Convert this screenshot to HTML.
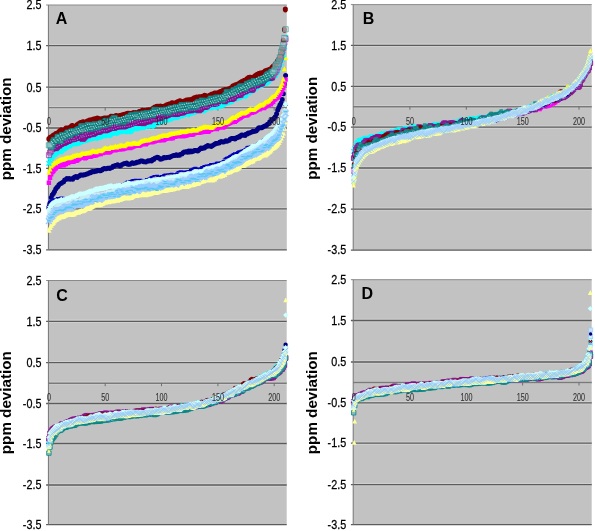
<!DOCTYPE html>
<html><head><meta charset="utf-8"><title>ppm deviation</title>
<style>
html,body{margin:0;padding:0;background:#fff}
body{width:595px;height:531px;overflow:hidden}
svg{display:block}
text{font-family:"Liberation Sans",sans-serif;fill:#000}
.yl{font-size:11.6px;stroke:#000;stroke-width:.25px}
.xl{font-size:10px;fill:#262626;stroke:#262626;stroke-width:.1px}
.pl{font-size:16px;font-weight:bold}
.yt{font-size:15.2px;font-weight:bold}
</style></head><body>
<svg width="595" height="531" viewBox="0 0 595 531">
<defs><filter id="gs" x="0" y="0" width="100%" height="100%" filterUnits="userSpaceOnUse" color-interpolation-filters="sRGB"><feColorMatrix type="saturate" values="0"/></filter><filter id="sb" x="0" y="0" width="100%" height="100%" filterUnits="userSpaceOnUse" color-interpolation-filters="sRGB"><feGaussianBlur stdDeviation="0.32"/></filter></defs>
<rect width="595" height="531" fill="#fff"/>
<g id="pA">
<rect x="48.4" y="5" width="238.4" height="244.8" fill="#c2c2c2"/>
<path d="M46.1 5H286.8" stroke="#8a8a8a" stroke-width="1"/>
<path d="M49.4 45.6H286.8M49.4 87.2H286.8M49.4 128H286.8M49.4 168.3H286.8M49.4 208.9H286.8" stroke="#cfcfcf" stroke-width="3.4"/>
<path d="M46.1 45.6H286.8M46.1 87.2H286.8M46.1 128H286.8M46.1 168.3H286.8M46.1 208.9H286.8M46.1 249.8H286.8" stroke="#5c5c5c" stroke-width="1.3"/>
<path d="M49.4 107.6H286.8" stroke="#cdcdcd" stroke-width="3.2"/>
<path d="M48.4 107.6H286.8" stroke="#7a7a7a" stroke-width="1.4"/>
<path d="M105.2 107.6v3M161.5 107.6v3M217.9 107.6v3M274.2 107.6v3" stroke="#666" stroke-width="0.9"/>
<path d="M48.4 5V249.8" stroke="#747474" stroke-width="1"/>
<g filter="url(#gs)"><text transform="translate(41.4 9.2) scale(.93 1.03)" text-anchor="end" class="yl">2.5</text>
<text transform="translate(41.4 49.9) scale(.93 1.03)" text-anchor="end" class="yl">1.5</text>
<text transform="translate(41.4 91.5) scale(.93 1.03)" text-anchor="end" class="yl">0.5</text>
<text transform="translate(41.4 132.2) scale(.93 1.03)" text-anchor="end" class="yl">-0.5</text>
<text transform="translate(41.4 172.6) scale(.93 1.03)" text-anchor="end" class="yl">-1.5</text>
<text transform="translate(41.4 213.2) scale(.93 1.03)" text-anchor="end" class="yl">-2.5</text>
<text transform="translate(41.4 254.1) scale(.93 1.03)" text-anchor="end" class="yl">-3.5</text>
<text x="55.7" y="23.9" class="pl">A</text>
<text transform="translate(11 128.9) rotate(-90)" text-anchor="middle" class="yt">ppm deviation</text></g>
<g filter="url(#sb)"><path fill="#000080" d="M46.4 207.1a2.5 2.5 0 1 0 5 0a2.5 2.5 0 1 0 -5 0zM47.5 203a2.5 2.5 0 1 0 5 0a2.5 2.5 0 1 0 -5 0zM48.7 197.6a2.5 2.5 0 1 0 5 0a2.5 2.5 0 1 0 -5 0zM49.8 194.7a2.5 2.5 0 1 0 5 0a2.5 2.5 0 1 0 -5 0zM50.9 193.6a2.5 2.5 0 1 0 5 0a2.5 2.5 0 1 0 -5 0zM52 191.6a2.5 2.5 0 1 0 5 0a2.5 2.5 0 1 0 -5 0zM53.2 188.9a2.5 2.5 0 1 0 5 0a2.5 2.5 0 1 0 -5 0zM54.3 187.4a2.5 2.5 0 1 0 5 0a2.5 2.5 0 1 0 -5 0zM55.4 186.5a2.5 2.5 0 1 0 5 0a2.5 2.5 0 1 0 -5 0zM56.5 184.8a2.5 2.5 0 1 0 5 0a2.5 2.5 0 1 0 -5 0zM57.7 183.8a2.5 2.5 0 1 0 5 0a2.5 2.5 0 1 0 -5 0zM58.8 183.3a2.5 2.5 0 1 0 5 0a2.5 2.5 0 1 0 -5 0zM59.9 182.5a2.5 2.5 0 1 0 5 0a2.5 2.5 0 1 0 -5 0zM61.1 181.7a2.5 2.5 0 1 0 5 0a2.5 2.5 0 1 0 -5 0zM62.2 180a2.5 2.5 0 1 0 5 0a2.5 2.5 0 1 0 -5 0zM63.3 179.6a2.5 2.5 0 1 0 5 0a2.5 2.5 0 1 0 -5 0zM64.4 178.6a2.5 2.5 0 1 0 5 0a2.5 2.5 0 1 0 -5 0zM65.6 179a2.5 2.5 0 1 0 5 0a2.5 2.5 0 1 0 -5 0zM66.7 178.6a2.5 2.5 0 1 0 5 0a2.5 2.5 0 1 0 -5 0zM67.8 179.3a2.5 2.5 0 1 0 5 0a2.5 2.5 0 1 0 -5 0zM68.9 179.1a2.5 2.5 0 1 0 5 0a2.5 2.5 0 1 0 -5 0zM70.1 179.3a2.5 2.5 0 1 0 5 0a2.5 2.5 0 1 0 -5 0zM71.2 177.7a2.5 2.5 0 1 0 5 0a2.5 2.5 0 1 0 -5 0zM72.3 177a2.5 2.5 0 1 0 5 0a2.5 2.5 0 1 0 -5 0zM73.4 176.6a2.5 2.5 0 1 0 5 0a2.5 2.5 0 1 0 -5 0zM74.6 177.4a2.5 2.5 0 1 0 5 0a2.5 2.5 0 1 0 -5 0zM75.7 176.6a2.5 2.5 0 1 0 5 0a2.5 2.5 0 1 0 -5 0zM76.8 175.9a2.5 2.5 0 1 0 5 0a2.5 2.5 0 1 0 -5 0zM78 175a2.5 2.5 0 1 0 5 0a2.5 2.5 0 1 0 -5 0zM79.1 174.9a2.5 2.5 0 1 0 5 0a2.5 2.5 0 1 0 -5 0zM80.2 175.2a2.5 2.5 0 1 0 5 0a2.5 2.5 0 1 0 -5 0zM81.3 174.8a2.5 2.5 0 1 0 5 0a2.5 2.5 0 1 0 -5 0zM82.5 174.7a2.5 2.5 0 1 0 5 0a2.5 2.5 0 1 0 -5 0zM83.6 174.2a2.5 2.5 0 1 0 5 0a2.5 2.5 0 1 0 -5 0zM84.7 173.9a2.5 2.5 0 1 0 5 0a2.5 2.5 0 1 0 -5 0zM85.8 173.5a2.5 2.5 0 1 0 5 0a2.5 2.5 0 1 0 -5 0zM87 172.7a2.5 2.5 0 1 0 5 0a2.5 2.5 0 1 0 -5 0zM88.1 172.7a2.5 2.5 0 1 0 5 0a2.5 2.5 0 1 0 -5 0zM89.2 171.8a2.5 2.5 0 1 0 5 0a2.5 2.5 0 1 0 -5 0zM90.4 171.4a2.5 2.5 0 1 0 5 0a2.5 2.5 0 1 0 -5 0zM91.5 171.7a2.5 2.5 0 1 0 5 0a2.5 2.5 0 1 0 -5 0zM92.6 171.2a2.5 2.5 0 1 0 5 0a2.5 2.5 0 1 0 -5 0zM93.7 171.3a2.5 2.5 0 1 0 5 0a2.5 2.5 0 1 0 -5 0zM94.9 170.4a2.5 2.5 0 1 0 5 0a2.5 2.5 0 1 0 -5 0zM96 170.5a2.5 2.5 0 1 0 5 0a2.5 2.5 0 1 0 -5 0zM97.1 170.7a2.5 2.5 0 1 0 5 0a2.5 2.5 0 1 0 -5 0zM98.2 170.7a2.5 2.5 0 1 0 5 0a2.5 2.5 0 1 0 -5 0zM99.4 170.1a2.5 2.5 0 1 0 5 0a2.5 2.5 0 1 0 -5 0zM100.5 169a2.5 2.5 0 1 0 5 0a2.5 2.5 0 1 0 -5 0zM101.6 168.6a2.5 2.5 0 1 0 5 0a2.5 2.5 0 1 0 -5 0zM102.8 168.8a2.5 2.5 0 1 0 5 0a2.5 2.5 0 1 0 -5 0zM103.9 168.8a2.5 2.5 0 1 0 5 0a2.5 2.5 0 1 0 -5 0zM105 168.2a2.5 2.5 0 1 0 5 0a2.5 2.5 0 1 0 -5 0zM106.1 168.3a2.5 2.5 0 1 0 5 0a2.5 2.5 0 1 0 -5 0zM107.3 168.4a2.5 2.5 0 1 0 5 0a2.5 2.5 0 1 0 -5 0zM108.4 167.8a2.5 2.5 0 1 0 5 0a2.5 2.5 0 1 0 -5 0zM109.5 167.4a2.5 2.5 0 1 0 5 0a2.5 2.5 0 1 0 -5 0zM110.6 166.2a2.5 2.5 0 1 0 5 0a2.5 2.5 0 1 0 -5 0zM111.8 166.3a2.5 2.5 0 1 0 5 0a2.5 2.5 0 1 0 -5 0zM112.9 165.5a2.5 2.5 0 1 0 5 0a2.5 2.5 0 1 0 -5 0zM114 165.2a2.5 2.5 0 1 0 5 0a2.5 2.5 0 1 0 -5 0zM115.1 164.8a2.5 2.5 0 1 0 5 0a2.5 2.5 0 1 0 -5 0zM116.3 165.5a2.5 2.5 0 1 0 5 0a2.5 2.5 0 1 0 -5 0zM117.4 166.1a2.5 2.5 0 1 0 5 0a2.5 2.5 0 1 0 -5 0zM118.5 165.4a2.5 2.5 0 1 0 5 0a2.5 2.5 0 1 0 -5 0zM119.7 164.4a2.5 2.5 0 1 0 5 0a2.5 2.5 0 1 0 -5 0zM120.8 163.9a2.5 2.5 0 1 0 5 0a2.5 2.5 0 1 0 -5 0zM121.9 163.5a2.5 2.5 0 1 0 5 0a2.5 2.5 0 1 0 -5 0zM123 163.4a2.5 2.5 0 1 0 5 0a2.5 2.5 0 1 0 -5 0zM124.2 162.9a2.5 2.5 0 1 0 5 0a2.5 2.5 0 1 0 -5 0zM125.3 164.2a2.5 2.5 0 1 0 5 0a2.5 2.5 0 1 0 -5 0zM126.4 164.6a2.5 2.5 0 1 0 5 0a2.5 2.5 0 1 0 -5 0zM127.5 164.3a2.5 2.5 0 1 0 5 0a2.5 2.5 0 1 0 -5 0zM128.7 163.4a2.5 2.5 0 1 0 5 0a2.5 2.5 0 1 0 -5 0zM129.8 162.8a2.5 2.5 0 1 0 5 0a2.5 2.5 0 1 0 -5 0zM130.9 163.5a2.5 2.5 0 1 0 5 0a2.5 2.5 0 1 0 -5 0zM132.1 163.2a2.5 2.5 0 1 0 5 0a2.5 2.5 0 1 0 -5 0zM133.2 163a2.5 2.5 0 1 0 5 0a2.5 2.5 0 1 0 -5 0zM134.3 162.3a2.5 2.5 0 1 0 5 0a2.5 2.5 0 1 0 -5 0zM135.4 162.3a2.5 2.5 0 1 0 5 0a2.5 2.5 0 1 0 -5 0zM136.6 162.1a2.5 2.5 0 1 0 5 0a2.5 2.5 0 1 0 -5 0zM137.7 161.3a2.5 2.5 0 1 0 5 0a2.5 2.5 0 1 0 -5 0zM138.8 161.1a2.5 2.5 0 1 0 5 0a2.5 2.5 0 1 0 -5 0zM139.9 160.9a2.5 2.5 0 1 0 5 0a2.5 2.5 0 1 0 -5 0zM141.1 161.7a2.5 2.5 0 1 0 5 0a2.5 2.5 0 1 0 -5 0zM142.2 161.8a2.5 2.5 0 1 0 5 0a2.5 2.5 0 1 0 -5 0zM143.3 161.9a2.5 2.5 0 1 0 5 0a2.5 2.5 0 1 0 -5 0zM144.4 161.4a2.5 2.5 0 1 0 5 0a2.5 2.5 0 1 0 -5 0zM145.6 160.8a2.5 2.5 0 1 0 5 0a2.5 2.5 0 1 0 -5 0zM146.7 161.1a2.5 2.5 0 1 0 5 0a2.5 2.5 0 1 0 -5 0zM147.8 160.6a2.5 2.5 0 1 0 5 0a2.5 2.5 0 1 0 -5 0zM149 160.9a2.5 2.5 0 1 0 5 0a2.5 2.5 0 1 0 -5 0zM150.1 159.6a2.5 2.5 0 1 0 5 0a2.5 2.5 0 1 0 -5 0zM151.2 159.6a2.5 2.5 0 1 0 5 0a2.5 2.5 0 1 0 -5 0zM152.3 158.3a2.5 2.5 0 1 0 5 0a2.5 2.5 0 1 0 -5 0zM153.5 157.8a2.5 2.5 0 1 0 5 0a2.5 2.5 0 1 0 -5 0zM154.6 157.3a2.5 2.5 0 1 0 5 0a2.5 2.5 0 1 0 -5 0zM155.7 157.5a2.5 2.5 0 1 0 5 0a2.5 2.5 0 1 0 -5 0zM156.8 158.3a2.5 2.5 0 1 0 5 0a2.5 2.5 0 1 0 -5 0zM158 159.3a2.5 2.5 0 1 0 5 0a2.5 2.5 0 1 0 -5 0zM159.1 159.1a2.5 2.5 0 1 0 5 0a2.5 2.5 0 1 0 -5 0zM160.2 158.6a2.5 2.5 0 1 0 5 0a2.5 2.5 0 1 0 -5 0zM161.4 157.4a2.5 2.5 0 1 0 5 0a2.5 2.5 0 1 0 -5 0zM162.5 157.8a2.5 2.5 0 1 0 5 0a2.5 2.5 0 1 0 -5 0zM163.6 157.8a2.5 2.5 0 1 0 5 0a2.5 2.5 0 1 0 -5 0zM164.7 157.4a2.5 2.5 0 1 0 5 0a2.5 2.5 0 1 0 -5 0zM165.9 157.3a2.5 2.5 0 1 0 5 0a2.5 2.5 0 1 0 -5 0zM167 157.4a2.5 2.5 0 1 0 5 0a2.5 2.5 0 1 0 -5 0zM168.1 156.8a2.5 2.5 0 1 0 5 0a2.5 2.5 0 1 0 -5 0zM169.2 156.2a2.5 2.5 0 1 0 5 0a2.5 2.5 0 1 0 -5 0zM170.4 155.7a2.5 2.5 0 1 0 5 0a2.5 2.5 0 1 0 -5 0zM171.5 155.5a2.5 2.5 0 1 0 5 0a2.5 2.5 0 1 0 -5 0zM172.6 155.4a2.5 2.5 0 1 0 5 0a2.5 2.5 0 1 0 -5 0zM173.8 154.8a2.5 2.5 0 1 0 5 0a2.5 2.5 0 1 0 -5 0zM174.9 155.4a2.5 2.5 0 1 0 5 0a2.5 2.5 0 1 0 -5 0zM176 155.1a2.5 2.5 0 1 0 5 0a2.5 2.5 0 1 0 -5 0zM177.1 155.3a2.5 2.5 0 1 0 5 0a2.5 2.5 0 1 0 -5 0zM178.3 154.3a2.5 2.5 0 1 0 5 0a2.5 2.5 0 1 0 -5 0zM179.4 153.9a2.5 2.5 0 1 0 5 0a2.5 2.5 0 1 0 -5 0zM180.5 152.7a2.5 2.5 0 1 0 5 0a2.5 2.5 0 1 0 -5 0zM181.6 152.1a2.5 2.5 0 1 0 5 0a2.5 2.5 0 1 0 -5 0zM182.8 152a2.5 2.5 0 1 0 5 0a2.5 2.5 0 1 0 -5 0zM183.9 151.7a2.5 2.5 0 1 0 5 0a2.5 2.5 0 1 0 -5 0zM185 152.3a2.5 2.5 0 1 0 5 0a2.5 2.5 0 1 0 -5 0zM186.1 151a2.5 2.5 0 1 0 5 0a2.5 2.5 0 1 0 -5 0zM187.3 152a2.5 2.5 0 1 0 5 0a2.5 2.5 0 1 0 -5 0zM188.4 150.9a2.5 2.5 0 1 0 5 0a2.5 2.5 0 1 0 -5 0zM189.5 151.8a2.5 2.5 0 1 0 5 0a2.5 2.5 0 1 0 -5 0zM190.7 151.2a2.5 2.5 0 1 0 5 0a2.5 2.5 0 1 0 -5 0zM191.8 150.5a2.5 2.5 0 1 0 5 0a2.5 2.5 0 1 0 -5 0zM192.9 150.4a2.5 2.5 0 1 0 5 0a2.5 2.5 0 1 0 -5 0zM194 150.7a2.5 2.5 0 1 0 5 0a2.5 2.5 0 1 0 -5 0zM195.2 151a2.5 2.5 0 1 0 5 0a2.5 2.5 0 1 0 -5 0zM196.3 150a2.5 2.5 0 1 0 5 0a2.5 2.5 0 1 0 -5 0zM197.4 148.9a2.5 2.5 0 1 0 5 0a2.5 2.5 0 1 0 -5 0zM198.5 148.1a2.5 2.5 0 1 0 5 0a2.5 2.5 0 1 0 -5 0zM199.7 148.4a2.5 2.5 0 1 0 5 0a2.5 2.5 0 1 0 -5 0zM200.8 147.9a2.5 2.5 0 1 0 5 0a2.5 2.5 0 1 0 -5 0zM201.9 148a2.5 2.5 0 1 0 5 0a2.5 2.5 0 1 0 -5 0zM203.1 146.8a2.5 2.5 0 1 0 5 0a2.5 2.5 0 1 0 -5 0zM204.2 146.4a2.5 2.5 0 1 0 5 0a2.5 2.5 0 1 0 -5 0zM205.3 145.5a2.5 2.5 0 1 0 5 0a2.5 2.5 0 1 0 -5 0zM206.4 146.1a2.5 2.5 0 1 0 5 0a2.5 2.5 0 1 0 -5 0zM207.6 145.9a2.5 2.5 0 1 0 5 0a2.5 2.5 0 1 0 -5 0zM208.7 146.6a2.5 2.5 0 1 0 5 0a2.5 2.5 0 1 0 -5 0zM209.8 145.7a2.5 2.5 0 1 0 5 0a2.5 2.5 0 1 0 -5 0zM210.9 145.1a2.5 2.5 0 1 0 5 0a2.5 2.5 0 1 0 -5 0zM212.1 144.2a2.5 2.5 0 1 0 5 0a2.5 2.5 0 1 0 -5 0zM213.2 143.6a2.5 2.5 0 1 0 5 0a2.5 2.5 0 1 0 -5 0zM214.3 143.5a2.5 2.5 0 1 0 5 0a2.5 2.5 0 1 0 -5 0zM215.5 143.2a2.5 2.5 0 1 0 5 0a2.5 2.5 0 1 0 -5 0zM216.6 143a2.5 2.5 0 1 0 5 0a2.5 2.5 0 1 0 -5 0zM217.7 142a2.5 2.5 0 1 0 5 0a2.5 2.5 0 1 0 -5 0zM218.8 141.5a2.5 2.5 0 1 0 5 0a2.5 2.5 0 1 0 -5 0zM220 142a2.5 2.5 0 1 0 5 0a2.5 2.5 0 1 0 -5 0zM221.1 142a2.5 2.5 0 1 0 5 0a2.5 2.5 0 1 0 -5 0zM222.2 141.6a2.5 2.5 0 1 0 5 0a2.5 2.5 0 1 0 -5 0zM223.3 140.7a2.5 2.5 0 1 0 5 0a2.5 2.5 0 1 0 -5 0zM224.5 141.3a2.5 2.5 0 1 0 5 0a2.5 2.5 0 1 0 -5 0zM225.6 140.8a2.5 2.5 0 1 0 5 0a2.5 2.5 0 1 0 -5 0zM226.7 140.2a2.5 2.5 0 1 0 5 0a2.5 2.5 0 1 0 -5 0zM227.8 138.9a2.5 2.5 0 1 0 5 0a2.5 2.5 0 1 0 -5 0zM229 138.4a2.5 2.5 0 1 0 5 0a2.5 2.5 0 1 0 -5 0zM230.1 138.5a2.5 2.5 0 1 0 5 0a2.5 2.5 0 1 0 -5 0zM231.2 138.4a2.5 2.5 0 1 0 5 0a2.5 2.5 0 1 0 -5 0zM232.4 138.9a2.5 2.5 0 1 0 5 0a2.5 2.5 0 1 0 -5 0zM233.5 137.9a2.5 2.5 0 1 0 5 0a2.5 2.5 0 1 0 -5 0zM234.6 137.7a2.5 2.5 0 1 0 5 0a2.5 2.5 0 1 0 -5 0zM235.7 137a2.5 2.5 0 1 0 5 0a2.5 2.5 0 1 0 -5 0zM236.9 136.9a2.5 2.5 0 1 0 5 0a2.5 2.5 0 1 0 -5 0zM238 135.8a2.5 2.5 0 1 0 5 0a2.5 2.5 0 1 0 -5 0zM239.1 135.1a2.5 2.5 0 1 0 5 0a2.5 2.5 0 1 0 -5 0zM240.2 135.3a2.5 2.5 0 1 0 5 0a2.5 2.5 0 1 0 -5 0zM241.4 135.2a2.5 2.5 0 1 0 5 0a2.5 2.5 0 1 0 -5 0zM242.5 135.4a2.5 2.5 0 1 0 5 0a2.5 2.5 0 1 0 -5 0zM243.6 134.3a2.5 2.5 0 1 0 5 0a2.5 2.5 0 1 0 -5 0zM244.8 133.9a2.5 2.5 0 1 0 5 0a2.5 2.5 0 1 0 -5 0zM245.9 133.1a2.5 2.5 0 1 0 5 0a2.5 2.5 0 1 0 -5 0zM247 132.9a2.5 2.5 0 1 0 5 0a2.5 2.5 0 1 0 -5 0zM248.1 132.5a2.5 2.5 0 1 0 5 0a2.5 2.5 0 1 0 -5 0zM249.3 132.1a2.5 2.5 0 1 0 5 0a2.5 2.5 0 1 0 -5 0zM250.4 131.3a2.5 2.5 0 1 0 5 0a2.5 2.5 0 1 0 -5 0zM251.5 131.5a2.5 2.5 0 1 0 5 0a2.5 2.5 0 1 0 -5 0zM252.6 131.3a2.5 2.5 0 1 0 5 0a2.5 2.5 0 1 0 -5 0zM253.8 131a2.5 2.5 0 1 0 5 0a2.5 2.5 0 1 0 -5 0zM254.9 129.6a2.5 2.5 0 1 0 5 0a2.5 2.5 0 1 0 -5 0zM256 128.1a2.5 2.5 0 1 0 5 0a2.5 2.5 0 1 0 -5 0zM257.1 127.7a2.5 2.5 0 1 0 5 0a2.5 2.5 0 1 0 -5 0zM258.3 127.8a2.5 2.5 0 1 0 5 0a2.5 2.5 0 1 0 -5 0zM259.4 127.8a2.5 2.5 0 1 0 5 0a2.5 2.5 0 1 0 -5 0zM260.5 127a2.5 2.5 0 1 0 5 0a2.5 2.5 0 1 0 -5 0zM261.7 126.3a2.5 2.5 0 1 0 5 0a2.5 2.5 0 1 0 -5 0zM262.8 126.1a2.5 2.5 0 1 0 5 0a2.5 2.5 0 1 0 -5 0zM263.9 125.6a2.5 2.5 0 1 0 5 0a2.5 2.5 0 1 0 -5 0zM265 124.2a2.5 2.5 0 1 0 5 0a2.5 2.5 0 1 0 -5 0zM266.2 123.7a2.5 2.5 0 1 0 5 0a2.5 2.5 0 1 0 -5 0zM267.3 121.8a2.5 2.5 0 1 0 5 0a2.5 2.5 0 1 0 -5 0zM268.4 121.3a2.5 2.5 0 1 0 5 0a2.5 2.5 0 1 0 -5 0zM269.5 119.6a2.5 2.5 0 1 0 5 0a2.5 2.5 0 1 0 -5 0zM270.7 119.1a2.5 2.5 0 1 0 5 0a2.5 2.5 0 1 0 -5 0zM271.8 117.9a2.5 2.5 0 1 0 5 0a2.5 2.5 0 1 0 -5 0zM272.9 116.6a2.5 2.5 0 1 0 5 0a2.5 2.5 0 1 0 -5 0zM274.1 113.7a2.5 2.5 0 1 0 5 0a2.5 2.5 0 1 0 -5 0zM275.2 109.9a2.5 2.5 0 1 0 5 0a2.5 2.5 0 1 0 -5 0zM276.3 107.4a2.5 2.5 0 1 0 5 0a2.5 2.5 0 1 0 -5 0zM277.4 105a2.5 2.5 0 1 0 5 0a2.5 2.5 0 1 0 -5 0zM278.6 103a2.5 2.5 0 1 0 5 0a2.5 2.5 0 1 0 -5 0zM279.7 99.5a2.5 2.5 0 1 0 5 0a2.5 2.5 0 1 0 -5 0zM280.8 93.7a2.5 2.5 0 1 0 5 0a2.5 2.5 0 1 0 -5 0zM281.9 84.1a2.5 2.5 0 1 0 5 0a2.5 2.5 0 1 0 -5 0zM283.1 75.5a2.5 2.5 0 1 0 5 0a2.5 2.5 0 1 0 -5 0z"/>
<path fill="#ff00ff" d="M46.7 180.5h4.4v4.4h-4.4zM47.8 175.6h4.4v4.4h-4.4zM49 172h4.4v4.4h-4.4zM50.1 169.8h4.4v4.4h-4.4zM51.2 168.9h4.4v4.4h-4.4zM52.3 167.2h4.4v4.4h-4.4zM53.5 166.1h4.4v4.4h-4.4zM54.6 164.8h4.4v4.4h-4.4zM55.7 164.1h4.4v4.4h-4.4zM56.8 163.8h4.4v4.4h-4.4zM58 163.3h4.4v4.4h-4.4zM59.1 163.1h4.4v4.4h-4.4zM60.2 162.7h4.4v4.4h-4.4zM61.4 163.1h4.4v4.4h-4.4zM62.5 162.1h4.4v4.4h-4.4zM63.6 161.9h4.4v4.4h-4.4zM64.7 160.9h4.4v4.4h-4.4zM65.9 160.9h4.4v4.4h-4.4zM67 159.9h4.4v4.4h-4.4zM68.1 159.5h4.4v4.4h-4.4zM69.2 159.4h4.4v4.4h-4.4zM70.4 159.5h4.4v4.4h-4.4zM71.5 159.3h4.4v4.4h-4.4zM72.6 158.7h4.4v4.4h-4.4zM73.7 158.7h4.4v4.4h-4.4zM74.9 158.3h4.4v4.4h-4.4zM76 157.4h4.4v4.4h-4.4zM77.1 156.5h4.4v4.4h-4.4zM78.3 155.6h4.4v4.4h-4.4zM79.4 154.9h4.4v4.4h-4.4zM80.5 154.7h4.4v4.4h-4.4zM81.6 155.3h4.4v4.4h-4.4zM82.8 156h4.4v4.4h-4.4zM83.9 155.5h4.4v4.4h-4.4zM85 154.5h4.4v4.4h-4.4zM86.1 154.5h4.4v4.4h-4.4zM87.3 154.6h4.4v4.4h-4.4zM88.4 154.6h4.4v4.4h-4.4zM89.5 153.9h4.4v4.4h-4.4zM90.7 153.6h4.4v4.4h-4.4zM91.8 153.5h4.4v4.4h-4.4zM92.9 153.4h4.4v4.4h-4.4zM94 153.1h4.4v4.4h-4.4zM95.2 152.3h4.4v4.4h-4.4zM96.3 152h4.4v4.4h-4.4zM97.4 151.4h4.4v4.4h-4.4zM98.5 151.8h4.4v4.4h-4.4zM99.7 150.9h4.4v4.4h-4.4zM100.8 150.8h4.4v4.4h-4.4zM101.9 150.2h4.4v4.4h-4.4zM103 149.9h4.4v4.4h-4.4zM104.2 150.2h4.4v4.4h-4.4zM105.3 150.4h4.4v4.4h-4.4zM106.4 150.4h4.4v4.4h-4.4zM107.6 149.8h4.4v4.4h-4.4zM108.7 149.2h4.4v4.4h-4.4zM109.8 148.3h4.4v4.4h-4.4zM110.9 147.9h4.4v4.4h-4.4zM112.1 147.5h4.4v4.4h-4.4zM113.2 148.1h4.4v4.4h-4.4zM114.3 147.5h4.4v4.4h-4.4zM115.4 147.1h4.4v4.4h-4.4zM116.6 146.8h4.4v4.4h-4.4zM117.7 147.3h4.4v4.4h-4.4zM118.8 147.2h4.4v4.4h-4.4zM120 147h4.4v4.4h-4.4zM121.1 146.9h4.4v4.4h-4.4zM122.2 146.4h4.4v4.4h-4.4zM123.3 146h4.4v4.4h-4.4zM124.5 144.8h4.4v4.4h-4.4zM125.6 145.2h4.4v4.4h-4.4zM126.7 145.3h4.4v4.4h-4.4zM127.8 145.9h4.4v4.4h-4.4zM129 145.4h4.4v4.4h-4.4zM130.1 144.9h4.4v4.4h-4.4zM131.2 144.4h4.4v4.4h-4.4zM132.4 143.9h4.4v4.4h-4.4zM133.5 143.6h4.4v4.4h-4.4zM134.6 143.3h4.4v4.4h-4.4zM135.7 143.5h4.4v4.4h-4.4zM136.9 143.5h4.4v4.4h-4.4zM138 143.2h4.4v4.4h-4.4zM139.1 142.3h4.4v4.4h-4.4zM140.2 141.7h4.4v4.4h-4.4zM141.4 142h4.4v4.4h-4.4zM142.5 142h4.4v4.4h-4.4zM143.6 142h4.4v4.4h-4.4zM144.7 141.2h4.4v4.4h-4.4zM145.9 140.4h4.4v4.4h-4.4zM147 140.1h4.4v4.4h-4.4zM148.1 140.2h4.4v4.4h-4.4zM149.3 140.2h4.4v4.4h-4.4zM150.4 139.9h4.4v4.4h-4.4zM151.5 139.3h4.4v4.4h-4.4zM152.6 139.2h4.4v4.4h-4.4zM153.8 138.6h4.4v4.4h-4.4zM154.9 138.3h4.4v4.4h-4.4zM156 137.8h4.4v4.4h-4.4zM157.1 138.3h4.4v4.4h-4.4zM158.3 137.8h4.4v4.4h-4.4zM159.4 138h4.4v4.4h-4.4zM160.5 138h4.4v4.4h-4.4zM161.7 137.8h4.4v4.4h-4.4zM162.8 137.2h4.4v4.4h-4.4zM163.9 136.6h4.4v4.4h-4.4zM165 136.4h4.4v4.4h-4.4zM166.2 136.1h4.4v4.4h-4.4zM167.3 135.9h4.4v4.4h-4.4zM168.4 136.3h4.4v4.4h-4.4zM169.5 136.2h4.4v4.4h-4.4zM170.7 135.8h4.4v4.4h-4.4zM171.8 134.6h4.4v4.4h-4.4zM172.9 134.6h4.4v4.4h-4.4zM174.1 134h4.4v4.4h-4.4zM175.2 133.8h4.4v4.4h-4.4zM176.3 133.8h4.4v4.4h-4.4zM177.4 133.7h4.4v4.4h-4.4zM178.6 134.2h4.4v4.4h-4.4zM179.7 134h4.4v4.4h-4.4zM180.8 134.2h4.4v4.4h-4.4zM181.9 133.8h4.4v4.4h-4.4zM183.1 133.7h4.4v4.4h-4.4zM184.2 133.4h4.4v4.4h-4.4zM185.3 132.8h4.4v4.4h-4.4zM186.4 131.7h4.4v4.4h-4.4zM187.6 131.5h4.4v4.4h-4.4zM188.7 132h4.4v4.4h-4.4zM189.8 132.5h4.4v4.4h-4.4zM191 132h4.4v4.4h-4.4zM192.1 131.1h4.4v4.4h-4.4zM193.2 130.4h4.4v4.4h-4.4zM194.3 130.6h4.4v4.4h-4.4zM195.5 130.6h4.4v4.4h-4.4zM196.6 130.6h4.4v4.4h-4.4zM197.7 130.4h4.4v4.4h-4.4zM198.8 130.2h4.4v4.4h-4.4zM200 129.9h4.4v4.4h-4.4zM201.1 129.6h4.4v4.4h-4.4zM202.2 129.5h4.4v4.4h-4.4zM203.4 129.4h4.4v4.4h-4.4zM204.5 129.7h4.4v4.4h-4.4zM205.6 129.6h4.4v4.4h-4.4zM206.7 129.2h4.4v4.4h-4.4zM207.9 127.9h4.4v4.4h-4.4zM209 127.6h4.4v4.4h-4.4zM210.1 126.7h4.4v4.4h-4.4zM211.2 126.5h4.4v4.4h-4.4zM212.4 126.4h4.4v4.4h-4.4zM213.5 126.9h4.4v4.4h-4.4zM214.6 126.9h4.4v4.4h-4.4zM215.8 125.9h4.4v4.4h-4.4zM216.9 125.2h4.4v4.4h-4.4zM218 124.7h4.4v4.4h-4.4zM219.1 125h4.4v4.4h-4.4zM220.3 125.4h4.4v4.4h-4.4zM221.4 125.2h4.4v4.4h-4.4zM222.5 124.2h4.4v4.4h-4.4zM223.6 122.7h4.4v4.4h-4.4zM224.8 122.1h4.4v4.4h-4.4zM225.9 121.7h4.4v4.4h-4.4zM227 121.1h4.4v4.4h-4.4zM228.1 120.6h4.4v4.4h-4.4zM229.3 119.7h4.4v4.4h-4.4zM230.4 119.8h4.4v4.4h-4.4zM231.5 119.5h4.4v4.4h-4.4zM232.7 119.5h4.4v4.4h-4.4zM233.8 118.5h4.4v4.4h-4.4zM234.9 117.7h4.4v4.4h-4.4zM236 116.8h4.4v4.4h-4.4zM237.2 116.2h4.4v4.4h-4.4zM238.3 115.5h4.4v4.4h-4.4zM239.4 114.6h4.4v4.4h-4.4zM240.5 113.8h4.4v4.4h-4.4zM241.7 113.6h4.4v4.4h-4.4zM242.8 113.4h4.4v4.4h-4.4zM243.9 113.4h4.4v4.4h-4.4zM245.1 113h4.4v4.4h-4.4zM246.2 112h4.4v4.4h-4.4zM247.3 111.2h4.4v4.4h-4.4zM248.4 110.5h4.4v4.4h-4.4zM249.6 110.6h4.4v4.4h-4.4zM250.7 110.2h4.4v4.4h-4.4zM251.8 109.9h4.4v4.4h-4.4zM252.9 109.4h4.4v4.4h-4.4zM254.1 108.6h4.4v4.4h-4.4zM255.2 107.5h4.4v4.4h-4.4zM256.3 107.1h4.4v4.4h-4.4zM257.4 107.1h4.4v4.4h-4.4zM258.6 106.2h4.4v4.4h-4.4zM259.7 105.9h4.4v4.4h-4.4zM260.8 105.4h4.4v4.4h-4.4zM262 105.8h4.4v4.4h-4.4zM263.1 104.7h4.4v4.4h-4.4zM264.2 103.9h4.4v4.4h-4.4zM265.3 102.5h4.4v4.4h-4.4zM266.5 102.7h4.4v4.4h-4.4zM267.6 102.1h4.4v4.4h-4.4zM268.7 102.1h4.4v4.4h-4.4zM269.8 100.3h4.4v4.4h-4.4zM271 99.6h4.4v4.4h-4.4zM272.1 97.7h4.4v4.4h-4.4zM273.2 96.8h4.4v4.4h-4.4zM274.4 95.9h4.4v4.4h-4.4zM275.5 94.8h4.4v4.4h-4.4zM276.6 93.9h4.4v4.4h-4.4zM277.7 92.2h4.4v4.4h-4.4zM278.9 90.6h4.4v4.4h-4.4zM280 88.2h4.4v4.4h-4.4zM281.1 85.5h4.4v4.4h-4.4zM282.2 82h4.4v4.4h-4.4zM283.4 77.4h4.4v4.4h-4.4z"/>
<path fill="#ffff00" d="M48.9 169.7l2.5 5h-5zM50 166.4l2.5 5h-5zM51.2 163.6l2.5 5h-5zM52.3 162.2l2.5 5h-5zM53.4 161.3l2.5 5h-5zM54.5 160.3l2.5 5h-5zM55.7 160.2l2.5 5h-5zM56.8 158.9l2.5 5h-5zM57.9 158.6l2.5 5h-5zM59 157.5l2.5 5h-5zM60.2 157.1l2.5 5h-5zM61.3 156.7l2.5 5h-5zM62.4 156.4l2.5 5h-5zM63.6 156.5l2.5 5h-5zM64.7 156l2.5 5h-5zM65.8 155.4l2.5 5h-5zM66.9 154.9l2.5 5h-5zM68.1 154.7l2.5 5h-5zM69.2 155.2l2.5 5h-5zM70.3 154.7l2.5 5h-5zM71.4 154.4l2.5 5h-5zM72.6 153.4l2.5 5h-5zM73.7 153.6l2.5 5h-5zM74.8 153l2.5 5h-5zM75.9 152.7l2.5 5h-5zM77.1 152.3l2.5 5h-5zM78.2 152.7l2.5 5h-5zM79.3 152.5l2.5 5h-5zM80.5 151.9l2.5 5h-5zM81.6 151l2.5 5h-5zM82.7 150.9l2.5 5h-5zM83.8 151.1l2.5 5h-5zM85 150.8l2.5 5h-5zM86.1 150.6l2.5 5h-5zM87.2 150.4l2.5 5h-5zM88.3 150.2l2.5 5h-5zM89.5 150.3l2.5 5h-5zM90.6 149.5l2.5 5h-5zM91.7 149.1l2.5 5h-5zM92.9 148.1l2.5 5h-5zM94 148.8l2.5 5h-5zM95.1 148.8l2.5 5h-5zM96.2 149.2l2.5 5h-5zM97.4 148.3l2.5 5h-5zM98.5 148.2l2.5 5h-5zM99.6 147.9l2.5 5h-5zM100.7 148.2l2.5 5h-5zM101.9 147.6l2.5 5h-5zM103 146.8l2.5 5h-5zM104.1 145.7l2.5 5h-5zM105.2 145.3l2.5 5h-5zM106.4 145.8l2.5 5h-5zM107.5 146.1l2.5 5h-5zM108.6 146l2.5 5h-5zM109.8 145.1l2.5 5h-5zM110.9 144.5l2.5 5h-5zM112 145l2.5 5h-5zM113.1 144.4l2.5 5h-5zM114.3 144.4l2.5 5h-5zM115.4 143.4l2.5 5h-5zM116.5 144.4l2.5 5h-5zM117.6 143.7l2.5 5h-5zM118.8 143.7l2.5 5h-5zM119.9 142.7l2.5 5h-5zM121 142.5l2.5 5h-5zM122.2 142.8l2.5 5h-5zM123.3 143.3l2.5 5h-5zM124.4 143.3l2.5 5h-5zM125.5 142.3l2.5 5h-5zM126.7 141.3l2.5 5h-5zM127.8 141l2.5 5h-5zM128.9 141.1l2.5 5h-5zM130 141.4l2.5 5h-5zM131.2 141.2l2.5 5h-5zM132.3 140.7l2.5 5h-5zM133.4 140.4l2.5 5h-5zM134.6 140.2l2.5 5h-5zM135.7 140.7l2.5 5h-5zM136.8 141l2.5 5h-5zM137.9 140.8l2.5 5h-5zM139.1 139.9l2.5 5h-5zM140.2 139l2.5 5h-5zM141.3 138.6l2.5 5h-5zM142.4 138.3l2.5 5h-5zM143.6 138l2.5 5h-5zM144.7 137.6l2.5 5h-5zM145.8 137.8l2.5 5h-5zM146.9 137.5l2.5 5h-5zM148.1 137.6l2.5 5h-5zM149.2 137.1l2.5 5h-5zM150.3 136.6l2.5 5h-5zM151.5 136l2.5 5h-5zM152.6 135.7l2.5 5h-5zM153.7 135.4l2.5 5h-5zM154.8 135.5l2.5 5h-5zM156 135.3l2.5 5h-5zM157.1 134.8l2.5 5h-5zM158.2 134.4l2.5 5h-5zM159.3 133.7l2.5 5h-5zM160.5 133.7l2.5 5h-5zM161.6 133.3l2.5 5h-5zM162.7 132.8l2.5 5h-5zM163.9 132.7l2.5 5h-5zM165 132.6l2.5 5h-5zM166.1 132.9l2.5 5h-5zM167.2 132.5l2.5 5h-5zM168.4 132l2.5 5h-5zM169.5 131.5l2.5 5h-5zM170.6 131.3l2.5 5h-5zM171.7 131l2.5 5h-5zM172.9 131l2.5 5h-5zM174 130.5l2.5 5h-5zM175.1 130.5l2.5 5h-5zM176.3 130.3l2.5 5h-5zM177.4 130.3l2.5 5h-5zM178.5 129.9l2.5 5h-5zM179.6 129.8l2.5 5h-5zM180.8 129.1l2.5 5h-5zM181.9 129.2l2.5 5h-5zM183 128.8l2.5 5h-5zM184.1 129.2l2.5 5h-5zM185.3 129l2.5 5h-5zM186.4 128.5l2.5 5h-5zM187.5 128.1l2.5 5h-5zM188.6 128l2.5 5h-5zM189.8 128.2l2.5 5h-5zM190.9 128.1l2.5 5h-5zM192 127.2l2.5 5h-5zM193.2 127.1l2.5 5h-5zM194.3 127.2l2.5 5h-5zM195.4 127.8l2.5 5h-5zM196.5 127.5l2.5 5h-5zM197.7 126.4l2.5 5h-5zM198.8 126.2l2.5 5h-5zM199.9 125.9l2.5 5h-5zM201 125.3l2.5 5h-5zM202.2 125l2.5 5h-5zM203.3 124.3l2.5 5h-5zM204.4 124.5l2.5 5h-5zM205.6 123.9l2.5 5h-5zM206.7 124.6l2.5 5h-5zM207.8 124.6l2.5 5h-5zM208.9 124.6l2.5 5h-5zM210.1 124.5l2.5 5h-5zM211.2 124.9l2.5 5h-5zM212.3 124.5l2.5 5h-5zM213.4 123.6l2.5 5h-5zM214.6 122.4l2.5 5h-5zM215.7 121.9l2.5 5h-5zM216.8 121.8l2.5 5h-5zM218 122l2.5 5h-5zM219.1 122l2.5 5h-5zM220.2 121.8l2.5 5h-5zM221.3 121l2.5 5h-5zM222.5 120.6l2.5 5h-5zM223.6 120l2.5 5h-5zM224.7 120l2.5 5h-5zM225.8 119.8l2.5 5h-5zM227 119.2l2.5 5h-5zM228.1 118.4l2.5 5h-5zM229.2 117.6l2.5 5h-5zM230.3 116.6l2.5 5h-5zM231.5 115.6l2.5 5h-5zM232.6 115.1l2.5 5h-5zM233.7 114.8l2.5 5h-5zM234.9 114.9l2.5 5h-5zM236 113.6l2.5 5h-5zM237.1 112.9l2.5 5h-5zM238.2 112.1l2.5 5h-5zM239.4 111.8l2.5 5h-5zM240.5 110.7l2.5 5h-5zM241.6 110.2l2.5 5h-5zM242.7 110.2l2.5 5h-5zM243.9 110.5l2.5 5h-5zM245 109.9l2.5 5h-5zM246.1 109.2l2.5 5h-5zM247.3 108.8l2.5 5h-5zM248.4 107.6l2.5 5h-5zM249.5 107l2.5 5h-5zM250.6 106.4l2.5 5h-5zM251.8 107l2.5 5h-5zM252.9 107l2.5 5h-5zM254 106.7l2.5 5h-5zM255.1 106l2.5 5h-5zM256.3 105l2.5 5h-5zM257.4 104.3l2.5 5h-5zM258.5 103.5l2.5 5h-5zM259.6 102.8l2.5 5h-5zM260.8 102.2l2.5 5h-5zM261.9 102.4l2.5 5h-5zM263 101.7l2.5 5h-5zM264.2 100.8l2.5 5h-5zM265.3 99.6l2.5 5h-5zM266.4 99.4l2.5 5h-5zM267.5 98.7l2.5 5h-5zM268.7 98.3l2.5 5h-5zM269.8 96.7l2.5 5h-5zM270.9 95.7l2.5 5h-5zM272 94.3l2.5 5h-5zM273.2 94l2.5 5h-5zM274.3 93.4l2.5 5h-5zM275.4 91.9l2.5 5h-5zM276.6 90.2l2.5 5h-5zM277.7 88.6l2.5 5h-5zM278.8 87.2l2.5 5h-5zM279.9 85l2.5 5h-5zM281.1 82.9l2.5 5h-5zM282.2 80.6l2.5 5h-5zM283.3 76.6l2.5 5h-5zM284.4 66.2l2.5 5h-5zM285.6 55.2l2.5 5h-5z"/>
<path fill="none" stroke="#00ffff" stroke-width="1.6" d="M46.5 161l4.8 4.8m0 -4.8l-4.8 4.8M47.6 158l4.8 4.8m0 -4.8l-4.8 4.8M48.8 155.8l4.8 4.8m0 -4.8l-4.8 4.8M49.9 154.1l4.8 4.8m0 -4.8l-4.8 4.8M51 152.5l4.8 4.8m0 -4.8l-4.8 4.8M52.1 151.9l4.8 4.8m0 -4.8l-4.8 4.8M53.3 150.7l4.8 4.8m0 -4.8l-4.8 4.8M54.4 149.7l4.8 4.8m0 -4.8l-4.8 4.8M55.5 149l4.8 4.8m0 -4.8l-4.8 4.8M56.6 149.1l4.8 4.8m0 -4.8l-4.8 4.8M57.8 149.3l4.8 4.8m0 -4.8l-4.8 4.8M58.9 148.2l4.8 4.8m0 -4.8l-4.8 4.8M60 147l4.8 4.8m0 -4.8l-4.8 4.8M61.2 146.3l4.8 4.8m0 -4.8l-4.8 4.8M62.3 145.7l4.8 4.8m0 -4.8l-4.8 4.8M63.4 144.8l4.8 4.8m0 -4.8l-4.8 4.8M64.5 143.9l4.8 4.8m0 -4.8l-4.8 4.8M65.7 143.7l4.8 4.8m0 -4.8l-4.8 4.8M66.8 143.3l4.8 4.8m0 -4.8l-4.8 4.8M67.9 142.3l4.8 4.8m0 -4.8l-4.8 4.8M69 141.3l4.8 4.8m0 -4.8l-4.8 4.8M70.2 141.4l4.8 4.8m0 -4.8l-4.8 4.8M71.3 141.3l4.8 4.8m0 -4.8l-4.8 4.8M72.4 141.3l4.8 4.8m0 -4.8l-4.8 4.8M73.5 140.8l4.8 4.8m0 -4.8l-4.8 4.8M74.7 140.8l4.8 4.8m0 -4.8l-4.8 4.8M75.8 140.3l4.8 4.8m0 -4.8l-4.8 4.8M76.9 140l4.8 4.8m0 -4.8l-4.8 4.8M78.1 139.2l4.8 4.8m0 -4.8l-4.8 4.8M79.2 138.8l4.8 4.8m0 -4.8l-4.8 4.8M80.3 137.9l4.8 4.8m0 -4.8l-4.8 4.8M81.4 138.2l4.8 4.8m0 -4.8l-4.8 4.8M82.6 137.9l4.8 4.8m0 -4.8l-4.8 4.8M83.7 137.7l4.8 4.8m0 -4.8l-4.8 4.8M84.8 136.8l4.8 4.8m0 -4.8l-4.8 4.8M85.9 136.4l4.8 4.8m0 -4.8l-4.8 4.8M87.1 136.5l4.8 4.8m0 -4.8l-4.8 4.8M88.2 135.8l4.8 4.8m0 -4.8l-4.8 4.8M89.3 135.2l4.8 4.8m0 -4.8l-4.8 4.8M90.5 134.5l4.8 4.8m0 -4.8l-4.8 4.8M91.6 135.5l4.8 4.8m0 -4.8l-4.8 4.8M92.7 135.8l4.8 4.8m0 -4.8l-4.8 4.8M93.8 135.6l4.8 4.8m0 -4.8l-4.8 4.8M95 134.7l4.8 4.8m0 -4.8l-4.8 4.8M96.1 134.8l4.8 4.8m0 -4.8l-4.8 4.8M97.2 134.4l4.8 4.8m0 -4.8l-4.8 4.8M98.3 133.8l4.8 4.8m0 -4.8l-4.8 4.8M99.5 133.2l4.8 4.8m0 -4.8l-4.8 4.8M100.6 133.2l4.8 4.8m0 -4.8l-4.8 4.8M101.7 133.3l4.8 4.8m0 -4.8l-4.8 4.8M102.8 132.5l4.8 4.8m0 -4.8l-4.8 4.8M104 132.7l4.8 4.8m0 -4.8l-4.8 4.8M105.1 132.8l4.8 4.8m0 -4.8l-4.8 4.8M106.2 132.9l4.8 4.8m0 -4.8l-4.8 4.8M107.4 132.3l4.8 4.8m0 -4.8l-4.8 4.8M108.5 130.9l4.8 4.8m0 -4.8l-4.8 4.8M109.6 130.7l4.8 4.8m0 -4.8l-4.8 4.8M110.7 130.2l4.8 4.8m0 -4.8l-4.8 4.8M111.9 130.8l4.8 4.8m0 -4.8l-4.8 4.8M113 130.6l4.8 4.8m0 -4.8l-4.8 4.8M114.1 130.4l4.8 4.8m0 -4.8l-4.8 4.8M115.2 129.5l4.8 4.8m0 -4.8l-4.8 4.8M116.4 129.3l4.8 4.8m0 -4.8l-4.8 4.8M117.5 129l4.8 4.8m0 -4.8l-4.8 4.8M118.6 129.2l4.8 4.8m0 -4.8l-4.8 4.8M119.8 128.7l4.8 4.8m0 -4.8l-4.8 4.8M120.9 128.7l4.8 4.8m0 -4.8l-4.8 4.8M122 127.9l4.8 4.8m0 -4.8l-4.8 4.8M123.1 128.3l4.8 4.8m0 -4.8l-4.8 4.8M124.3 128.3l4.8 4.8m0 -4.8l-4.8 4.8M125.4 129.2l4.8 4.8m0 -4.8l-4.8 4.8M126.5 129.2l4.8 4.8m0 -4.8l-4.8 4.8M127.6 128.9l4.8 4.8m0 -4.8l-4.8 4.8M128.8 127.8l4.8 4.8m0 -4.8l-4.8 4.8M129.9 126.6l4.8 4.8m0 -4.8l-4.8 4.8M131 126l4.8 4.8m0 -4.8l-4.8 4.8M132.2 126.1l4.8 4.8m0 -4.8l-4.8 4.8M133.3 126.2l4.8 4.8m0 -4.8l-4.8 4.8M134.4 125.7l4.8 4.8m0 -4.8l-4.8 4.8M135.5 125.6l4.8 4.8m0 -4.8l-4.8 4.8M136.7 124.8l4.8 4.8m0 -4.8l-4.8 4.8M137.8 125.3l4.8 4.8m0 -4.8l-4.8 4.8M138.9 124.8l4.8 4.8m0 -4.8l-4.8 4.8M140 124.9l4.8 4.8m0 -4.8l-4.8 4.8M141.2 124.4l4.8 4.8m0 -4.8l-4.8 4.8M142.3 124l4.8 4.8m0 -4.8l-4.8 4.8M143.4 123.5l4.8 4.8m0 -4.8l-4.8 4.8M144.5 122.7l4.8 4.8m0 -4.8l-4.8 4.8M145.7 122.5l4.8 4.8m0 -4.8l-4.8 4.8M146.8 122.9l4.8 4.8m0 -4.8l-4.8 4.8M147.9 123.7l4.8 4.8m0 -4.8l-4.8 4.8M149.1 123.8l4.8 4.8m0 -4.8l-4.8 4.8M150.2 123l4.8 4.8m0 -4.8l-4.8 4.8M151.3 121.8l4.8 4.8m0 -4.8l-4.8 4.8M152.4 121.5l4.8 4.8m0 -4.8l-4.8 4.8M153.6 120.9l4.8 4.8m0 -4.8l-4.8 4.8M154.7 120.7l4.8 4.8m0 -4.8l-4.8 4.8M155.8 119.7l4.8 4.8m0 -4.8l-4.8 4.8M156.9 119.4l4.8 4.8m0 -4.8l-4.8 4.8M158.1 118.9l4.8 4.8m0 -4.8l-4.8 4.8M159.2 118.6l4.8 4.8m0 -4.8l-4.8 4.8M160.3 117.8l4.8 4.8m0 -4.8l-4.8 4.8M161.5 117.5l4.8 4.8m0 -4.8l-4.8 4.8M162.6 117.9l4.8 4.8m0 -4.8l-4.8 4.8M163.7 117.8l4.8 4.8m0 -4.8l-4.8 4.8M164.8 117.5l4.8 4.8m0 -4.8l-4.8 4.8M166 116.6l4.8 4.8m0 -4.8l-4.8 4.8M167.1 116.5l4.8 4.8m0 -4.8l-4.8 4.8M168.2 115.9l4.8 4.8m0 -4.8l-4.8 4.8M169.3 115.3l4.8 4.8m0 -4.8l-4.8 4.8M170.5 115l4.8 4.8m0 -4.8l-4.8 4.8M171.6 115.1l4.8 4.8m0 -4.8l-4.8 4.8M172.7 114.9l4.8 4.8m0 -4.8l-4.8 4.8M173.9 114.8l4.8 4.8m0 -4.8l-4.8 4.8M175 114.2l4.8 4.8m0 -4.8l-4.8 4.8M176.1 113.9l4.8 4.8m0 -4.8l-4.8 4.8M177.2 112.9l4.8 4.8m0 -4.8l-4.8 4.8M178.4 113.3l4.8 4.8m0 -4.8l-4.8 4.8M179.5 112.4l4.8 4.8m0 -4.8l-4.8 4.8M180.6 112l4.8 4.8m0 -4.8l-4.8 4.8M181.7 111.1l4.8 4.8m0 -4.8l-4.8 4.8M182.9 111.7l4.8 4.8m0 -4.8l-4.8 4.8M184 111.8l4.8 4.8m0 -4.8l-4.8 4.8M185.1 112.1l4.8 4.8m0 -4.8l-4.8 4.8M186.2 111.1l4.8 4.8m0 -4.8l-4.8 4.8M187.4 110.9l4.8 4.8m0 -4.8l-4.8 4.8M188.5 110.1l4.8 4.8m0 -4.8l-4.8 4.8M189.6 110.1l4.8 4.8m0 -4.8l-4.8 4.8M190.8 109.8l4.8 4.8m0 -4.8l-4.8 4.8M191.9 109.3l4.8 4.8m0 -4.8l-4.8 4.8M193 108.6l4.8 4.8m0 -4.8l-4.8 4.8M194.1 108.1l4.8 4.8m0 -4.8l-4.8 4.8M195.3 107.6l4.8 4.8m0 -4.8l-4.8 4.8M196.4 107.8l4.8 4.8m0 -4.8l-4.8 4.8M197.5 107.8l4.8 4.8m0 -4.8l-4.8 4.8M198.6 108.1l4.8 4.8m0 -4.8l-4.8 4.8M199.8 108.5l4.8 4.8m0 -4.8l-4.8 4.8M200.9 108.1l4.8 4.8m0 -4.8l-4.8 4.8M202 107.2l4.8 4.8m0 -4.8l-4.8 4.8M203.2 106.1l4.8 4.8m0 -4.8l-4.8 4.8M204.3 105.6l4.8 4.8m0 -4.8l-4.8 4.8M205.4 105.4l4.8 4.8m0 -4.8l-4.8 4.8M206.5 105.5l4.8 4.8m0 -4.8l-4.8 4.8M207.7 105.3l4.8 4.8m0 -4.8l-4.8 4.8M208.8 104.7l4.8 4.8m0 -4.8l-4.8 4.8M209.9 104.5l4.8 4.8m0 -4.8l-4.8 4.8M211 104.4l4.8 4.8m0 -4.8l-4.8 4.8M212.2 104.8l4.8 4.8m0 -4.8l-4.8 4.8M213.3 104.2l4.8 4.8m0 -4.8l-4.8 4.8M214.4 104.1l4.8 4.8m0 -4.8l-4.8 4.8M215.6 103.7l4.8 4.8m0 -4.8l-4.8 4.8M216.7 103.7l4.8 4.8m0 -4.8l-4.8 4.8M217.8 103.2l4.8 4.8m0 -4.8l-4.8 4.8M218.9 103l4.8 4.8m0 -4.8l-4.8 4.8M220.1 102.3l4.8 4.8m0 -4.8l-4.8 4.8M221.2 101.3l4.8 4.8m0 -4.8l-4.8 4.8M222.3 100.7l4.8 4.8m0 -4.8l-4.8 4.8M223.4 100.1l4.8 4.8m0 -4.8l-4.8 4.8M224.6 100.2l4.8 4.8m0 -4.8l-4.8 4.8M225.7 99.3l4.8 4.8m0 -4.8l-4.8 4.8M226.8 99.5l4.8 4.8m0 -4.8l-4.8 4.8M227.9 99l4.8 4.8m0 -4.8l-4.8 4.8M229.1 98.5l4.8 4.8m0 -4.8l-4.8 4.8M230.2 97l4.8 4.8m0 -4.8l-4.8 4.8M231.3 96.4l4.8 4.8m0 -4.8l-4.8 4.8M232.5 96.2l4.8 4.8m0 -4.8l-4.8 4.8M233.6 96l4.8 4.8m0 -4.8l-4.8 4.8M234.7 95.6l4.8 4.8m0 -4.8l-4.8 4.8M235.8 95l4.8 4.8m0 -4.8l-4.8 4.8M237 94.8l4.8 4.8m0 -4.8l-4.8 4.8M238.1 94l4.8 4.8m0 -4.8l-4.8 4.8M239.2 93.7l4.8 4.8m0 -4.8l-4.8 4.8M240.3 93.3l4.8 4.8m0 -4.8l-4.8 4.8M241.5 93.8l4.8 4.8m0 -4.8l-4.8 4.8M242.6 92.9l4.8 4.8m0 -4.8l-4.8 4.8M243.7 91.9l4.8 4.8m0 -4.8l-4.8 4.8M244.9 90.2l4.8 4.8m0 -4.8l-4.8 4.8M246 90.1l4.8 4.8m0 -4.8l-4.8 4.8M247.1 89.3l4.8 4.8m0 -4.8l-4.8 4.8M248.2 88.8l4.8 4.8m0 -4.8l-4.8 4.8M249.4 87.9l4.8 4.8m0 -4.8l-4.8 4.8M250.5 87.3l4.8 4.8m0 -4.8l-4.8 4.8M251.6 86.5l4.8 4.8m0 -4.8l-4.8 4.8M252.7 85.7l4.8 4.8m0 -4.8l-4.8 4.8M253.9 84.7l4.8 4.8m0 -4.8l-4.8 4.8M255 83.9l4.8 4.8m0 -4.8l-4.8 4.8M256.1 83.2l4.8 4.8m0 -4.8l-4.8 4.8M257.2 83.3l4.8 4.8m0 -4.8l-4.8 4.8M258.4 83l4.8 4.8m0 -4.8l-4.8 4.8M259.5 81.9l4.8 4.8m0 -4.8l-4.8 4.8M260.6 81l4.8 4.8m0 -4.8l-4.8 4.8M261.8 80.7l4.8 4.8m0 -4.8l-4.8 4.8M262.9 80.7l4.8 4.8m0 -4.8l-4.8 4.8M264 80.1l4.8 4.8m0 -4.8l-4.8 4.8M265.1 78.8l4.8 4.8m0 -4.8l-4.8 4.8M266.3 78l4.8 4.8m0 -4.8l-4.8 4.8M267.4 76.9l4.8 4.8m0 -4.8l-4.8 4.8M268.5 75.9l4.8 4.8m0 -4.8l-4.8 4.8M269.6 74.4l4.8 4.8m0 -4.8l-4.8 4.8M270.8 73.9l4.8 4.8m0 -4.8l-4.8 4.8M271.9 73.2l4.8 4.8m0 -4.8l-4.8 4.8M273 72.4l4.8 4.8m0 -4.8l-4.8 4.8M274.2 70.2l4.8 4.8m0 -4.8l-4.8 4.8M275.3 68.7l4.8 4.8m0 -4.8l-4.8 4.8M276.4 66l4.8 4.8m0 -4.8l-4.8 4.8M277.5 63.4l4.8 4.8m0 -4.8l-4.8 4.8M278.7 60.5l4.8 4.8m0 -4.8l-4.8 4.8M279.8 56.9l4.8 4.8m0 -4.8l-4.8 4.8M280.9 52l4.8 4.8m0 -4.8l-4.8 4.8M282 44.1l4.8 4.8m0 -4.8l-4.8 4.8M283.2 35.1l4.8 4.8m0 -4.8l-4.8 4.8"/>
<path fill="#9a3aa6" stroke="#8a0a8a" stroke-width="0.8" d="M49.7 146.1h5.2v5.2h-5.2zM50.8 145.5h5.2v5.2h-5.2zM51.9 145.3h5.2v5.2h-5.2zM53.1 145.5h5.2v5.2h-5.2zM54.2 144.6h5.2v5.2h-5.2zM55.3 143h5.2v5.2h-5.2zM56.4 143h5.2v5.2h-5.2zM57.6 141.8h5.2v5.2h-5.2zM58.7 141.2h5.2v5.2h-5.2zM59.8 140h5.2v5.2h-5.2zM61 140.4h5.2v5.2h-5.2zM62.1 139.8h5.2v5.2h-5.2zM63.2 139.3h5.2v5.2h-5.2zM64.3 138.4h5.2v5.2h-5.2zM65.5 138.3h5.2v5.2h-5.2zM66.6 137.7h5.2v5.2h-5.2zM67.7 136.8h5.2v5.2h-5.2zM68.8 136.4h5.2v5.2h-5.2zM70 136.6h5.2v5.2h-5.2zM71.1 136.3h5.2v5.2h-5.2zM72.2 135.8h5.2v5.2h-5.2zM73.3 135.3h5.2v5.2h-5.2zM74.5 134.9h5.2v5.2h-5.2zM75.6 134.7h5.2v5.2h-5.2zM76.7 133.5h5.2v5.2h-5.2zM77.9 134.2h5.2v5.2h-5.2zM79 135h5.2v5.2h-5.2zM80.1 136.2h5.2v5.2h-5.2zM81.2 135.1h5.2v5.2h-5.2zM82.4 133.9h5.2v5.2h-5.2zM83.5 132.6h5.2v5.2h-5.2zM84.6 132.4h5.2v5.2h-5.2zM85.7 132.5h5.2v5.2h-5.2zM86.9 131.4h5.2v5.2h-5.2zM88 131.5h5.2v5.2h-5.2zM89.1 130.4h5.2v5.2h-5.2zM90.3 131.4h5.2v5.2h-5.2zM91.4 130.7h5.2v5.2h-5.2zM92.5 130h5.2v5.2h-5.2zM93.6 129.1h5.2v5.2h-5.2zM94.8 129.1h5.2v5.2h-5.2zM95.9 129.1h5.2v5.2h-5.2zM97 128.9h5.2v5.2h-5.2zM98.1 127.9h5.2v5.2h-5.2zM99.3 126.5h5.2v5.2h-5.2zM100.4 126.4h5.2v5.2h-5.2zM101.5 126.8h5.2v5.2h-5.2zM102.7 127.7h5.2v5.2h-5.2zM103.8 127h5.2v5.2h-5.2zM104.9 126.9h5.2v5.2h-5.2zM106 126.3h5.2v5.2h-5.2zM107.2 125.6h5.2v5.2h-5.2zM108.3 124.7h5.2v5.2h-5.2zM109.4 125.3h5.2v5.2h-5.2zM110.5 124.7h5.2v5.2h-5.2zM111.7 125.2h5.2v5.2h-5.2zM112.8 124h5.2v5.2h-5.2zM113.9 123.9h5.2v5.2h-5.2zM115 123.7h5.2v5.2h-5.2zM116.2 123.8h5.2v5.2h-5.2zM117.3 123.5h5.2v5.2h-5.2zM118.4 122.4h5.2v5.2h-5.2zM119.6 122.7h5.2v5.2h-5.2zM120.7 123.8h5.2v5.2h-5.2zM121.8 123.5h5.2v5.2h-5.2zM122.9 123h5.2v5.2h-5.2zM124.1 122.5h5.2v5.2h-5.2zM125.2 122.2h5.2v5.2h-5.2zM126.3 121.9h5.2v5.2h-5.2zM127.4 121.3h5.2v5.2h-5.2zM128.6 121.1h5.2v5.2h-5.2zM129.7 120.4h5.2v5.2h-5.2zM130.8 120.2h5.2v5.2h-5.2zM132 120.3h5.2v5.2h-5.2zM133.1 120h5.2v5.2h-5.2zM134.2 119.5h5.2v5.2h-5.2zM135.3 119.8h5.2v5.2h-5.2zM136.5 119.9h5.2v5.2h-5.2zM137.6 120.3h5.2v5.2h-5.2zM138.7 120.1h5.2v5.2h-5.2zM139.8 120h5.2v5.2h-5.2zM141 120.5h5.2v5.2h-5.2zM142.1 119.2h5.2v5.2h-5.2zM143.2 119h5.2v5.2h-5.2zM144.3 117.4h5.2v5.2h-5.2zM145.5 118.5h5.2v5.2h-5.2zM146.6 118.7h5.2v5.2h-5.2zM147.7 117.6h5.2v5.2h-5.2zM148.9 115.8h5.2v5.2h-5.2zM150 115h5.2v5.2h-5.2zM151.1 116.2h5.2v5.2h-5.2zM152.2 116.8h5.2v5.2h-5.2zM153.4 116.1h5.2v5.2h-5.2zM154.5 115.7h5.2v5.2h-5.2zM155.6 115.4h5.2v5.2h-5.2zM156.7 115.1h5.2v5.2h-5.2zM157.9 115.1h5.2v5.2h-5.2zM159 113.3h5.2v5.2h-5.2zM160.1 113.4h5.2v5.2h-5.2zM161.3 112h5.2v5.2h-5.2zM162.4 113.4h5.2v5.2h-5.2zM163.5 112.7h5.2v5.2h-5.2zM164.6 112.5h5.2v5.2h-5.2zM165.8 111.9h5.2v5.2h-5.2zM166.9 111.3h5.2v5.2h-5.2zM168 111h5.2v5.2h-5.2zM169.1 109.7h5.2v5.2h-5.2zM170.3 109.9h5.2v5.2h-5.2zM171.4 110.4h5.2v5.2h-5.2zM172.5 111.4h5.2v5.2h-5.2zM173.7 111.1h5.2v5.2h-5.2zM174.8 111.1h5.2v5.2h-5.2zM175.9 110.3h5.2v5.2h-5.2zM177 110.1h5.2v5.2h-5.2zM178.2 109.6h5.2v5.2h-5.2zM179.3 109.9h5.2v5.2h-5.2zM180.4 109.5h5.2v5.2h-5.2zM181.5 108.8h5.2v5.2h-5.2zM182.7 108h5.2v5.2h-5.2zM183.8 107.9h5.2v5.2h-5.2zM184.9 107.4h5.2v5.2h-5.2zM186 107.7h5.2v5.2h-5.2zM187.2 107.2h5.2v5.2h-5.2zM188.3 107.7h5.2v5.2h-5.2zM189.4 106.5h5.2v5.2h-5.2zM190.6 106.6h5.2v5.2h-5.2zM191.7 106.4h5.2v5.2h-5.2zM192.8 106.3h5.2v5.2h-5.2zM193.9 106.9h5.2v5.2h-5.2zM195.1 106.7h5.2v5.2h-5.2zM196.2 107.6h5.2v5.2h-5.2zM197.3 106.8h5.2v5.2h-5.2zM198.4 106h5.2v5.2h-5.2zM199.6 104.6h5.2v5.2h-5.2zM200.7 104.1h5.2v5.2h-5.2zM201.8 104.2h5.2v5.2h-5.2zM203 104.1h5.2v5.2h-5.2zM204.1 103.5h5.2v5.2h-5.2zM205.2 102.2h5.2v5.2h-5.2zM206.3 101.8h5.2v5.2h-5.2zM207.5 100.5h5.2v5.2h-5.2zM208.6 101.3h5.2v5.2h-5.2zM209.7 100.7h5.2v5.2h-5.2zM210.8 101.2h5.2v5.2h-5.2zM212 100.6h5.2v5.2h-5.2zM213.1 100.8h5.2v5.2h-5.2zM214.2 100.1h5.2v5.2h-5.2zM215.4 98.9h5.2v5.2h-5.2zM216.5 97.9h5.2v5.2h-5.2zM217.6 97.2h5.2v5.2h-5.2zM218.7 97.2h5.2v5.2h-5.2zM219.9 98.2h5.2v5.2h-5.2zM221 98.2h5.2v5.2h-5.2zM222.1 98.6h5.2v5.2h-5.2zM223.2 96.6h5.2v5.2h-5.2zM224.4 96.9h5.2v5.2h-5.2zM225.5 95.9h5.2v5.2h-5.2zM226.6 96.1h5.2v5.2h-5.2zM227.7 95.7h5.2v5.2h-5.2zM228.9 96.2h5.2v5.2h-5.2zM230 95.8h5.2v5.2h-5.2zM231.1 95.1h5.2v5.2h-5.2zM232.3 93.1h5.2v5.2h-5.2zM233.4 92.8h5.2v5.2h-5.2zM234.5 92.1h5.2v5.2h-5.2zM235.6 92.5h5.2v5.2h-5.2zM236.8 91.6h5.2v5.2h-5.2zM237.9 92.1h5.2v5.2h-5.2zM239 90.1h5.2v5.2h-5.2zM240.1 89.5h5.2v5.2h-5.2zM241.3 88.5h5.2v5.2h-5.2zM242.4 88.8h5.2v5.2h-5.2zM243.5 88h5.2v5.2h-5.2zM244.7 86.8h5.2v5.2h-5.2zM245.8 85.8h5.2v5.2h-5.2zM246.9 85.7h5.2v5.2h-5.2zM248 86.5h5.2v5.2h-5.2zM249.2 87.2h5.2v5.2h-5.2zM250.3 86h5.2v5.2h-5.2zM251.4 83.7h5.2v5.2h-5.2zM252.5 82.3h5.2v5.2h-5.2zM253.7 82.8h5.2v5.2h-5.2zM254.8 82.2h5.2v5.2h-5.2zM255.9 81.5h5.2v5.2h-5.2zM257 80.8h5.2v5.2h-5.2zM258.2 81h5.2v5.2h-5.2zM259.3 80.6h5.2v5.2h-5.2zM260.4 78.9h5.2v5.2h-5.2zM261.6 77.1h5.2v5.2h-5.2zM262.7 76.3h5.2v5.2h-5.2zM263.8 75h5.2v5.2h-5.2zM264.9 75.5h5.2v5.2h-5.2zM266.1 74.8h5.2v5.2h-5.2zM267.2 75.3h5.2v5.2h-5.2zM268.3 74.9h5.2v5.2h-5.2zM269.4 74.8h5.2v5.2h-5.2z"/>
<path fill="rgba(215,180,225,.5)" stroke="#a030a0" stroke-width="0.7" d="M46.4 152.6h5v5h-5zM47.5 150h5v5h-5zM48.7 148.7h5v5h-5zM270.7 72.8h5v5h-5zM271.8 70.9h5v5h-5zM272.9 69.4h5v5h-5zM274.1 67.8h5v5h-5zM275.2 64.8h5v5h-5zM276.3 61.7h5v5h-5zM277.4 57.7h5v5h-5zM278.6 54.8h5v5h-5zM279.7 49.3h5v5h-5zM280.8 45.3h5v5h-5zM281.9 40h5v5h-5zM283.1 36.5h5v5h-5z"/>
<path fill="#7a7ad8" d="M53.1 145.4h1.2v1.2h-1.2zM55.4 143.8h1.2v1.2h-1.2zM57.6 142.9h1.2v1.2h-1.2zM59.9 141.5h1.2v1.2h-1.2zM62.1 140.3h1.2v1.2h-1.2zM64.4 139.9h1.2v1.2h-1.2zM66.6 139.3h1.2v1.2h-1.2zM68.9 138.1h1.2v1.2h-1.2zM71.1 137.8h1.2v1.2h-1.2zM73.4 137.9h1.2v1.2h-1.2zM75.6 136.2h1.2v1.2h-1.2zM77.9 134.9h1.2v1.2h-1.2zM80.2 135.3h1.2v1.2h-1.2zM82.4 134.7h1.2v1.2h-1.2zM84.7 133.3h1.2v1.2h-1.2zM86.9 132.3h1.2v1.2h-1.2zM89.2 131.4h1.2v1.2h-1.2zM91.4 130.7h1.2v1.2h-1.2zM93.7 130h1.2v1.2h-1.2zM95.9 129.7h1.2v1.2h-1.2zM98.2 129.1h1.2v1.2h-1.2zM100.4 128.1h1.2v1.2h-1.2zM102.7 127.3h1.2v1.2h-1.2zM105 126.8h1.2v1.2h-1.2zM107.2 126.3h1.2v1.2h-1.2zM109.5 125.8h1.2v1.2h-1.2zM111.7 125.8h1.2v1.2h-1.2zM114 125.5h1.2v1.2h-1.2zM116.2 124.9h1.2v1.2h-1.2zM118.5 124.4h1.2v1.2h-1.2zM120.7 123.8h1.2v1.2h-1.2zM123 123.2h1.2v1.2h-1.2zM125.2 122.7h1.2v1.2h-1.2zM127.5 122.5h1.2v1.2h-1.2zM129.7 121.8h1.2v1.2h-1.2zM132 121.5h1.2v1.2h-1.2zM134.3 121.3h1.2v1.2h-1.2zM136.5 120.2h1.2v1.2h-1.2zM138.8 119.5h1.2v1.2h-1.2zM141 119h1.2v1.2h-1.2zM143.3 118.6h1.2v1.2h-1.2zM145.5 118.1h1.2v1.2h-1.2zM147.8 117.8h1.2v1.2h-1.2zM150 117.2h1.2v1.2h-1.2zM152.3 115.7h1.2v1.2h-1.2zM154.5 115.2h1.2v1.2h-1.2zM156.8 114.7h1.2v1.2h-1.2zM159 114.4h1.2v1.2h-1.2zM161.3 114.7h1.2v1.2h-1.2zM163.6 114.3h1.2v1.2h-1.2zM165.8 113.1h1.2v1.2h-1.2zM168.1 112.1h1.2v1.2h-1.2zM170.3 112.4h1.2v1.2h-1.2zM172.6 112.2h1.2v1.2h-1.2zM174.8 111.2h1.2v1.2h-1.2zM177.1 110.8h1.2v1.2h-1.2zM179.3 111h1.2v1.2h-1.2zM181.6 110.5h1.2v1.2h-1.2zM183.8 109.4h1.2v1.2h-1.2zM186.1 108.6h1.2v1.2h-1.2zM188.3 108.3h1.2v1.2h-1.2zM190.6 107.5h1.2v1.2h-1.2zM192.9 106.6h1.2v1.2h-1.2zM195.1 106.3h1.2v1.2h-1.2zM197.4 105.8h1.2v1.2h-1.2zM199.6 105.3h1.2v1.2h-1.2zM201.9 105.1h1.2v1.2h-1.2zM204.1 105.2h1.2v1.2h-1.2zM206.4 104.4h1.2v1.2h-1.2zM208.6 103.1h1.2v1.2h-1.2zM210.9 102.7h1.2v1.2h-1.2zM213.1 102.2h1.2v1.2h-1.2zM215.4 101.9h1.2v1.2h-1.2zM217.7 101h1.2v1.2h-1.2zM219.9 99.7h1.2v1.2h-1.2zM222.2 98.6h1.2v1.2h-1.2zM224.4 97.7h1.2v1.2h-1.2zM226.7 97.4h1.2v1.2h-1.2zM228.9 96.7h1.2v1.2h-1.2zM231.2 95.2h1.2v1.2h-1.2zM233.4 94h1.2v1.2h-1.2zM235.7 93.2h1.2v1.2h-1.2zM237.9 92.4h1.2v1.2h-1.2zM240.2 91.2h1.2v1.2h-1.2zM242.4 89.9h1.2v1.2h-1.2zM244.7 88.5h1.2v1.2h-1.2zM247 87.1h1.2v1.2h-1.2zM249.2 87h1.2v1.2h-1.2zM251.5 85.6h1.2v1.2h-1.2zM253.7 83.8h1.2v1.2h-1.2zM256 83.3h1.2v1.2h-1.2zM258.2 82.1h1.2v1.2h-1.2zM260.5 80.5h1.2v1.2h-1.2zM262.7 79.4h1.2v1.2h-1.2zM265 78.4h1.2v1.2h-1.2zM267.2 77h1.2v1.2h-1.2zM269.5 74.8h1.2v1.2h-1.2zM271.7 72.8h1.2v1.2h-1.2zM52 149.2h1.2v1.2h-1.2zM54.2 147.7h1.2v1.2h-1.2zM56.5 146h1.2v1.2h-1.2zM58.7 144.7h1.2v1.2h-1.2zM61 143.9h1.2v1.2h-1.2zM63.3 142.8h1.2v1.2h-1.2zM65.5 141.6h1.2v1.2h-1.2zM67.8 140.7h1.2v1.2h-1.2zM70 140.4h1.2v1.2h-1.2zM72.3 140.1h1.2v1.2h-1.2zM74.5 139.7h1.2v1.2h-1.2zM76.8 138.7h1.2v1.2h-1.2zM79 137.6h1.2v1.2h-1.2zM81.3 136.6h1.2v1.2h-1.2zM83.5 136.1h1.2v1.2h-1.2zM85.8 135.5h1.2v1.2h-1.2zM88 134.9h1.2v1.2h-1.2zM90.3 134.7h1.2v1.2h-1.2zM92.6 133.9h1.2v1.2h-1.2zM94.8 132.3h1.2v1.2h-1.2zM97.1 131.4h1.2v1.2h-1.2zM99.3 130.8h1.2v1.2h-1.2zM101.6 130.1h1.2v1.2h-1.2zM103.8 130.3h1.2v1.2h-1.2zM106.1 130.1h1.2v1.2h-1.2zM108.3 128.8h1.2v1.2h-1.2zM110.6 128.4h1.2v1.2h-1.2zM112.8 128.7h1.2v1.2h-1.2zM115.1 127.9h1.2v1.2h-1.2zM117.3 126.9h1.2v1.2h-1.2zM119.6 126.5h1.2v1.2h-1.2zM121.9 126.3h1.2v1.2h-1.2zM124.1 126.1h1.2v1.2h-1.2zM126.4 125.9h1.2v1.2h-1.2zM128.6 125.6h1.2v1.2h-1.2zM130.9 125.1h1.2v1.2h-1.2zM133.1 124.6h1.2v1.2h-1.2zM135.4 124h1.2v1.2h-1.2zM137.6 122.7h1.2v1.2h-1.2zM139.9 121.9h1.2v1.2h-1.2zM142.1 121.9h1.2v1.2h-1.2zM144.4 121.3h1.2v1.2h-1.2zM146.6 120.9h1.2v1.2h-1.2zM148.9 120.4h1.2v1.2h-1.2zM151.2 119.3h1.2v1.2h-1.2zM153.4 119.3h1.2v1.2h-1.2zM155.7 119.2h1.2v1.2h-1.2zM157.9 118.3h1.2v1.2h-1.2zM160.2 117.8h1.2v1.2h-1.2zM162.4 117.5h1.2v1.2h-1.2zM164.7 116.7h1.2v1.2h-1.2zM166.9 115.2h1.2v1.2h-1.2zM169.2 114.4h1.2v1.2h-1.2zM171.4 114.4h1.2v1.2h-1.2zM173.7 113.7h1.2v1.2h-1.2zM176 113.4h1.2v1.2h-1.2zM178.2 113.5h1.2v1.2h-1.2zM180.5 112.7h1.2v1.2h-1.2zM182.7 111.6h1.2v1.2h-1.2zM185 111.8h1.2v1.2h-1.2zM187.2 111.5h1.2v1.2h-1.2zM189.5 110.1h1.2v1.2h-1.2zM191.7 109.8h1.2v1.2h-1.2zM194 109.8h1.2v1.2h-1.2zM196.2 109h1.2v1.2h-1.2zM198.5 108.6h1.2v1.2h-1.2zM200.7 108.2h1.2v1.2h-1.2zM203 107.2h1.2v1.2h-1.2zM205.3 106.8h1.2v1.2h-1.2zM207.5 106.7h1.2v1.2h-1.2zM209.8 105.9h1.2v1.2h-1.2zM212 105.2h1.2v1.2h-1.2zM214.3 104.7h1.2v1.2h-1.2zM216.5 104.7h1.2v1.2h-1.2zM218.8 103.9h1.2v1.2h-1.2zM221 102.7h1.2v1.2h-1.2zM223.3 102h1.2v1.2h-1.2zM225.5 100.7h1.2v1.2h-1.2zM227.8 100h1.2v1.2h-1.2zM230 99.2h1.2v1.2h-1.2zM232.3 98.3h1.2v1.2h-1.2zM234.6 97.1h1.2v1.2h-1.2zM236.8 95.5h1.2v1.2h-1.2zM239.1 94.2h1.2v1.2h-1.2zM241.3 93.5h1.2v1.2h-1.2zM243.6 92.7h1.2v1.2h-1.2zM245.8 91.9h1.2v1.2h-1.2zM248.1 90.7h1.2v1.2h-1.2zM250.3 89.5h1.2v1.2h-1.2zM252.6 88.7h1.2v1.2h-1.2zM254.8 87.2h1.2v1.2h-1.2zM257.1 85.2h1.2v1.2h-1.2zM259.3 83.6h1.2v1.2h-1.2zM261.6 82.3h1.2v1.2h-1.2zM263.9 81.9h1.2v1.2h-1.2zM266.1 80.8h1.2v1.2h-1.2zM268.4 79.2h1.2v1.2h-1.2zM270.6 77.7h1.2v1.2h-1.2z"/>
<path fill="#800000" d="M46.4 139a2.5 2.5 0 1 0 4.9 0a2.5 2.5 0 1 0 -4.9 0zM47.6 137.8a2.5 2.5 0 1 0 4.9 0a2.5 2.5 0 1 0 -4.9 0zM48.7 137.2a2.5 2.5 0 1 0 4.9 0a2.5 2.5 0 1 0 -4.9 0zM49.8 136.6a2.5 2.5 0 1 0 4.9 0a2.5 2.5 0 1 0 -4.9 0zM51 135.4a2.5 2.5 0 1 0 4.9 0a2.5 2.5 0 1 0 -4.9 0zM52.1 135.1a2.5 2.5 0 1 0 4.9 0a2.5 2.5 0 1 0 -4.9 0zM53.2 134.1a2.5 2.5 0 1 0 4.9 0a2.5 2.5 0 1 0 -4.9 0zM54.3 134a2.5 2.5 0 1 0 4.9 0a2.5 2.5 0 1 0 -4.9 0zM55.5 133.1a2.5 2.5 0 1 0 4.9 0a2.5 2.5 0 1 0 -4.9 0zM56.6 131.9a2.5 2.5 0 1 0 4.9 0a2.5 2.5 0 1 0 -4.9 0zM57.7 130.9a2.5 2.5 0 1 0 4.9 0a2.5 2.5 0 1 0 -4.9 0zM58.8 130.3a2.5 2.5 0 1 0 4.9 0a2.5 2.5 0 1 0 -4.9 0zM60 130.7a2.5 2.5 0 1 0 4.9 0a2.5 2.5 0 1 0 -4.9 0zM61.1 130.4a2.5 2.5 0 1 0 4.9 0a2.5 2.5 0 1 0 -4.9 0zM62.2 129.9a2.5 2.5 0 1 0 4.9 0a2.5 2.5 0 1 0 -4.9 0zM63.4 128.6a2.5 2.5 0 1 0 4.9 0a2.5 2.5 0 1 0 -4.9 0zM64.5 128.4a2.5 2.5 0 1 0 4.9 0a2.5 2.5 0 1 0 -4.9 0zM65.6 128.4a2.5 2.5 0 1 0 4.9 0a2.5 2.5 0 1 0 -4.9 0zM66.7 128.3a2.5 2.5 0 1 0 4.9 0a2.5 2.5 0 1 0 -4.9 0zM67.9 127.5a2.5 2.5 0 1 0 4.9 0a2.5 2.5 0 1 0 -4.9 0zM69 126.3a2.5 2.5 0 1 0 4.9 0a2.5 2.5 0 1 0 -4.9 0zM70.1 126.1a2.5 2.5 0 1 0 4.9 0a2.5 2.5 0 1 0 -4.9 0zM71.2 126.4a2.5 2.5 0 1 0 4.9 0a2.5 2.5 0 1 0 -4.9 0zM72.4 126.5a2.5 2.5 0 1 0 4.9 0a2.5 2.5 0 1 0 -4.9 0zM73.5 126.2a2.5 2.5 0 1 0 4.9 0a2.5 2.5 0 1 0 -4.9 0zM74.6 125.2a2.5 2.5 0 1 0 4.9 0a2.5 2.5 0 1 0 -4.9 0zM75.8 124.3a2.5 2.5 0 1 0 4.9 0a2.5 2.5 0 1 0 -4.9 0zM76.9 123.8a2.5 2.5 0 1 0 4.9 0a2.5 2.5 0 1 0 -4.9 0zM78 122.9a2.5 2.5 0 1 0 4.9 0a2.5 2.5 0 1 0 -4.9 0zM79.1 122.8a2.5 2.5 0 1 0 4.9 0a2.5 2.5 0 1 0 -4.9 0zM80.3 122.2a2.5 2.5 0 1 0 4.9 0a2.5 2.5 0 1 0 -4.9 0zM81.4 122.5a2.5 2.5 0 1 0 4.9 0a2.5 2.5 0 1 0 -4.9 0zM82.5 122.4a2.5 2.5 0 1 0 4.9 0a2.5 2.5 0 1 0 -4.9 0zM83.6 122.1a2.5 2.5 0 1 0 4.9 0a2.5 2.5 0 1 0 -4.9 0zM84.8 121.5a2.5 2.5 0 1 0 4.9 0a2.5 2.5 0 1 0 -4.9 0zM85.9 120.9a2.5 2.5 0 1 0 4.9 0a2.5 2.5 0 1 0 -4.9 0zM87 120.6a2.5 2.5 0 1 0 4.9 0a2.5 2.5 0 1 0 -4.9 0zM88.1 120.4a2.5 2.5 0 1 0 4.9 0a2.5 2.5 0 1 0 -4.9 0zM89.3 120.2a2.5 2.5 0 1 0 4.9 0a2.5 2.5 0 1 0 -4.9 0zM90.4 119.7a2.5 2.5 0 1 0 4.9 0a2.5 2.5 0 1 0 -4.9 0zM91.5 119.6a2.5 2.5 0 1 0 4.9 0a2.5 2.5 0 1 0 -4.9 0zM92.7 119.3a2.5 2.5 0 1 0 4.9 0a2.5 2.5 0 1 0 -4.9 0zM93.8 119.1a2.5 2.5 0 1 0 4.9 0a2.5 2.5 0 1 0 -4.9 0zM94.9 118.6a2.5 2.5 0 1 0 4.9 0a2.5 2.5 0 1 0 -4.9 0zM96 119a2.5 2.5 0 1 0 4.9 0a2.5 2.5 0 1 0 -4.9 0zM97.2 119.2a2.5 2.5 0 1 0 4.9 0a2.5 2.5 0 1 0 -4.9 0zM98.3 119.9a2.5 2.5 0 1 0 4.9 0a2.5 2.5 0 1 0 -4.9 0zM99.4 119.3a2.5 2.5 0 1 0 4.9 0a2.5 2.5 0 1 0 -4.9 0zM100.5 118.9a2.5 2.5 0 1 0 4.9 0a2.5 2.5 0 1 0 -4.9 0zM101.7 118.4a2.5 2.5 0 1 0 4.9 0a2.5 2.5 0 1 0 -4.9 0zM102.8 118.5a2.5 2.5 0 1 0 4.9 0a2.5 2.5 0 1 0 -4.9 0zM103.9 118.4a2.5 2.5 0 1 0 4.9 0a2.5 2.5 0 1 0 -4.9 0zM105.1 118.4a2.5 2.5 0 1 0 4.9 0a2.5 2.5 0 1 0 -4.9 0zM106.2 118.2a2.5 2.5 0 1 0 4.9 0a2.5 2.5 0 1 0 -4.9 0zM107.3 117.8a2.5 2.5 0 1 0 4.9 0a2.5 2.5 0 1 0 -4.9 0zM108.4 116.8a2.5 2.5 0 1 0 4.9 0a2.5 2.5 0 1 0 -4.9 0zM109.6 116.8a2.5 2.5 0 1 0 4.9 0a2.5 2.5 0 1 0 -4.9 0zM110.7 117a2.5 2.5 0 1 0 4.9 0a2.5 2.5 0 1 0 -4.9 0zM111.8 116.7a2.5 2.5 0 1 0 4.9 0a2.5 2.5 0 1 0 -4.9 0zM112.9 116.2a2.5 2.5 0 1 0 4.9 0a2.5 2.5 0 1 0 -4.9 0zM114.1 116.1a2.5 2.5 0 1 0 4.9 0a2.5 2.5 0 1 0 -4.9 0zM115.2 116.4a2.5 2.5 0 1 0 4.9 0a2.5 2.5 0 1 0 -4.9 0zM116.3 116.2a2.5 2.5 0 1 0 4.9 0a2.5 2.5 0 1 0 -4.9 0zM117.5 116.1a2.5 2.5 0 1 0 4.9 0a2.5 2.5 0 1 0 -4.9 0zM118.6 115.8a2.5 2.5 0 1 0 4.9 0a2.5 2.5 0 1 0 -4.9 0zM119.7 115.4a2.5 2.5 0 1 0 4.9 0a2.5 2.5 0 1 0 -4.9 0zM120.8 114.9a2.5 2.5 0 1 0 4.9 0a2.5 2.5 0 1 0 -4.9 0zM122 114.7a2.5 2.5 0 1 0 4.9 0a2.5 2.5 0 1 0 -4.9 0zM123.1 114.8a2.5 2.5 0 1 0 4.9 0a2.5 2.5 0 1 0 -4.9 0zM124.2 114.1a2.5 2.5 0 1 0 4.9 0a2.5 2.5 0 1 0 -4.9 0zM125.3 113.7a2.5 2.5 0 1 0 4.9 0a2.5 2.5 0 1 0 -4.9 0zM126.5 113.8a2.5 2.5 0 1 0 4.9 0a2.5 2.5 0 1 0 -4.9 0zM127.6 114.5a2.5 2.5 0 1 0 4.9 0a2.5 2.5 0 1 0 -4.9 0zM128.7 113.8a2.5 2.5 0 1 0 4.9 0a2.5 2.5 0 1 0 -4.9 0zM129.8 114a2.5 2.5 0 1 0 4.9 0a2.5 2.5 0 1 0 -4.9 0zM131 113.1a2.5 2.5 0 1 0 4.9 0a2.5 2.5 0 1 0 -4.9 0zM132.1 113.7a2.5 2.5 0 1 0 4.9 0a2.5 2.5 0 1 0 -4.9 0zM133.2 113.1a2.5 2.5 0 1 0 4.9 0a2.5 2.5 0 1 0 -4.9 0zM134.4 113.4a2.5 2.5 0 1 0 4.9 0a2.5 2.5 0 1 0 -4.9 0zM135.5 112.9a2.5 2.5 0 1 0 4.9 0a2.5 2.5 0 1 0 -4.9 0zM136.6 112.1a2.5 2.5 0 1 0 4.9 0a2.5 2.5 0 1 0 -4.9 0zM137.7 111.8a2.5 2.5 0 1 0 4.9 0a2.5 2.5 0 1 0 -4.9 0zM138.9 111.3a2.5 2.5 0 1 0 4.9 0a2.5 2.5 0 1 0 -4.9 0zM140 110.7a2.5 2.5 0 1 0 4.9 0a2.5 2.5 0 1 0 -4.9 0zM141.1 111a2.5 2.5 0 1 0 4.9 0a2.5 2.5 0 1 0 -4.9 0zM142.2 111a2.5 2.5 0 1 0 4.9 0a2.5 2.5 0 1 0 -4.9 0zM143.4 111.8a2.5 2.5 0 1 0 4.9 0a2.5 2.5 0 1 0 -4.9 0zM144.5 110.6a2.5 2.5 0 1 0 4.9 0a2.5 2.5 0 1 0 -4.9 0zM145.6 110.6a2.5 2.5 0 1 0 4.9 0a2.5 2.5 0 1 0 -4.9 0zM146.8 110.2a2.5 2.5 0 1 0 4.9 0a2.5 2.5 0 1 0 -4.9 0zM147.9 110.6a2.5 2.5 0 1 0 4.9 0a2.5 2.5 0 1 0 -4.9 0zM149 109.9a2.5 2.5 0 1 0 4.9 0a2.5 2.5 0 1 0 -4.9 0zM150.1 108.9a2.5 2.5 0 1 0 4.9 0a2.5 2.5 0 1 0 -4.9 0zM151.3 108.2a2.5 2.5 0 1 0 4.9 0a2.5 2.5 0 1 0 -4.9 0zM152.4 107.4a2.5 2.5 0 1 0 4.9 0a2.5 2.5 0 1 0 -4.9 0zM153.5 107a2.5 2.5 0 1 0 4.9 0a2.5 2.5 0 1 0 -4.9 0zM154.6 106.8a2.5 2.5 0 1 0 4.9 0a2.5 2.5 0 1 0 -4.9 0zM155.8 106.8a2.5 2.5 0 1 0 4.9 0a2.5 2.5 0 1 0 -4.9 0zM156.9 106.9a2.5 2.5 0 1 0 4.9 0a2.5 2.5 0 1 0 -4.9 0zM158 106.5a2.5 2.5 0 1 0 4.9 0a2.5 2.5 0 1 0 -4.9 0zM159.2 107a2.5 2.5 0 1 0 4.9 0a2.5 2.5 0 1 0 -4.9 0zM160.3 107a2.5 2.5 0 1 0 4.9 0a2.5 2.5 0 1 0 -4.9 0zM161.4 106.8a2.5 2.5 0 1 0 4.9 0a2.5 2.5 0 1 0 -4.9 0zM162.5 106.3a2.5 2.5 0 1 0 4.9 0a2.5 2.5 0 1 0 -4.9 0zM163.7 105.5a2.5 2.5 0 1 0 4.9 0a2.5 2.5 0 1 0 -4.9 0zM164.8 105.2a2.5 2.5 0 1 0 4.9 0a2.5 2.5 0 1 0 -4.9 0zM165.9 104.8a2.5 2.5 0 1 0 4.9 0a2.5 2.5 0 1 0 -4.9 0zM167 104.4a2.5 2.5 0 1 0 4.9 0a2.5 2.5 0 1 0 -4.9 0zM168.2 104.1a2.5 2.5 0 1 0 4.9 0a2.5 2.5 0 1 0 -4.9 0zM169.3 103.3a2.5 2.5 0 1 0 4.9 0a2.5 2.5 0 1 0 -4.9 0zM170.4 103.4a2.5 2.5 0 1 0 4.9 0a2.5 2.5 0 1 0 -4.9 0zM171.5 103.5a2.5 2.5 0 1 0 4.9 0a2.5 2.5 0 1 0 -4.9 0zM172.7 103.4a2.5 2.5 0 1 0 4.9 0a2.5 2.5 0 1 0 -4.9 0zM173.8 103.2a2.5 2.5 0 1 0 4.9 0a2.5 2.5 0 1 0 -4.9 0zM174.9 102.3a2.5 2.5 0 1 0 4.9 0a2.5 2.5 0 1 0 -4.9 0zM176.1 101.9a2.5 2.5 0 1 0 4.9 0a2.5 2.5 0 1 0 -4.9 0zM177.2 101.3a2.5 2.5 0 1 0 4.9 0a2.5 2.5 0 1 0 -4.9 0zM178.3 101.6a2.5 2.5 0 1 0 4.9 0a2.5 2.5 0 1 0 -4.9 0zM179.4 102.2a2.5 2.5 0 1 0 4.9 0a2.5 2.5 0 1 0 -4.9 0zM180.6 102.4a2.5 2.5 0 1 0 4.9 0a2.5 2.5 0 1 0 -4.9 0zM181.7 101.6a2.5 2.5 0 1 0 4.9 0a2.5 2.5 0 1 0 -4.9 0zM182.8 101a2.5 2.5 0 1 0 4.9 0a2.5 2.5 0 1 0 -4.9 0zM183.9 100.5a2.5 2.5 0 1 0 4.9 0a2.5 2.5 0 1 0 -4.9 0zM185.1 100.6a2.5 2.5 0 1 0 4.9 0a2.5 2.5 0 1 0 -4.9 0zM186.2 100.3a2.5 2.5 0 1 0 4.9 0a2.5 2.5 0 1 0 -4.9 0zM187.3 100.2a2.5 2.5 0 1 0 4.9 0a2.5 2.5 0 1 0 -4.9 0zM188.5 99.9a2.5 2.5 0 1 0 4.9 0a2.5 2.5 0 1 0 -4.9 0zM189.6 99.5a2.5 2.5 0 1 0 4.9 0a2.5 2.5 0 1 0 -4.9 0zM190.7 99.1a2.5 2.5 0 1 0 4.9 0a2.5 2.5 0 1 0 -4.9 0zM191.8 98.2a2.5 2.5 0 1 0 4.9 0a2.5 2.5 0 1 0 -4.9 0zM193 98a2.5 2.5 0 1 0 4.9 0a2.5 2.5 0 1 0 -4.9 0zM194.1 97.5a2.5 2.5 0 1 0 4.9 0a2.5 2.5 0 1 0 -4.9 0zM195.2 97.7a2.5 2.5 0 1 0 4.9 0a2.5 2.5 0 1 0 -4.9 0zM196.3 97.3a2.5 2.5 0 1 0 4.9 0a2.5 2.5 0 1 0 -4.9 0zM197.5 97.4a2.5 2.5 0 1 0 4.9 0a2.5 2.5 0 1 0 -4.9 0zM198.6 97.3a2.5 2.5 0 1 0 4.9 0a2.5 2.5 0 1 0 -4.9 0zM199.7 96.9a2.5 2.5 0 1 0 4.9 0a2.5 2.5 0 1 0 -4.9 0zM200.8 96.4a2.5 2.5 0 1 0 4.9 0a2.5 2.5 0 1 0 -4.9 0zM202 95.8a2.5 2.5 0 1 0 4.9 0a2.5 2.5 0 1 0 -4.9 0zM203.1 96.1a2.5 2.5 0 1 0 4.9 0a2.5 2.5 0 1 0 -4.9 0zM204.2 96.4a2.5 2.5 0 1 0 4.9 0a2.5 2.5 0 1 0 -4.9 0zM205.4 96.6a2.5 2.5 0 1 0 4.9 0a2.5 2.5 0 1 0 -4.9 0zM206.5 96a2.5 2.5 0 1 0 4.9 0a2.5 2.5 0 1 0 -4.9 0zM207.6 95.7a2.5 2.5 0 1 0 4.9 0a2.5 2.5 0 1 0 -4.9 0zM208.7 94.8a2.5 2.5 0 1 0 4.9 0a2.5 2.5 0 1 0 -4.9 0zM209.9 94.9a2.5 2.5 0 1 0 4.9 0a2.5 2.5 0 1 0 -4.9 0zM211 94.1a2.5 2.5 0 1 0 4.9 0a2.5 2.5 0 1 0 -4.9 0zM212.1 93.5a2.5 2.5 0 1 0 4.9 0a2.5 2.5 0 1 0 -4.9 0zM213.2 93.4a2.5 2.5 0 1 0 4.9 0a2.5 2.5 0 1 0 -4.9 0zM214.4 93.6a2.5 2.5 0 1 0 4.9 0a2.5 2.5 0 1 0 -4.9 0zM215.5 93.7a2.5 2.5 0 1 0 4.9 0a2.5 2.5 0 1 0 -4.9 0zM216.6 92.7a2.5 2.5 0 1 0 4.9 0a2.5 2.5 0 1 0 -4.9 0zM217.8 91.9a2.5 2.5 0 1 0 4.9 0a2.5 2.5 0 1 0 -4.9 0zM218.9 91.8a2.5 2.5 0 1 0 4.9 0a2.5 2.5 0 1 0 -4.9 0zM220 91a2.5 2.5 0 1 0 4.9 0a2.5 2.5 0 1 0 -4.9 0zM221.1 90.5a2.5 2.5 0 1 0 4.9 0a2.5 2.5 0 1 0 -4.9 0zM222.3 90.1a2.5 2.5 0 1 0 4.9 0a2.5 2.5 0 1 0 -4.9 0zM223.4 90.1a2.5 2.5 0 1 0 4.9 0a2.5 2.5 0 1 0 -4.9 0zM224.5 90.1a2.5 2.5 0 1 0 4.9 0a2.5 2.5 0 1 0 -4.9 0zM225.6 89.5a2.5 2.5 0 1 0 4.9 0a2.5 2.5 0 1 0 -4.9 0zM226.8 89.5a2.5 2.5 0 1 0 4.9 0a2.5 2.5 0 1 0 -4.9 0zM227.9 88.6a2.5 2.5 0 1 0 4.9 0a2.5 2.5 0 1 0 -4.9 0zM229 88.1a2.5 2.5 0 1 0 4.9 0a2.5 2.5 0 1 0 -4.9 0zM230.2 86.5a2.5 2.5 0 1 0 4.9 0a2.5 2.5 0 1 0 -4.9 0zM231.3 85.9a2.5 2.5 0 1 0 4.9 0a2.5 2.5 0 1 0 -4.9 0zM232.4 85.6a2.5 2.5 0 1 0 4.9 0a2.5 2.5 0 1 0 -4.9 0zM233.5 85.3a2.5 2.5 0 1 0 4.9 0a2.5 2.5 0 1 0 -4.9 0zM234.7 85.1a2.5 2.5 0 1 0 4.9 0a2.5 2.5 0 1 0 -4.9 0zM235.8 84.2a2.5 2.5 0 1 0 4.9 0a2.5 2.5 0 1 0 -4.9 0zM236.9 83.6a2.5 2.5 0 1 0 4.9 0a2.5 2.5 0 1 0 -4.9 0zM238 82.8a2.5 2.5 0 1 0 4.9 0a2.5 2.5 0 1 0 -4.9 0zM239.2 82.1a2.5 2.5 0 1 0 4.9 0a2.5 2.5 0 1 0 -4.9 0zM240.3 81.6a2.5 2.5 0 1 0 4.9 0a2.5 2.5 0 1 0 -4.9 0zM241.4 81.1a2.5 2.5 0 1 0 4.9 0a2.5 2.5 0 1 0 -4.9 0zM242.5 80.7a2.5 2.5 0 1 0 4.9 0a2.5 2.5 0 1 0 -4.9 0zM243.7 79.9a2.5 2.5 0 1 0 4.9 0a2.5 2.5 0 1 0 -4.9 0zM244.8 78.9a2.5 2.5 0 1 0 4.9 0a2.5 2.5 0 1 0 -4.9 0zM245.9 78.1a2.5 2.5 0 1 0 4.9 0a2.5 2.5 0 1 0 -4.9 0zM247.1 77.7a2.5 2.5 0 1 0 4.9 0a2.5 2.5 0 1 0 -4.9 0zM248.2 77.7a2.5 2.5 0 1 0 4.9 0a2.5 2.5 0 1 0 -4.9 0zM249.3 77.9a2.5 2.5 0 1 0 4.9 0a2.5 2.5 0 1 0 -4.9 0zM250.4 77.7a2.5 2.5 0 1 0 4.9 0a2.5 2.5 0 1 0 -4.9 0zM251.6 77.1a2.5 2.5 0 1 0 4.9 0a2.5 2.5 0 1 0 -4.9 0zM252.7 76.1a2.5 2.5 0 1 0 4.9 0a2.5 2.5 0 1 0 -4.9 0zM253.8 75.3a2.5 2.5 0 1 0 4.9 0a2.5 2.5 0 1 0 -4.9 0zM254.9 74.7a2.5 2.5 0 1 0 4.9 0a2.5 2.5 0 1 0 -4.9 0zM256.1 74.1a2.5 2.5 0 1 0 4.9 0a2.5 2.5 0 1 0 -4.9 0zM257.2 73.8a2.5 2.5 0 1 0 4.9 0a2.5 2.5 0 1 0 -4.9 0zM258.3 73.4a2.5 2.5 0 1 0 4.9 0a2.5 2.5 0 1 0 -4.9 0zM259.5 73.3a2.5 2.5 0 1 0 4.9 0a2.5 2.5 0 1 0 -4.9 0zM260.6 72.8a2.5 2.5 0 1 0 4.9 0a2.5 2.5 0 1 0 -4.9 0zM261.7 72.3a2.5 2.5 0 1 0 4.9 0a2.5 2.5 0 1 0 -4.9 0zM262.8 71.2a2.5 2.5 0 1 0 4.9 0a2.5 2.5 0 1 0 -4.9 0zM264 71.1a2.5 2.5 0 1 0 4.9 0a2.5 2.5 0 1 0 -4.9 0zM265.1 70.6a2.5 2.5 0 1 0 4.9 0a2.5 2.5 0 1 0 -4.9 0zM266.2 70.6a2.5 2.5 0 1 0 4.9 0a2.5 2.5 0 1 0 -4.9 0zM267.3 69.7a2.5 2.5 0 1 0 4.9 0a2.5 2.5 0 1 0 -4.9 0zM268.5 69.1a2.5 2.5 0 1 0 4.9 0a2.5 2.5 0 1 0 -4.9 0zM269.6 67.7a2.5 2.5 0 1 0 4.9 0a2.5 2.5 0 1 0 -4.9 0zM270.7 66.6a2.5 2.5 0 1 0 4.9 0a2.5 2.5 0 1 0 -4.9 0zM271.9 65.8a2.5 2.5 0 1 0 4.9 0a2.5 2.5 0 1 0 -4.9 0zM273 64.3a2.5 2.5 0 1 0 4.9 0a2.5 2.5 0 1 0 -4.9 0zM274.1 63a2.5 2.5 0 1 0 4.9 0a2.5 2.5 0 1 0 -4.9 0zM275.2 61a2.5 2.5 0 1 0 4.9 0a2.5 2.5 0 1 0 -4.9 0zM276.4 59.3a2.5 2.5 0 1 0 4.9 0a2.5 2.5 0 1 0 -4.9 0zM277.5 56.8a2.5 2.5 0 1 0 4.9 0a2.5 2.5 0 1 0 -4.9 0zM278.6 53.8a2.5 2.5 0 1 0 4.9 0a2.5 2.5 0 1 0 -4.9 0zM279.7 49.3a2.5 2.5 0 1 0 4.9 0a2.5 2.5 0 1 0 -4.9 0zM280.9 40.6a2.5 2.5 0 1 0 4.9 0a2.5 2.5 0 1 0 -4.9 0zM282 29.7a2.5 2.5 0 1 0 4.9 0a2.5 2.5 0 1 0 -4.9 0zM282.9 9.4a2.5 2.5 0 1 0 4.9 0a2.5 2.5 0 1 0 -4.9 0z"/>
<path fill="#469c9c" stroke="#0a8080" stroke-width="0.7" d="M48.3 143.5h5.8v5.8h-5.8zM49.4 141.4h5.8v5.8h-5.8zM50.5 139.1h5.8v5.8h-5.8zM51.6 137.4h5.8v5.8h-5.8zM52.8 137.5h5.8v5.8h-5.8zM53.9 137.2h5.8v5.8h-5.8zM55 134.4h5.8v5.8h-5.8zM56.1 134.1h5.8v5.8h-5.8zM57.3 137.7h5.8v5.8h-5.8zM58.4 134.7h5.8v5.8h-5.8zM59.5 132.4h5.8v5.8h-5.8zM60.7 133.9h5.8v5.8h-5.8zM61.8 132.4h5.8v5.8h-5.8zM62.9 132.9h5.8v5.8h-5.8zM64 131.4h5.8v5.8h-5.8zM65.2 129.9h5.8v5.8h-5.8zM66.3 131.9h5.8v5.8h-5.8zM67.4 131.2h5.8v5.8h-5.8zM68.5 129h5.8v5.8h-5.8zM69.7 128.9h5.8v5.8h-5.8zM70.8 128.5h5.8v5.8h-5.8zM71.9 129.5h5.8v5.8h-5.8zM73 128.7h5.8v5.8h-5.8zM74.2 127.7h5.8v5.8h-5.8zM75.3 127h5.8v5.8h-5.8zM76.4 126.5h5.8v5.8h-5.8zM77.6 127.2h5.8v5.8h-5.8zM78.7 123.8h5.8v5.8h-5.8zM79.8 123.6h5.8v5.8h-5.8zM80.9 124.6h5.8v5.8h-5.8zM82.1 123.9h5.8v5.8h-5.8zM83.2 126h5.8v5.8h-5.8zM84.3 125h5.8v5.8h-5.8zM85.4 122.3h5.8v5.8h-5.8zM86.6 124.4h5.8v5.8h-5.8zM87.7 125.2h5.8v5.8h-5.8zM88.8 124.9h5.8v5.8h-5.8zM90 124.8h5.8v5.8h-5.8zM91.1 122.3h5.8v5.8h-5.8zM92.2 121.7h5.8v5.8h-5.8zM93.3 123.3h5.8v5.8h-5.8zM94.5 124h5.8v5.8h-5.8zM95.6 122.5h5.8v5.8h-5.8zM96.7 121.4h5.8v5.8h-5.8zM97.8 121.1h5.8v5.8h-5.8zM99 120.2h5.8v5.8h-5.8zM100.1 121.8h5.8v5.8h-5.8zM101.2 122.1h5.8v5.8h-5.8zM102.3 119h5.8v5.8h-5.8zM103.5 118.3h5.8v5.8h-5.8zM104.6 119.8h5.8v5.8h-5.8zM105.7 120.6h5.8v5.8h-5.8zM106.9 119.5h5.8v5.8h-5.8zM108 118.1h5.8v5.8h-5.8zM109.1 118h5.8v5.8h-5.8zM110.2 116.8h5.8v5.8h-5.8zM111.4 115.4h5.8v5.8h-5.8zM112.5 117.4h5.8v5.8h-5.8zM113.6 118h5.8v5.8h-5.8zM114.7 117.4h5.8v5.8h-5.8zM115.9 118.7h5.8v5.8h-5.8zM117 118.7h5.8v5.8h-5.8zM118.1 117.4h5.8v5.8h-5.8zM119.3 118.6h5.8v5.8h-5.8zM120.4 119h5.8v5.8h-5.8zM121.5 116.5h5.8v5.8h-5.8zM122.6 116.3h5.8v5.8h-5.8zM123.8 116.8h5.8v5.8h-5.8zM124.9 115.1h5.8v5.8h-5.8zM126 114.6h5.8v5.8h-5.8zM127.1 115h5.8v5.8h-5.8zM128.3 112.9h5.8v5.8h-5.8zM129.4 112.7h5.8v5.8h-5.8zM130.5 114h5.8v5.8h-5.8zM131.7 113.5h5.8v5.8h-5.8zM132.8 112h5.8v5.8h-5.8zM133.9 111.9h5.8v5.8h-5.8zM135 113.1h5.8v5.8h-5.8zM136.2 113.3h5.8v5.8h-5.8zM137.3 112.1h5.8v5.8h-5.8zM138.4 112.3h5.8v5.8h-5.8zM139.5 112h5.8v5.8h-5.8zM140.7 111h5.8v5.8h-5.8zM141.8 113.1h5.8v5.8h-5.8zM142.9 112.5h5.8v5.8h-5.8zM144 110.6h5.8v5.8h-5.8zM145.2 112h5.8v5.8h-5.8zM146.3 111.8h5.8v5.8h-5.8zM147.4 110.3h5.8v5.8h-5.8zM148.6 110.7h5.8v5.8h-5.8zM149.7 111.7h5.8v5.8h-5.8zM150.8 109.2h5.8v5.8h-5.8zM151.9 107.3h5.8v5.8h-5.8zM153.1 108.1h5.8v5.8h-5.8zM154.2 107.7h5.8v5.8h-5.8zM155.3 107.6h5.8v5.8h-5.8zM156.4 107.6h5.8v5.8h-5.8zM157.6 108.4h5.8v5.8h-5.8zM158.7 108.1h5.8v5.8h-5.8zM159.8 107.7h5.8v5.8h-5.8zM161 108.7h5.8v5.8h-5.8zM162.1 107.6h5.8v5.8h-5.8zM163.2 107.1h5.8v5.8h-5.8zM164.3 109.1h5.8v5.8h-5.8zM165.5 109h5.8v5.8h-5.8zM166.6 106.7h5.8v5.8h-5.8zM167.7 106.1h5.8v5.8h-5.8zM168.8 105.6h5.8v5.8h-5.8zM170 105.7h5.8v5.8h-5.8zM171.1 107h5.8v5.8h-5.8zM172.2 105.8h5.8v5.8h-5.8zM173.4 104.6h5.8v5.8h-5.8zM174.5 106.1h5.8v5.8h-5.8zM175.6 105.6h5.8v5.8h-5.8zM176.7 104.5h5.8v5.8h-5.8zM177.9 103.8h5.8v5.8h-5.8zM179 102.6h5.8v5.8h-5.8zM180.1 102.9h5.8v5.8h-5.8zM181.2 105.3h5.8v5.8h-5.8zM182.4 105.2h5.8v5.8h-5.8zM183.5 102.5h5.8v5.8h-5.8zM184.6 102.2h5.8v5.8h-5.8zM185.7 102.3h5.8v5.8h-5.8zM186.9 103.1h5.8v5.8h-5.8zM188 103.2h5.8v5.8h-5.8zM189.1 104.3h5.8v5.8h-5.8zM190.3 104h5.8v5.8h-5.8zM191.4 103.3h5.8v5.8h-5.8zM192.5 103.1h5.8v5.8h-5.8zM193.6 102.1h5.8v5.8h-5.8zM194.8 100.3h5.8v5.8h-5.8zM195.9 99.4h5.8v5.8h-5.8zM197 100.4h5.8v5.8h-5.8zM198.1 100h5.8v5.8h-5.8zM199.3 97.9h5.8v5.8h-5.8zM200.4 98.6h5.8v5.8h-5.8zM201.5 100h5.8v5.8h-5.8zM202.7 98.5h5.8v5.8h-5.8zM203.8 98.4h5.8v5.8h-5.8zM204.9 98.3h5.8v5.8h-5.8zM206 98.6h5.8v5.8h-5.8zM207.2 97.4h5.8v5.8h-5.8zM208.3 95.9h5.8v5.8h-5.8zM209.4 97h5.8v5.8h-5.8zM210.5 97.6h5.8v5.8h-5.8zM211.7 96.7h5.8v5.8h-5.8zM212.8 95.7h5.8v5.8h-5.8zM213.9 95h5.8v5.8h-5.8zM215.1 95.1h5.8v5.8h-5.8zM216.2 96.6h5.8v5.8h-5.8zM217.3 95.3h5.8v5.8h-5.8zM218.4 95.2h5.8v5.8h-5.8zM219.6 96.6h5.8v5.8h-5.8zM220.7 94.4h5.8v5.8h-5.8zM221.8 93.9h5.8v5.8h-5.8zM222.9 92.5h5.8v5.8h-5.8zM224.1 89.8h5.8v5.8h-5.8zM225.2 89.4h5.8v5.8h-5.8zM226.3 90.1h5.8v5.8h-5.8zM227.4 90.5h5.8v5.8h-5.8zM228.6 89.9h5.8v5.8h-5.8zM229.7 89.7h5.8v5.8h-5.8zM230.8 87.8h5.8v5.8h-5.8zM232 87.6h5.8v5.8h-5.8zM233.1 87.7h5.8v5.8h-5.8zM234.2 86.1h5.8v5.8h-5.8zM235.3 86.5h5.8v5.8h-5.8zM236.5 85.5h5.8v5.8h-5.8zM237.6 84.1h5.8v5.8h-5.8zM238.7 83.7h5.8v5.8h-5.8zM239.8 84.4h5.8v5.8h-5.8zM241 85.3h5.8v5.8h-5.8zM242.1 85.3h5.8v5.8h-5.8zM243.2 83.3h5.8v5.8h-5.8zM244.4 81.5h5.8v5.8h-5.8zM245.5 81h5.8v5.8h-5.8zM246.6 81.5h5.8v5.8h-5.8zM247.7 80h5.8v5.8h-5.8zM248.9 80.1h5.8v5.8h-5.8zM250 80.9h5.8v5.8h-5.8zM251.1 78.5h5.8v5.8h-5.8zM252.2 78.6h5.8v5.8h-5.8zM253.4 79.7h5.8v5.8h-5.8zM254.5 79.1h5.8v5.8h-5.8zM255.6 78.5h5.8v5.8h-5.8zM256.7 77.7h5.8v5.8h-5.8zM257.9 77.3h5.8v5.8h-5.8zM259 77.8h5.8v5.8h-5.8zM260.1 76.1h5.8v5.8h-5.8zM261.3 75.8h5.8v5.8h-5.8zM262.4 75.5h5.8v5.8h-5.8zM263.5 73.8h5.8v5.8h-5.8zM264.6 72.2h5.8v5.8h-5.8zM265.8 71.2h5.8v5.8h-5.8zM266.9 72h5.8v5.8h-5.8zM268 70.2h5.8v5.8h-5.8zM269.1 69h5.8v5.8h-5.8z"/>
<path fill="rgba(205,228,228,.6)" stroke="#3c9c9c" stroke-width="0.7" d="M46.3 142.7h5.2v5.2h-5.2zM47.4 142.4h5.2v5.2h-5.2zM270.6 69.4h5.2v5.2h-5.2zM271.7 67.6h5.2v5.2h-5.2zM272.8 63.5h5.2v5.2h-5.2zM274 61.2h5.2v5.2h-5.2zM275.1 61.5h5.2v5.2h-5.2zM276.2 58.4h5.2v5.2h-5.2zM277.3 54.7h5.2v5.2h-5.2zM278.5 49.4h5.2v5.2h-5.2zM279.6 45.4h5.2v5.2h-5.2zM280.7 41.9h5.2v5.2h-5.2zM281.8 35.5h5.2v5.2h-5.2zM283 26.7h5.2v5.2h-5.2z"/>
<path fill="#a6caca" d="M50.9 141h1.2v1.2h-1.2zM53.1 139.1h1.2v1.2h-1.2zM55.4 136.7h1.2v1.2h-1.2zM57.6 135.3h1.2v1.2h-1.2zM59.9 134h1.2v1.2h-1.2zM62.1 133.2h1.2v1.2h-1.2zM64.4 132.9h1.2v1.2h-1.2zM66.6 131.5h1.2v1.2h-1.2zM68.9 129.8h1.2v1.2h-1.2zM71.1 129.5h1.2v1.2h-1.2zM73.4 129.4h1.2v1.2h-1.2zM75.6 128.6h1.2v1.2h-1.2zM77.9 127.9h1.2v1.2h-1.2zM80.2 126.7h1.2v1.2h-1.2zM82.4 125.7h1.2v1.2h-1.2zM84.7 124.9h1.2v1.2h-1.2zM86.9 123.9h1.2v1.2h-1.2zM89.2 123.9h1.2v1.2h-1.2zM91.4 123.5h1.2v1.2h-1.2zM93.7 123.2h1.2v1.2h-1.2zM95.9 122.8h1.2v1.2h-1.2zM98.2 121.5h1.2v1.2h-1.2zM100.4 121.2h1.2v1.2h-1.2zM102.7 121.2h1.2v1.2h-1.2zM105 120.6h1.2v1.2h-1.2zM107.2 119.4h1.2v1.2h-1.2zM109.5 118.8h1.2v1.2h-1.2zM111.7 119h1.2v1.2h-1.2zM114 118.3h1.2v1.2h-1.2zM116.2 117.4h1.2v1.2h-1.2zM118.5 117.3h1.2v1.2h-1.2zM120.7 117.1h1.2v1.2h-1.2zM123 116.1h1.2v1.2h-1.2zM125.2 115.6h1.2v1.2h-1.2zM127.5 115.2h1.2v1.2h-1.2zM129.7 115h1.2v1.2h-1.2zM132 114.7h1.2v1.2h-1.2zM134.3 114.5h1.2v1.2h-1.2zM136.5 114.2h1.2v1.2h-1.2zM138.8 113.1h1.2v1.2h-1.2zM141 112.5h1.2v1.2h-1.2zM143.3 112.7h1.2v1.2h-1.2zM145.5 112.2h1.2v1.2h-1.2zM147.8 111.8h1.2v1.2h-1.2zM150 111.1h1.2v1.2h-1.2zM152.3 110.1h1.2v1.2h-1.2zM154.5 110h1.2v1.2h-1.2zM156.8 109.6h1.2v1.2h-1.2zM159 108.3h1.2v1.2h-1.2zM161.3 108.4h1.2v1.2h-1.2zM163.6 108.3h1.2v1.2h-1.2zM165.8 107.4h1.2v1.2h-1.2zM168.1 106.8h1.2v1.2h-1.2zM170.3 106.1h1.2v1.2h-1.2zM172.6 105.6h1.2v1.2h-1.2zM174.8 105.4h1.2v1.2h-1.2zM177.1 105.3h1.2v1.2h-1.2zM179.3 104.3h1.2v1.2h-1.2zM181.6 103.9h1.2v1.2h-1.2zM183.8 103.7h1.2v1.2h-1.2zM186.1 102.8h1.2v1.2h-1.2zM188.3 102.8h1.2v1.2h-1.2zM190.6 102.6h1.2v1.2h-1.2zM192.9 101.6h1.2v1.2h-1.2zM195.1 101.6h1.2v1.2h-1.2zM197.4 101.3h1.2v1.2h-1.2zM199.6 100.4h1.2v1.2h-1.2zM201.9 100.2h1.2v1.2h-1.2zM204.1 99.9h1.2v1.2h-1.2zM206.4 99.2h1.2v1.2h-1.2zM208.6 98.6h1.2v1.2h-1.2zM210.9 97.9h1.2v1.2h-1.2zM213.1 97.3h1.2v1.2h-1.2zM215.4 96.7h1.2v1.2h-1.2zM217.7 95.6h1.2v1.2h-1.2zM219.9 95.6h1.2v1.2h-1.2zM222.2 95h1.2v1.2h-1.2zM224.4 93.7h1.2v1.2h-1.2zM226.7 93.2h1.2v1.2h-1.2zM228.9 92.3h1.2v1.2h-1.2zM231.2 90.5h1.2v1.2h-1.2zM233.4 89.6h1.2v1.2h-1.2zM235.7 88.4h1.2v1.2h-1.2zM237.9 87.5h1.2v1.2h-1.2zM240.2 87h1.2v1.2h-1.2zM242.4 85.5h1.2v1.2h-1.2zM244.7 83.9h1.2v1.2h-1.2zM247 83h1.2v1.2h-1.2zM249.2 82h1.2v1.2h-1.2zM251.5 80.6h1.2v1.2h-1.2zM253.7 79.5h1.2v1.2h-1.2zM256 78.1h1.2v1.2h-1.2zM258.2 76.6h1.2v1.2h-1.2zM260.5 75.9h1.2v1.2h-1.2zM262.7 74.9h1.2v1.2h-1.2zM265 74.1h1.2v1.2h-1.2zM267.2 72.7h1.2v1.2h-1.2zM269.5 71.4h1.2v1.2h-1.2zM271.7 69.7h1.2v1.2h-1.2zM52 142h1.2v1.2h-1.2zM54.2 140.6h1.2v1.2h-1.2zM56.5 139.1h1.2v1.2h-1.2zM58.7 137.6h1.2v1.2h-1.2zM61 136.5h1.2v1.2h-1.2zM63.3 135.7h1.2v1.2h-1.2zM65.5 134.6h1.2v1.2h-1.2zM67.8 133.6h1.2v1.2h-1.2zM70 132.7h1.2v1.2h-1.2zM72.3 131.8h1.2v1.2h-1.2zM74.5 131h1.2v1.2h-1.2zM76.8 130.5h1.2v1.2h-1.2zM79 129.5h1.2v1.2h-1.2zM81.3 129.1h1.2v1.2h-1.2zM83.5 128.5h1.2v1.2h-1.2zM85.8 127.6h1.2v1.2h-1.2zM88 127h1.2v1.2h-1.2zM90.3 126h1.2v1.2h-1.2zM92.6 126h1.2v1.2h-1.2zM94.8 125.4h1.2v1.2h-1.2zM97.1 123.9h1.2v1.2h-1.2zM99.3 123.2h1.2v1.2h-1.2zM101.6 123h1.2v1.2h-1.2zM103.8 123.3h1.2v1.2h-1.2zM106.1 122.9h1.2v1.2h-1.2zM108.3 122h1.2v1.2h-1.2zM110.6 121.2h1.2v1.2h-1.2zM112.8 120.6h1.2v1.2h-1.2zM115.1 120.6h1.2v1.2h-1.2zM117.3 120.6h1.2v1.2h-1.2zM119.6 119.7h1.2v1.2h-1.2zM121.9 119h1.2v1.2h-1.2zM124.1 118.8h1.2v1.2h-1.2zM126.4 117.9h1.2v1.2h-1.2zM128.6 117.4h1.2v1.2h-1.2zM130.9 117.2h1.2v1.2h-1.2zM133.1 116.1h1.2v1.2h-1.2zM135.4 115.9h1.2v1.2h-1.2zM137.6 116.2h1.2v1.2h-1.2zM139.9 115.5h1.2v1.2h-1.2zM142.1 114.5h1.2v1.2h-1.2zM144.4 114.6h1.2v1.2h-1.2zM146.6 114.6h1.2v1.2h-1.2zM148.9 114h1.2v1.2h-1.2zM151.2 113.9h1.2v1.2h-1.2zM153.4 112.9h1.2v1.2h-1.2zM155.7 112.3h1.2v1.2h-1.2zM157.9 111.9h1.2v1.2h-1.2zM160.2 111.2h1.2v1.2h-1.2zM162.4 110.8h1.2v1.2h-1.2zM164.7 110.3h1.2v1.2h-1.2zM166.9 110.2h1.2v1.2h-1.2zM169.2 109.7h1.2v1.2h-1.2zM171.4 108.9h1.2v1.2h-1.2zM173.7 108.3h1.2v1.2h-1.2zM176 107.9h1.2v1.2h-1.2zM178.2 107.3h1.2v1.2h-1.2zM180.5 106.5h1.2v1.2h-1.2zM182.7 106.3h1.2v1.2h-1.2zM185 105.8h1.2v1.2h-1.2zM187.2 105.4h1.2v1.2h-1.2zM189.5 104.9h1.2v1.2h-1.2zM191.7 105h1.2v1.2h-1.2zM194 105.1h1.2v1.2h-1.2zM196.2 104.2h1.2v1.2h-1.2zM198.5 103.3h1.2v1.2h-1.2zM200.7 103.3h1.2v1.2h-1.2zM203 102.9h1.2v1.2h-1.2zM205.3 101.7h1.2v1.2h-1.2zM207.5 101.2h1.2v1.2h-1.2zM209.8 100.7h1.2v1.2h-1.2zM212 100.4h1.2v1.2h-1.2zM214.3 99.7h1.2v1.2h-1.2zM216.5 99.3h1.2v1.2h-1.2zM218.8 98.3h1.2v1.2h-1.2zM221 97.2h1.2v1.2h-1.2zM223.3 96.3h1.2v1.2h-1.2zM225.5 95.7h1.2v1.2h-1.2zM227.8 95h1.2v1.2h-1.2zM230 93.4h1.2v1.2h-1.2zM232.3 92.8h1.2v1.2h-1.2zM234.6 92.1h1.2v1.2h-1.2zM236.8 90.4h1.2v1.2h-1.2zM239.1 88.9h1.2v1.2h-1.2zM241.3 87.8h1.2v1.2h-1.2zM243.6 86.8h1.2v1.2h-1.2zM245.8 86.1h1.2v1.2h-1.2zM248.1 84.8h1.2v1.2h-1.2zM250.3 83.5h1.2v1.2h-1.2zM252.6 82.3h1.2v1.2h-1.2zM254.8 81.1h1.2v1.2h-1.2zM257.1 80.2h1.2v1.2h-1.2zM259.3 79.7h1.2v1.2h-1.2zM261.6 77.9h1.2v1.2h-1.2zM263.9 76.4h1.2v1.2h-1.2zM266.1 75.8h1.2v1.2h-1.2zM268.4 74.7h1.2v1.2h-1.2zM270.6 72.9h1.2v1.2h-1.2zM50.9 145.5h1.2v1.2h-1.2zM53.1 143.9h1.2v1.2h-1.2zM55.4 141.8h1.2v1.2h-1.2zM57.6 139.8h1.2v1.2h-1.2zM59.9 139.2h1.2v1.2h-1.2zM62.1 138.6h1.2v1.2h-1.2zM64.4 137.1h1.2v1.2h-1.2zM66.6 135.5h1.2v1.2h-1.2zM68.9 134.7h1.2v1.2h-1.2zM71.1 134h1.2v1.2h-1.2zM73.4 133h1.2v1.2h-1.2zM75.6 132.4h1.2v1.2h-1.2zM77.9 131.8h1.2v1.2h-1.2zM80.2 130.8h1.2v1.2h-1.2zM82.4 130.6h1.2v1.2h-1.2zM84.7 130.1h1.2v1.2h-1.2zM86.9 129.2h1.2v1.2h-1.2zM89.2 128.9h1.2v1.2h-1.2zM91.4 128.5h1.2v1.2h-1.2zM93.7 127.6h1.2v1.2h-1.2zM95.9 126.9h1.2v1.2h-1.2zM98.2 126.2h1.2v1.2h-1.2zM100.4 126h1.2v1.2h-1.2zM102.7 125.8h1.2v1.2h-1.2zM105 124.7h1.2v1.2h-1.2zM107.2 124h1.2v1.2h-1.2zM109.5 123.9h1.2v1.2h-1.2zM111.7 123.6h1.2v1.2h-1.2zM114 123.4h1.2v1.2h-1.2zM116.2 123.1h1.2v1.2h-1.2zM118.5 122.1h1.2v1.2h-1.2zM120.7 121.4h1.2v1.2h-1.2zM123 120.8h1.2v1.2h-1.2zM125.2 120.4h1.2v1.2h-1.2zM127.5 120.3h1.2v1.2h-1.2zM129.7 120.5h1.2v1.2h-1.2zM132 120h1.2v1.2h-1.2zM134.3 118.4h1.2v1.2h-1.2zM136.5 117.8h1.2v1.2h-1.2zM138.8 117.8h1.2v1.2h-1.2zM141 117.2h1.2v1.2h-1.2zM143.3 116.6h1.2v1.2h-1.2zM145.5 116.3h1.2v1.2h-1.2zM147.8 116.1h1.2v1.2h-1.2zM150 115.7h1.2v1.2h-1.2zM152.3 115h1.2v1.2h-1.2zM154.5 114.7h1.2v1.2h-1.2zM156.8 114.3h1.2v1.2h-1.2zM159 113.6h1.2v1.2h-1.2zM161.3 112.9h1.2v1.2h-1.2zM163.6 112.4h1.2v1.2h-1.2zM165.8 112.4h1.2v1.2h-1.2zM168.1 111.7h1.2v1.2h-1.2zM170.3 111h1.2v1.2h-1.2zM172.6 111.1h1.2v1.2h-1.2zM174.8 110.5h1.2v1.2h-1.2zM177.1 109.9h1.2v1.2h-1.2zM179.3 109.3h1.2v1.2h-1.2zM181.6 109.1h1.2v1.2h-1.2zM183.8 109.1h1.2v1.2h-1.2zM186.1 108.4h1.2v1.2h-1.2zM188.3 107.3h1.2v1.2h-1.2zM190.6 106.5h1.2v1.2h-1.2zM192.9 106.7h1.2v1.2h-1.2zM195.1 106.9h1.2v1.2h-1.2zM197.4 106.2h1.2v1.2h-1.2zM199.6 105.6h1.2v1.2h-1.2zM201.9 104.9h1.2v1.2h-1.2zM204.1 104h1.2v1.2h-1.2zM206.4 103.6h1.2v1.2h-1.2zM208.6 103.2h1.2v1.2h-1.2zM210.9 102.3h1.2v1.2h-1.2zM213.1 101.8h1.2v1.2h-1.2zM215.4 101.8h1.2v1.2h-1.2zM217.7 100.7h1.2v1.2h-1.2zM219.9 99.3h1.2v1.2h-1.2zM222.2 98.9h1.2v1.2h-1.2zM224.4 98.2h1.2v1.2h-1.2zM226.7 96.6h1.2v1.2h-1.2zM228.9 96h1.2v1.2h-1.2zM231.2 95.6h1.2v1.2h-1.2zM233.4 94.2h1.2v1.2h-1.2zM235.7 93.6h1.2v1.2h-1.2zM237.9 92.7h1.2v1.2h-1.2zM240.2 91h1.2v1.2h-1.2zM242.4 89.9h1.2v1.2h-1.2zM244.7 88.7h1.2v1.2h-1.2zM247 87.4h1.2v1.2h-1.2zM249.2 86.6h1.2v1.2h-1.2zM251.5 85.5h1.2v1.2h-1.2zM253.7 84.1h1.2v1.2h-1.2zM256 83.4h1.2v1.2h-1.2zM258.2 82.6h1.2v1.2h-1.2zM260.5 81.2h1.2v1.2h-1.2zM262.7 80.1h1.2v1.2h-1.2zM265 79h1.2v1.2h-1.2zM267.2 78.1h1.2v1.2h-1.2zM269.5 76.6h1.2v1.2h-1.2zM271.7 74.7h1.2v1.2h-1.2z"/>
<path fill="none" stroke="#0000c0" stroke-width="1.2" d="M46.9 204.2h4M48 201.5h4M49.2 200.4h4M50.3 200.1h4M51.4 198.9h4M52.5 199h4M53.7 199h4M54.8 198.8h4M55.9 197.5h4M57 197.8h4M58.2 197.6h4M59.3 197.2h4M60.4 197.3h4M61.6 198.1h4M62.7 198h4M63.8 198.3h4M64.9 198.6h4M66.1 199h4M67.2 198.4h4M68.3 199.1h4M69.4 197.9h4M70.6 197.1h4M71.7 196.6h4M72.8 196.7h4M73.9 196.3h4M75.1 196.1h4M76.2 196.5h4M77.3 196.3h4M78.5 196.5h4M79.6 195.5h4M80.7 195.6h4M81.8 195.4h4M83 194.7h4M84.1 193.9h4M85.2 193.5h4M86.3 192.5h4M87.5 192.3h4M88.6 191.6h4M89.7 191.6h4M90.9 191.5h4M92 191.4h4M93.1 190.4h4M94.2 190.4h4M95.4 189.9h4M96.5 189.5h4M97.6 189.3h4M98.7 189.6h4M99.9 189.2h4M101 188.9h4M102.1 187.9h4M103.2 187.8h4M104.4 187.3h4M105.5 187.2h4M106.6 187.3h4M107.8 187.8h4M108.9 186.5h4M110 186.3h4M111.1 185.8h4M112.3 185.6h4M113.4 186.1h4M114.5 186.7h4M115.6 186.5h4M116.8 186.5h4M117.9 185.7h4M119 184.5h4M120.2 184.5h4M121.3 183.6h4M122.4 183.6h4M123.5 182.6h4M124.7 181.9h4M125.8 181.2h4M126.9 181.6h4M128 180.6h4M129.2 180.5h4M130.3 180.2h4M131.4 179.6h4M132.6 179.6h4M133.7 179.3h4M134.8 179.5h4M135.9 179.7h4M137.1 179.7h4M138.2 179.4h4M139.3 180.1h4M140.4 180h4M141.6 179.9h4M142.7 179.7h4M143.8 180h4M144.9 178.7h4M146.1 178.8h4M147.2 178.3h4M148.3 177.9h4M149.5 176.8h4M150.6 176.7h4M151.7 176h4M152.8 175.7h4M154 175.8h4M155.1 175.4h4M156.2 176.3h4M157.3 176.3h4M158.5 176.3h4M159.6 175.7h4M160.7 175.8h4M161.9 174.8h4M163 174.3h4M164.1 174.2h4M165.2 174.2h4M166.4 173.8h4M167.5 173.9h4M168.6 173.6h4M169.7 173.4h4M170.9 173.8h4M172 174.3h4M173.1 174h4M174.3 173.6h4M175.4 172.8h4M176.5 171.5h4M177.6 171.3h4M178.8 170.9h4M179.9 171.2h4M181 171.2h4M182.1 171.5h4M183.3 171.5h4M184.4 171.2h4M185.5 170.8h4M186.6 170.5h4M187.8 170.5h4M188.9 169.4h4M190 169h4M191.2 168.4h4M192.3 167.9h4M193.4 167.4h4M194.5 168.3h4M195.7 168h4M196.8 168.5h4M197.9 168.7h4M199 167.9h4M200.2 166.6h4M201.3 166.5h4M202.4 165.7h4M203.6 165.9h4M204.7 165.2h4M205.8 165.1h4M206.9 164.9h4M208.1 164.6h4M209.2 163.7h4M210.3 164.2h4M211.4 163.7h4M212.6 163.4h4M213.7 163.4h4M214.8 162.3h4M216 162.1h4M217.1 162.3h4M218.2 162.1h4M219.3 161.8h4M220.5 161.5h4M221.6 160.5h4M222.7 159h4M223.8 158h4M225 157.4h4M226.1 157.1h4M227.2 156.5h4M228.3 155.6h4M229.5 155.1h4M230.6 154.3h4M231.7 153.7h4M232.9 152.9h4M234 153.5h4M235.1 152.6h4M236.2 151.6h4M237.4 150.9h4M238.5 150.9h4M239.6 150.4h4M240.7 150.2h4M241.9 149.7h4M243 149.1h4M244.1 148.4h4M245.3 146.8h4M246.4 146.4h4M247.5 146.4h4M248.6 146.1h4M249.8 145.7h4M250.9 145.9h4M252 145.6h4M253.1 144.4h4M254.3 144.5h4M255.4 143.8h4M256.5 142.9h4M257.6 142.1h4M258.8 142h4M259.9 141h4M261 139.9h4M262.2 139.2h4M263.3 138.9h4M264.4 138.8h4M265.5 138.5h4M266.7 138.5h4M267.8 137.7h4M268.9 136.1h4M270 134.5h4M271.2 132.8h4M272.3 130.8h4M273.4 129.7h4M274.6 128.1h4M275.7 126.1h4M276.8 124.7h4M277.9 123h4M279.1 121h4M280.2 118.6h4M281.3 116h4M282.4 111.3h4M283.6 105.4h4"/>
<path fill="none" stroke="#33ccff" stroke-width="1.6" d="M46.5 218.2h4.8M47.6 216.4h4.8M48.8 214.6h4.8M49.9 213.4h4.8M51 212.7h4.8M52.1 212.1h4.8M53.3 211.1h4.8M54.4 210.6h4.8M55.5 210.4h4.8M56.6 210.2h4.8M57.8 209.5h4.8M58.9 208.3h4.8M60 208.6h4.8M61.2 207.8h4.8M62.3 207.4h4.8M63.4 206.4h4.8M64.5 205.9h4.8M65.7 206h4.8M66.8 205.9h4.8M67.9 206h4.8M69 205.4h4.8M70.2 203.4h4.8M71.3 203.1h4.8M72.4 202.2h4.8M73.5 203.6h4.8M74.7 203.7h4.8M75.8 204.3h4.8M76.9 203.6h4.8M78.1 202.7h4.8M79.2 202.1h4.8M80.3 201.7h4.8M81.4 201.1h4.8M82.6 200.4h4.8M83.7 200.8h4.8M84.8 200.6h4.8M85.9 201.1h4.8M87.1 200h4.8M88.2 199.7h4.8M89.3 198.8h4.8M90.5 198.8h4.8M91.6 198.7h4.8M92.7 198.6h4.8M93.8 197.7h4.8M95 196.7h4.8M96.1 196.9h4.8M97.2 196.8h4.8M98.3 196.7h4.8M99.5 196.3h4.8M100.6 196.6h4.8M101.7 196.7h4.8M102.8 195.6h4.8M104 195.9h4.8M105.1 195.6h4.8M106.2 195.7h4.8M107.4 194.4h4.8M108.5 193.4h4.8M109.6 192.4h4.8M110.7 192.4h4.8M111.9 193h4.8M113 193.2h4.8M114.1 192.4h4.8M115.2 191.4h4.8M116.4 191.1h4.8M117.5 190.8h4.8M118.6 191.6h4.8M119.8 192.1h4.8M120.9 193.7h4.8M122 193.5h4.8M123.1 192.6h4.8M124.3 190.8h4.8M125.4 188.7h4.8M126.5 188.6h4.8M127.6 188.7h4.8M128.8 190.4h4.8M129.9 190.7h4.8M131 190.8h4.8M132.2 190.3h4.8M133.3 190.1h4.8M134.4 190.3h4.8M135.5 189.6h4.8M136.7 188.9h4.8M137.8 187.5h4.8M138.9 188.4h4.8M140 189h4.8M141.2 189.8h4.8M142.3 188.4h4.8M143.4 187.7h4.8M144.5 187.1h4.8M145.7 187.4h4.8M146.8 187.1h4.8M147.9 187.3h4.8M149.1 186.9h4.8M150.2 187.1h4.8M151.3 186.8h4.8M152.4 186.7h4.8M153.6 186.1h4.8M154.7 185.6h4.8M155.8 185.9h4.8M156.9 185.6h4.8M158.1 185.7h4.8M159.2 185h4.8M160.3 184.3h4.8M161.5 184.4h4.8M162.6 183.9h4.8M163.7 184.6h4.8M164.8 184.2h4.8M166 183.7h4.8M167.1 182.8h4.8M168.2 182.2h4.8M169.3 182.3h4.8M170.5 182h4.8M171.6 182.3h4.8M172.7 182.3h4.8M173.9 182.8h4.8M175 182h4.8M176.1 182h4.8M177.2 181.3h4.8M178.4 181.2h4.8M179.5 181h4.8M180.6 181.1h4.8M181.7 180.7h4.8M182.9 179.7h4.8M184 179.5h4.8M185.1 179.6h4.8M186.2 179.6h4.8M187.4 179h4.8M188.5 178.8h4.8M189.6 179.7h4.8M190.8 179.6h4.8M191.9 179.2h4.8M193 178h4.8M194.1 176.7h4.8M195.3 176.3h4.8M196.4 175.5h4.8M197.5 176.9h4.8M198.6 176.5h4.8M199.8 176.1h4.8M200.9 175.1h4.8M202 174.9h4.8M203.2 174.7h4.8M204.3 174.4h4.8M205.4 173.4h4.8M206.5 173.2h4.8M207.7 173.2h4.8M208.8 174.3h4.8M209.9 174.3h4.8M211 173.8h4.8M212.2 173h4.8M213.3 172.8h4.8M214.4 173h4.8M215.6 172.6h4.8M216.7 171.7h4.8M217.8 170.6h4.8M218.9 169.8h4.8M220.1 169.5h4.8M221.2 169.1h4.8M222.3 168.1h4.8M223.4 166.6h4.8M224.6 165.7h4.8M225.7 164.6h4.8M226.8 165h4.8M227.9 164.8h4.8M229.1 164.3h4.8M230.2 164h4.8M231.3 163.8h4.8M232.5 164h4.8M233.6 163.9h4.8M234.7 163.7h4.8M235.8 162.6h4.8M237 161.7h4.8M238.1 160.5h4.8M239.2 160.6h4.8M240.3 160h4.8M241.5 158.9h4.8M242.6 157.9h4.8M243.7 156.5h4.8M244.9 155.9h4.8M246 155.5h4.8M247.1 154.6h4.8M248.2 153.8h4.8M249.4 153.5h4.8M250.5 153.4h4.8M251.6 153.4h4.8M252.7 151.7h4.8M253.9 150.7h4.8M255 149.7h4.8M256.1 149.8h4.8M257.2 149.2h4.8M258.4 149.2h4.8M259.5 148.5h4.8M260.6 148.1h4.8M261.8 147.1h4.8M262.9 146.8h4.8M264 145.9h4.8M265.1 145.6h4.8M266.3 144.7h4.8M267.4 144.1h4.8M268.5 142.7h4.8M269.6 141.7h4.8M270.8 141h4.8M271.9 140.2h4.8M273 138.9h4.8M274.2 137.5h4.8M275.3 135.6h4.8M276.4 134.2h4.8M277.5 131.9h4.8M278.7 128.8h4.8M279.8 126.4h4.8M280.9 123.6h4.8M282 119.3h4.8M283.2 112.4h4.8"/>
<path fill="#ccffff" d="M48.9 206.5l3 3l-3 3l-3 -3zM50 203.7l3 3l-3 3l-3 -3zM51.2 201.9l3 3l-3 3l-3 -3zM52.3 200.4l3 3l-3 3l-3 -3zM53.4 199.9l3 3l-3 3l-3 -3zM54.5 199.7l3 3l-3 3l-3 -3zM55.7 198.5l3 3l-3 3l-3 -3zM56.8 198.2l3 3l-3 3l-3 -3zM57.9 198.4l3 3l-3 3l-3 -3zM59 198l3 3l-3 3l-3 -3zM60.2 197.8l3 3l-3 3l-3 -3zM61.3 196.8l3 3l-3 3l-3 -3zM62.4 197.7l3 3l-3 3l-3 -3zM63.6 197.1l3 3l-3 3l-3 -3zM64.7 196.9l3 3l-3 3l-3 -3zM65.8 196.3l3 3l-3 3l-3 -3zM66.9 196l3 3l-3 3l-3 -3zM68.1 195.6l3 3l-3 3l-3 -3zM69.2 195.2l3 3l-3 3l-3 -3zM70.3 194.7l3 3l-3 3l-3 -3zM71.4 194l3 3l-3 3l-3 -3zM72.6 194.1l3 3l-3 3l-3 -3zM73.7 193.9l3 3l-3 3l-3 -3zM74.8 193.9l3 3l-3 3l-3 -3zM75.9 193.1l3 3l-3 3l-3 -3zM77.1 192.5l3 3l-3 3l-3 -3zM78.2 191.9l3 3l-3 3l-3 -3zM79.3 191.3l3 3l-3 3l-3 -3zM80.5 191.2l3 3l-3 3l-3 -3zM81.6 191.3l3 3l-3 3l-3 -3zM82.7 191.4l3 3l-3 3l-3 -3zM83.8 191l3 3l-3 3l-3 -3zM85 190.8l3 3l-3 3l-3 -3zM86.1 190.2l3 3l-3 3l-3 -3zM87.2 189.7l3 3l-3 3l-3 -3zM88.3 189.2l3 3l-3 3l-3 -3zM89.5 188.4l3 3l-3 3l-3 -3zM90.6 188.6l3 3l-3 3l-3 -3zM91.7 188.3l3 3l-3 3l-3 -3zM92.9 188.2l3 3l-3 3l-3 -3zM94 187.2l3 3l-3 3l-3 -3zM95.1 186.7l3 3l-3 3l-3 -3zM96.2 186.1l3 3l-3 3l-3 -3zM97.4 186.4l3 3l-3 3l-3 -3zM98.5 186l3 3l-3 3l-3 -3zM99.6 185.7l3 3l-3 3l-3 -3zM100.7 185.4l3 3l-3 3l-3 -3zM101.9 185.4l3 3l-3 3l-3 -3zM103 185.2l3 3l-3 3l-3 -3zM104.1 185l3 3l-3 3l-3 -3zM105.2 184.5l3 3l-3 3l-3 -3zM106.4 184.4l3 3l-3 3l-3 -3zM107.5 183.9l3 3l-3 3l-3 -3zM108.6 183.6l3 3l-3 3l-3 -3zM109.8 183.4l3 3l-3 3l-3 -3zM110.9 183.1l3 3l-3 3l-3 -3zM112 183.6l3 3l-3 3l-3 -3zM113.1 184l3 3l-3 3l-3 -3zM114.3 183.8l3 3l-3 3l-3 -3zM115.4 183.7l3 3l-3 3l-3 -3zM116.5 183.1l3 3l-3 3l-3 -3zM117.6 183.2l3 3l-3 3l-3 -3zM118.8 182.8l3 3l-3 3l-3 -3zM119.9 182.8l3 3l-3 3l-3 -3zM121 183.2l3 3l-3 3l-3 -3zM122.2 182.9l3 3l-3 3l-3 -3zM123.3 182.4l3 3l-3 3l-3 -3zM124.4 181.9l3 3l-3 3l-3 -3zM125.5 181.6l3 3l-3 3l-3 -3zM126.7 181.7l3 3l-3 3l-3 -3zM127.8 180.3l3 3l-3 3l-3 -3zM128.9 180.6l3 3l-3 3l-3 -3zM130 180.8l3 3l-3 3l-3 -3zM131.2 181.7l3 3l-3 3l-3 -3zM132.3 181.6l3 3l-3 3l-3 -3zM133.4 181.7l3 3l-3 3l-3 -3zM134.6 181.3l3 3l-3 3l-3 -3zM135.7 181.1l3 3l-3 3l-3 -3zM136.8 180.2l3 3l-3 3l-3 -3zM137.9 180l3 3l-3 3l-3 -3zM139.1 179.9l3 3l-3 3l-3 -3zM140.2 180l3 3l-3 3l-3 -3zM141.3 179.6l3 3l-3 3l-3 -3zM142.4 179.2l3 3l-3 3l-3 -3zM143.6 178.9l3 3l-3 3l-3 -3zM144.7 178.9l3 3l-3 3l-3 -3zM145.8 178.8l3 3l-3 3l-3 -3zM146.9 178.6l3 3l-3 3l-3 -3zM148.1 178.2l3 3l-3 3l-3 -3zM149.2 177.6l3 3l-3 3l-3 -3zM150.3 178.1l3 3l-3 3l-3 -3zM151.5 177.9l3 3l-3 3l-3 -3zM152.6 178.1l3 3l-3 3l-3 -3zM153.7 177.6l3 3l-3 3l-3 -3zM154.8 178.1l3 3l-3 3l-3 -3zM156 177.5l3 3l-3 3l-3 -3zM157.1 177.1l3 3l-3 3l-3 -3zM158.2 176.8l3 3l-3 3l-3 -3zM159.3 177.2l3 3l-3 3l-3 -3zM160.5 176.9l3 3l-3 3l-3 -3zM161.6 176.3l3 3l-3 3l-3 -3zM162.7 176.2l3 3l-3 3l-3 -3zM163.9 176.5l3 3l-3 3l-3 -3zM165 176.8l3 3l-3 3l-3 -3zM166.1 176.1l3 3l-3 3l-3 -3zM167.2 175.8l3 3l-3 3l-3 -3zM168.4 175.5l3 3l-3 3l-3 -3zM169.5 175.7l3 3l-3 3l-3 -3zM170.6 175l3 3l-3 3l-3 -3zM171.7 174.8l3 3l-3 3l-3 -3zM172.9 174.3l3 3l-3 3l-3 -3zM174 174.1l3 3l-3 3l-3 -3zM175.1 173.9l3 3l-3 3l-3 -3zM176.3 173.8l3 3l-3 3l-3 -3zM177.4 173.8l3 3l-3 3l-3 -3zM178.5 173.6l3 3l-3 3l-3 -3zM179.6 172.9l3 3l-3 3l-3 -3zM180.8 172.8l3 3l-3 3l-3 -3zM181.9 172.6l3 3l-3 3l-3 -3zM183 172.8l3 3l-3 3l-3 -3zM184.1 172.9l3 3l-3 3l-3 -3zM185.3 172.1l3 3l-3 3l-3 -3zM186.4 171.4l3 3l-3 3l-3 -3zM187.5 170.9l3 3l-3 3l-3 -3zM188.6 171.1l3 3l-3 3l-3 -3zM189.8 171.8l3 3l-3 3l-3 -3zM190.9 171.7l3 3l-3 3l-3 -3zM192 171l3 3l-3 3l-3 -3zM193.2 170.3l3 3l-3 3l-3 -3zM194.3 169.6l3 3l-3 3l-3 -3zM195.4 169.1l3 3l-3 3l-3 -3zM196.5 169.4l3 3l-3 3l-3 -3zM197.7 169.4l3 3l-3 3l-3 -3zM198.8 169.7l3 3l-3 3l-3 -3zM199.9 168.8l3 3l-3 3l-3 -3zM201 168.9l3 3l-3 3l-3 -3zM202.2 168.5l3 3l-3 3l-3 -3zM203.3 168.3l3 3l-3 3l-3 -3zM204.4 167.2l3 3l-3 3l-3 -3zM205.6 166.4l3 3l-3 3l-3 -3zM206.7 166.1l3 3l-3 3l-3 -3zM207.8 166.4l3 3l-3 3l-3 -3zM208.9 166.6l3 3l-3 3l-3 -3zM210.1 165.9l3 3l-3 3l-3 -3zM211.2 165.2l3 3l-3 3l-3 -3zM212.3 164.5l3 3l-3 3l-3 -3zM213.4 164.5l3 3l-3 3l-3 -3zM214.6 164.2l3 3l-3 3l-3 -3zM215.7 164.2l3 3l-3 3l-3 -3zM216.8 163.4l3 3l-3 3l-3 -3zM218 163.1l3 3l-3 3l-3 -3zM219.1 162.7l3 3l-3 3l-3 -3zM220.2 162.4l3 3l-3 3l-3 -3zM221.3 161.3l3 3l-3 3l-3 -3zM222.5 160.9l3 3l-3 3l-3 -3zM223.6 160.8l3 3l-3 3l-3 -3zM224.7 160.5l3 3l-3 3l-3 -3zM225.8 159.8l3 3l-3 3l-3 -3zM227 158.9l3 3l-3 3l-3 -3zM228.1 158.8l3 3l-3 3l-3 -3zM229.2 158.4l3 3l-3 3l-3 -3zM230.3 157.1l3 3l-3 3l-3 -3zM231.5 156.4l3 3l-3 3l-3 -3zM232.6 155.3l3 3l-3 3l-3 -3zM233.7 154.9l3 3l-3 3l-3 -3zM234.9 154.3l3 3l-3 3l-3 -3zM236 154l3 3l-3 3l-3 -3zM237.1 153.9l3 3l-3 3l-3 -3zM238.2 154l3 3l-3 3l-3 -3zM239.4 153.7l3 3l-3 3l-3 -3zM240.5 153l3 3l-3 3l-3 -3zM241.6 151.2l3 3l-3 3l-3 -3zM242.7 150.2l3 3l-3 3l-3 -3zM243.9 149l3 3l-3 3l-3 -3zM245 148.5l3 3l-3 3l-3 -3zM246.1 147.7l3 3l-3 3l-3 -3zM247.3 147.1l3 3l-3 3l-3 -3zM248.4 146.5l3 3l-3 3l-3 -3zM249.5 145.9l3 3l-3 3l-3 -3zM250.6 144.9l3 3l-3 3l-3 -3zM251.8 143.9l3 3l-3 3l-3 -3zM252.9 143.6l3 3l-3 3l-3 -3zM254 143.3l3 3l-3 3l-3 -3zM255.1 143.3l3 3l-3 3l-3 -3zM256.3 142.7l3 3l-3 3l-3 -3zM257.4 141.8l3 3l-3 3l-3 -3zM258.5 141l3 3l-3 3l-3 -3zM259.6 139.5l3 3l-3 3l-3 -3zM260.8 139.5l3 3l-3 3l-3 -3zM261.9 139l3 3l-3 3l-3 -3zM263 138.6l3 3l-3 3l-3 -3zM264.2 136.9l3 3l-3 3l-3 -3zM265.3 135.9l3 3l-3 3l-3 -3zM266.4 134.7l3 3l-3 3l-3 -3zM267.5 134l3 3l-3 3l-3 -3zM268.7 133.2l3 3l-3 3l-3 -3zM269.8 132.8l3 3l-3 3l-3 -3zM270.9 131.8l3 3l-3 3l-3 -3zM272 130.7l3 3l-3 3l-3 -3zM273.2 129.3l3 3l-3 3l-3 -3zM274.3 128.3l3 3l-3 3l-3 -3zM275.4 126.5l3 3l-3 3l-3 -3zM276.6 125.1l3 3l-3 3l-3 -3zM277.7 123.5l3 3l-3 3l-3 -3zM278.8 121.6l3 3l-3 3l-3 -3zM279.9 120.3l3 3l-3 3l-3 -3zM281.1 117.8l3 3l-3 3l-3 -3zM282.2 116.1l3 3l-3 3l-3 -3zM283.3 112.4l3 3l-3 3l-3 -3zM284.4 108.1l3 3l-3 3l-3 -3zM285.6 101.3l3 3l-3 3l-3 -3z"/>
<path fill="#c8ecf4" d="M46.3 214.9h5.2v5.2h-5.2zM47.4 211.9h5.2v5.2h-5.2zM48.6 210.9h5.2v5.2h-5.2zM49.7 208.8h5.2v5.2h-5.2zM50.8 208.5h5.2v5.2h-5.2zM51.9 207.6h5.2v5.2h-5.2zM53.1 207.5h5.2v5.2h-5.2zM54.2 205.7h5.2v5.2h-5.2zM55.3 204.1h5.2v5.2h-5.2zM56.4 203.2h5.2v5.2h-5.2zM57.6 203.4h5.2v5.2h-5.2zM58.7 203.6h5.2v5.2h-5.2zM59.8 203.3h5.2v5.2h-5.2zM61 202.5h5.2v5.2h-5.2zM62.1 203h5.2v5.2h-5.2zM63.2 203h5.2v5.2h-5.2zM64.3 202.7h5.2v5.2h-5.2zM65.5 202.3h5.2v5.2h-5.2zM66.6 202.4h5.2v5.2h-5.2zM67.7 202.4h5.2v5.2h-5.2zM68.8 201.2h5.2v5.2h-5.2zM70 200h5.2v5.2h-5.2zM71.1 199.1h5.2v5.2h-5.2zM72.2 198.8h5.2v5.2h-5.2zM73.3 199.1h5.2v5.2h-5.2zM74.5 199.5h5.2v5.2h-5.2zM75.6 199.6h5.2v5.2h-5.2zM76.7 199.4h5.2v5.2h-5.2zM77.9 199h5.2v5.2h-5.2zM79 197.9h5.2v5.2h-5.2zM80.1 196.4h5.2v5.2h-5.2zM81.2 195.7h5.2v5.2h-5.2zM82.4 195.4h5.2v5.2h-5.2zM83.5 195.7h5.2v5.2h-5.2zM84.6 195.4h5.2v5.2h-5.2zM85.7 194.9h5.2v5.2h-5.2zM86.9 194.3h5.2v5.2h-5.2zM88 194h5.2v5.2h-5.2zM89.1 194.2h5.2v5.2h-5.2zM90.3 194.1h5.2v5.2h-5.2zM91.4 194h5.2v5.2h-5.2zM92.5 193.4h5.2v5.2h-5.2zM93.6 192.9h5.2v5.2h-5.2zM94.8 192.4h5.2v5.2h-5.2zM95.9 193h5.2v5.2h-5.2zM97 192.8h5.2v5.2h-5.2zM98.1 193h5.2v5.2h-5.2zM99.3 192.5h5.2v5.2h-5.2zM100.4 193.2h5.2v5.2h-5.2zM101.5 192h5.2v5.2h-5.2zM102.7 192h5.2v5.2h-5.2zM103.8 191.2h5.2v5.2h-5.2zM104.9 191.2h5.2v5.2h-5.2zM106 189.9h5.2v5.2h-5.2zM107.2 189.9h5.2v5.2h-5.2zM108.3 189.9h5.2v5.2h-5.2zM109.4 189.7h5.2v5.2h-5.2zM110.5 189.8h5.2v5.2h-5.2zM111.7 189.2h5.2v5.2h-5.2zM112.8 188.6h5.2v5.2h-5.2zM113.9 188.2h5.2v5.2h-5.2zM115 188.7h5.2v5.2h-5.2zM116.2 189.4h5.2v5.2h-5.2zM117.3 188.4h5.2v5.2h-5.2zM118.4 188.4h5.2v5.2h-5.2zM119.6 187.9h5.2v5.2h-5.2zM120.7 189.1h5.2v5.2h-5.2zM121.8 187.8h5.2v5.2h-5.2zM122.9 187.5h5.2v5.2h-5.2zM124.1 186.4h5.2v5.2h-5.2zM125.2 186.1h5.2v5.2h-5.2zM126.3 185.5h5.2v5.2h-5.2zM127.4 185.9h5.2v5.2h-5.2zM128.6 186.2h5.2v5.2h-5.2zM129.7 186.1h5.2v5.2h-5.2zM130.8 185.7h5.2v5.2h-5.2zM132 186.2h5.2v5.2h-5.2zM133.1 186.8h5.2v5.2h-5.2zM134.2 185.9h5.2v5.2h-5.2zM135.3 185.2h5.2v5.2h-5.2zM136.5 185h5.2v5.2h-5.2zM137.6 184.9h5.2v5.2h-5.2zM138.7 184.4h5.2v5.2h-5.2zM139.8 184.1h5.2v5.2h-5.2zM141 185h5.2v5.2h-5.2zM142.1 184.6h5.2v5.2h-5.2zM143.2 182.9h5.2v5.2h-5.2zM144.3 181.3h5.2v5.2h-5.2zM145.5 181.2h5.2v5.2h-5.2zM146.6 182.1h5.2v5.2h-5.2zM147.7 182.9h5.2v5.2h-5.2zM148.9 183.1h5.2v5.2h-5.2zM150 182.7h5.2v5.2h-5.2zM151.1 182.3h5.2v5.2h-5.2zM152.2 181.7h5.2v5.2h-5.2zM153.4 181.8h5.2v5.2h-5.2zM154.5 181.3h5.2v5.2h-5.2zM155.6 182.8h5.2v5.2h-5.2zM156.7 183h5.2v5.2h-5.2zM157.9 182.7h5.2v5.2h-5.2zM159 180.8h5.2v5.2h-5.2zM160.1 180.1h5.2v5.2h-5.2zM161.3 179.5h5.2v5.2h-5.2zM162.4 179.4h5.2v5.2h-5.2zM163.5 179.1h5.2v5.2h-5.2zM164.6 180h5.2v5.2h-5.2zM165.8 179.9h5.2v5.2h-5.2zM166.9 179.7h5.2v5.2h-5.2zM168 178.5h5.2v5.2h-5.2zM169.1 177.9h5.2v5.2h-5.2zM170.3 178h5.2v5.2h-5.2zM171.4 178.3h5.2v5.2h-5.2zM172.5 179.1h5.2v5.2h-5.2zM173.7 178.6h5.2v5.2h-5.2zM174.8 179h5.2v5.2h-5.2zM175.9 178.3h5.2v5.2h-5.2zM177 178.4h5.2v5.2h-5.2zM178.2 176.7h5.2v5.2h-5.2zM179.3 175.8h5.2v5.2h-5.2zM180.4 175.8h5.2v5.2h-5.2zM181.5 177.1h5.2v5.2h-5.2zM182.7 177.6h5.2v5.2h-5.2zM183.8 177.3h5.2v5.2h-5.2zM184.9 176.2h5.2v5.2h-5.2zM186 175.7h5.2v5.2h-5.2zM187.2 174.8h5.2v5.2h-5.2zM188.3 175.1h5.2v5.2h-5.2zM189.4 175.1h5.2v5.2h-5.2zM190.6 175h5.2v5.2h-5.2zM191.7 174.2h5.2v5.2h-5.2zM192.8 174h5.2v5.2h-5.2zM193.9 173.9h5.2v5.2h-5.2zM195.1 173.4h5.2v5.2h-5.2zM196.2 173.6h5.2v5.2h-5.2zM197.3 173.3h5.2v5.2h-5.2zM198.4 173.3h5.2v5.2h-5.2zM199.6 172.9h5.2v5.2h-5.2zM200.7 172.9h5.2v5.2h-5.2zM201.8 172.5h5.2v5.2h-5.2zM203 171.8h5.2v5.2h-5.2zM204.1 170.5h5.2v5.2h-5.2zM205.2 169.9h5.2v5.2h-5.2zM206.3 168.3h5.2v5.2h-5.2zM207.5 168.9h5.2v5.2h-5.2zM208.6 168h5.2v5.2h-5.2zM209.7 169h5.2v5.2h-5.2zM210.8 167.7h5.2v5.2h-5.2zM212 167.7h5.2v5.2h-5.2zM213.1 166.9h5.2v5.2h-5.2zM214.2 167h5.2v5.2h-5.2zM215.4 167.4h5.2v5.2h-5.2zM216.5 167.9h5.2v5.2h-5.2zM217.6 167.5h5.2v5.2h-5.2zM218.7 167.2h5.2v5.2h-5.2zM219.9 165.6h5.2v5.2h-5.2zM221 165.3h5.2v5.2h-5.2zM222.1 164.5h5.2v5.2h-5.2zM223.2 164.1h5.2v5.2h-5.2zM224.4 163.2h5.2v5.2h-5.2zM225.5 162.5h5.2v5.2h-5.2zM226.6 162.3h5.2v5.2h-5.2zM227.7 162h5.2v5.2h-5.2zM228.9 161.2h5.2v5.2h-5.2zM230 160.2h5.2v5.2h-5.2zM231.1 159.8h5.2v5.2h-5.2zM232.3 158.6h5.2v5.2h-5.2zM233.4 158.1h5.2v5.2h-5.2zM234.5 157.9h5.2v5.2h-5.2zM235.6 156.8h5.2v5.2h-5.2zM236.8 156.2h5.2v5.2h-5.2zM237.9 155.2h5.2v5.2h-5.2zM239 155.1h5.2v5.2h-5.2zM240.1 156h5.2v5.2h-5.2zM241.3 153.9h5.2v5.2h-5.2zM242.4 154.7h5.2v5.2h-5.2zM243.5 153.6h5.2v5.2h-5.2zM244.7 154.6h5.2v5.2h-5.2zM245.8 153.2h5.2v5.2h-5.2zM246.9 152.1h5.2v5.2h-5.2zM248 150.6h5.2v5.2h-5.2zM249.2 150.4h5.2v5.2h-5.2zM250.3 149.1h5.2v5.2h-5.2zM251.4 148.7h5.2v5.2h-5.2zM252.5 148.1h5.2v5.2h-5.2zM253.7 147.5h5.2v5.2h-5.2zM254.8 146.7h5.2v5.2h-5.2zM255.9 145.7h5.2v5.2h-5.2zM257 144.9h5.2v5.2h-5.2zM258.2 144.9h5.2v5.2h-5.2zM259.3 144.3h5.2v5.2h-5.2zM260.4 143.6h5.2v5.2h-5.2zM261.6 142.4h5.2v5.2h-5.2zM262.7 141.2h5.2v5.2h-5.2zM263.8 140.9h5.2v5.2h-5.2zM264.9 140.2h5.2v5.2h-5.2zM266.1 139.4h5.2v5.2h-5.2zM267.2 139.3h5.2v5.2h-5.2zM268.3 137.9h5.2v5.2h-5.2zM269.4 137.7h5.2v5.2h-5.2zM270.6 136.1h5.2v5.2h-5.2zM271.7 135.7h5.2v5.2h-5.2zM272.8 133.7h5.2v5.2h-5.2zM274 132.1h5.2v5.2h-5.2zM275.1 129.7h5.2v5.2h-5.2zM276.2 128.4h5.2v5.2h-5.2zM277.3 127.1h5.2v5.2h-5.2zM278.5 126.4h5.2v5.2h-5.2zM279.6 124.3h5.2v5.2h-5.2zM280.7 121.2h5.2v5.2h-5.2zM281.8 115.4h5.2v5.2h-5.2zM283 108.8h5.2v5.2h-5.2z"/>
<path fill="#ffff99" d="M48.9 227.3l2.7 5.4h-5.4zM50 224.5l2.7 5.4h-5.4zM51.2 222.3l2.7 5.4h-5.4zM52.3 220.5l2.7 5.4h-5.4zM53.4 219.3l2.7 5.4h-5.4zM54.5 217.8l2.7 5.4h-5.4zM55.7 216.5l2.7 5.4h-5.4zM56.8 216l2.7 5.4h-5.4zM57.9 215.1l2.7 5.4h-5.4zM59 214.9l2.7 5.4h-5.4zM60.2 213.9l2.7 5.4h-5.4zM61.3 213.9l2.7 5.4h-5.4zM62.4 213.6l2.7 5.4h-5.4zM63.6 213.4l2.7 5.4h-5.4zM64.7 212.3l2.7 5.4h-5.4zM65.8 212l2.7 5.4h-5.4zM66.9 211.2l2.7 5.4h-5.4zM68.1 211.4l2.7 5.4h-5.4zM69.2 211.2l2.7 5.4h-5.4zM70.3 211.4l2.7 5.4h-5.4zM71.4 211.5l2.7 5.4h-5.4zM72.6 211.3l2.7 5.4h-5.4zM73.7 211.1l2.7 5.4h-5.4zM74.8 210.2l2.7 5.4h-5.4zM75.9 209.6l2.7 5.4h-5.4zM77.1 209.4l2.7 5.4h-5.4zM78.2 209.3l2.7 5.4h-5.4zM79.3 208.6l2.7 5.4h-5.4zM80.5 208.2l2.7 5.4h-5.4zM81.6 207.7l2.7 5.4h-5.4zM82.7 207.9l2.7 5.4h-5.4zM83.8 207.4l2.7 5.4h-5.4zM85 206.5l2.7 5.4h-5.4zM86.1 205.5l2.7 5.4h-5.4zM87.2 205.5l2.7 5.4h-5.4zM88.3 205.5l2.7 5.4h-5.4zM89.5 205.1l2.7 5.4h-5.4zM90.6 204.3l2.7 5.4h-5.4zM91.7 203.7l2.7 5.4h-5.4zM92.9 203.2l2.7 5.4h-5.4zM94 202.1l2.7 5.4h-5.4zM95.1 201.4l2.7 5.4h-5.4zM96.2 201.6l2.7 5.4h-5.4zM97.4 201.9l2.7 5.4h-5.4zM98.5 201.9l2.7 5.4h-5.4zM99.6 201.6l2.7 5.4h-5.4zM100.7 201.4l2.7 5.4h-5.4zM101.9 200.6l2.7 5.4h-5.4zM103 200.1l2.7 5.4h-5.4zM104.1 199.3l2.7 5.4h-5.4zM105.2 199.3l2.7 5.4h-5.4zM106.4 198.9l2.7 5.4h-5.4zM107.5 198.8l2.7 5.4h-5.4zM108.6 198.8l2.7 5.4h-5.4zM109.8 198.3l2.7 5.4h-5.4zM110.9 197.9l2.7 5.4h-5.4zM112 198.2l2.7 5.4h-5.4zM113.1 198.1l2.7 5.4h-5.4zM114.3 197.5l2.7 5.4h-5.4zM115.4 196.7l2.7 5.4h-5.4zM116.5 196.9l2.7 5.4h-5.4zM117.6 197.3l2.7 5.4h-5.4zM118.8 196.6l2.7 5.4h-5.4zM119.9 196.5l2.7 5.4h-5.4zM121 195.8l2.7 5.4h-5.4zM122.2 195.6l2.7 5.4h-5.4zM123.3 194.9l2.7 5.4h-5.4zM124.4 194.8l2.7 5.4h-5.4zM125.5 195.1l2.7 5.4h-5.4zM126.7 195.2l2.7 5.4h-5.4zM127.8 195l2.7 5.4h-5.4zM128.9 194.8l2.7 5.4h-5.4zM130 194.4l2.7 5.4h-5.4zM131.2 194.5l2.7 5.4h-5.4zM132.3 193.5l2.7 5.4h-5.4zM133.4 192.8l2.7 5.4h-5.4zM134.6 192.5l2.7 5.4h-5.4zM135.7 192.3l2.7 5.4h-5.4zM136.8 192.5l2.7 5.4h-5.4zM137.9 192l2.7 5.4h-5.4zM139.1 192l2.7 5.4h-5.4zM140.2 191.7l2.7 5.4h-5.4zM141.3 191.9l2.7 5.4h-5.4zM142.4 191.1l2.7 5.4h-5.4zM143.6 191.3l2.7 5.4h-5.4zM144.7 191.4l2.7 5.4h-5.4zM145.8 191.9l2.7 5.4h-5.4zM146.9 191.4l2.7 5.4h-5.4zM148.1 190.8l2.7 5.4h-5.4zM149.2 191.1l2.7 5.4h-5.4zM150.3 190.5l2.7 5.4h-5.4zM151.5 190.1l2.7 5.4h-5.4zM152.6 189.3l2.7 5.4h-5.4zM153.7 189.6l2.7 5.4h-5.4zM154.8 189.5l2.7 5.4h-5.4zM156 189.5l2.7 5.4h-5.4zM157.1 189l2.7 5.4h-5.4zM158.2 188.8l2.7 5.4h-5.4zM159.3 188.2l2.7 5.4h-5.4zM160.5 187.9l2.7 5.4h-5.4zM161.6 187.6l2.7 5.4h-5.4zM162.7 187.6l2.7 5.4h-5.4zM163.9 187.2l2.7 5.4h-5.4zM165 187.5l2.7 5.4h-5.4zM166.1 187.2l2.7 5.4h-5.4zM167.2 187l2.7 5.4h-5.4zM168.4 186.6l2.7 5.4h-5.4zM169.5 186.2l2.7 5.4h-5.4zM170.6 186.5l2.7 5.4h-5.4zM171.7 185.9l2.7 5.4h-5.4zM172.9 186l2.7 5.4h-5.4zM174 185.6l2.7 5.4h-5.4zM175.1 185.2l2.7 5.4h-5.4zM176.3 184.9l2.7 5.4h-5.4zM177.4 185.2l2.7 5.4h-5.4zM178.5 184.4l2.7 5.4h-5.4zM179.6 184.2l2.7 5.4h-5.4zM180.8 183.5l2.7 5.4h-5.4zM181.9 183.5l2.7 5.4h-5.4zM183 182.9l2.7 5.4h-5.4zM184.1 183.1l2.7 5.4h-5.4zM185.3 183l2.7 5.4h-5.4zM186.4 183.7l2.7 5.4h-5.4zM187.5 183l2.7 5.4h-5.4zM188.6 182.8l2.7 5.4h-5.4zM189.8 182.1l2.7 5.4h-5.4zM190.9 181.9l2.7 5.4h-5.4zM192 181.9l2.7 5.4h-5.4zM193.2 181.6l2.7 5.4h-5.4zM194.3 181.2l2.7 5.4h-5.4zM195.4 180.6l2.7 5.4h-5.4zM196.5 180.5l2.7 5.4h-5.4zM197.7 180.4l2.7 5.4h-5.4zM198.8 179.8l2.7 5.4h-5.4zM199.9 178.9l2.7 5.4h-5.4zM201 178.5l2.7 5.4h-5.4zM202.2 178.2l2.7 5.4h-5.4zM203.3 178l2.7 5.4h-5.4zM204.4 177.3l2.7 5.4h-5.4zM205.6 177.1l2.7 5.4h-5.4zM206.7 177l2.7 5.4h-5.4zM207.8 177.2l2.7 5.4h-5.4zM208.9 176.9l2.7 5.4h-5.4zM210.1 177.1l2.7 5.4h-5.4zM211.2 176.4l2.7 5.4h-5.4zM212.3 177l2.7 5.4h-5.4zM213.4 176.3l2.7 5.4h-5.4zM214.6 176.1l2.7 5.4h-5.4zM215.7 174.6l2.7 5.4h-5.4zM216.8 173.1l2.7 5.4h-5.4zM218 172.6l2.7 5.4h-5.4zM219.1 172.4l2.7 5.4h-5.4zM220.2 173.3l2.7 5.4h-5.4zM221.3 172.6l2.7 5.4h-5.4zM222.5 172.6l2.7 5.4h-5.4zM223.6 171.5l2.7 5.4h-5.4zM224.7 171.6l2.7 5.4h-5.4zM225.8 169.9l2.7 5.4h-5.4zM227 169.5l2.7 5.4h-5.4zM228.1 168.6l2.7 5.4h-5.4zM229.2 169l2.7 5.4h-5.4zM230.3 168.5l2.7 5.4h-5.4zM231.5 167.7l2.7 5.4h-5.4zM232.6 167.2l2.7 5.4h-5.4zM233.7 166.9l2.7 5.4h-5.4zM234.9 166.8l2.7 5.4h-5.4zM236 166.3l2.7 5.4h-5.4zM237.1 165.8l2.7 5.4h-5.4zM238.2 165.1l2.7 5.4h-5.4zM239.4 163.9l2.7 5.4h-5.4zM240.5 162.6l2.7 5.4h-5.4zM241.6 162.5l2.7 5.4h-5.4zM242.7 162.5l2.7 5.4h-5.4zM243.9 162.4l2.7 5.4h-5.4zM245 161.4l2.7 5.4h-5.4zM246.1 160.6l2.7 5.4h-5.4zM247.3 160.1l2.7 5.4h-5.4zM248.4 159.5l2.7 5.4h-5.4zM249.5 158.8l2.7 5.4h-5.4zM250.6 158.8l2.7 5.4h-5.4zM251.8 158.4l2.7 5.4h-5.4zM252.9 157.9l2.7 5.4h-5.4zM254 156.3l2.7 5.4h-5.4zM255.1 155.5l2.7 5.4h-5.4zM256.3 155.3l2.7 5.4h-5.4zM257.4 155.3l2.7 5.4h-5.4zM258.5 154.8l2.7 5.4h-5.4zM259.6 154.1l2.7 5.4h-5.4zM260.8 153.2l2.7 5.4h-5.4zM261.9 152.3l2.7 5.4h-5.4zM263 152.1l2.7 5.4h-5.4zM264.2 151.8l2.7 5.4h-5.4zM265.3 152.2l2.7 5.4h-5.4zM266.4 151l2.7 5.4h-5.4zM267.5 150.2l2.7 5.4h-5.4zM268.7 149l2.7 5.4h-5.4zM269.8 148.4l2.7 5.4h-5.4zM270.9 147.1l2.7 5.4h-5.4zM272 145.7l2.7 5.4h-5.4zM273.2 144.8l2.7 5.4h-5.4zM274.3 144.3l2.7 5.4h-5.4zM275.4 143.4l2.7 5.4h-5.4zM276.6 142.3l2.7 5.4h-5.4zM277.7 141.1l2.7 5.4h-5.4zM278.8 139.5l2.7 5.4h-5.4zM279.9 137.4l2.7 5.4h-5.4zM281.1 135l2.7 5.4h-5.4zM282.2 132.7l2.7 5.4h-5.4zM283.3 130.2l2.7 5.4h-5.4zM284.4 125.4l2.7 5.4h-5.4zM285.6 118.8l2.7 5.4h-5.4z"/>
<path fill="none" stroke="#99ccff" stroke-width="1.5" d="M46 218.2l5.8 5.8m0 -5.8l-5.8 5.8M47.1 215.8l5.8 5.8m0 -5.8l-5.8 5.8M48.3 213.9l5.8 5.8m0 -5.8l-5.8 5.8M49.4 213.3l5.8 5.8m0 -5.8l-5.8 5.8M50.5 211.4l5.8 5.8m0 -5.8l-5.8 5.8M51.6 209.6l5.8 5.8m0 -5.8l-5.8 5.8M52.8 208.3l5.8 5.8m0 -5.8l-5.8 5.8M53.9 207.4l5.8 5.8m0 -5.8l-5.8 5.8M55 207.2l5.8 5.8m0 -5.8l-5.8 5.8M56.1 207.3l5.8 5.8m0 -5.8l-5.8 5.8M57.3 207.1l5.8 5.8m0 -5.8l-5.8 5.8M58.4 207.6l5.8 5.8m0 -5.8l-5.8 5.8M59.5 206.3l5.8 5.8m0 -5.8l-5.8 5.8M60.7 206.1l5.8 5.8m0 -5.8l-5.8 5.8M61.8 204.4l5.8 5.8m0 -5.8l-5.8 5.8M62.9 203.8l5.8 5.8m0 -5.8l-5.8 5.8M64 203.9l5.8 5.8m0 -5.8l-5.8 5.8M65.2 203.8l5.8 5.8m0 -5.8l-5.8 5.8M66.3 204.9l5.8 5.8m0 -5.8l-5.8 5.8M67.4 204.7l5.8 5.8m0 -5.8l-5.8 5.8M68.5 204.8l5.8 5.8m0 -5.8l-5.8 5.8M69.7 203.3l5.8 5.8m0 -5.8l-5.8 5.8M70.8 201.8l5.8 5.8m0 -5.8l-5.8 5.8M71.9 201.1l5.8 5.8m0 -5.8l-5.8 5.8M73 200.3l5.8 5.8m0 -5.8l-5.8 5.8M74.2 201.4l5.8 5.8m0 -5.8l-5.8 5.8M75.3 201.1l5.8 5.8m0 -5.8l-5.8 5.8M76.4 202.3l5.8 5.8m0 -5.8l-5.8 5.8M77.6 201.8l5.8 5.8m0 -5.8l-5.8 5.8M78.7 201.9l5.8 5.8m0 -5.8l-5.8 5.8M79.8 200.7l5.8 5.8m0 -5.8l-5.8 5.8M80.9 200l5.8 5.8m0 -5.8l-5.8 5.8M82.1 199.5l5.8 5.8m0 -5.8l-5.8 5.8M83.2 199.5l5.8 5.8m0 -5.8l-5.8 5.8M84.3 198.6l5.8 5.8m0 -5.8l-5.8 5.8M85.4 198.1l5.8 5.8m0 -5.8l-5.8 5.8M86.6 198.7l5.8 5.8m0 -5.8l-5.8 5.8M87.7 198.7l5.8 5.8m0 -5.8l-5.8 5.8M88.8 197.9l5.8 5.8m0 -5.8l-5.8 5.8M90 195.5l5.8 5.8m0 -5.8l-5.8 5.8M91.1 194.3l5.8 5.8m0 -5.8l-5.8 5.8M92.2 194.8l5.8 5.8m0 -5.8l-5.8 5.8M93.3 194.9l5.8 5.8m0 -5.8l-5.8 5.8M94.5 195.7l5.8 5.8m0 -5.8l-5.8 5.8M95.6 195.7l5.8 5.8m0 -5.8l-5.8 5.8M96.7 196.9l5.8 5.8m0 -5.8l-5.8 5.8M97.8 195.8l5.8 5.8m0 -5.8l-5.8 5.8M99 195l5.8 5.8m0 -5.8l-5.8 5.8M100.1 193.6l5.8 5.8m0 -5.8l-5.8 5.8M101.2 194.1l5.8 5.8m0 -5.8l-5.8 5.8M102.3 193.5l5.8 5.8m0 -5.8l-5.8 5.8M103.5 192.8l5.8 5.8m0 -5.8l-5.8 5.8M104.6 193.3l5.8 5.8m0 -5.8l-5.8 5.8M105.7 193.2l5.8 5.8m0 -5.8l-5.8 5.8M106.9 193.1l5.8 5.8m0 -5.8l-5.8 5.8M108 192.7l5.8 5.8m0 -5.8l-5.8 5.8M109.1 192.7l5.8 5.8m0 -5.8l-5.8 5.8M110.2 192.5l5.8 5.8m0 -5.8l-5.8 5.8M111.4 191.7l5.8 5.8m0 -5.8l-5.8 5.8M112.5 192l5.8 5.8m0 -5.8l-5.8 5.8M113.6 191.9l5.8 5.8m0 -5.8l-5.8 5.8M114.7 191.4l5.8 5.8m0 -5.8l-5.8 5.8M115.9 189.6l5.8 5.8m0 -5.8l-5.8 5.8M117 188.9l5.8 5.8m0 -5.8l-5.8 5.8M118.1 188.1l5.8 5.8m0 -5.8l-5.8 5.8M119.3 188.5l5.8 5.8m0 -5.8l-5.8 5.8M120.4 188.7l5.8 5.8m0 -5.8l-5.8 5.8M121.5 187.9l5.8 5.8m0 -5.8l-5.8 5.8M122.6 187.6l5.8 5.8m0 -5.8l-5.8 5.8M123.8 187.7l5.8 5.8m0 -5.8l-5.8 5.8M124.9 188.8l5.8 5.8m0 -5.8l-5.8 5.8M126 188.1l5.8 5.8m0 -5.8l-5.8 5.8M127.1 188.2l5.8 5.8m0 -5.8l-5.8 5.8M128.3 187.5l5.8 5.8m0 -5.8l-5.8 5.8M129.4 187.2l5.8 5.8m0 -5.8l-5.8 5.8M130.5 185.5l5.8 5.8m0 -5.8l-5.8 5.8M131.7 185.7l5.8 5.8m0 -5.8l-5.8 5.8M132.8 186.9l5.8 5.8m0 -5.8l-5.8 5.8M133.9 188.1l5.8 5.8m0 -5.8l-5.8 5.8M135 188l5.8 5.8m0 -5.8l-5.8 5.8M136.2 186.5l5.8 5.8m0 -5.8l-5.8 5.8M137.3 185.2l5.8 5.8m0 -5.8l-5.8 5.8M138.4 184.3l5.8 5.8m0 -5.8l-5.8 5.8M139.5 184.7l5.8 5.8m0 -5.8l-5.8 5.8M140.7 183.9l5.8 5.8m0 -5.8l-5.8 5.8M141.8 184.3l5.8 5.8m0 -5.8l-5.8 5.8M142.9 184.6l5.8 5.8m0 -5.8l-5.8 5.8M144 185.4l5.8 5.8m0 -5.8l-5.8 5.8M145.2 185.5l5.8 5.8m0 -5.8l-5.8 5.8M146.3 184.3l5.8 5.8m0 -5.8l-5.8 5.8M147.4 183.3l5.8 5.8m0 -5.8l-5.8 5.8M148.6 182.5l5.8 5.8m0 -5.8l-5.8 5.8M149.7 183.6l5.8 5.8m0 -5.8l-5.8 5.8M150.8 184.9l5.8 5.8m0 -5.8l-5.8 5.8M151.9 184.8l5.8 5.8m0 -5.8l-5.8 5.8M153.1 184.7l5.8 5.8m0 -5.8l-5.8 5.8M154.2 183.6l5.8 5.8m0 -5.8l-5.8 5.8M155.3 184.7l5.8 5.8m0 -5.8l-5.8 5.8M156.4 184l5.8 5.8m0 -5.8l-5.8 5.8M157.6 183.8l5.8 5.8m0 -5.8l-5.8 5.8M158.7 183.1l5.8 5.8m0 -5.8l-5.8 5.8M159.8 182.2l5.8 5.8m0 -5.8l-5.8 5.8M161 181.7l5.8 5.8m0 -5.8l-5.8 5.8M162.1 180.1l5.8 5.8m0 -5.8l-5.8 5.8M163.2 180.5l5.8 5.8m0 -5.8l-5.8 5.8M164.3 180.8l5.8 5.8m0 -5.8l-5.8 5.8M165.5 181.5l5.8 5.8m0 -5.8l-5.8 5.8M166.6 180.8l5.8 5.8m0 -5.8l-5.8 5.8M167.7 181.5l5.8 5.8m0 -5.8l-5.8 5.8M168.8 181.1l5.8 5.8m0 -5.8l-5.8 5.8M170 180.7l5.8 5.8m0 -5.8l-5.8 5.8M171.1 180.3l5.8 5.8m0 -5.8l-5.8 5.8M172.2 181.2l5.8 5.8m0 -5.8l-5.8 5.8M173.4 181.6l5.8 5.8m0 -5.8l-5.8 5.8M174.5 179.6l5.8 5.8m0 -5.8l-5.8 5.8M175.6 178.1l5.8 5.8m0 -5.8l-5.8 5.8M176.7 178l5.8 5.8m0 -5.8l-5.8 5.8M177.9 178.8l5.8 5.8m0 -5.8l-5.8 5.8M179 179.9l5.8 5.8m0 -5.8l-5.8 5.8M180.1 178.4l5.8 5.8m0 -5.8l-5.8 5.8M181.2 178.6l5.8 5.8m0 -5.8l-5.8 5.8M182.4 177l5.8 5.8m0 -5.8l-5.8 5.8M183.5 178.3l5.8 5.8m0 -5.8l-5.8 5.8M184.6 177.6l5.8 5.8m0 -5.8l-5.8 5.8M185.7 178.3l5.8 5.8m0 -5.8l-5.8 5.8M186.9 176.9l5.8 5.8m0 -5.8l-5.8 5.8M188 175.8l5.8 5.8m0 -5.8l-5.8 5.8M189.1 174.2l5.8 5.8m0 -5.8l-5.8 5.8M190.3 173.9l5.8 5.8m0 -5.8l-5.8 5.8M191.4 173.9l5.8 5.8m0 -5.8l-5.8 5.8M192.5 175l5.8 5.8m0 -5.8l-5.8 5.8M193.6 175.9l5.8 5.8m0 -5.8l-5.8 5.8M194.8 176.4l5.8 5.8m0 -5.8l-5.8 5.8M195.9 174.7l5.8 5.8m0 -5.8l-5.8 5.8M197 173.5l5.8 5.8m0 -5.8l-5.8 5.8M198.1 172.6l5.8 5.8m0 -5.8l-5.8 5.8M199.3 173.8l5.8 5.8m0 -5.8l-5.8 5.8M200.4 173.7l5.8 5.8m0 -5.8l-5.8 5.8M201.5 174.1l5.8 5.8m0 -5.8l-5.8 5.8M202.7 172.6l5.8 5.8m0 -5.8l-5.8 5.8M203.8 170.9l5.8 5.8m0 -5.8l-5.8 5.8M204.9 169.8l5.8 5.8m0 -5.8l-5.8 5.8M206 169l5.8 5.8m0 -5.8l-5.8 5.8M207.2 170.1l5.8 5.8m0 -5.8l-5.8 5.8M208.3 170.2l5.8 5.8m0 -5.8l-5.8 5.8M209.4 170.1l5.8 5.8m0 -5.8l-5.8 5.8M210.5 169.2l5.8 5.8m0 -5.8l-5.8 5.8M211.7 169.7l5.8 5.8m0 -5.8l-5.8 5.8M212.8 169.3l5.8 5.8m0 -5.8l-5.8 5.8M213.9 168.6l5.8 5.8m0 -5.8l-5.8 5.8M215.1 167.1l5.8 5.8m0 -5.8l-5.8 5.8M216.2 166.8l5.8 5.8m0 -5.8l-5.8 5.8M217.3 166.7l5.8 5.8m0 -5.8l-5.8 5.8M218.4 166.7l5.8 5.8m0 -5.8l-5.8 5.8M219.6 167.8l5.8 5.8m0 -5.8l-5.8 5.8M220.7 166.5l5.8 5.8m0 -5.8l-5.8 5.8M221.8 165.6l5.8 5.8m0 -5.8l-5.8 5.8M222.9 164.1l5.8 5.8m0 -5.8l-5.8 5.8M224.1 164.6l5.8 5.8m0 -5.8l-5.8 5.8M225.2 164l5.8 5.8m0 -5.8l-5.8 5.8M226.3 163.2l5.8 5.8m0 -5.8l-5.8 5.8M227.4 163.3l5.8 5.8m0 -5.8l-5.8 5.8M228.6 162.6l5.8 5.8m0 -5.8l-5.8 5.8M229.7 162.1l5.8 5.8m0 -5.8l-5.8 5.8M230.8 161l5.8 5.8m0 -5.8l-5.8 5.8M232 160.7l5.8 5.8m0 -5.8l-5.8 5.8M233.1 160.1l5.8 5.8m0 -5.8l-5.8 5.8M234.2 160.1l5.8 5.8m0 -5.8l-5.8 5.8M235.3 159.5l5.8 5.8m0 -5.8l-5.8 5.8M236.5 159.1l5.8 5.8m0 -5.8l-5.8 5.8M237.6 157.9l5.8 5.8m0 -5.8l-5.8 5.8M238.7 156.7l5.8 5.8m0 -5.8l-5.8 5.8M239.8 155.5l5.8 5.8m0 -5.8l-5.8 5.8M241 154.3l5.8 5.8m0 -5.8l-5.8 5.8M242.1 154.4l5.8 5.8m0 -5.8l-5.8 5.8M243.2 153.9l5.8 5.8m0 -5.8l-5.8 5.8M244.4 153.3l5.8 5.8m0 -5.8l-5.8 5.8M245.5 152.7l5.8 5.8m0 -5.8l-5.8 5.8M246.6 152.8l5.8 5.8m0 -5.8l-5.8 5.8M247.7 151.8l5.8 5.8m0 -5.8l-5.8 5.8M248.9 152l5.8 5.8m0 -5.8l-5.8 5.8M250 151.1l5.8 5.8m0 -5.8l-5.8 5.8M251.1 151.5l5.8 5.8m0 -5.8l-5.8 5.8M252.2 150.4l5.8 5.8m0 -5.8l-5.8 5.8M253.4 149.8l5.8 5.8m0 -5.8l-5.8 5.8M254.5 148.9l5.8 5.8m0 -5.8l-5.8 5.8M255.6 148.9l5.8 5.8m0 -5.8l-5.8 5.8M256.7 147.5l5.8 5.8m0 -5.8l-5.8 5.8M257.9 147.1l5.8 5.8m0 -5.8l-5.8 5.8M259 145.7l5.8 5.8m0 -5.8l-5.8 5.8M260.1 145.1l5.8 5.8m0 -5.8l-5.8 5.8M261.3 144.4l5.8 5.8m0 -5.8l-5.8 5.8M262.4 143.5l5.8 5.8m0 -5.8l-5.8 5.8M263.5 144.9l5.8 5.8m0 -5.8l-5.8 5.8M264.6 143.7l5.8 5.8m0 -5.8l-5.8 5.8M265.8 142.6l5.8 5.8m0 -5.8l-5.8 5.8M266.9 140.7l5.8 5.8m0 -5.8l-5.8 5.8M268 140.3l5.8 5.8m0 -5.8l-5.8 5.8M269.1 138.6l5.8 5.8m0 -5.8l-5.8 5.8M270.3 137.4l5.8 5.8m0 -5.8l-5.8 5.8M271.4 136.3l5.8 5.8m0 -5.8l-5.8 5.8M272.5 136l5.8 5.8m0 -5.8l-5.8 5.8M273.7 135.1l5.8 5.8m0 -5.8l-5.8 5.8M274.8 134.1l5.8 5.8m0 -5.8l-5.8 5.8M275.9 132.4l5.8 5.8m0 -5.8l-5.8 5.8M277 129.9l5.8 5.8m0 -5.8l-5.8 5.8M278.2 126.5l5.8 5.8m0 -5.8l-5.8 5.8M279.3 123.7l5.8 5.8m0 -5.8l-5.8 5.8M280.4 120.8l5.8 5.8m0 -5.8l-5.8 5.8M281.5 116.5l5.8 5.8m0 -5.8l-5.8 5.8M282.7 110.4l5.8 5.8m0 -5.8l-5.8 5.8"/>
<path fill="none" stroke="#55c8f0" stroke-width="1.1" d="M47.3 220.6h3.2M48.4 218.1h3.2M49.6 217.3h3.2M50.7 216.9h3.2M51.8 214.5h3.2M52.9 212.9h3.2M54.1 212.2h3.2M55.2 210.6h3.2M56.3 210.7h3.2M57.4 210.5h3.2M58.6 209.8h3.2M59.7 210.3h3.2M60.8 210.6h3.2M62 210h3.2M63.1 209.6h3.2M64.2 208.2h3.2M65.3 207.4h3.2M66.5 207.9h3.2M67.6 207.1h3.2M68.7 207.2h3.2M69.8 207.7h3.2M71 205.1h3.2M72.1 204h3.2M73.2 204.3h3.2M74.3 205h3.2M75.5 204.1h3.2M76.6 201.2h3.2M77.7 201.2h3.2M78.9 203.8h3.2M80 203.9h3.2M81.1 201.8h3.2M82.2 202.2h3.2M83.4 199.7h3.2M84.5 199.5h3.2M85.6 201.9h3.2M86.7 201.7h3.2M87.9 201.7h3.2M89 201.1h3.2M90.1 199.6h3.2M91.3 199.2h3.2M92.4 199.2h3.2M93.5 201.5h3.2M94.6 201.2h3.2M95.8 198.9h3.2M96.9 197.4h3.2M98 196h3.2M99.1 198h3.2M100.3 197.3h3.2M101.4 194.3h3.2M102.5 195.2h3.2M103.7 195.5h3.2M104.8 197.6h3.2M105.9 195.1h3.2M107 193h3.2M108.2 196.3h3.2M109.3 194.4h3.2M110.4 192.6h3.2M111.5 194.2h3.2M112.7 196.5h3.2M113.8 194.8h3.2M114.9 190.9h3.2M116 192.9h3.2M117.2 196.2h3.2M118.3 194.5h3.2M119.4 190h3.2M120.6 191.9h3.2M121.7 194h3.2M122.8 193.4h3.2M123.9 193.4h3.2M125.1 191.5h3.2M126.2 190.8h3.2M127.3 192.7h3.2M128.4 194.7h3.2M129.6 190.4h3.2M130.7 187.5h3.2M131.8 191.7h3.2M133 192.2h3.2M134.1 188.4h3.2M135.2 188.6h3.2M136.3 189.9h3.2M137.5 189.6h3.2M138.6 188.9h3.2M139.7 188.5h3.2M140.8 188.3h3.2M142 188.9h3.2M143.1 188.3h3.2M144.2 187.4h3.2M145.3 188h3.2M146.5 189.6h3.2M147.6 190h3.2M148.7 188.2h3.2M149.9 188.2h3.2M151 188.6h3.2M152.1 189.1h3.2M153.2 189h3.2M154.4 189.6h3.2M155.5 190.4h3.2M156.6 188.1h3.2M157.7 185.9h3.2M158.9 186.7h3.2M160 187.6h3.2M161.1 186.3h3.2M162.3 183.8h3.2M163.4 181.6h3.2M164.5 183.5h3.2M165.6 186.3h3.2M166.8 186.6h3.2M167.9 184h3.2M169 184h3.2M170.1 184.7h3.2M171.3 183.7h3.2M172.4 184.6h3.2M173.5 183h3.2M174.7 181.6h3.2M175.8 179.9h3.2M176.9 179.3h3.2M178 179.3h3.2M179.2 180.6h3.2M180.3 182.5h3.2M181.4 182.8h3.2M182.5 182.8h3.2M183.7 180.8h3.2M184.8 180.5h3.2M185.9 180.5h3.2M187 180.6h3.2M188.2 181.1h3.2M189.3 179h3.2M190.4 178.4h3.2M191.6 179.3h3.2M192.7 178.6h3.2M193.8 179.3h3.2M194.9 181.3h3.2M196.1 179.5h3.2M197.2 176.9h3.2M198.3 174.4h3.2M199.4 174.4h3.2M200.6 176.1h3.2M201.7 173.5h3.2M202.8 174h3.2M204 176.8h3.2M205.1 175.3h3.2M206.2 173.8h3.2M207.3 173.2h3.2M208.5 174.1h3.2M209.6 173.1h3.2M210.7 171.5h3.2M211.8 175.1h3.2M213 175.2h3.2M214.1 173.1h3.2M215.2 172.5h3.2M216.4 170.2h3.2M217.5 169.9h3.2M218.6 171.3h3.2M219.7 169.8h3.2M220.9 169.2h3.2M222 171.4h3.2M223.1 171.7h3.2M224.2 168h3.2M225.4 165.1h3.2M226.5 164.6h3.2M227.6 166.3h3.2M228.7 168.3h3.2M229.9 167.3h3.2M231 165.1h3.2M232.1 162.4h3.2M233.3 162.9h3.2M234.4 163.8h3.2M235.5 162.1h3.2M236.6 161.6h3.2M237.8 162.7h3.2M238.9 162.2h3.2M240 159.7h3.2M241.1 156.5h3.2M242.3 156.8h3.2M243.4 158.8h3.2M244.5 158.2h3.2M245.7 156.9h3.2M246.8 155.8h3.2M247.9 156.5h3.2M249 156.6h3.2M250.2 155.3h3.2M251.3 153.6h3.2M252.4 152.1h3.2M253.5 152.8h3.2M254.7 151.7h3.2M255.8 149.4h3.2M256.9 149.5h3.2M258 151.7h3.2M259.2 151.6h3.2M260.3 151.2h3.2M261.4 150.2h3.2M262.6 147.6h3.2M263.7 145.5h3.2M264.8 144.5h3.2M265.9 147h3.2M267.1 147.3h3.2M268.2 145.6h3.2M269.3 145.1h3.2M270.4 143.2h3.2M271.6 141.1h3.2M272.7 140.1h3.2M273.8 139.9h3.2M275 138.9h3.2M276.1 137.2h3.2M277.2 135.1h3.2M278.3 131.7h3.2M279.5 129.1h3.2M280.6 126.5h3.2M281.7 125.1h3.2M282.8 119h3.2M284 111.4h3.2"/></g>
<g filter="url(#gs)" opacity="0.92"><text transform="translate(48.9 124.6) scale(0.72 1)" text-anchor="middle" class="xl">0</text>
<text transform="translate(105.2 124.6) scale(0.72 1)" text-anchor="middle" class="xl">50</text>
<text transform="translate(161.6 124.6) scale(0.72 1)" text-anchor="middle" class="xl">100</text>
<text transform="translate(218 124.6) scale(0.72 1)" text-anchor="middle" class="xl">150</text>
<text transform="translate(274.3 124.6) scale(0.72 1)" text-anchor="middle" class="xl">200</text></g>
</g>
<g id="pB">
<rect x="353.2" y="4.6" width="238.5" height="245.5" fill="#c2c2c2"/>
<path d="M350.9 4.6H591.7" stroke="#8a8a8a" stroke-width="1"/>
<path d="M354.2 45.3H591.7M354.2 86.3H591.7M354.2 127.2H591.7M354.2 168H591.7M354.2 209.1H591.7" stroke="#cfcfcf" stroke-width="3.4"/>
<path d="M350.9 45.3H591.7M350.9 86.3H591.7M350.9 127.2H591.7M350.9 168H591.7M350.9 209.1H591.7M350.9 250.1H591.7" stroke="#5c5c5c" stroke-width="1.3"/>
<path d="M354.2 106.7H591.7" stroke="#cdcdcd" stroke-width="3.2"/>
<path d="M353.2 106.7H591.7" stroke="#7a7a7a" stroke-width="1.4"/>
<path d="M409.9 106.7v3M466.3 106.7v3M522.6 106.7v3M579 106.7v3" stroke="#666" stroke-width="0.9"/>
<path d="M353.2 4.6V250.1" stroke="#747474" stroke-width="1"/>
<g filter="url(#gs)"><text transform="translate(346.2 8.8) scale(.93 1.03)" text-anchor="end" class="yl">2.5</text>
<text transform="translate(346.2 49.5) scale(.93 1.03)" text-anchor="end" class="yl">1.5</text>
<text transform="translate(346.2 90.5) scale(.93 1.03)" text-anchor="end" class="yl">0.5</text>
<text transform="translate(346.2 131.4) scale(.93 1.03)" text-anchor="end" class="yl">-0.5</text>
<text transform="translate(346.2 172.2) scale(.93 1.03)" text-anchor="end" class="yl">-1.5</text>
<text transform="translate(346.2 213.3) scale(.93 1.03)" text-anchor="end" class="yl">-2.5</text>
<text transform="translate(346.2 254.3) scale(.93 1.03)" text-anchor="end" class="yl">-3.5</text>
<text x="362.8" y="23.5" class="pl">B</text>
<text transform="translate(317.2 128.3) rotate(-90)" text-anchor="middle" class="yt">ppm deviation</text></g>
<g filter="url(#sb)"><path fill="#000080" d="M351.5 173.1a2.2 2.2 0 1 0 4.4 0a2.2 2.2 0 1 0 -4.4 0zM352.6 166.5a2.2 2.2 0 1 0 4.4 0a2.2 2.2 0 1 0 -4.4 0zM353.8 159.9a2.2 2.2 0 1 0 4.4 0a2.2 2.2 0 1 0 -4.4 0zM354.9 158.2a2.2 2.2 0 1 0 4.4 0a2.2 2.2 0 1 0 -4.4 0zM356 156.5a2.2 2.2 0 1 0 4.4 0a2.2 2.2 0 1 0 -4.4 0zM357.1 155a2.2 2.2 0 1 0 4.4 0a2.2 2.2 0 1 0 -4.4 0zM358.3 152.4a2.2 2.2 0 1 0 4.4 0a2.2 2.2 0 1 0 -4.4 0zM359.4 151.3a2.2 2.2 0 1 0 4.4 0a2.2 2.2 0 1 0 -4.4 0zM360.5 150.6a2.2 2.2 0 1 0 4.4 0a2.2 2.2 0 1 0 -4.4 0zM361.6 150.1a2.2 2.2 0 1 0 4.4 0a2.2 2.2 0 1 0 -4.4 0zM362.8 149.3a2.2 2.2 0 1 0 4.4 0a2.2 2.2 0 1 0 -4.4 0zM363.9 148a2.2 2.2 0 1 0 4.4 0a2.2 2.2 0 1 0 -4.4 0zM365 147.4a2.2 2.2 0 1 0 4.4 0a2.2 2.2 0 1 0 -4.4 0zM366.2 146.8a2.2 2.2 0 1 0 4.4 0a2.2 2.2 0 1 0 -4.4 0zM367.3 146.7a2.2 2.2 0 1 0 4.4 0a2.2 2.2 0 1 0 -4.4 0zM368.4 145.6a2.2 2.2 0 1 0 4.4 0a2.2 2.2 0 1 0 -4.4 0zM369.5 145a2.2 2.2 0 1 0 4.4 0a2.2 2.2 0 1 0 -4.4 0zM370.7 144.4a2.2 2.2 0 1 0 4.4 0a2.2 2.2 0 1 0 -4.4 0zM371.8 144.4a2.2 2.2 0 1 0 4.4 0a2.2 2.2 0 1 0 -4.4 0zM372.9 143.6a2.2 2.2 0 1 0 4.4 0a2.2 2.2 0 1 0 -4.4 0zM374 143.4a2.2 2.2 0 1 0 4.4 0a2.2 2.2 0 1 0 -4.4 0zM375.2 143a2.2 2.2 0 1 0 4.4 0a2.2 2.2 0 1 0 -4.4 0zM376.3 142.7a2.2 2.2 0 1 0 4.4 0a2.2 2.2 0 1 0 -4.4 0zM377.4 142.1a2.2 2.2 0 1 0 4.4 0a2.2 2.2 0 1 0 -4.4 0zM378.5 141.4a2.2 2.2 0 1 0 4.4 0a2.2 2.2 0 1 0 -4.4 0zM379.7 141.7a2.2 2.2 0 1 0 4.4 0a2.2 2.2 0 1 0 -4.4 0zM380.8 140.7a2.2 2.2 0 1 0 4.4 0a2.2 2.2 0 1 0 -4.4 0zM381.9 140.5a2.2 2.2 0 1 0 4.4 0a2.2 2.2 0 1 0 -4.4 0zM383.1 139.3a2.2 2.2 0 1 0 4.4 0a2.2 2.2 0 1 0 -4.4 0zM384.2 139.7a2.2 2.2 0 1 0 4.4 0a2.2 2.2 0 1 0 -4.4 0zM385.3 139.8a2.2 2.2 0 1 0 4.4 0a2.2 2.2 0 1 0 -4.4 0zM386.4 139.8a2.2 2.2 0 1 0 4.4 0a2.2 2.2 0 1 0 -4.4 0zM387.6 139.7a2.2 2.2 0 1 0 4.4 0a2.2 2.2 0 1 0 -4.4 0zM388.7 138.9a2.2 2.2 0 1 0 4.4 0a2.2 2.2 0 1 0 -4.4 0zM389.8 139.4a2.2 2.2 0 1 0 4.4 0a2.2 2.2 0 1 0 -4.4 0zM390.9 139.4a2.2 2.2 0 1 0 4.4 0a2.2 2.2 0 1 0 -4.4 0zM392.1 139.8a2.2 2.2 0 1 0 4.4 0a2.2 2.2 0 1 0 -4.4 0zM393.2 138.4a2.2 2.2 0 1 0 4.4 0a2.2 2.2 0 1 0 -4.4 0zM394.3 137.4a2.2 2.2 0 1 0 4.4 0a2.2 2.2 0 1 0 -4.4 0zM395.5 137.2a2.2 2.2 0 1 0 4.4 0a2.2 2.2 0 1 0 -4.4 0zM396.6 137.3a2.2 2.2 0 1 0 4.4 0a2.2 2.2 0 1 0 -4.4 0zM397.7 137.3a2.2 2.2 0 1 0 4.4 0a2.2 2.2 0 1 0 -4.4 0zM398.8 136.8a2.2 2.2 0 1 0 4.4 0a2.2 2.2 0 1 0 -4.4 0zM400 136.2a2.2 2.2 0 1 0 4.4 0a2.2 2.2 0 1 0 -4.4 0zM401.1 136.3a2.2 2.2 0 1 0 4.4 0a2.2 2.2 0 1 0 -4.4 0zM402.2 135.9a2.2 2.2 0 1 0 4.4 0a2.2 2.2 0 1 0 -4.4 0zM403.3 136.3a2.2 2.2 0 1 0 4.4 0a2.2 2.2 0 1 0 -4.4 0zM404.5 135.6a2.2 2.2 0 1 0 4.4 0a2.2 2.2 0 1 0 -4.4 0zM405.6 135.5a2.2 2.2 0 1 0 4.4 0a2.2 2.2 0 1 0 -4.4 0zM406.7 134.9a2.2 2.2 0 1 0 4.4 0a2.2 2.2 0 1 0 -4.4 0zM407.9 135.2a2.2 2.2 0 1 0 4.4 0a2.2 2.2 0 1 0 -4.4 0zM409 135.2a2.2 2.2 0 1 0 4.4 0a2.2 2.2 0 1 0 -4.4 0zM410.1 135.5a2.2 2.2 0 1 0 4.4 0a2.2 2.2 0 1 0 -4.4 0zM411.2 135.1a2.2 2.2 0 1 0 4.4 0a2.2 2.2 0 1 0 -4.4 0zM412.4 134.7a2.2 2.2 0 1 0 4.4 0a2.2 2.2 0 1 0 -4.4 0zM413.5 133.3a2.2 2.2 0 1 0 4.4 0a2.2 2.2 0 1 0 -4.4 0zM414.6 133.2a2.2 2.2 0 1 0 4.4 0a2.2 2.2 0 1 0 -4.4 0zM415.7 132.7a2.2 2.2 0 1 0 4.4 0a2.2 2.2 0 1 0 -4.4 0zM416.9 133.5a2.2 2.2 0 1 0 4.4 0a2.2 2.2 0 1 0 -4.4 0zM418 132.9a2.2 2.2 0 1 0 4.4 0a2.2 2.2 0 1 0 -4.4 0zM419.1 132.3a2.2 2.2 0 1 0 4.4 0a2.2 2.2 0 1 0 -4.4 0zM420.2 131.9a2.2 2.2 0 1 0 4.4 0a2.2 2.2 0 1 0 -4.4 0zM421.4 132.1a2.2 2.2 0 1 0 4.4 0a2.2 2.2 0 1 0 -4.4 0zM422.5 132.8a2.2 2.2 0 1 0 4.4 0a2.2 2.2 0 1 0 -4.4 0zM423.6 132.6a2.2 2.2 0 1 0 4.4 0a2.2 2.2 0 1 0 -4.4 0zM424.8 131.9a2.2 2.2 0 1 0 4.4 0a2.2 2.2 0 1 0 -4.4 0zM425.9 131.7a2.2 2.2 0 1 0 4.4 0a2.2 2.2 0 1 0 -4.4 0zM427 131.5a2.2 2.2 0 1 0 4.4 0a2.2 2.2 0 1 0 -4.4 0zM428.1 132.3a2.2 2.2 0 1 0 4.4 0a2.2 2.2 0 1 0 -4.4 0zM429.3 131.6a2.2 2.2 0 1 0 4.4 0a2.2 2.2 0 1 0 -4.4 0zM430.4 131.4a2.2 2.2 0 1 0 4.4 0a2.2 2.2 0 1 0 -4.4 0zM431.5 130.9a2.2 2.2 0 1 0 4.4 0a2.2 2.2 0 1 0 -4.4 0zM432.6 131.3a2.2 2.2 0 1 0 4.4 0a2.2 2.2 0 1 0 -4.4 0zM433.8 130.9a2.2 2.2 0 1 0 4.4 0a2.2 2.2 0 1 0 -4.4 0zM434.9 130.9a2.2 2.2 0 1 0 4.4 0a2.2 2.2 0 1 0 -4.4 0zM436 130a2.2 2.2 0 1 0 4.4 0a2.2 2.2 0 1 0 -4.4 0zM437.2 130.8a2.2 2.2 0 1 0 4.4 0a2.2 2.2 0 1 0 -4.4 0zM438.3 130a2.2 2.2 0 1 0 4.4 0a2.2 2.2 0 1 0 -4.4 0zM439.4 129.3a2.2 2.2 0 1 0 4.4 0a2.2 2.2 0 1 0 -4.4 0zM440.5 128.8a2.2 2.2 0 1 0 4.4 0a2.2 2.2 0 1 0 -4.4 0zM441.7 129.1a2.2 2.2 0 1 0 4.4 0a2.2 2.2 0 1 0 -4.4 0zM442.8 130.1a2.2 2.2 0 1 0 4.4 0a2.2 2.2 0 1 0 -4.4 0zM443.9 130.3a2.2 2.2 0 1 0 4.4 0a2.2 2.2 0 1 0 -4.4 0zM445 130.1a2.2 2.2 0 1 0 4.4 0a2.2 2.2 0 1 0 -4.4 0zM446.2 129.1a2.2 2.2 0 1 0 4.4 0a2.2 2.2 0 1 0 -4.4 0zM447.3 128.1a2.2 2.2 0 1 0 4.4 0a2.2 2.2 0 1 0 -4.4 0zM448.4 127.6a2.2 2.2 0 1 0 4.4 0a2.2 2.2 0 1 0 -4.4 0zM449.5 127.2a2.2 2.2 0 1 0 4.4 0a2.2 2.2 0 1 0 -4.4 0zM450.7 127.1a2.2 2.2 0 1 0 4.4 0a2.2 2.2 0 1 0 -4.4 0zM451.8 126.2a2.2 2.2 0 1 0 4.4 0a2.2 2.2 0 1 0 -4.4 0zM452.9 126.3a2.2 2.2 0 1 0 4.4 0a2.2 2.2 0 1 0 -4.4 0zM454.1 126.2a2.2 2.2 0 1 0 4.4 0a2.2 2.2 0 1 0 -4.4 0zM455.2 127.8a2.2 2.2 0 1 0 4.4 0a2.2 2.2 0 1 0 -4.4 0zM456.3 127.8a2.2 2.2 0 1 0 4.4 0a2.2 2.2 0 1 0 -4.4 0zM457.4 127.4a2.2 2.2 0 1 0 4.4 0a2.2 2.2 0 1 0 -4.4 0zM458.6 126.5a2.2 2.2 0 1 0 4.4 0a2.2 2.2 0 1 0 -4.4 0zM459.7 125.7a2.2 2.2 0 1 0 4.4 0a2.2 2.2 0 1 0 -4.4 0zM460.8 125.4a2.2 2.2 0 1 0 4.4 0a2.2 2.2 0 1 0 -4.4 0zM461.9 124.4a2.2 2.2 0 1 0 4.4 0a2.2 2.2 0 1 0 -4.4 0zM463.1 125.1a2.2 2.2 0 1 0 4.4 0a2.2 2.2 0 1 0 -4.4 0zM464.2 125.3a2.2 2.2 0 1 0 4.4 0a2.2 2.2 0 1 0 -4.4 0zM465.3 125.3a2.2 2.2 0 1 0 4.4 0a2.2 2.2 0 1 0 -4.4 0zM466.5 124.6a2.2 2.2 0 1 0 4.4 0a2.2 2.2 0 1 0 -4.4 0zM467.6 124.5a2.2 2.2 0 1 0 4.4 0a2.2 2.2 0 1 0 -4.4 0zM468.7 124.9a2.2 2.2 0 1 0 4.4 0a2.2 2.2 0 1 0 -4.4 0zM469.8 124.8a2.2 2.2 0 1 0 4.4 0a2.2 2.2 0 1 0 -4.4 0zM471 124a2.2 2.2 0 1 0 4.4 0a2.2 2.2 0 1 0 -4.4 0zM472.1 123.4a2.2 2.2 0 1 0 4.4 0a2.2 2.2 0 1 0 -4.4 0zM473.2 123.1a2.2 2.2 0 1 0 4.4 0a2.2 2.2 0 1 0 -4.4 0zM474.3 123.5a2.2 2.2 0 1 0 4.4 0a2.2 2.2 0 1 0 -4.4 0zM475.5 123.2a2.2 2.2 0 1 0 4.4 0a2.2 2.2 0 1 0 -4.4 0zM476.6 122.5a2.2 2.2 0 1 0 4.4 0a2.2 2.2 0 1 0 -4.4 0zM477.7 122.3a2.2 2.2 0 1 0 4.4 0a2.2 2.2 0 1 0 -4.4 0zM478.9 122.1a2.2 2.2 0 1 0 4.4 0a2.2 2.2 0 1 0 -4.4 0zM480 122.6a2.2 2.2 0 1 0 4.4 0a2.2 2.2 0 1 0 -4.4 0zM481.1 122a2.2 2.2 0 1 0 4.4 0a2.2 2.2 0 1 0 -4.4 0zM482.2 122.4a2.2 2.2 0 1 0 4.4 0a2.2 2.2 0 1 0 -4.4 0zM483.4 122.3a2.2 2.2 0 1 0 4.4 0a2.2 2.2 0 1 0 -4.4 0zM484.5 122.2a2.2 2.2 0 1 0 4.4 0a2.2 2.2 0 1 0 -4.4 0zM485.6 121.9a2.2 2.2 0 1 0 4.4 0a2.2 2.2 0 1 0 -4.4 0zM486.7 120.8a2.2 2.2 0 1 0 4.4 0a2.2 2.2 0 1 0 -4.4 0zM487.9 120.1a2.2 2.2 0 1 0 4.4 0a2.2 2.2 0 1 0 -4.4 0zM489 119.8a2.2 2.2 0 1 0 4.4 0a2.2 2.2 0 1 0 -4.4 0zM490.1 120.3a2.2 2.2 0 1 0 4.4 0a2.2 2.2 0 1 0 -4.4 0zM491.2 120.7a2.2 2.2 0 1 0 4.4 0a2.2 2.2 0 1 0 -4.4 0zM492.4 121a2.2 2.2 0 1 0 4.4 0a2.2 2.2 0 1 0 -4.4 0zM493.5 120.4a2.2 2.2 0 1 0 4.4 0a2.2 2.2 0 1 0 -4.4 0zM494.6 119.7a2.2 2.2 0 1 0 4.4 0a2.2 2.2 0 1 0 -4.4 0zM495.8 119a2.2 2.2 0 1 0 4.4 0a2.2 2.2 0 1 0 -4.4 0zM496.9 118.6a2.2 2.2 0 1 0 4.4 0a2.2 2.2 0 1 0 -4.4 0zM498 118.2a2.2 2.2 0 1 0 4.4 0a2.2 2.2 0 1 0 -4.4 0zM499.1 117.3a2.2 2.2 0 1 0 4.4 0a2.2 2.2 0 1 0 -4.4 0zM500.3 117.3a2.2 2.2 0 1 0 4.4 0a2.2 2.2 0 1 0 -4.4 0zM501.4 116.7a2.2 2.2 0 1 0 4.4 0a2.2 2.2 0 1 0 -4.4 0zM502.5 116.9a2.2 2.2 0 1 0 4.4 0a2.2 2.2 0 1 0 -4.4 0zM503.6 115.9a2.2 2.2 0 1 0 4.4 0a2.2 2.2 0 1 0 -4.4 0zM504.8 116.3a2.2 2.2 0 1 0 4.4 0a2.2 2.2 0 1 0 -4.4 0zM505.9 115.5a2.2 2.2 0 1 0 4.4 0a2.2 2.2 0 1 0 -4.4 0zM507 116a2.2 2.2 0 1 0 4.4 0a2.2 2.2 0 1 0 -4.4 0zM508.2 114.8a2.2 2.2 0 1 0 4.4 0a2.2 2.2 0 1 0 -4.4 0zM509.3 114.7a2.2 2.2 0 1 0 4.4 0a2.2 2.2 0 1 0 -4.4 0zM510.4 114.6a2.2 2.2 0 1 0 4.4 0a2.2 2.2 0 1 0 -4.4 0zM511.5 114.6a2.2 2.2 0 1 0 4.4 0a2.2 2.2 0 1 0 -4.4 0zM512.7 114.5a2.2 2.2 0 1 0 4.4 0a2.2 2.2 0 1 0 -4.4 0zM513.8 113.6a2.2 2.2 0 1 0 4.4 0a2.2 2.2 0 1 0 -4.4 0zM514.9 112.9a2.2 2.2 0 1 0 4.4 0a2.2 2.2 0 1 0 -4.4 0zM516 112.7a2.2 2.2 0 1 0 4.4 0a2.2 2.2 0 1 0 -4.4 0zM517.2 112.7a2.2 2.2 0 1 0 4.4 0a2.2 2.2 0 1 0 -4.4 0zM518.3 112.8a2.2 2.2 0 1 0 4.4 0a2.2 2.2 0 1 0 -4.4 0zM519.4 112.6a2.2 2.2 0 1 0 4.4 0a2.2 2.2 0 1 0 -4.4 0zM520.5 112a2.2 2.2 0 1 0 4.4 0a2.2 2.2 0 1 0 -4.4 0zM521.7 111.7a2.2 2.2 0 1 0 4.4 0a2.2 2.2 0 1 0 -4.4 0zM522.8 111.2a2.2 2.2 0 1 0 4.4 0a2.2 2.2 0 1 0 -4.4 0zM523.9 111a2.2 2.2 0 1 0 4.4 0a2.2 2.2 0 1 0 -4.4 0zM525.1 111.7a2.2 2.2 0 1 0 4.4 0a2.2 2.2 0 1 0 -4.4 0zM526.2 110.9a2.2 2.2 0 1 0 4.4 0a2.2 2.2 0 1 0 -4.4 0zM527.3 111a2.2 2.2 0 1 0 4.4 0a2.2 2.2 0 1 0 -4.4 0zM528.4 110.2a2.2 2.2 0 1 0 4.4 0a2.2 2.2 0 1 0 -4.4 0zM529.6 109.7a2.2 2.2 0 1 0 4.4 0a2.2 2.2 0 1 0 -4.4 0zM530.7 108.5a2.2 2.2 0 1 0 4.4 0a2.2 2.2 0 1 0 -4.4 0zM531.8 108a2.2 2.2 0 1 0 4.4 0a2.2 2.2 0 1 0 -4.4 0zM532.9 108a2.2 2.2 0 1 0 4.4 0a2.2 2.2 0 1 0 -4.4 0zM534.1 108.3a2.2 2.2 0 1 0 4.4 0a2.2 2.2 0 1 0 -4.4 0zM535.2 108.1a2.2 2.2 0 1 0 4.4 0a2.2 2.2 0 1 0 -4.4 0zM536.3 107.7a2.2 2.2 0 1 0 4.4 0a2.2 2.2 0 1 0 -4.4 0zM537.5 106.7a2.2 2.2 0 1 0 4.4 0a2.2 2.2 0 1 0 -4.4 0zM538.6 105a2.2 2.2 0 1 0 4.4 0a2.2 2.2 0 1 0 -4.4 0zM539.7 104.7a2.2 2.2 0 1 0 4.4 0a2.2 2.2 0 1 0 -4.4 0zM540.8 104.3a2.2 2.2 0 1 0 4.4 0a2.2 2.2 0 1 0 -4.4 0zM542 104.8a2.2 2.2 0 1 0 4.4 0a2.2 2.2 0 1 0 -4.4 0zM543.1 104.4a2.2 2.2 0 1 0 4.4 0a2.2 2.2 0 1 0 -4.4 0zM544.2 103.7a2.2 2.2 0 1 0 4.4 0a2.2 2.2 0 1 0 -4.4 0zM545.3 103.7a2.2 2.2 0 1 0 4.4 0a2.2 2.2 0 1 0 -4.4 0zM546.5 103.5a2.2 2.2 0 1 0 4.4 0a2.2 2.2 0 1 0 -4.4 0zM547.6 103.8a2.2 2.2 0 1 0 4.4 0a2.2 2.2 0 1 0 -4.4 0zM548.7 102.4a2.2 2.2 0 1 0 4.4 0a2.2 2.2 0 1 0 -4.4 0zM549.9 101.4a2.2 2.2 0 1 0 4.4 0a2.2 2.2 0 1 0 -4.4 0zM551 100.5a2.2 2.2 0 1 0 4.4 0a2.2 2.2 0 1 0 -4.4 0zM552.1 100.3a2.2 2.2 0 1 0 4.4 0a2.2 2.2 0 1 0 -4.4 0zM553.2 99.6a2.2 2.2 0 1 0 4.4 0a2.2 2.2 0 1 0 -4.4 0zM554.4 99.4a2.2 2.2 0 1 0 4.4 0a2.2 2.2 0 1 0 -4.4 0zM555.5 99.2a2.2 2.2 0 1 0 4.4 0a2.2 2.2 0 1 0 -4.4 0zM556.6 99.4a2.2 2.2 0 1 0 4.4 0a2.2 2.2 0 1 0 -4.4 0zM557.7 98.7a2.2 2.2 0 1 0 4.4 0a2.2 2.2 0 1 0 -4.4 0zM558.9 98.7a2.2 2.2 0 1 0 4.4 0a2.2 2.2 0 1 0 -4.4 0zM560 98.3a2.2 2.2 0 1 0 4.4 0a2.2 2.2 0 1 0 -4.4 0zM561.1 97.1a2.2 2.2 0 1 0 4.4 0a2.2 2.2 0 1 0 -4.4 0zM562.2 96a2.2 2.2 0 1 0 4.4 0a2.2 2.2 0 1 0 -4.4 0zM563.4 95.4a2.2 2.2 0 1 0 4.4 0a2.2 2.2 0 1 0 -4.4 0zM564.5 96.2a2.2 2.2 0 1 0 4.4 0a2.2 2.2 0 1 0 -4.4 0zM565.6 95.4a2.2 2.2 0 1 0 4.4 0a2.2 2.2 0 1 0 -4.4 0zM566.8 94.3a2.2 2.2 0 1 0 4.4 0a2.2 2.2 0 1 0 -4.4 0zM567.9 92.8a2.2 2.2 0 1 0 4.4 0a2.2 2.2 0 1 0 -4.4 0zM569 92a2.2 2.2 0 1 0 4.4 0a2.2 2.2 0 1 0 -4.4 0zM570.1 90.8a2.2 2.2 0 1 0 4.4 0a2.2 2.2 0 1 0 -4.4 0zM571.3 89.7a2.2 2.2 0 1 0 4.4 0a2.2 2.2 0 1 0 -4.4 0zM572.4 88a2.2 2.2 0 1 0 4.4 0a2.2 2.2 0 1 0 -4.4 0zM573.5 87.1a2.2 2.2 0 1 0 4.4 0a2.2 2.2 0 1 0 -4.4 0zM574.6 85.9a2.2 2.2 0 1 0 4.4 0a2.2 2.2 0 1 0 -4.4 0zM575.8 84.3a2.2 2.2 0 1 0 4.4 0a2.2 2.2 0 1 0 -4.4 0zM576.9 82.9a2.2 2.2 0 1 0 4.4 0a2.2 2.2 0 1 0 -4.4 0zM578 81.4a2.2 2.2 0 1 0 4.4 0a2.2 2.2 0 1 0 -4.4 0zM579.2 80.6a2.2 2.2 0 1 0 4.4 0a2.2 2.2 0 1 0 -4.4 0zM580.3 78.8a2.2 2.2 0 1 0 4.4 0a2.2 2.2 0 1 0 -4.4 0zM581.4 77.7a2.2 2.2 0 1 0 4.4 0a2.2 2.2 0 1 0 -4.4 0zM582.5 76.1a2.2 2.2 0 1 0 4.4 0a2.2 2.2 0 1 0 -4.4 0zM583.7 73.8a2.2 2.2 0 1 0 4.4 0a2.2 2.2 0 1 0 -4.4 0zM584.8 71.1a2.2 2.2 0 1 0 4.4 0a2.2 2.2 0 1 0 -4.4 0zM585.9 67.7a2.2 2.2 0 1 0 4.4 0a2.2 2.2 0 1 0 -4.4 0zM587 65.1a2.2 2.2 0 1 0 4.4 0a2.2 2.2 0 1 0 -4.4 0zM588.2 60.3a2.2 2.2 0 1 0 4.4 0a2.2 2.2 0 1 0 -4.4 0z"/>
<path fill="#ff00ff" d="M351.6 168.7h4.2v4.2h-4.2zM352.7 162.9h4.2v4.2h-4.2zM353.9 156.9h4.2v4.2h-4.2zM355 153.8h4.2v4.2h-4.2zM356.1 152.4h4.2v4.2h-4.2zM357.2 150.5h4.2v4.2h-4.2zM358.4 149.7h4.2v4.2h-4.2zM359.5 148.8h4.2v4.2h-4.2zM360.6 148.3h4.2v4.2h-4.2zM361.7 147.5h4.2v4.2h-4.2zM362.9 145.5h4.2v4.2h-4.2zM364 144.6h4.2v4.2h-4.2zM365.1 144.4h4.2v4.2h-4.2zM366.3 144.6h4.2v4.2h-4.2zM367.4 143.6h4.2v4.2h-4.2zM368.5 142.7h4.2v4.2h-4.2zM369.6 141.8h4.2v4.2h-4.2zM370.8 141.9h4.2v4.2h-4.2zM371.9 142h4.2v4.2h-4.2zM373 142.4h4.2v4.2h-4.2zM374.1 141.6h4.2v4.2h-4.2zM375.3 141h4.2v4.2h-4.2zM376.4 140.4h4.2v4.2h-4.2zM377.5 140.1h4.2v4.2h-4.2zM378.6 139.6h4.2v4.2h-4.2zM379.8 139.8h4.2v4.2h-4.2zM380.9 139.7h4.2v4.2h-4.2zM382 139.8h4.2v4.2h-4.2zM383.2 138.5h4.2v4.2h-4.2zM384.3 138.1h4.2v4.2h-4.2zM385.4 136.8h4.2v4.2h-4.2zM386.5 136.7h4.2v4.2h-4.2zM387.7 136.8h4.2v4.2h-4.2zM388.8 137.9h4.2v4.2h-4.2zM389.9 138.1h4.2v4.2h-4.2zM391 137.6h4.2v4.2h-4.2zM392.2 136.6h4.2v4.2h-4.2zM393.3 135.7h4.2v4.2h-4.2zM394.4 135.1h4.2v4.2h-4.2zM395.6 135h4.2v4.2h-4.2zM396.7 134.7h4.2v4.2h-4.2zM397.8 134.8h4.2v4.2h-4.2zM398.9 134h4.2v4.2h-4.2zM400.1 133.4h4.2v4.2h-4.2zM401.2 132.4h4.2v4.2h-4.2zM402.3 131.9h4.2v4.2h-4.2zM403.4 131.8h4.2v4.2h-4.2zM404.6 132.4h4.2v4.2h-4.2zM405.7 132.7h4.2v4.2h-4.2zM406.8 133.1h4.2v4.2h-4.2zM407.9 132.9h4.2v4.2h-4.2zM409.1 133.2h4.2v4.2h-4.2zM410.2 132.7h4.2v4.2h-4.2zM411.3 132.6h4.2v4.2h-4.2zM412.5 132h4.2v4.2h-4.2zM413.6 132h4.2v4.2h-4.2zM414.7 131.5h4.2v4.2h-4.2zM415.8 130.6h4.2v4.2h-4.2zM417 130.1h4.2v4.2h-4.2zM418.1 129.7h4.2v4.2h-4.2zM419.2 130.3h4.2v4.2h-4.2zM420.3 130.3h4.2v4.2h-4.2zM421.5 130.1h4.2v4.2h-4.2zM422.6 130.1h4.2v4.2h-4.2zM423.7 130.5h4.2v4.2h-4.2zM424.9 130.7h4.2v4.2h-4.2zM426 130.6h4.2v4.2h-4.2zM427.1 129.8h4.2v4.2h-4.2zM428.2 129.2h4.2v4.2h-4.2zM429.4 128.7h4.2v4.2h-4.2zM430.5 128.5h4.2v4.2h-4.2zM431.6 128.3h4.2v4.2h-4.2zM432.7 128.6h4.2v4.2h-4.2zM433.9 128.4h4.2v4.2h-4.2zM435 128.1h4.2v4.2h-4.2zM436.1 127.5h4.2v4.2h-4.2zM437.3 128h4.2v4.2h-4.2zM438.4 128.2h4.2v4.2h-4.2zM439.5 128.3h4.2v4.2h-4.2zM440.6 127.3h4.2v4.2h-4.2zM441.8 126.9h4.2v4.2h-4.2zM442.9 126h4.2v4.2h-4.2zM444 125.9h4.2v4.2h-4.2zM445.1 126.6h4.2v4.2h-4.2zM446.3 126.2h4.2v4.2h-4.2zM447.4 126.7h4.2v4.2h-4.2zM448.5 125.5h4.2v4.2h-4.2zM449.6 125.6h4.2v4.2h-4.2zM450.8 125.1h4.2v4.2h-4.2zM451.9 125.6h4.2v4.2h-4.2zM453 125.6h4.2v4.2h-4.2zM454.2 124.5h4.2v4.2h-4.2zM455.3 124.2h4.2v4.2h-4.2zM456.4 123.5h4.2v4.2h-4.2zM457.5 124.9h4.2v4.2h-4.2zM458.7 124.5h4.2v4.2h-4.2zM459.8 124.7h4.2v4.2h-4.2zM460.9 123.2h4.2v4.2h-4.2zM462 122.9h4.2v4.2h-4.2zM463.2 122.1h4.2v4.2h-4.2zM464.3 122.7h4.2v4.2h-4.2zM465.4 122.6h4.2v4.2h-4.2zM466.6 123.1h4.2v4.2h-4.2zM467.7 122.2h4.2v4.2h-4.2zM468.8 121.9h4.2v4.2h-4.2zM469.9 122h4.2v4.2h-4.2zM471.1 121.7h4.2v4.2h-4.2zM472.2 121h4.2v4.2h-4.2zM473.3 120.4h4.2v4.2h-4.2zM474.4 120.1h4.2v4.2h-4.2zM475.6 120.4h4.2v4.2h-4.2zM476.7 120.4h4.2v4.2h-4.2zM477.8 120.3h4.2v4.2h-4.2zM479 120.5h4.2v4.2h-4.2zM480.1 119.7h4.2v4.2h-4.2zM481.2 120.3h4.2v4.2h-4.2zM482.3 120.2h4.2v4.2h-4.2zM483.5 120h4.2v4.2h-4.2zM484.6 119.1h4.2v4.2h-4.2zM485.7 118.1h4.2v4.2h-4.2zM486.8 118.1h4.2v4.2h-4.2zM488 118.3h4.2v4.2h-4.2zM489.1 117.8h4.2v4.2h-4.2zM490.2 117.8h4.2v4.2h-4.2zM491.3 116.6h4.2v4.2h-4.2zM492.5 116.6h4.2v4.2h-4.2zM493.6 115.3h4.2v4.2h-4.2zM494.7 116.3h4.2v4.2h-4.2zM495.9 116.4h4.2v4.2h-4.2zM497 116.9h4.2v4.2h-4.2zM498.1 115.6h4.2v4.2h-4.2zM499.2 115.7h4.2v4.2h-4.2zM500.4 114.5h4.2v4.2h-4.2zM501.5 114.5h4.2v4.2h-4.2zM502.6 114.6h4.2v4.2h-4.2zM503.7 115h4.2v4.2h-4.2zM504.9 114.7h4.2v4.2h-4.2zM506 113.9h4.2v4.2h-4.2zM507.1 113.4h4.2v4.2h-4.2zM508.3 113.2h4.2v4.2h-4.2zM509.4 113h4.2v4.2h-4.2zM510.5 113.1h4.2v4.2h-4.2zM511.6 113h4.2v4.2h-4.2zM512.8 112.2h4.2v4.2h-4.2zM513.9 112h4.2v4.2h-4.2zM515 111.6h4.2v4.2h-4.2zM516.1 112h4.2v4.2h-4.2zM517.3 111.9h4.2v4.2h-4.2zM518.4 111.5h4.2v4.2h-4.2zM519.5 109.7h4.2v4.2h-4.2zM520.6 109.4h4.2v4.2h-4.2zM521.8 109.5h4.2v4.2h-4.2zM522.9 109.8h4.2v4.2h-4.2zM524 108.4h4.2v4.2h-4.2zM525.2 107.4h4.2v4.2h-4.2zM526.3 107.7h4.2v4.2h-4.2zM527.4 107.8h4.2v4.2h-4.2zM528.5 107.9h4.2v4.2h-4.2zM529.7 107.4h4.2v4.2h-4.2zM530.8 108h4.2v4.2h-4.2zM531.9 107.9h4.2v4.2h-4.2zM533 107.6h4.2v4.2h-4.2zM534.2 106.6h4.2v4.2h-4.2zM535.3 107h4.2v4.2h-4.2zM536.4 107.1h4.2v4.2h-4.2zM537.6 107h4.2v4.2h-4.2zM538.7 105.6h4.2v4.2h-4.2zM539.8 104.6h4.2v4.2h-4.2zM540.9 104.6h4.2v4.2h-4.2zM542.1 104.4h4.2v4.2h-4.2zM543.2 104.6h4.2v4.2h-4.2zM544.3 104.1h4.2v4.2h-4.2zM545.4 104h4.2v4.2h-4.2zM546.6 103.5h4.2v4.2h-4.2zM547.7 103.1h4.2v4.2h-4.2zM548.8 102.2h4.2v4.2h-4.2zM550 101.4h4.2v4.2h-4.2zM551.1 101.5h4.2v4.2h-4.2zM552.2 100.7h4.2v4.2h-4.2zM553.3 100h4.2v4.2h-4.2zM554.5 98.8h4.2v4.2h-4.2zM555.6 98.6h4.2v4.2h-4.2zM556.7 97.7h4.2v4.2h-4.2zM557.8 96.1h4.2v4.2h-4.2zM559 95.6h4.2v4.2h-4.2zM560.1 95.6h4.2v4.2h-4.2zM561.2 95.8h4.2v4.2h-4.2zM562.3 94.8h4.2v4.2h-4.2zM563.5 94h4.2v4.2h-4.2zM564.6 92.2h4.2v4.2h-4.2zM565.7 91.4h4.2v4.2h-4.2zM566.9 89.8h4.2v4.2h-4.2zM568 89.3h4.2v4.2h-4.2zM569.1 88.4h4.2v4.2h-4.2zM570.2 88h4.2v4.2h-4.2zM571.4 86.4h4.2v4.2h-4.2zM572.5 85.4h4.2v4.2h-4.2zM573.6 83.6h4.2v4.2h-4.2zM574.7 82.3h4.2v4.2h-4.2zM575.9 80.5h4.2v4.2h-4.2zM577 78.8h4.2v4.2h-4.2zM578.1 77.8h4.2v4.2h-4.2zM579.3 76.4h4.2v4.2h-4.2zM580.4 75.3h4.2v4.2h-4.2zM581.5 73.8h4.2v4.2h-4.2zM582.6 71.7h4.2v4.2h-4.2zM583.8 69.8h4.2v4.2h-4.2zM584.9 66.8h4.2v4.2h-4.2zM586 64.3h4.2v4.2h-4.2zM587.1 60.7h4.2v4.2h-4.2zM588.3 56.3h4.2v4.2h-4.2z"/>
<path fill="#ffff00" d="M353.7 179.8l2.4 4.8h-4.8zM354.8 172.6l2.4 4.8h-4.8zM356 164.7l2.4 4.8h-4.8zM357.1 161.6l2.4 4.8h-4.8zM358.2 159.1l2.4 4.8h-4.8zM359.3 156.5l2.4 4.8h-4.8zM360.5 154.3l2.4 4.8h-4.8zM361.6 152.6l2.4 4.8h-4.8zM362.7 151.8l2.4 4.8h-4.8zM363.8 151l2.4 4.8h-4.8zM365 150.2l2.4 4.8h-4.8zM366.1 149.2l2.4 4.8h-4.8zM367.2 148.7l2.4 4.8h-4.8zM368.4 148.1l2.4 4.8h-4.8zM369.5 147.7l2.4 4.8h-4.8zM370.6 147l2.4 4.8h-4.8zM371.7 146.2l2.4 4.8h-4.8zM372.9 145.1l2.4 4.8h-4.8zM374 144.6l2.4 4.8h-4.8zM375.1 144.3l2.4 4.8h-4.8zM376.2 144l2.4 4.8h-4.8zM377.4 143.2l2.4 4.8h-4.8zM378.5 143.3l2.4 4.8h-4.8zM379.6 142.6l2.4 4.8h-4.8zM380.7 142.2l2.4 4.8h-4.8zM381.9 141.1l2.4 4.8h-4.8zM383 140.6l2.4 4.8h-4.8zM384.1 140.3l2.4 4.8h-4.8zM385.3 140.4l2.4 4.8h-4.8zM386.4 140.7l2.4 4.8h-4.8zM387.5 140.5l2.4 4.8h-4.8zM388.6 139.8l2.4 4.8h-4.8zM389.8 139.1l2.4 4.8h-4.8zM390.9 138.9l2.4 4.8h-4.8zM392 138.3l2.4 4.8h-4.8zM393.1 137.8l2.4 4.8h-4.8zM394.3 137.1l2.4 4.8h-4.8zM395.4 137.2l2.4 4.8h-4.8zM396.5 137.1l2.4 4.8h-4.8zM397.7 137l2.4 4.8h-4.8zM398.8 135.7l2.4 4.8h-4.8zM399.9 135.7l2.4 4.8h-4.8zM401 135.9l2.4 4.8h-4.8zM402.2 136.8l2.4 4.8h-4.8zM403.3 136l2.4 4.8h-4.8zM404.4 134.6l2.4 4.8h-4.8zM405.5 133.9l2.4 4.8h-4.8zM406.7 133.4l2.4 4.8h-4.8zM407.8 133.7l2.4 4.8h-4.8zM408.9 133.1l2.4 4.8h-4.8zM410.1 133.5l2.4 4.8h-4.8zM411.2 133.5l2.4 4.8h-4.8zM412.3 132.7l2.4 4.8h-4.8zM413.4 132.2l2.4 4.8h-4.8zM414.6 131.2l2.4 4.8h-4.8zM415.7 131.2l2.4 4.8h-4.8zM416.8 130.7l2.4 4.8h-4.8zM417.9 130.6l2.4 4.8h-4.8zM419.1 131.2l2.4 4.8h-4.8zM420.2 130.6l2.4 4.8h-4.8zM421.3 130.8l2.4 4.8h-4.8zM422.4 130.9l2.4 4.8h-4.8zM423.6 131.4l2.4 4.8h-4.8zM424.7 131l2.4 4.8h-4.8zM425.8 130.1l2.4 4.8h-4.8zM427 129.3l2.4 4.8h-4.8zM428.1 129.1l2.4 4.8h-4.8zM429.2 129l2.4 4.8h-4.8zM430.3 129.4l2.4 4.8h-4.8zM431.5 129.9l2.4 4.8h-4.8zM432.6 129.8l2.4 4.8h-4.8zM433.7 129.5l2.4 4.8h-4.8zM434.8 128.9l2.4 4.8h-4.8zM436 128l2.4 4.8h-4.8zM437.1 127.2l2.4 4.8h-4.8zM438.2 126.4l2.4 4.8h-4.8zM439.4 126.4l2.4 4.8h-4.8zM440.5 126.8l2.4 4.8h-4.8zM441.6 126.6l2.4 4.8h-4.8zM442.7 127.1l2.4 4.8h-4.8zM443.9 127.2l2.4 4.8h-4.8zM445 127.4l2.4 4.8h-4.8zM446.1 126.4l2.4 4.8h-4.8zM447.2 125.9l2.4 4.8h-4.8zM448.4 125.7l2.4 4.8h-4.8zM449.5 125.3l2.4 4.8h-4.8zM450.6 124.9l2.4 4.8h-4.8zM451.7 124.7l2.4 4.8h-4.8zM452.9 124.9l2.4 4.8h-4.8zM454 125.1l2.4 4.8h-4.8zM455.1 125.1l2.4 4.8h-4.8zM456.3 124.5l2.4 4.8h-4.8zM457.4 123.8l2.4 4.8h-4.8zM458.5 122.9l2.4 4.8h-4.8zM459.6 123.2l2.4 4.8h-4.8zM460.8 122.6l2.4 4.8h-4.8zM461.9 123l2.4 4.8h-4.8zM463 122.7l2.4 4.8h-4.8zM464.1 123.1l2.4 4.8h-4.8zM465.3 122.5l2.4 4.8h-4.8zM466.4 121.7l2.4 4.8h-4.8zM467.5 121.7l2.4 4.8h-4.8zM468.7 121.5l2.4 4.8h-4.8zM469.8 122.2l2.4 4.8h-4.8zM470.9 121.5l2.4 4.8h-4.8zM472 121.6l2.4 4.8h-4.8zM473.2 121.5l2.4 4.8h-4.8zM474.3 121.2l2.4 4.8h-4.8zM475.4 121.2l2.4 4.8h-4.8zM476.5 119.8l2.4 4.8h-4.8zM477.7 119.7l2.4 4.8h-4.8zM478.8 118.9l2.4 4.8h-4.8zM479.9 119.1l2.4 4.8h-4.8zM481.1 118.5l2.4 4.8h-4.8zM482.2 118.4l2.4 4.8h-4.8zM483.3 118.8l2.4 4.8h-4.8zM484.4 117.8l2.4 4.8h-4.8zM485.6 117.4l2.4 4.8h-4.8zM486.7 116.4l2.4 4.8h-4.8zM487.8 117.1l2.4 4.8h-4.8zM488.9 116.6l2.4 4.8h-4.8zM490.1 116.7l2.4 4.8h-4.8zM491.2 115.9l2.4 4.8h-4.8zM492.3 115.9l2.4 4.8h-4.8zM493.4 115.8l2.4 4.8h-4.8zM494.6 115.5l2.4 4.8h-4.8zM495.7 115l2.4 4.8h-4.8zM496.8 113.8l2.4 4.8h-4.8zM498 113.7l2.4 4.8h-4.8zM499.1 113.7l2.4 4.8h-4.8zM500.2 113.7l2.4 4.8h-4.8zM501.3 113.6l2.4 4.8h-4.8zM502.5 112.3l2.4 4.8h-4.8zM503.6 111.5l2.4 4.8h-4.8zM504.7 110.4l2.4 4.8h-4.8zM505.8 110.6l2.4 4.8h-4.8zM507 110.9l2.4 4.8h-4.8zM508.1 111l2.4 4.8h-4.8zM509.2 110.8l2.4 4.8h-4.8zM510.4 110.7l2.4 4.8h-4.8zM511.5 110.2l2.4 4.8h-4.8zM512.6 109.5l2.4 4.8h-4.8zM513.7 108.5l2.4 4.8h-4.8zM514.9 109l2.4 4.8h-4.8zM516 108.3l2.4 4.8h-4.8zM517.1 108.4l2.4 4.8h-4.8zM518.2 107.8l2.4 4.8h-4.8zM519.4 108.4l2.4 4.8h-4.8zM520.5 107.9l2.4 4.8h-4.8zM521.6 107l2.4 4.8h-4.8zM522.8 106.8l2.4 4.8h-4.8zM523.9 107.1l2.4 4.8h-4.8zM525 106.4l2.4 4.8h-4.8zM526.1 106l2.4 4.8h-4.8zM527.3 105.3l2.4 4.8h-4.8zM528.4 105.5l2.4 4.8h-4.8zM529.5 105.3l2.4 4.8h-4.8zM530.6 104.6l2.4 4.8h-4.8zM531.8 103.3l2.4 4.8h-4.8zM532.9 102.5l2.4 4.8h-4.8zM534 102.7l2.4 4.8h-4.8zM535.1 102.9l2.4 4.8h-4.8zM536.3 102.3l2.4 4.8h-4.8zM537.4 102l2.4 4.8h-4.8zM538.5 100.9l2.4 4.8h-4.8zM539.7 100.6l2.4 4.8h-4.8zM540.8 99l2.4 4.8h-4.8zM541.9 98.8l2.4 4.8h-4.8zM543 98l2.4 4.8h-4.8zM544.2 98.1l2.4 4.8h-4.8zM545.3 97.3l2.4 4.8h-4.8zM546.4 96.5l2.4 4.8h-4.8zM547.5 94.9l2.4 4.8h-4.8zM548.7 94.9l2.4 4.8h-4.8zM549.8 94.4l2.4 4.8h-4.8zM550.9 94.6l2.4 4.8h-4.8zM552.1 93.6l2.4 4.8h-4.8zM553.2 93.1l2.4 4.8h-4.8zM554.3 92.8l2.4 4.8h-4.8zM555.4 92.7l2.4 4.8h-4.8zM556.6 92.5l2.4 4.8h-4.8zM557.7 91.8l2.4 4.8h-4.8zM558.8 91.2l2.4 4.8h-4.8zM559.9 90l2.4 4.8h-4.8zM561.1 89.6l2.4 4.8h-4.8zM562.2 89.2l2.4 4.8h-4.8zM563.3 89.4l2.4 4.8h-4.8zM564.4 87.8l2.4 4.8h-4.8zM565.6 86.5l2.4 4.8h-4.8zM566.7 84.8l2.4 4.8h-4.8zM567.8 84.4l2.4 4.8h-4.8zM569 84.5l2.4 4.8h-4.8zM570.1 84.6l2.4 4.8h-4.8zM571.2 83.9l2.4 4.8h-4.8zM572.3 82.7l2.4 4.8h-4.8zM573.5 81.7l2.4 4.8h-4.8zM574.6 80.6l2.4 4.8h-4.8zM575.7 79.5l2.4 4.8h-4.8zM576.8 78.1l2.4 4.8h-4.8zM578 76.2l2.4 4.8h-4.8zM579.1 74.6l2.4 4.8h-4.8zM580.2 73.4l2.4 4.8h-4.8zM581.4 72.4l2.4 4.8h-4.8zM582.5 70.7l2.4 4.8h-4.8zM583.6 68.1l2.4 4.8h-4.8zM584.7 66l2.4 4.8h-4.8zM585.9 64.1l2.4 4.8h-4.8zM587 61.4l2.4 4.8h-4.8zM588.1 58l2.4 4.8h-4.8zM589.2 52.8l2.4 4.8h-4.8zM590.4 48.2l2.4 4.8h-4.8z"/>
<path fill="none" stroke="#00ffff" stroke-width="1.5" d="M351.4 149.2l4.6 4.6m0 -4.6l-4.6 4.6M352.5 146l4.6 4.6m0 -4.6l-4.6 4.6M353.7 143l4.6 4.6m0 -4.6l-4.6 4.6M354.8 141l4.6 4.6m0 -4.6l-4.6 4.6M355.9 140l4.6 4.6m0 -4.6l-4.6 4.6M357 138.5l4.6 4.6m0 -4.6l-4.6 4.6M358.2 138l4.6 4.6m0 -4.6l-4.6 4.6M359.3 138l4.6 4.6m0 -4.6l-4.6 4.6M360.4 137.5l4.6 4.6m0 -4.6l-4.6 4.6M361.5 137l4.6 4.6m0 -4.6l-4.6 4.6M362.7 136l4.6 4.6m0 -4.6l-4.6 4.6M363.8 136.1l4.6 4.6m0 -4.6l-4.6 4.6M364.9 136.1l4.6 4.6m0 -4.6l-4.6 4.6M366.1 136.4l4.6 4.6m0 -4.6l-4.6 4.6M367.2 135.8l4.6 4.6m0 -4.6l-4.6 4.6M368.3 135.3l4.6 4.6m0 -4.6l-4.6 4.6M369.4 134.6l4.6 4.6m0 -4.6l-4.6 4.6M370.6 134.5l4.6 4.6m0 -4.6l-4.6 4.6M371.7 134.3l4.6 4.6m0 -4.6l-4.6 4.6M372.8 134.2l4.6 4.6m0 -4.6l-4.6 4.6M373.9 134.4l4.6 4.6m0 -4.6l-4.6 4.6M375.1 134.2l4.6 4.6m0 -4.6l-4.6 4.6M376.2 133.8l4.6 4.6m0 -4.6l-4.6 4.6M377.3 133.4l4.6 4.6m0 -4.6l-4.6 4.6M378.4 133.1l4.6 4.6m0 -4.6l-4.6 4.6M379.6 132.5l4.6 4.6m0 -4.6l-4.6 4.6M380.7 131.5l4.6 4.6m0 -4.6l-4.6 4.6M381.8 131.5l4.6 4.6m0 -4.6l-4.6 4.6M383 131.6l4.6 4.6m0 -4.6l-4.6 4.6M384.1 131.6l4.6 4.6m0 -4.6l-4.6 4.6M385.2 131.2l4.6 4.6m0 -4.6l-4.6 4.6M386.3 131.2l4.6 4.6m0 -4.6l-4.6 4.6M387.5 131.2l4.6 4.6m0 -4.6l-4.6 4.6M388.6 130.5l4.6 4.6m0 -4.6l-4.6 4.6M389.7 129.9l4.6 4.6m0 -4.6l-4.6 4.6M390.8 129.4l4.6 4.6m0 -4.6l-4.6 4.6M392 129.7l4.6 4.6m0 -4.6l-4.6 4.6M393.1 129.4l4.6 4.6m0 -4.6l-4.6 4.6M394.2 128.9l4.6 4.6m0 -4.6l-4.6 4.6M395.4 128.3l4.6 4.6m0 -4.6l-4.6 4.6M396.5 127.6l4.6 4.6m0 -4.6l-4.6 4.6M397.6 127.5l4.6 4.6m0 -4.6l-4.6 4.6M398.7 127.2l4.6 4.6m0 -4.6l-4.6 4.6M399.9 127.7l4.6 4.6m0 -4.6l-4.6 4.6M401 127.2l4.6 4.6m0 -4.6l-4.6 4.6M402.1 127l4.6 4.6m0 -4.6l-4.6 4.6M403.2 126.3l4.6 4.6m0 -4.6l-4.6 4.6M404.4 126.1l4.6 4.6m0 -4.6l-4.6 4.6M405.5 126.2l4.6 4.6m0 -4.6l-4.6 4.6M406.6 126.2l4.6 4.6m0 -4.6l-4.6 4.6M407.8 126.4l4.6 4.6m0 -4.6l-4.6 4.6M408.9 125.7l4.6 4.6m0 -4.6l-4.6 4.6M410 125.7l4.6 4.6m0 -4.6l-4.6 4.6M411.1 124.9l4.6 4.6m0 -4.6l-4.6 4.6M412.3 124.9l4.6 4.6m0 -4.6l-4.6 4.6M413.4 124.5l4.6 4.6m0 -4.6l-4.6 4.6M414.5 125.1l4.6 4.6m0 -4.6l-4.6 4.6M415.6 125.1l4.6 4.6m0 -4.6l-4.6 4.6M416.8 125.1l4.6 4.6m0 -4.6l-4.6 4.6M417.9 125l4.6 4.6m0 -4.6l-4.6 4.6M419 124.8l4.6 4.6m0 -4.6l-4.6 4.6M420.1 124.9l4.6 4.6m0 -4.6l-4.6 4.6M421.3 124.7l4.6 4.6m0 -4.6l-4.6 4.6M422.4 124.5l4.6 4.6m0 -4.6l-4.6 4.6M423.5 124.1l4.6 4.6m0 -4.6l-4.6 4.6M424.7 123.9l4.6 4.6m0 -4.6l-4.6 4.6M425.8 123.6l4.6 4.6m0 -4.6l-4.6 4.6M426.9 123.7l4.6 4.6m0 -4.6l-4.6 4.6M428 123.8l4.6 4.6m0 -4.6l-4.6 4.6M429.2 124l4.6 4.6m0 -4.6l-4.6 4.6M430.3 123.6l4.6 4.6m0 -4.6l-4.6 4.6M431.4 122.8l4.6 4.6m0 -4.6l-4.6 4.6M432.5 122.4l4.6 4.6m0 -4.6l-4.6 4.6M433.7 122.3l4.6 4.6m0 -4.6l-4.6 4.6M434.8 122.9l4.6 4.6m0 -4.6l-4.6 4.6M435.9 122.6l4.6 4.6m0 -4.6l-4.6 4.6M437.1 122.4l4.6 4.6m0 -4.6l-4.6 4.6M438.2 122.1l4.6 4.6m0 -4.6l-4.6 4.6M439.3 122l4.6 4.6m0 -4.6l-4.6 4.6M440.4 121.8l4.6 4.6m0 -4.6l-4.6 4.6M441.6 122l4.6 4.6m0 -4.6l-4.6 4.6M442.7 122.4l4.6 4.6m0 -4.6l-4.6 4.6M443.8 122.5l4.6 4.6m0 -4.6l-4.6 4.6M444.9 121.9l4.6 4.6m0 -4.6l-4.6 4.6M446.1 121l4.6 4.6m0 -4.6l-4.6 4.6M447.2 120.8l4.6 4.6m0 -4.6l-4.6 4.6M448.3 120.6l4.6 4.6m0 -4.6l-4.6 4.6M449.4 120.8l4.6 4.6m0 -4.6l-4.6 4.6M450.6 120.3l4.6 4.6m0 -4.6l-4.6 4.6M451.7 120.1l4.6 4.6m0 -4.6l-4.6 4.6M452.8 119.8l4.6 4.6m0 -4.6l-4.6 4.6M454 119.9l4.6 4.6m0 -4.6l-4.6 4.6M455.1 120.2l4.6 4.6m0 -4.6l-4.6 4.6M456.2 120.2l4.6 4.6m0 -4.6l-4.6 4.6M457.3 119.5l4.6 4.6m0 -4.6l-4.6 4.6M458.5 118.6l4.6 4.6m0 -4.6l-4.6 4.6M459.6 117.8l4.6 4.6m0 -4.6l-4.6 4.6M460.7 117.9l4.6 4.6m0 -4.6l-4.6 4.6M461.8 118.2l4.6 4.6m0 -4.6l-4.6 4.6M463 118.6l4.6 4.6m0 -4.6l-4.6 4.6M464.1 118.5l4.6 4.6m0 -4.6l-4.6 4.6M465.2 118.2l4.6 4.6m0 -4.6l-4.6 4.6M466.4 117.7l4.6 4.6m0 -4.6l-4.6 4.6M467.5 117.2l4.6 4.6m0 -4.6l-4.6 4.6M468.6 116.5l4.6 4.6m0 -4.6l-4.6 4.6M469.7 116.3l4.6 4.6m0 -4.6l-4.6 4.6M470.9 116.9l4.6 4.6m0 -4.6l-4.6 4.6M472 116.8l4.6 4.6m0 -4.6l-4.6 4.6M473.1 117.2l4.6 4.6m0 -4.6l-4.6 4.6M474.2 116.9l4.6 4.6m0 -4.6l-4.6 4.6M475.4 117.1l4.6 4.6m0 -4.6l-4.6 4.6M476.5 116.4l4.6 4.6m0 -4.6l-4.6 4.6M477.6 115.6l4.6 4.6m0 -4.6l-4.6 4.6M478.8 115.4l4.6 4.6m0 -4.6l-4.6 4.6M479.9 115.4l4.6 4.6m0 -4.6l-4.6 4.6M481 115.3l4.6 4.6m0 -4.6l-4.6 4.6M482.1 115.4l4.6 4.6m0 -4.6l-4.6 4.6M483.3 115.4l4.6 4.6m0 -4.6l-4.6 4.6M484.4 115.3l4.6 4.6m0 -4.6l-4.6 4.6M485.5 114.9l4.6 4.6m0 -4.6l-4.6 4.6M486.6 114.3l4.6 4.6m0 -4.6l-4.6 4.6M487.8 114.1l4.6 4.6m0 -4.6l-4.6 4.6M488.9 113.4l4.6 4.6m0 -4.6l-4.6 4.6M490 113.4l4.6 4.6m0 -4.6l-4.6 4.6M491.1 113.1l4.6 4.6m0 -4.6l-4.6 4.6M492.3 113l4.6 4.6m0 -4.6l-4.6 4.6M493.4 113.3l4.6 4.6m0 -4.6l-4.6 4.6M494.5 112.7l4.6 4.6m0 -4.6l-4.6 4.6M495.7 112.5l4.6 4.6m0 -4.6l-4.6 4.6M496.8 111.7l4.6 4.6m0 -4.6l-4.6 4.6M497.9 111.2l4.6 4.6m0 -4.6l-4.6 4.6M499 111l4.6 4.6m0 -4.6l-4.6 4.6M500.2 110.2l4.6 4.6m0 -4.6l-4.6 4.6M501.3 110.3l4.6 4.6m0 -4.6l-4.6 4.6M502.4 110.3l4.6 4.6m0 -4.6l-4.6 4.6M503.5 110.6l4.6 4.6m0 -4.6l-4.6 4.6M504.7 111.1l4.6 4.6m0 -4.6l-4.6 4.6M505.8 111.1l4.6 4.6m0 -4.6l-4.6 4.6M506.9 111.2l4.6 4.6m0 -4.6l-4.6 4.6M508.1 110.8l4.6 4.6m0 -4.6l-4.6 4.6M509.2 110.2l4.6 4.6m0 -4.6l-4.6 4.6M510.3 110l4.6 4.6m0 -4.6l-4.6 4.6M511.4 109.5l4.6 4.6m0 -4.6l-4.6 4.6M512.6 109.2l4.6 4.6m0 -4.6l-4.6 4.6M513.7 109.1l4.6 4.6m0 -4.6l-4.6 4.6M514.8 109.3l4.6 4.6m0 -4.6l-4.6 4.6M515.9 109.4l4.6 4.6m0 -4.6l-4.6 4.6M517.1 108.9l4.6 4.6m0 -4.6l-4.6 4.6M518.2 108.6l4.6 4.6m0 -4.6l-4.6 4.6M519.3 107.9l4.6 4.6m0 -4.6l-4.6 4.6M520.5 107.3l4.6 4.6m0 -4.6l-4.6 4.6M521.6 106.3l4.6 4.6m0 -4.6l-4.6 4.6M522.7 106.5l4.6 4.6m0 -4.6l-4.6 4.6M523.8 106l4.6 4.6m0 -4.6l-4.6 4.6M525 106.4l4.6 4.6m0 -4.6l-4.6 4.6M526.1 106.1l4.6 4.6m0 -4.6l-4.6 4.6M527.2 105.7l4.6 4.6m0 -4.6l-4.6 4.6M528.3 104.9l4.6 4.6m0 -4.6l-4.6 4.6M529.5 104l4.6 4.6m0 -4.6l-4.6 4.6M530.6 103.8l4.6 4.6m0 -4.6l-4.6 4.6M531.7 103.5l4.6 4.6m0 -4.6l-4.6 4.6M532.8 103.5l4.6 4.6m0 -4.6l-4.6 4.6M534 102.5l4.6 4.6m0 -4.6l-4.6 4.6M535.1 101.7l4.6 4.6m0 -4.6l-4.6 4.6M536.2 101.3l4.6 4.6m0 -4.6l-4.6 4.6M537.4 101.5l4.6 4.6m0 -4.6l-4.6 4.6M538.5 101.5l4.6 4.6m0 -4.6l-4.6 4.6M539.6 100.4l4.6 4.6m0 -4.6l-4.6 4.6M540.7 100l4.6 4.6m0 -4.6l-4.6 4.6M541.9 98.9l4.6 4.6m0 -4.6l-4.6 4.6M543 98.9l4.6 4.6m0 -4.6l-4.6 4.6M544.1 98.3l4.6 4.6m0 -4.6l-4.6 4.6M545.2 98.3l4.6 4.6m0 -4.6l-4.6 4.6M546.4 97.5l4.6 4.6m0 -4.6l-4.6 4.6M547.5 97l4.6 4.6m0 -4.6l-4.6 4.6M548.6 96l4.6 4.6m0 -4.6l-4.6 4.6M549.8 95.3l4.6 4.6m0 -4.6l-4.6 4.6M550.9 94.9l4.6 4.6m0 -4.6l-4.6 4.6M552 94.8l4.6 4.6m0 -4.6l-4.6 4.6M553.1 94.2l4.6 4.6m0 -4.6l-4.6 4.6M554.3 93.3l4.6 4.6m0 -4.6l-4.6 4.6M555.4 92.9l4.6 4.6m0 -4.6l-4.6 4.6M556.5 93.3l4.6 4.6m0 -4.6l-4.6 4.6M557.6 93.4l4.6 4.6m0 -4.6l-4.6 4.6M558.8 93.1l4.6 4.6m0 -4.6l-4.6 4.6M559.9 91.5l4.6 4.6m0 -4.6l-4.6 4.6M561 90.6l4.6 4.6m0 -4.6l-4.6 4.6M562.1 89.9l4.6 4.6m0 -4.6l-4.6 4.6M563.3 89.9l4.6 4.6m0 -4.6l-4.6 4.6M564.4 89.4l4.6 4.6m0 -4.6l-4.6 4.6M565.5 88.4l4.6 4.6m0 -4.6l-4.6 4.6M566.7 88l4.6 4.6m0 -4.6l-4.6 4.6M567.8 87.5l4.6 4.6m0 -4.6l-4.6 4.6M568.9 86.6l4.6 4.6m0 -4.6l-4.6 4.6M570 84.8l4.6 4.6m0 -4.6l-4.6 4.6M571.2 83.9l4.6 4.6m0 -4.6l-4.6 4.6M572.3 82.7l4.6 4.6m0 -4.6l-4.6 4.6M573.4 82.3l4.6 4.6m0 -4.6l-4.6 4.6M574.5 81.1l4.6 4.6m0 -4.6l-4.6 4.6M575.7 79.7l4.6 4.6m0 -4.6l-4.6 4.6M576.8 78.2l4.6 4.6m0 -4.6l-4.6 4.6M577.9 76.2l4.6 4.6m0 -4.6l-4.6 4.6M579.1 75.1l4.6 4.6m0 -4.6l-4.6 4.6M580.2 73.6l4.6 4.6m0 -4.6l-4.6 4.6M581.3 72.6l4.6 4.6m0 -4.6l-4.6 4.6M582.4 70.8l4.6 4.6m0 -4.6l-4.6 4.6M583.6 68.8l4.6 4.6m0 -4.6l-4.6 4.6M584.7 66.3l4.6 4.6m0 -4.6l-4.6 4.6M585.8 63.3l4.6 4.6m0 -4.6l-4.6 4.6M586.9 60l4.6 4.6m0 -4.6l-4.6 4.6M588.1 55.8l4.6 4.6m0 -4.6l-4.6 4.6"/>
<path fill="#8a74c4" stroke="#8a0a8a" stroke-width="0.8" d="M351.4 155.8h4.6v4.6h-4.6zM352.5 152.2h4.6v4.6h-4.6zM353.7 147.1h4.6v4.6h-4.6zM354.8 145.2h4.6v4.6h-4.6zM355.9 143.6h4.6v4.6h-4.6zM357 142.9h4.6v4.6h-4.6zM358.2 144h4.6v4.6h-4.6zM359.3 144.2h4.6v4.6h-4.6zM360.4 143.8h4.6v4.6h-4.6zM361.5 140.9h4.6v4.6h-4.6zM362.7 139.9h4.6v4.6h-4.6zM363.8 138.3h4.6v4.6h-4.6zM364.9 139.2h4.6v4.6h-4.6zM366.1 138.8h4.6v4.6h-4.6zM367.2 139.2h4.6v4.6h-4.6zM368.3 138.3h4.6v4.6h-4.6zM369.4 137.8h4.6v4.6h-4.6zM370.6 136.5h4.6v4.6h-4.6zM371.7 136.5h4.6v4.6h-4.6zM372.8 135.6h4.6v4.6h-4.6zM373.9 135.5h4.6v4.6h-4.6zM375.1 134.6h4.6v4.6h-4.6zM376.2 134.6h4.6v4.6h-4.6zM377.3 135.1h4.6v4.6h-4.6zM378.4 135.6h4.6v4.6h-4.6zM379.6 135.8h4.6v4.6h-4.6zM380.7 135.5h4.6v4.6h-4.6zM381.8 134.6h4.6v4.6h-4.6zM383 134.6h4.6v4.6h-4.6zM384.1 133.1h4.6v4.6h-4.6zM385.2 133h4.6v4.6h-4.6zM386.3 131.7h4.6v4.6h-4.6zM387.5 131.8h4.6v4.6h-4.6zM388.6 131.3h4.6v4.6h-4.6zM389.7 131.3h4.6v4.6h-4.6zM390.8 132.1h4.6v4.6h-4.6zM392 132.5h4.6v4.6h-4.6zM393.1 131.1h4.6v4.6h-4.6zM394.2 130.4h4.6v4.6h-4.6zM395.4 130.6h4.6v4.6h-4.6zM396.5 132.3h4.6v4.6h-4.6zM397.6 132.9h4.6v4.6h-4.6zM398.7 131.6h4.6v4.6h-4.6zM399.9 130h4.6v4.6h-4.6zM401 128.2h4.6v4.6h-4.6zM402.1 128.3h4.6v4.6h-4.6zM403.2 129.5h4.6v4.6h-4.6zM404.4 129.5h4.6v4.6h-4.6zM405.5 128.7h4.6v4.6h-4.6zM406.6 128.1h4.6v4.6h-4.6zM407.8 127.3h4.6v4.6h-4.6zM408.9 127h4.6v4.6h-4.6zM410 127.6h4.6v4.6h-4.6zM411.1 129.8h4.6v4.6h-4.6zM412.3 129.7h4.6v4.6h-4.6zM413.4 129.7h4.6v4.6h-4.6zM414.5 127.9h4.6v4.6h-4.6zM415.6 127.3h4.6v4.6h-4.6zM416.8 124.7h4.6v4.6h-4.6zM417.9 125.4h4.6v4.6h-4.6zM419 125.5h4.6v4.6h-4.6zM420.1 128.1h4.6v4.6h-4.6zM421.3 127.6h4.6v4.6h-4.6zM422.4 127.7h4.6v4.6h-4.6zM423.5 125.1h4.6v4.6h-4.6zM424.7 125.6h4.6v4.6h-4.6zM425.8 125.2h4.6v4.6h-4.6zM426.9 126h4.6v4.6h-4.6zM428 123.6h4.6v4.6h-4.6zM429.2 124.2h4.6v4.6h-4.6zM430.3 124.8h4.6v4.6h-4.6zM431.4 125.6h4.6v4.6h-4.6zM432.5 124.9h4.6v4.6h-4.6zM433.7 124.4h4.6v4.6h-4.6zM434.8 125.1h4.6v4.6h-4.6zM435.9 125h4.6v4.6h-4.6zM437.1 125.6h4.6v4.6h-4.6zM438.2 124.7h4.6v4.6h-4.6zM439.3 124.1h4.6v4.6h-4.6zM440.4 122.7h4.6v4.6h-4.6zM441.6 121.1h4.6v4.6h-4.6zM442.7 120.8h4.6v4.6h-4.6zM443.8 121.5h4.6v4.6h-4.6zM444.9 123h4.6v4.6h-4.6zM446.1 122.9h4.6v4.6h-4.6zM447.2 122.3h4.6v4.6h-4.6zM448.3 120.8h4.6v4.6h-4.6zM449.4 120.9h4.6v4.6h-4.6zM450.6 120.9h4.6v4.6h-4.6zM451.7 122.3h4.6v4.6h-4.6zM452.8 121.8h4.6v4.6h-4.6zM454 121.9h4.6v4.6h-4.6zM455.1 122.4h4.6v4.6h-4.6zM456.2 122.5h4.6v4.6h-4.6zM457.3 122.2h4.6v4.6h-4.6zM458.5 120h4.6v4.6h-4.6zM459.6 119h4.6v4.6h-4.6zM460.7 118.8h4.6v4.6h-4.6zM461.8 119.6h4.6v4.6h-4.6zM463 120.8h4.6v4.6h-4.6zM464.1 119.9h4.6v4.6h-4.6zM465.2 119.6h4.6v4.6h-4.6zM466.4 119.8h4.6v4.6h-4.6zM467.5 121h4.6v4.6h-4.6zM468.6 120.9h4.6v4.6h-4.6zM469.7 119.3h4.6v4.6h-4.6zM470.9 118.9h4.6v4.6h-4.6zM472 119.2h4.6v4.6h-4.6zM473.1 120.5h4.6v4.6h-4.6zM474.2 119.7h4.6v4.6h-4.6zM475.4 120.5h4.6v4.6h-4.6zM476.5 120h4.6v4.6h-4.6zM477.6 120h4.6v4.6h-4.6zM478.8 117.3h4.6v4.6h-4.6zM479.9 116.7h4.6v4.6h-4.6zM481 115.8h4.6v4.6h-4.6zM482.1 116.7h4.6v4.6h-4.6zM483.3 117.1h4.6v4.6h-4.6zM484.4 116.8h4.6v4.6h-4.6zM485.5 117.6h4.6v4.6h-4.6zM486.6 116.6h4.6v4.6h-4.6zM487.8 116.6h4.6v4.6h-4.6zM488.9 115.5h4.6v4.6h-4.6zM490 115.1h4.6v4.6h-4.6zM491.1 115.5h4.6v4.6h-4.6zM492.3 115.5h4.6v4.6h-4.6zM493.4 115.9h4.6v4.6h-4.6zM494.5 116.4h4.6v4.6h-4.6zM495.7 115.8h4.6v4.6h-4.6zM496.8 115.9h4.6v4.6h-4.6zM497.9 114h4.6v4.6h-4.6zM499 112.7h4.6v4.6h-4.6zM500.2 111.9h4.6v4.6h-4.6zM501.3 112h4.6v4.6h-4.6zM502.4 112.4h4.6v4.6h-4.6zM503.5 113h4.6v4.6h-4.6zM504.7 111.5h4.6v4.6h-4.6zM505.8 110.9h4.6v4.6h-4.6zM506.9 109.1h4.6v4.6h-4.6zM508.1 111h4.6v4.6h-4.6zM509.2 111.1h4.6v4.6h-4.6zM510.3 111.7h4.6v4.6h-4.6zM511.4 110h4.6v4.6h-4.6zM512.6 110.6h4.6v4.6h-4.6zM513.7 110.4h4.6v4.6h-4.6zM514.8 110.9h4.6v4.6h-4.6zM515.9 108.9h4.6v4.6h-4.6zM517.1 109.6h4.6v4.6h-4.6zM518.2 109.5h4.6v4.6h-4.6zM519.3 110.7h4.6v4.6h-4.6zM520.5 110.5h4.6v4.6h-4.6zM521.6 109.9h4.6v4.6h-4.6zM522.7 109.2h4.6v4.6h-4.6zM523.8 108.6h4.6v4.6h-4.6zM525 108.6h4.6v4.6h-4.6zM526.1 108.3h4.6v4.6h-4.6zM527.2 107.5h4.6v4.6h-4.6zM528.3 106.6h4.6v4.6h-4.6zM529.5 106.8h4.6v4.6h-4.6zM530.6 107h4.6v4.6h-4.6zM531.7 106.9h4.6v4.6h-4.6zM532.8 107.2h4.6v4.6h-4.6zM534 105.3h4.6v4.6h-4.6zM535.1 104.7h4.6v4.6h-4.6zM536.2 104.2h4.6v4.6h-4.6zM537.4 104.4h4.6v4.6h-4.6zM538.5 103.2h4.6v4.6h-4.6zM539.6 102.5h4.6v4.6h-4.6zM540.7 102.6h4.6v4.6h-4.6zM541.9 102.4h4.6v4.6h-4.6zM543 101.6h4.6v4.6h-4.6zM544.1 100.2h4.6v4.6h-4.6zM545.2 99.7h4.6v4.6h-4.6zM546.4 98.7h4.6v4.6h-4.6zM547.5 98.5h4.6v4.6h-4.6zM548.6 98.2h4.6v4.6h-4.6zM549.8 97.7h4.6v4.6h-4.6zM550.9 96.9h4.6v4.6h-4.6zM552 97.2h4.6v4.6h-4.6zM553.1 96.9h4.6v4.6h-4.6zM554.3 97.5h4.6v4.6h-4.6zM555.4 96.7h4.6v4.6h-4.6zM556.5 95.4h4.6v4.6h-4.6zM557.6 93.7h4.6v4.6h-4.6zM558.8 93.3h4.6v4.6h-4.6zM559.9 94.4h4.6v4.6h-4.6zM561 95.1h4.6v4.6h-4.6zM562.1 94.3h4.6v4.6h-4.6zM563.3 93.3h4.6v4.6h-4.6zM564.4 91.4h4.6v4.6h-4.6zM565.5 91.6h4.6v4.6h-4.6zM566.7 90h4.6v4.6h-4.6zM567.8 90.2h4.6v4.6h-4.6zM568.9 89.1h4.6v4.6h-4.6zM570 88.1h4.6v4.6h-4.6zM571.2 86.8h4.6v4.6h-4.6zM572.3 84.7h4.6v4.6h-4.6zM573.4 83.7h4.6v4.6h-4.6zM574.5 83h4.6v4.6h-4.6zM575.7 84.9h4.6v4.6h-4.6zM576.8 84.1h4.6v4.6h-4.6zM577.9 82.2h4.6v4.6h-4.6zM579.1 77.8h4.6v4.6h-4.6zM580.2 76.6h4.6v4.6h-4.6zM581.3 74h4.6v4.6h-4.6zM582.4 72.5h4.6v4.6h-4.6zM583.6 70.3h4.6v4.6h-4.6zM584.7 68.7h4.6v4.6h-4.6zM585.8 67.8h4.6v4.6h-4.6zM586.9 65.2h4.6v4.6h-4.6zM588.1 60.8h4.6v4.6h-4.6z"/>
<path fill="#800000" d="M351.7 163.9a2 2 0 1 0 4 0a2 2 0 1 0 -4 0zM352.8 158a2 2 0 1 0 4 0a2 2 0 1 0 -4 0zM354 153.1a2 2 0 1 0 4 0a2 2 0 1 0 -4 0zM355.1 149.7a2 2 0 1 0 4 0a2 2 0 1 0 -4 0zM356.2 148.8a2 2 0 1 0 4 0a2 2 0 1 0 -4 0zM357.3 148.5a2 2 0 1 0 4 0a2 2 0 1 0 -4 0zM358.5 149.6a2 2 0 1 0 4 0a2 2 0 1 0 -4 0zM359.6 148.3a2 2 0 1 0 4 0a2 2 0 1 0 -4 0zM360.7 146a2 2 0 1 0 4 0a2 2 0 1 0 -4 0zM361.8 145.4a2 2 0 1 0 4 0a2 2 0 1 0 -4 0zM363 146.5a2 2 0 1 0 4 0a2 2 0 1 0 -4 0zM364.1 145.1a2 2 0 1 0 4 0a2 2 0 1 0 -4 0zM365.2 143.3a2 2 0 1 0 4 0a2 2 0 1 0 -4 0zM366.4 141.7a2 2 0 1 0 4 0a2 2 0 1 0 -4 0zM367.5 143.4a2 2 0 1 0 4 0a2 2 0 1 0 -4 0zM368.6 142.7a2 2 0 1 0 4 0a2 2 0 1 0 -4 0zM369.7 142.7a2 2 0 1 0 4 0a2 2 0 1 0 -4 0zM370.9 141.1a2 2 0 1 0 4 0a2 2 0 1 0 -4 0zM372 143.1a2 2 0 1 0 4 0a2 2 0 1 0 -4 0zM373.1 142.6a2 2 0 1 0 4 0a2 2 0 1 0 -4 0zM374.2 142.3a2 2 0 1 0 4 0a2 2 0 1 0 -4 0zM375.4 139.8a2 2 0 1 0 4 0a2 2 0 1 0 -4 0zM376.5 139.9a2 2 0 1 0 4 0a2 2 0 1 0 -4 0zM377.6 140.1a2 2 0 1 0 4 0a2 2 0 1 0 -4 0zM378.7 139.2a2 2 0 1 0 4 0a2 2 0 1 0 -4 0zM379.9 138.2a2 2 0 1 0 4 0a2 2 0 1 0 -4 0zM381 136.3a2 2 0 1 0 4 0a2 2 0 1 0 -4 0zM382.1 136.3a2 2 0 1 0 4 0a2 2 0 1 0 -4 0zM383.3 134.8a2 2 0 1 0 4 0a2 2 0 1 0 -4 0zM384.4 134.5a2 2 0 1 0 4 0a2 2 0 1 0 -4 0zM385.5 134.2a2 2 0 1 0 4 0a2 2 0 1 0 -4 0zM386.6 134.2a2 2 0 1 0 4 0a2 2 0 1 0 -4 0zM387.8 135.3a2 2 0 1 0 4 0a2 2 0 1 0 -4 0zM388.9 136.2a2 2 0 1 0 4 0a2 2 0 1 0 -4 0zM390 136.5a2 2 0 1 0 4 0a2 2 0 1 0 -4 0zM391.1 134.9a2 2 0 1 0 4 0a2 2 0 1 0 -4 0zM392.3 134.6a2 2 0 1 0 4 0a2 2 0 1 0 -4 0zM393.4 133a2 2 0 1 0 4 0a2 2 0 1 0 -4 0zM394.5 132.1a2 2 0 1 0 4 0a2 2 0 1 0 -4 0zM395.7 131.7a2 2 0 1 0 4 0a2 2 0 1 0 -4 0zM396.8 133.6a2 2 0 1 0 4 0a2 2 0 1 0 -4 0zM397.9 135.6a2 2 0 1 0 4 0a2 2 0 1 0 -4 0zM399 134.6a2 2 0 1 0 4 0a2 2 0 1 0 -4 0zM400.2 132.8a2 2 0 1 0 4 0a2 2 0 1 0 -4 0zM401.3 131.4a2 2 0 1 0 4 0a2 2 0 1 0 -4 0zM402.4 131.8a2 2 0 1 0 4 0a2 2 0 1 0 -4 0zM403.5 131.9a2 2 0 1 0 4 0a2 2 0 1 0 -4 0zM404.7 131.6a2 2 0 1 0 4 0a2 2 0 1 0 -4 0zM405.8 129.8a2 2 0 1 0 4 0a2 2 0 1 0 -4 0zM406.9 129.3a2 2 0 1 0 4 0a2 2 0 1 0 -4 0zM408.1 130.3a2 2 0 1 0 4 0a2 2 0 1 0 -4 0zM409.2 131.5a2 2 0 1 0 4 0a2 2 0 1 0 -4 0zM410.3 131.3a2 2 0 1 0 4 0a2 2 0 1 0 -4 0zM411.4 129.6a2 2 0 1 0 4 0a2 2 0 1 0 -4 0zM412.6 128.6a2 2 0 1 0 4 0a2 2 0 1 0 -4 0zM413.7 129.7a2 2 0 1 0 4 0a2 2 0 1 0 -4 0zM414.8 129.5a2 2 0 1 0 4 0a2 2 0 1 0 -4 0zM415.9 129.6a2 2 0 1 0 4 0a2 2 0 1 0 -4 0zM417.1 127.3a2 2 0 1 0 4 0a2 2 0 1 0 -4 0zM418.2 127.1a2 2 0 1 0 4 0a2 2 0 1 0 -4 0zM419.3 127.4a2 2 0 1 0 4 0a2 2 0 1 0 -4 0zM420.4 129.6a2 2 0 1 0 4 0a2 2 0 1 0 -4 0zM421.6 129.5a2 2 0 1 0 4 0a2 2 0 1 0 -4 0zM422.7 128.4a2 2 0 1 0 4 0a2 2 0 1 0 -4 0zM423.8 128.1a2 2 0 1 0 4 0a2 2 0 1 0 -4 0zM425 128.6a2 2 0 1 0 4 0a2 2 0 1 0 -4 0zM426.1 128.6a2 2 0 1 0 4 0a2 2 0 1 0 -4 0zM427.2 128.2a2 2 0 1 0 4 0a2 2 0 1 0 -4 0zM428.3 128.5a2 2 0 1 0 4 0a2 2 0 1 0 -4 0zM429.5 129.6a2 2 0 1 0 4 0a2 2 0 1 0 -4 0zM430.6 129.6a2 2 0 1 0 4 0a2 2 0 1 0 -4 0zM431.7 128.9a2 2 0 1 0 4 0a2 2 0 1 0 -4 0zM432.8 127.7a2 2 0 1 0 4 0a2 2 0 1 0 -4 0zM434 126.9a2 2 0 1 0 4 0a2 2 0 1 0 -4 0zM435.1 126.1a2 2 0 1 0 4 0a2 2 0 1 0 -4 0zM436.2 125.3a2 2 0 1 0 4 0a2 2 0 1 0 -4 0zM437.4 125.9a2 2 0 1 0 4 0a2 2 0 1 0 -4 0zM438.5 125.6a2 2 0 1 0 4 0a2 2 0 1 0 -4 0zM439.6 126.9a2 2 0 1 0 4 0a2 2 0 1 0 -4 0zM440.7 126.2a2 2 0 1 0 4 0a2 2 0 1 0 -4 0zM441.9 127.1a2 2 0 1 0 4 0a2 2 0 1 0 -4 0zM443 126.6a2 2 0 1 0 4 0a2 2 0 1 0 -4 0zM444.1 126.6a2 2 0 1 0 4 0a2 2 0 1 0 -4 0zM445.2 127.5a2 2 0 1 0 4 0a2 2 0 1 0 -4 0zM446.4 126.6a2 2 0 1 0 4 0a2 2 0 1 0 -4 0zM447.5 125.9a2 2 0 1 0 4 0a2 2 0 1 0 -4 0zM448.6 124.6a2 2 0 1 0 4 0a2 2 0 1 0 -4 0zM449.7 126.2a2 2 0 1 0 4 0a2 2 0 1 0 -4 0zM450.9 127a2 2 0 1 0 4 0a2 2 0 1 0 -4 0zM452 126.3a2 2 0 1 0 4 0a2 2 0 1 0 -4 0zM453.1 124.5a2 2 0 1 0 4 0a2 2 0 1 0 -4 0zM454.3 123a2 2 0 1 0 4 0a2 2 0 1 0 -4 0zM455.4 123.6a2 2 0 1 0 4 0a2 2 0 1 0 -4 0zM456.5 123.9a2 2 0 1 0 4 0a2 2 0 1 0 -4 0zM457.6 126.1a2 2 0 1 0 4 0a2 2 0 1 0 -4 0zM458.8 124.5a2 2 0 1 0 4 0a2 2 0 1 0 -4 0zM459.9 125a2 2 0 1 0 4 0a2 2 0 1 0 -4 0zM461 123.4a2 2 0 1 0 4 0a2 2 0 1 0 -4 0zM462.1 124.1a2 2 0 1 0 4 0a2 2 0 1 0 -4 0zM463.3 123a2 2 0 1 0 4 0a2 2 0 1 0 -4 0zM464.4 122.1a2 2 0 1 0 4 0a2 2 0 1 0 -4 0zM465.5 122.6a2 2 0 1 0 4 0a2 2 0 1 0 -4 0zM466.7 123.3a2 2 0 1 0 4 0a2 2 0 1 0 -4 0zM467.8 122.3a2 2 0 1 0 4 0a2 2 0 1 0 -4 0zM468.9 123.1a2 2 0 1 0 4 0a2 2 0 1 0 -4 0zM470 121.9a2 2 0 1 0 4 0a2 2 0 1 0 -4 0zM471.2 124a2 2 0 1 0 4 0a2 2 0 1 0 -4 0zM472.3 123.2a2 2 0 1 0 4 0a2 2 0 1 0 -4 0zM473.4 124.2a2 2 0 1 0 4 0a2 2 0 1 0 -4 0zM474.5 123.3a2 2 0 1 0 4 0a2 2 0 1 0 -4 0zM475.7 123.6a2 2 0 1 0 4 0a2 2 0 1 0 -4 0zM476.8 122.5a2 2 0 1 0 4 0a2 2 0 1 0 -4 0zM477.9 121.2a2 2 0 1 0 4 0a2 2 0 1 0 -4 0zM479.1 120.7a2 2 0 1 0 4 0a2 2 0 1 0 -4 0zM480.2 120.9a2 2 0 1 0 4 0a2 2 0 1 0 -4 0zM481.3 123a2 2 0 1 0 4 0a2 2 0 1 0 -4 0zM482.4 120.7a2 2 0 1 0 4 0a2 2 0 1 0 -4 0zM483.6 119.8a2 2 0 1 0 4 0a2 2 0 1 0 -4 0zM484.7 118.7a2 2 0 1 0 4 0a2 2 0 1 0 -4 0zM485.8 119.1a2 2 0 1 0 4 0a2 2 0 1 0 -4 0zM486.9 118.8a2 2 0 1 0 4 0a2 2 0 1 0 -4 0zM488.1 119.4a2 2 0 1 0 4 0a2 2 0 1 0 -4 0zM489.2 121.2a2 2 0 1 0 4 0a2 2 0 1 0 -4 0zM490.3 120.5a2 2 0 1 0 4 0a2 2 0 1 0 -4 0zM491.4 119.7a2 2 0 1 0 4 0a2 2 0 1 0 -4 0zM492.6 119.2a2 2 0 1 0 4 0a2 2 0 1 0 -4 0zM493.7 120.3a2 2 0 1 0 4 0a2 2 0 1 0 -4 0zM494.8 119.2a2 2 0 1 0 4 0a2 2 0 1 0 -4 0zM496 118.2a2 2 0 1 0 4 0a2 2 0 1 0 -4 0zM497.1 116.6a2 2 0 1 0 4 0a2 2 0 1 0 -4 0zM498.2 115.6a2 2 0 1 0 4 0a2 2 0 1 0 -4 0zM499.3 115.7a2 2 0 1 0 4 0a2 2 0 1 0 -4 0zM500.5 116.2a2 2 0 1 0 4 0a2 2 0 1 0 -4 0zM501.6 117.7a2 2 0 1 0 4 0a2 2 0 1 0 -4 0zM502.7 116.6a2 2 0 1 0 4 0a2 2 0 1 0 -4 0zM503.8 114.3a2 2 0 1 0 4 0a2 2 0 1 0 -4 0zM505 112.3a2 2 0 1 0 4 0a2 2 0 1 0 -4 0zM506.1 112.5a2 2 0 1 0 4 0a2 2 0 1 0 -4 0zM507.2 114.4a2 2 0 1 0 4 0a2 2 0 1 0 -4 0zM508.4 114.4a2 2 0 1 0 4 0a2 2 0 1 0 -4 0zM509.5 113.3a2 2 0 1 0 4 0a2 2 0 1 0 -4 0zM510.6 113.8a2 2 0 1 0 4 0a2 2 0 1 0 -4 0zM511.7 113a2 2 0 1 0 4 0a2 2 0 1 0 -4 0zM512.9 113.9a2 2 0 1 0 4 0a2 2 0 1 0 -4 0zM514 112.2a2 2 0 1 0 4 0a2 2 0 1 0 -4 0zM515.1 111.5a2 2 0 1 0 4 0a2 2 0 1 0 -4 0zM516.2 111.7a2 2 0 1 0 4 0a2 2 0 1 0 -4 0zM517.4 109.7a2 2 0 1 0 4 0a2 2 0 1 0 -4 0zM518.5 109.7a2 2 0 1 0 4 0a2 2 0 1 0 -4 0zM519.6 108.6a2 2 0 1 0 4 0a2 2 0 1 0 -4 0zM520.8 110a2 2 0 1 0 4 0a2 2 0 1 0 -4 0zM521.9 110.9a2 2 0 1 0 4 0a2 2 0 1 0 -4 0zM523 110.1a2 2 0 1 0 4 0a2 2 0 1 0 -4 0zM524.1 109.7a2 2 0 1 0 4 0a2 2 0 1 0 -4 0zM525.3 110.4a2 2 0 1 0 4 0a2 2 0 1 0 -4 0zM526.4 110a2 2 0 1 0 4 0a2 2 0 1 0 -4 0zM527.5 109.8a2 2 0 1 0 4 0a2 2 0 1 0 -4 0zM528.6 106.9a2 2 0 1 0 4 0a2 2 0 1 0 -4 0zM529.8 106.1a2 2 0 1 0 4 0a2 2 0 1 0 -4 0zM530.9 106.3a2 2 0 1 0 4 0a2 2 0 1 0 -4 0zM532 107.1a2 2 0 1 0 4 0a2 2 0 1 0 -4 0zM533.1 107.2a2 2 0 1 0 4 0a2 2 0 1 0 -4 0zM534.3 105.7a2 2 0 1 0 4 0a2 2 0 1 0 -4 0zM535.4 105.3a2 2 0 1 0 4 0a2 2 0 1 0 -4 0zM536.5 103.5a2 2 0 1 0 4 0a2 2 0 1 0 -4 0zM537.7 103.3a2 2 0 1 0 4 0a2 2 0 1 0 -4 0zM538.8 102.1a2 2 0 1 0 4 0a2 2 0 1 0 -4 0zM539.9 102.2a2 2 0 1 0 4 0a2 2 0 1 0 -4 0zM541 102.1a2 2 0 1 0 4 0a2 2 0 1 0 -4 0zM542.2 101.3a2 2 0 1 0 4 0a2 2 0 1 0 -4 0zM543.3 100.8a2 2 0 1 0 4 0a2 2 0 1 0 -4 0zM544.4 101.5a2 2 0 1 0 4 0a2 2 0 1 0 -4 0zM545.5 102.1a2 2 0 1 0 4 0a2 2 0 1 0 -4 0zM546.7 103.2a2 2 0 1 0 4 0a2 2 0 1 0 -4 0zM547.8 101.3a2 2 0 1 0 4 0a2 2 0 1 0 -4 0zM548.9 101a2 2 0 1 0 4 0a2 2 0 1 0 -4 0zM550.1 100.2a2 2 0 1 0 4 0a2 2 0 1 0 -4 0zM551.2 100.6a2 2 0 1 0 4 0a2 2 0 1 0 -4 0zM552.3 101.3a2 2 0 1 0 4 0a2 2 0 1 0 -4 0zM553.4 100a2 2 0 1 0 4 0a2 2 0 1 0 -4 0zM554.6 98.8a2 2 0 1 0 4 0a2 2 0 1 0 -4 0zM555.7 96.4a2 2 0 1 0 4 0a2 2 0 1 0 -4 0zM556.8 93.3a2 2 0 1 0 4 0a2 2 0 1 0 -4 0zM557.9 91.5a2 2 0 1 0 4 0a2 2 0 1 0 -4 0zM559.1 91a2 2 0 1 0 4 0a2 2 0 1 0 -4 0zM560.2 93.6a2 2 0 1 0 4 0a2 2 0 1 0 -4 0zM561.3 93.7a2 2 0 1 0 4 0a2 2 0 1 0 -4 0zM562.4 93.9a2 2 0 1 0 4 0a2 2 0 1 0 -4 0zM563.6 93.7a2 2 0 1 0 4 0a2 2 0 1 0 -4 0zM564.7 93.2a2 2 0 1 0 4 0a2 2 0 1 0 -4 0zM565.8 92.6a2 2 0 1 0 4 0a2 2 0 1 0 -4 0zM567 92.2a2 2 0 1 0 4 0a2 2 0 1 0 -4 0zM568.1 92a2 2 0 1 0 4 0a2 2 0 1 0 -4 0zM569.2 89.2a2 2 0 1 0 4 0a2 2 0 1 0 -4 0zM570.3 88a2 2 0 1 0 4 0a2 2 0 1 0 -4 0zM571.5 86.4a2 2 0 1 0 4 0a2 2 0 1 0 -4 0zM572.6 85.8a2 2 0 1 0 4 0a2 2 0 1 0 -4 0zM573.7 83.6a2 2 0 1 0 4 0a2 2 0 1 0 -4 0zM574.8 82.2a2 2 0 1 0 4 0a2 2 0 1 0 -4 0zM576 82.1a2 2 0 1 0 4 0a2 2 0 1 0 -4 0zM577.1 81.3a2 2 0 1 0 4 0a2 2 0 1 0 -4 0zM578.2 81.3a2 2 0 1 0 4 0a2 2 0 1 0 -4 0zM579.4 79.5a2 2 0 1 0 4 0a2 2 0 1 0 -4 0zM580.5 76.7a2 2 0 1 0 4 0a2 2 0 1 0 -4 0zM581.6 73.9a2 2 0 1 0 4 0a2 2 0 1 0 -4 0zM582.7 72.3a2 2 0 1 0 4 0a2 2 0 1 0 -4 0zM583.9 70.7a2 2 0 1 0 4 0a2 2 0 1 0 -4 0zM585 70.8a2 2 0 1 0 4 0a2 2 0 1 0 -4 0zM586.1 67.2a2 2 0 1 0 4 0a2 2 0 1 0 -4 0zM587.2 63.8a2 2 0 1 0 4 0a2 2 0 1 0 -4 0zM588.4 57.9a2 2 0 1 0 4 0a2 2 0 1 0 -4 0z"/>
<path fill="#469c9c" stroke="#0a8080" stroke-width="0.7" d="M352.2 164.2h3v3h-3zM353.3 158.6h3v3h-3zM354.5 153.5h3v3h-3zM355.6 152.3h3v3h-3zM356.7 147.9h3v3h-3zM357.8 145.2h3v3h-3zM359 142.7h3v3h-3zM360.1 144.2h3v3h-3zM361.2 144.2h3v3h-3zM362.3 145h3v3h-3zM363.5 145h3v3h-3zM364.6 144.2h3v3h-3zM365.7 143h3v3h-3zM366.9 143.6h3v3h-3zM368 142.8h3v3h-3zM369.1 142.7h3v3h-3zM370.2 142.1h3v3h-3zM371.4 142.5h3v3h-3zM372.5 140h3v3h-3zM373.6 138.6h3v3h-3zM374.7 137.5h3v3h-3zM375.9 138.8h3v3h-3zM377 139h3v3h-3zM378.1 139.3h3v3h-3zM379.2 138.8h3v3h-3zM380.4 138.4h3v3h-3zM381.5 138h3v3h-3zM382.6 138h3v3h-3zM383.8 137.2h3v3h-3zM384.9 136.7h3v3h-3zM386 136h3v3h-3zM387.1 135.1h3v3h-3zM388.3 134.6h3v3h-3zM389.4 133.7h3v3h-3zM390.5 132.8h3v3h-3zM391.6 133.6h3v3h-3zM392.8 133.9h3v3h-3zM393.9 134.7h3v3h-3zM395 133.2h3v3h-3zM396.2 133.1h3v3h-3zM397.3 132.9h3v3h-3zM398.4 132.8h3v3h-3zM399.5 131.8h3v3h-3zM400.7 132.4h3v3h-3zM401.8 131.5h3v3h-3zM402.9 132.8h3v3h-3zM404 130.1h3v3h-3zM405.2 129.6h3v3h-3zM406.3 129.3h3v3h-3zM407.4 130.6h3v3h-3zM408.6 130.7h3v3h-3zM409.7 130h3v3h-3zM410.8 129h3v3h-3zM411.9 129.4h3v3h-3zM413.1 127h3v3h-3zM414.2 127.3h3v3h-3zM415.3 126.5h3v3h-3zM416.4 128.7h3v3h-3zM417.6 129.6h3v3h-3zM418.7 129.3h3v3h-3zM419.8 130h3v3h-3zM420.9 128.6h3v3h-3zM422.1 127.4h3v3h-3zM423.2 123.8h3v3h-3zM424.3 125.4h3v3h-3zM425.5 126.9h3v3h-3zM426.6 128.3h3v3h-3zM427.7 126.1h3v3h-3zM428.8 125.1h3v3h-3zM430 126.6h3v3h-3zM431.1 127h3v3h-3zM432.2 129.3h3v3h-3zM433.3 127.8h3v3h-3zM434.5 125.7h3v3h-3zM435.6 124.7h3v3h-3zM436.7 124.3h3v3h-3zM437.9 125.9h3v3h-3zM439 126.3h3v3h-3zM440.1 126.1h3v3h-3zM441.2 127.1h3v3h-3zM442.4 125.5h3v3h-3zM443.5 124.9h3v3h-3zM444.6 124.1h3v3h-3zM445.7 123.3h3v3h-3zM446.9 124.8h3v3h-3zM448 125h3v3h-3zM449.1 125.3h3v3h-3zM450.2 124.5h3v3h-3zM451.4 124h3v3h-3zM452.5 123.5h3v3h-3zM453.6 123.5h3v3h-3zM454.8 122.6h3v3h-3zM455.9 123.1h3v3h-3zM457 121.3h3v3h-3zM458.1 121.4h3v3h-3zM459.3 121h3v3h-3zM460.4 120.9h3v3h-3zM461.5 120.2h3v3h-3zM462.6 119.2h3v3h-3zM463.8 120.2h3v3h-3zM464.9 119.7h3v3h-3zM466 120.3h3v3h-3zM467.2 120.8h3v3h-3zM468.3 121.5h3v3h-3zM469.4 119.5h3v3h-3zM470.5 118h3v3h-3zM471.7 118.4h3v3h-3zM472.8 119.3h3v3h-3zM473.9 119.9h3v3h-3zM475 119.4h3v3h-3zM476.2 119.7h3v3h-3zM477.3 118.3h3v3h-3zM478.4 117.1h3v3h-3zM479.6 116.3h3v3h-3zM480.7 116.3h3v3h-3zM481.8 117h3v3h-3zM482.9 117.3h3v3h-3zM484.1 116.7h3v3h-3zM485.2 116.1h3v3h-3zM486.3 115.8h3v3h-3zM487.4 114.3h3v3h-3zM488.6 113.3h3v3h-3zM489.7 112h3v3h-3zM490.8 113h3v3h-3zM491.9 113.1h3v3h-3zM493.1 113.3h3v3h-3zM494.2 112.4h3v3h-3zM495.3 112.9h3v3h-3zM496.5 113.1h3v3h-3zM497.6 112.1h3v3h-3zM498.7 111.2h3v3h-3zM499.8 109.7h3v3h-3zM501 112.3h3v3h-3zM502.1 111.6h3v3h-3zM503.2 111.9h3v3h-3zM504.3 110.2h3v3h-3zM505.5 110.1h3v3h-3zM506.6 110.1h3v3h-3zM507.7 111h3v3h-3zM508.9 111.1h3v3h-3zM510 111.5h3v3h-3zM511.1 110.9h3v3h-3zM512.2 109.5h3v3h-3zM513.4 110h3v3h-3zM514.5 109.4h3v3h-3zM515.6 110.9h3v3h-3zM516.7 108.5h3v3h-3zM517.9 108.4h3v3h-3zM519 107.7h3v3h-3zM520.1 107.8h3v3h-3zM521.2 108.8h3v3h-3zM522.4 108.7h3v3h-3zM523.5 108.8h3v3h-3zM524.6 106.7h3v3h-3zM525.8 106.8h3v3h-3zM526.9 107.7h3v3h-3zM528 107.8h3v3h-3zM529.1 107.7h3v3h-3zM530.3 107.7h3v3h-3zM531.4 105.9h3v3h-3zM532.5 104.1h3v3h-3zM533.6 101.7h3v3h-3zM534.8 102.5h3v3h-3zM535.9 103.8h3v3h-3zM537 104.8h3v3h-3zM538.2 103.4h3v3h-3zM539.3 101.6h3v3h-3zM540.4 101.5h3v3h-3zM541.5 101.6h3v3h-3zM542.7 101.2h3v3h-3zM543.8 100.1h3v3h-3zM544.9 98.5h3v3h-3zM546 98.7h3v3h-3zM547.2 98.3h3v3h-3zM548.3 99.8h3v3h-3zM549.4 97.8h3v3h-3zM550.6 96.4h3v3h-3zM551.7 94.9h3v3h-3zM552.8 95.5h3v3h-3zM553.9 95.7h3v3h-3zM555.1 95.9h3v3h-3zM556.2 96.7h3v3h-3zM557.3 97.2h3v3h-3zM558.4 95.9h3v3h-3zM559.6 93.3h3v3h-3zM560.7 93.1h3v3h-3zM561.8 92.8h3v3h-3zM562.9 93.9h3v3h-3zM564.1 93.1h3v3h-3zM565.2 92.3h3v3h-3zM566.3 90.1h3v3h-3zM567.5 88h3v3h-3zM568.6 86.8h3v3h-3zM569.7 85.3h3v3h-3zM570.8 83.9h3v3h-3zM572 84.3h3v3h-3zM573.1 83.7h3v3h-3zM574.2 82.7h3v3h-3zM575.3 80.4h3v3h-3zM576.5 78.4h3v3h-3zM577.6 78.6h3v3h-3zM578.7 75.6h3v3h-3zM579.9 74.7h3v3h-3zM581 72.4h3v3h-3zM582.1 71.5h3v3h-3zM583.2 70.8h3v3h-3zM584.4 69.4h3v3h-3zM585.5 67.6h3v3h-3zM586.6 64.5h3v3h-3zM587.7 59.3h3v3h-3zM588.9 55.9h3v3h-3z"/>
<path fill="none" stroke="#0000c0" stroke-width="1.2" d="M351.7 180.5h4M352.8 172.7h4M354 164.9h4M355.1 161.8h4M356.2 160.2h4M357.3 158.3h4M358.5 157.5h4M359.6 155.1h4M360.7 153.8h4M361.8 152.7h4M363 152.1h4M364.1 151.3h4M365.2 149.6h4M366.4 149.8h4M367.5 148.7h4M368.6 148.1h4M369.7 146.6h4M370.9 146.1h4M372 146.8h4M373.1 146.2h4M374.2 146.2h4M375.4 145h4M376.5 145.9h4M377.6 145.6h4M378.7 146.5h4M379.9 144.6h4M381 144.3h4M382.1 142.6h4M383.3 143h4M384.4 142.6h4M385.5 142h4M386.6 140.9h4M387.8 139.8h4M388.9 139.5h4M390 139.3h4M391.1 139.1h4M392.3 138.8h4M393.4 138.9h4M394.5 139.3h4M395.7 139h4M396.8 138.5h4M397.9 138h4M399 138.2h4M400.2 137.8h4M401.3 137.9h4M402.4 138.1h4M403.5 138.5h4M404.7 137.8h4M405.8 138h4M406.9 138.2h4M408.1 137.9h4M409.2 136.7h4M410.3 136.2h4M411.4 135.8h4M412.6 135.8h4M413.7 135h4M414.8 134.9h4M415.9 134.4h4M417.1 133.4h4M418.2 133.3h4M419.3 132.3h4M420.4 133.8h4M421.6 134.5h4M422.7 135.7h4M423.8 134.6h4M425 134.2h4M426.1 134h4M427.2 134.1h4M428.3 133.9h4M429.5 132.7h4M430.6 132.2h4M431.7 131.4h4M432.8 131.1h4M434 130.2h4M435.1 130.4h4M436.2 131.2h4M437.4 130.8h4M438.5 131.2h4M439.6 131.2h4M440.7 131.4h4M441.9 130.2h4M443 129.3h4M444.1 129.7h4M445.2 129.6h4M446.4 128.9h4M447.5 128.4h4M448.6 127.5h4M449.7 127.8h4M450.9 128h4M452 128.8h4M453.1 128.9h4M454.3 128.4h4M455.4 128.4h4M456.5 127.9h4M457.6 127.1h4M458.8 126.5h4M459.9 126.2h4M461 126.9h4M462.1 127.5h4M463.3 127.5h4M464.4 126.4h4M465.5 125.1h4M466.7 124.6h4M467.8 125.3h4M468.9 125.6h4M470 125.4h4M471.2 124.2h4M472.3 124.3h4M473.4 124.2h4M474.5 124.3h4M475.7 123.7h4M476.8 124h4M477.9 123.7h4M479.1 124.2h4M480.2 123.7h4M481.3 123.6h4M482.4 123h4M483.6 122.1h4M484.7 121.5h4M485.8 120.7h4M486.9 120.1h4M488.1 120.4h4M489.2 120.2h4M490.3 120.6h4M491.4 120.5h4M492.6 118.8h4M493.7 118.4h4M494.8 117h4M496 118.2h4M497.1 117.3h4M498.2 117.9h4M499.3 118.2h4M500.5 117.5h4M501.6 117.3h4M502.7 116.3h4M503.8 116h4M505 115.9h4M506.1 115.6h4M507.2 116h4M508.4 115.1h4M509.5 116.2h4M510.6 116h4M511.7 115.2h4M512.9 113.1h4M514 112.8h4M515.1 113.2h4M516.2 113.3h4M517.4 112.7h4M518.5 112.8h4M519.6 112.3h4M520.8 111.9h4M521.9 111h4M523 110.7h4M524.1 111.3h4M525.3 111.6h4M526.4 111.2h4M527.5 110.5h4M528.6 110h4M529.8 110.6h4M530.9 109.9h4M532 109.6h4M533.1 108.6h4M534.3 108h4M535.4 107.4h4M536.5 106.6h4M537.7 106.4h4M538.8 106h4M539.9 105.9h4M541 106.1h4M542.2 105.3h4M543.3 104.4h4M544.4 104.4h4M545.5 103.5h4M546.7 103h4M547.8 101.9h4M548.9 102h4M550.1 101.7h4M551.2 100.9h4M552.3 100.6h4M553.4 100.4h4M554.6 99.7h4M555.7 98.9h4M556.8 97.8h4M557.9 97.2h4M559.1 96.5h4M560.2 95.4h4M561.3 95.3h4M562.4 95.4h4M563.6 96h4M564.7 95.5h4M565.8 93.6h4M567 92.6h4M568.1 90.8h4M569.2 90.3h4M570.3 89.4h4M571.5 88.2h4M572.6 87.5h4M573.7 85.6h4M574.8 84.9h4M576 82.9h4M577.1 81.7h4M578.2 80.2h4M579.4 79.6h4M580.5 78.5h4M581.6 76.4h4M582.7 74h4M583.9 71.5h4M585 69.5h4M586.1 66.7h4M587.2 63.8h4M588.4 59.5h4"/>
<path fill="none" stroke="#33ccff" stroke-width="1.5" d="M351.5 176.1h4.4M352.6 169.1h4.4M353.8 160.8h4.4M354.9 157.7h4.4M356 156h4.4M357.1 154.9h4.4M358.3 153.1h4.4M359.4 152.6h4.4M360.5 150.5h4.4M361.6 148.7h4.4M362.8 147h4.4M363.9 148h4.4M365 148.3h4.4M366.2 147.6h4.4M367.3 146.8h4.4M368.4 146.8h4.4M369.5 146.9h4.4M370.7 146h4.4M371.8 145.4h4.4M372.9 145.5h4.4M374 145.2h4.4M375.2 144.8h4.4M376.3 143.8h4.4M377.4 143.1h4.4M378.5 142h4.4M379.7 141.8h4.4M380.8 141.5h4.4M381.9 141.4h4.4M383.1 141.4h4.4M384.2 141.4h4.4M385.3 141.6h4.4M386.4 140.1h4.4M387.6 139.8h4.4M388.7 138.8h4.4M389.8 138.8h4.4M390.9 137.9h4.4M392.1 138.4h4.4M393.2 138.9h4.4M394.3 138.6h4.4M395.5 137.3h4.4M396.6 136.6h4.4M397.7 136.5h4.4M398.8 137.5h4.4M400 136.5h4.4M401.1 135.6h4.4M402.2 134.5h4.4M403.3 134.9h4.4M404.5 135.6h4.4M405.6 135.8h4.4M406.7 136.5h4.4M407.9 136h4.4M409 135.2h4.4M410.1 133.2h4.4M411.2 133.2h4.4M412.4 133.6h4.4M413.5 134.1h4.4M414.6 134.3h4.4M415.7 133.7h4.4M416.9 134.3h4.4M418 133.7h4.4M419.1 133h4.4M420.2 131.8h4.4M421.4 130.8h4.4M422.5 130.3h4.4M423.6 130.5h4.4M424.8 131.4h4.4M425.9 132.9h4.4M427 132.6h4.4M428.1 131.9h4.4M429.3 130.3h4.4M430.4 130.5h4.4M431.5 130.6h4.4M432.6 130.7h4.4M433.8 130.3h4.4M434.9 130.2h4.4M436 129.4h4.4M437.2 129.3h4.4M438.3 128.9h4.4M439.4 129.3h4.4M440.5 128.6h4.4M441.7 129.1h4.4M442.8 129.8h4.4M443.9 130.6h4.4M445 129.1h4.4M446.2 127.9h4.4M447.3 127.3h4.4M448.4 127.1h4.4M449.5 126.8h4.4M450.7 125.4h4.4M451.8 126.6h4.4M452.9 127.2h4.4M454.1 128.1h4.4M455.2 127.1h4.4M456.3 126.2h4.4M457.4 125.7h4.4M458.6 125.6h4.4M459.7 125.3h4.4M460.8 125.8h4.4M461.9 125.1h4.4M463.1 124.8h4.4M464.2 124.7h4.4M465.3 124.6h4.4M466.5 125.1h4.4M467.6 124h4.4M468.7 122.9h4.4M469.8 122.6h4.4M471 122h4.4M472.1 123.3h4.4M473.2 122.1h4.4M474.3 121.6h4.4M475.5 121h4.4M476.6 121.7h4.4M477.7 122.3h4.4M478.9 121.4h4.4M480 121.3h4.4M481.1 120.4h4.4M482.2 120.4h4.4M483.4 119.4h4.4M484.5 119.6h4.4M485.6 120h4.4M486.7 119.8h4.4M487.9 119.9h4.4M489 119.6h4.4M490.1 118.8h4.4M491.2 117.7h4.4M492.4 116.9h4.4M493.5 117.2h4.4M494.6 117.6h4.4M495.8 116.6h4.4M496.9 116.9h4.4M498 116.8h4.4M499.1 117.3h4.4M500.3 116h4.4M501.4 115.4h4.4M502.5 114.9h4.4M503.6 115.5h4.4M504.8 115.2h4.4M505.9 115.5h4.4M507 114.7h4.4M508.2 115.1h4.4M509.3 113.4h4.4M510.4 112.9h4.4M511.5 112.2h4.4M512.7 112.2h4.4M513.8 112.7h4.4M514.9 111.7h4.4M516 112.1h4.4M517.2 111h4.4M518.3 111.1h4.4M519.4 110.8h4.4M520.5 110.9h4.4M521.7 110.6h4.4M522.8 111.1h4.4M523.9 110.8h4.4M525.1 110.2h4.4M526.2 109.3h4.4M527.3 109.3h4.4M528.4 109.9h4.4M529.6 109.9h4.4M530.7 108.6h4.4M531.8 108.1h4.4M532.9 107.3h4.4M534.1 107.3h4.4M535.2 106.4h4.4M536.3 104h4.4M537.5 103.3h4.4M538.6 103.5h4.4M539.7 103.5h4.4M540.8 103h4.4M542 101.8h4.4M543.1 102.4h4.4M544.2 102.9h4.4M545.3 101.4h4.4M546.5 100.7h4.4M547.6 99.8h4.4M548.7 99.5h4.4M549.9 99h4.4M551 99h4.4M552.1 99.7h4.4M553.2 99.5h4.4M554.4 96.9h4.4M555.5 95.7h4.4M556.6 95.1h4.4M557.7 95.6h4.4M558.9 95.1h4.4M560 95.8h4.4M561.1 95.2h4.4M562.2 94.1h4.4M563.4 92.2h4.4M564.5 91.4h4.4M565.6 90.9h4.4M566.8 90h4.4M567.9 89.6h4.4M569 88.9h4.4M570.1 87.4h4.4M571.3 85.9h4.4M572.4 84.9h4.4M573.5 84.1h4.4M574.6 83.5h4.4M575.8 82.5h4.4M576.9 80.9h4.4M578 79.2h4.4M579.2 78.3h4.4M580.3 77.9h4.4M581.4 76h4.4M582.5 73.7h4.4M583.7 70.7h4.4M584.8 67.9h4.4M585.9 65h4.4M587 62.2h4.4M588.2 58.5h4.4"/>
<path fill="#ccffff" d="M353.7 174.4l2.8 2.8l-2.8 2.8l-2.8 -2.8zM354.8 166.7l2.8 2.8l-2.8 2.8l-2.8 -2.8zM356 159.3l2.8 2.8l-2.8 2.8l-2.8 -2.8zM357.1 156.7l2.8 2.8l-2.8 2.8l-2.8 -2.8zM358.2 156l2.8 2.8l-2.8 2.8l-2.8 -2.8zM359.3 154.6l2.8 2.8l-2.8 2.8l-2.8 -2.8zM360.5 152.6l2.8 2.8l-2.8 2.8l-2.8 -2.8zM361.6 150.3l2.8 2.8l-2.8 2.8l-2.8 -2.8zM362.7 149.2l2.8 2.8l-2.8 2.8l-2.8 -2.8zM363.8 148.5l2.8 2.8l-2.8 2.8l-2.8 -2.8zM365 147.5l2.8 2.8l-2.8 2.8l-2.8 -2.8zM366.1 146.9l2.8 2.8l-2.8 2.8l-2.8 -2.8zM367.2 146.2l2.8 2.8l-2.8 2.8l-2.8 -2.8zM368.4 146.3l2.8 2.8l-2.8 2.8l-2.8 -2.8zM369.5 145.2l2.8 2.8l-2.8 2.8l-2.8 -2.8zM370.6 144.7l2.8 2.8l-2.8 2.8l-2.8 -2.8zM371.7 143.6l2.8 2.8l-2.8 2.8l-2.8 -2.8zM372.9 143.9l2.8 2.8l-2.8 2.8l-2.8 -2.8zM374 143.2l2.8 2.8l-2.8 2.8l-2.8 -2.8zM375.1 142.8l2.8 2.8l-2.8 2.8l-2.8 -2.8zM376.2 142.3l2.8 2.8l-2.8 2.8l-2.8 -2.8zM377.4 142.1l2.8 2.8l-2.8 2.8l-2.8 -2.8zM378.5 141.8l2.8 2.8l-2.8 2.8l-2.8 -2.8zM379.6 141.6l2.8 2.8l-2.8 2.8l-2.8 -2.8zM380.7 140.5l2.8 2.8l-2.8 2.8l-2.8 -2.8zM381.9 140.5l2.8 2.8l-2.8 2.8l-2.8 -2.8zM383 139.8l2.8 2.8l-2.8 2.8l-2.8 -2.8zM384.1 139l2.8 2.8l-2.8 2.8l-2.8 -2.8zM385.3 138.8l2.8 2.8l-2.8 2.8l-2.8 -2.8zM386.4 138.1l2.8 2.8l-2.8 2.8l-2.8 -2.8zM387.5 138.5l2.8 2.8l-2.8 2.8l-2.8 -2.8zM388.6 137.5l2.8 2.8l-2.8 2.8l-2.8 -2.8zM389.8 137.3l2.8 2.8l-2.8 2.8l-2.8 -2.8zM390.9 136.6l2.8 2.8l-2.8 2.8l-2.8 -2.8zM392 136.3l2.8 2.8l-2.8 2.8l-2.8 -2.8zM393.1 135.7l2.8 2.8l-2.8 2.8l-2.8 -2.8zM394.3 135.4l2.8 2.8l-2.8 2.8l-2.8 -2.8zM395.4 135.9l2.8 2.8l-2.8 2.8l-2.8 -2.8zM396.5 135.4l2.8 2.8l-2.8 2.8l-2.8 -2.8zM397.7 135.2l2.8 2.8l-2.8 2.8l-2.8 -2.8zM398.8 134.3l2.8 2.8l-2.8 2.8l-2.8 -2.8zM399.9 134.5l2.8 2.8l-2.8 2.8l-2.8 -2.8zM401 134.7l2.8 2.8l-2.8 2.8l-2.8 -2.8zM402.2 134.8l2.8 2.8l-2.8 2.8l-2.8 -2.8zM403.3 134.5l2.8 2.8l-2.8 2.8l-2.8 -2.8zM404.4 133.8l2.8 2.8l-2.8 2.8l-2.8 -2.8zM405.5 133.3l2.8 2.8l-2.8 2.8l-2.8 -2.8zM406.7 133.4l2.8 2.8l-2.8 2.8l-2.8 -2.8zM407.8 133.5l2.8 2.8l-2.8 2.8l-2.8 -2.8zM408.9 133.1l2.8 2.8l-2.8 2.8l-2.8 -2.8zM410.1 131.9l2.8 2.8l-2.8 2.8l-2.8 -2.8zM411.2 132.1l2.8 2.8l-2.8 2.8l-2.8 -2.8zM412.3 132.4l2.8 2.8l-2.8 2.8l-2.8 -2.8zM413.4 132.9l2.8 2.8l-2.8 2.8l-2.8 -2.8zM414.6 132.1l2.8 2.8l-2.8 2.8l-2.8 -2.8zM415.7 131.4l2.8 2.8l-2.8 2.8l-2.8 -2.8zM416.8 130.7l2.8 2.8l-2.8 2.8l-2.8 -2.8zM417.9 130.3l2.8 2.8l-2.8 2.8l-2.8 -2.8zM419.1 130.2l2.8 2.8l-2.8 2.8l-2.8 -2.8zM420.2 130.1l2.8 2.8l-2.8 2.8l-2.8 -2.8zM421.3 129.5l2.8 2.8l-2.8 2.8l-2.8 -2.8zM422.4 129.3l2.8 2.8l-2.8 2.8l-2.8 -2.8zM423.6 129.5l2.8 2.8l-2.8 2.8l-2.8 -2.8zM424.7 129.6l2.8 2.8l-2.8 2.8l-2.8 -2.8zM425.8 129.5l2.8 2.8l-2.8 2.8l-2.8 -2.8zM427 128.4l2.8 2.8l-2.8 2.8l-2.8 -2.8zM428.1 128.3l2.8 2.8l-2.8 2.8l-2.8 -2.8zM429.2 128.1l2.8 2.8l-2.8 2.8l-2.8 -2.8zM430.3 128.1l2.8 2.8l-2.8 2.8l-2.8 -2.8zM431.5 127.5l2.8 2.8l-2.8 2.8l-2.8 -2.8zM432.6 127.4l2.8 2.8l-2.8 2.8l-2.8 -2.8zM433.7 127.4l2.8 2.8l-2.8 2.8l-2.8 -2.8zM434.8 127.9l2.8 2.8l-2.8 2.8l-2.8 -2.8zM436 127.4l2.8 2.8l-2.8 2.8l-2.8 -2.8zM437.1 127.7l2.8 2.8l-2.8 2.8l-2.8 -2.8zM438.2 127.2l2.8 2.8l-2.8 2.8l-2.8 -2.8zM439.4 126.7l2.8 2.8l-2.8 2.8l-2.8 -2.8zM440.5 126.2l2.8 2.8l-2.8 2.8l-2.8 -2.8zM441.6 126l2.8 2.8l-2.8 2.8l-2.8 -2.8zM442.7 126.5l2.8 2.8l-2.8 2.8l-2.8 -2.8zM443.9 126.2l2.8 2.8l-2.8 2.8l-2.8 -2.8zM445 126l2.8 2.8l-2.8 2.8l-2.8 -2.8zM446.1 125.8l2.8 2.8l-2.8 2.8l-2.8 -2.8zM447.2 126.2l2.8 2.8l-2.8 2.8l-2.8 -2.8zM448.4 126.3l2.8 2.8l-2.8 2.8l-2.8 -2.8zM449.5 126.2l2.8 2.8l-2.8 2.8l-2.8 -2.8zM450.6 125.8l2.8 2.8l-2.8 2.8l-2.8 -2.8zM451.7 125.6l2.8 2.8l-2.8 2.8l-2.8 -2.8zM452.9 125.3l2.8 2.8l-2.8 2.8l-2.8 -2.8zM454 125.1l2.8 2.8l-2.8 2.8l-2.8 -2.8zM455.1 124.7l2.8 2.8l-2.8 2.8l-2.8 -2.8zM456.3 124.2l2.8 2.8l-2.8 2.8l-2.8 -2.8zM457.4 124.7l2.8 2.8l-2.8 2.8l-2.8 -2.8zM458.5 124.5l2.8 2.8l-2.8 2.8l-2.8 -2.8zM459.6 124.1l2.8 2.8l-2.8 2.8l-2.8 -2.8zM460.8 123l2.8 2.8l-2.8 2.8l-2.8 -2.8zM461.9 122.8l2.8 2.8l-2.8 2.8l-2.8 -2.8zM463 122.8l2.8 2.8l-2.8 2.8l-2.8 -2.8zM464.1 122.3l2.8 2.8l-2.8 2.8l-2.8 -2.8zM465.3 121.4l2.8 2.8l-2.8 2.8l-2.8 -2.8zM466.4 121.3l2.8 2.8l-2.8 2.8l-2.8 -2.8zM467.5 120.9l2.8 2.8l-2.8 2.8l-2.8 -2.8zM468.7 121.4l2.8 2.8l-2.8 2.8l-2.8 -2.8zM469.8 121.1l2.8 2.8l-2.8 2.8l-2.8 -2.8zM470.9 121.8l2.8 2.8l-2.8 2.8l-2.8 -2.8zM472 122.1l2.8 2.8l-2.8 2.8l-2.8 -2.8zM473.2 121.9l2.8 2.8l-2.8 2.8l-2.8 -2.8zM474.3 121.1l2.8 2.8l-2.8 2.8l-2.8 -2.8zM475.4 119.9l2.8 2.8l-2.8 2.8l-2.8 -2.8zM476.5 119.3l2.8 2.8l-2.8 2.8l-2.8 -2.8zM477.7 119.3l2.8 2.8l-2.8 2.8l-2.8 -2.8zM478.8 118.7l2.8 2.8l-2.8 2.8l-2.8 -2.8zM479.9 118.8l2.8 2.8l-2.8 2.8l-2.8 -2.8zM481.1 118.5l2.8 2.8l-2.8 2.8l-2.8 -2.8zM482.2 119.2l2.8 2.8l-2.8 2.8l-2.8 -2.8zM483.3 118.8l2.8 2.8l-2.8 2.8l-2.8 -2.8zM484.4 118.5l2.8 2.8l-2.8 2.8l-2.8 -2.8zM485.6 117.8l2.8 2.8l-2.8 2.8l-2.8 -2.8zM486.7 117.5l2.8 2.8l-2.8 2.8l-2.8 -2.8zM487.8 116.6l2.8 2.8l-2.8 2.8l-2.8 -2.8zM488.9 116.6l2.8 2.8l-2.8 2.8l-2.8 -2.8zM490.1 117l2.8 2.8l-2.8 2.8l-2.8 -2.8zM491.2 117.4l2.8 2.8l-2.8 2.8l-2.8 -2.8zM492.3 117.2l2.8 2.8l-2.8 2.8l-2.8 -2.8zM493.4 116.1l2.8 2.8l-2.8 2.8l-2.8 -2.8zM494.6 116.2l2.8 2.8l-2.8 2.8l-2.8 -2.8zM495.7 115.5l2.8 2.8l-2.8 2.8l-2.8 -2.8zM496.8 115.8l2.8 2.8l-2.8 2.8l-2.8 -2.8zM498 115l2.8 2.8l-2.8 2.8l-2.8 -2.8zM499.1 114.6l2.8 2.8l-2.8 2.8l-2.8 -2.8zM500.2 114.3l2.8 2.8l-2.8 2.8l-2.8 -2.8zM501.3 114l2.8 2.8l-2.8 2.8l-2.8 -2.8zM502.5 114l2.8 2.8l-2.8 2.8l-2.8 -2.8zM503.6 113.4l2.8 2.8l-2.8 2.8l-2.8 -2.8zM504.7 113.1l2.8 2.8l-2.8 2.8l-2.8 -2.8zM505.8 112.5l2.8 2.8l-2.8 2.8l-2.8 -2.8zM507 112.2l2.8 2.8l-2.8 2.8l-2.8 -2.8zM508.1 111.7l2.8 2.8l-2.8 2.8l-2.8 -2.8zM509.2 111.5l2.8 2.8l-2.8 2.8l-2.8 -2.8zM510.4 110.8l2.8 2.8l-2.8 2.8l-2.8 -2.8zM511.5 110.1l2.8 2.8l-2.8 2.8l-2.8 -2.8zM512.6 109.5l2.8 2.8l-2.8 2.8l-2.8 -2.8zM513.7 109.2l2.8 2.8l-2.8 2.8l-2.8 -2.8zM514.9 109.3l2.8 2.8l-2.8 2.8l-2.8 -2.8zM516 109.6l2.8 2.8l-2.8 2.8l-2.8 -2.8zM517.1 108.8l2.8 2.8l-2.8 2.8l-2.8 -2.8zM518.2 108.5l2.8 2.8l-2.8 2.8l-2.8 -2.8zM519.4 107l2.8 2.8l-2.8 2.8l-2.8 -2.8zM520.5 106.9l2.8 2.8l-2.8 2.8l-2.8 -2.8zM521.6 106.3l2.8 2.8l-2.8 2.8l-2.8 -2.8zM522.8 105.9l2.8 2.8l-2.8 2.8l-2.8 -2.8zM523.9 105.2l2.8 2.8l-2.8 2.8l-2.8 -2.8zM525 105l2.8 2.8l-2.8 2.8l-2.8 -2.8zM526.1 105.4l2.8 2.8l-2.8 2.8l-2.8 -2.8zM527.3 105.5l2.8 2.8l-2.8 2.8l-2.8 -2.8zM528.4 104.7l2.8 2.8l-2.8 2.8l-2.8 -2.8zM529.5 105l2.8 2.8l-2.8 2.8l-2.8 -2.8zM530.6 104.5l2.8 2.8l-2.8 2.8l-2.8 -2.8zM531.8 104l2.8 2.8l-2.8 2.8l-2.8 -2.8zM532.9 103.4l2.8 2.8l-2.8 2.8l-2.8 -2.8zM534 103.2l2.8 2.8l-2.8 2.8l-2.8 -2.8zM535.1 102.9l2.8 2.8l-2.8 2.8l-2.8 -2.8zM536.3 102.2l2.8 2.8l-2.8 2.8l-2.8 -2.8zM537.4 101.6l2.8 2.8l-2.8 2.8l-2.8 -2.8zM538.5 101.4l2.8 2.8l-2.8 2.8l-2.8 -2.8zM539.7 100.6l2.8 2.8l-2.8 2.8l-2.8 -2.8zM540.8 99.7l2.8 2.8l-2.8 2.8l-2.8 -2.8zM541.9 99.3l2.8 2.8l-2.8 2.8l-2.8 -2.8zM543 98.7l2.8 2.8l-2.8 2.8l-2.8 -2.8zM544.2 98.2l2.8 2.8l-2.8 2.8l-2.8 -2.8zM545.3 97.1l2.8 2.8l-2.8 2.8l-2.8 -2.8zM546.4 96.9l2.8 2.8l-2.8 2.8l-2.8 -2.8zM547.5 96.6l2.8 2.8l-2.8 2.8l-2.8 -2.8zM548.7 96.3l2.8 2.8l-2.8 2.8l-2.8 -2.8zM549.8 95.8l2.8 2.8l-2.8 2.8l-2.8 -2.8zM550.9 95.4l2.8 2.8l-2.8 2.8l-2.8 -2.8zM552.1 94.4l2.8 2.8l-2.8 2.8l-2.8 -2.8zM553.2 94l2.8 2.8l-2.8 2.8l-2.8 -2.8zM554.3 93.8l2.8 2.8l-2.8 2.8l-2.8 -2.8zM555.4 94.1l2.8 2.8l-2.8 2.8l-2.8 -2.8zM556.6 93.9l2.8 2.8l-2.8 2.8l-2.8 -2.8zM557.7 93.2l2.8 2.8l-2.8 2.8l-2.8 -2.8zM558.8 92.7l2.8 2.8l-2.8 2.8l-2.8 -2.8zM559.9 92.1l2.8 2.8l-2.8 2.8l-2.8 -2.8zM561.1 91.4l2.8 2.8l-2.8 2.8l-2.8 -2.8zM562.2 91.1l2.8 2.8l-2.8 2.8l-2.8 -2.8zM563.3 90.6l2.8 2.8l-2.8 2.8l-2.8 -2.8zM564.4 90.3l2.8 2.8l-2.8 2.8l-2.8 -2.8zM565.6 89.7l2.8 2.8l-2.8 2.8l-2.8 -2.8zM566.7 88.7l2.8 2.8l-2.8 2.8l-2.8 -2.8zM567.8 87.4l2.8 2.8l-2.8 2.8l-2.8 -2.8zM569 86.4l2.8 2.8l-2.8 2.8l-2.8 -2.8zM570.1 85.4l2.8 2.8l-2.8 2.8l-2.8 -2.8zM571.2 84.9l2.8 2.8l-2.8 2.8l-2.8 -2.8zM572.3 83.6l2.8 2.8l-2.8 2.8l-2.8 -2.8zM573.5 82.9l2.8 2.8l-2.8 2.8l-2.8 -2.8zM574.6 81.9l2.8 2.8l-2.8 2.8l-2.8 -2.8zM575.7 80.5l2.8 2.8l-2.8 2.8l-2.8 -2.8zM576.8 79l2.8 2.8l-2.8 2.8l-2.8 -2.8zM578 77.8l2.8 2.8l-2.8 2.8l-2.8 -2.8zM579.1 76.5l2.8 2.8l-2.8 2.8l-2.8 -2.8zM580.2 74.8l2.8 2.8l-2.8 2.8l-2.8 -2.8zM581.4 73l2.8 2.8l-2.8 2.8l-2.8 -2.8zM582.5 71.4l2.8 2.8l-2.8 2.8l-2.8 -2.8zM583.6 69.9l2.8 2.8l-2.8 2.8l-2.8 -2.8zM584.7 68.5l2.8 2.8l-2.8 2.8l-2.8 -2.8zM585.9 67.3l2.8 2.8l-2.8 2.8l-2.8 -2.8zM587 65.2l2.8 2.8l-2.8 2.8l-2.8 -2.8zM588.1 62.4l2.8 2.8l-2.8 2.8l-2.8 -2.8zM589.2 58.8l2.8 2.8l-2.8 2.8l-2.8 -2.8zM590.4 54.3l2.8 2.8l-2.8 2.8l-2.8 -2.8z"/>
<path fill="#d4f4ec" d="M351.3 178.4h4.8v4.8h-4.8zM352.4 170.7h4.8v4.8h-4.8zM353.6 163.1h4.8v4.8h-4.8zM354.7 160.1h4.8v4.8h-4.8zM355.8 158.5h4.8v4.8h-4.8zM356.9 156.6h4.8v4.8h-4.8zM358.1 155.3h4.8v4.8h-4.8zM359.2 153.6h4.8v4.8h-4.8zM360.3 152.1h4.8v4.8h-4.8zM361.4 150.2h4.8v4.8h-4.8zM362.6 148.6h4.8v4.8h-4.8zM363.7 147.2h4.8v4.8h-4.8zM364.8 147.7h4.8v4.8h-4.8zM366 147.2h4.8v4.8h-4.8zM367.1 147.6h4.8v4.8h-4.8zM368.2 147h4.8v4.8h-4.8zM369.3 147h4.8v4.8h-4.8zM370.5 146.8h4.8v4.8h-4.8zM371.6 146.4h4.8v4.8h-4.8zM372.7 146.3h4.8v4.8h-4.8zM373.8 146.1h4.8v4.8h-4.8zM375 145.1h4.8v4.8h-4.8zM376.1 144h4.8v4.8h-4.8zM377.2 142.8h4.8v4.8h-4.8zM378.3 142h4.8v4.8h-4.8zM379.5 141.4h4.8v4.8h-4.8zM380.6 140.3h4.8v4.8h-4.8zM381.7 141h4.8v4.8h-4.8zM382.9 140.9h4.8v4.8h-4.8zM384 141h4.8v4.8h-4.8zM385.1 139.5h4.8v4.8h-4.8zM386.2 139.5h4.8v4.8h-4.8zM387.4 139h4.8v4.8h-4.8zM388.5 138.8h4.8v4.8h-4.8zM389.6 138h4.8v4.8h-4.8zM390.7 137.2h4.8v4.8h-4.8zM391.9 136.8h4.8v4.8h-4.8zM393 137.1h4.8v4.8h-4.8zM394.1 138.1h4.8v4.8h-4.8zM395.3 138.4h4.8v4.8h-4.8zM396.4 138.7h4.8v4.8h-4.8zM397.5 137.8h4.8v4.8h-4.8zM398.6 137.1h4.8v4.8h-4.8zM399.8 135.7h4.8v4.8h-4.8zM400.9 135.3h4.8v4.8h-4.8zM402 134.2h4.8v4.8h-4.8zM403.1 134.3h4.8v4.8h-4.8zM404.3 134.7h4.8v4.8h-4.8zM405.4 135.3h4.8v4.8h-4.8zM406.5 135.6h4.8v4.8h-4.8zM407.7 134.6h4.8v4.8h-4.8zM408.8 133.7h4.8v4.8h-4.8zM409.9 132.9h4.8v4.8h-4.8zM411 132.6h4.8v4.8h-4.8zM412.2 133.3h4.8v4.8h-4.8zM413.3 134h4.8v4.8h-4.8zM414.4 133.7h4.8v4.8h-4.8zM415.5 132.9h4.8v4.8h-4.8zM416.7 131.8h4.8v4.8h-4.8zM417.8 131.8h4.8v4.8h-4.8zM418.9 131.2h4.8v4.8h-4.8zM420 131.1h4.8v4.8h-4.8zM421.2 131.1h4.8v4.8h-4.8zM422.3 131.5h4.8v4.8h-4.8zM423.4 130.8h4.8v4.8h-4.8zM424.6 130.5h4.8v4.8h-4.8zM425.7 129.5h4.8v4.8h-4.8zM426.8 130h4.8v4.8h-4.8zM427.9 129.5h4.8v4.8h-4.8zM429.1 129.8h4.8v4.8h-4.8zM430.2 129.1h4.8v4.8h-4.8zM431.3 129.1h4.8v4.8h-4.8zM432.4 128.6h4.8v4.8h-4.8zM433.6 127.9h4.8v4.8h-4.8zM434.7 128.5h4.8v4.8h-4.8zM435.8 128.8h4.8v4.8h-4.8zM437 129.4h4.8v4.8h-4.8zM438.1 129.3h4.8v4.8h-4.8zM439.2 128.9h4.8v4.8h-4.8zM440.3 128.8h4.8v4.8h-4.8zM441.5 127.8h4.8v4.8h-4.8zM442.6 128.1h4.8v4.8h-4.8zM443.7 127.9h4.8v4.8h-4.8zM444.8 127.8h4.8v4.8h-4.8zM446 127h4.8v4.8h-4.8zM447.1 126.8h4.8v4.8h-4.8zM448.2 126.9h4.8v4.8h-4.8zM449.3 126h4.8v4.8h-4.8zM450.5 125.6h4.8v4.8h-4.8zM451.6 124.8h4.8v4.8h-4.8zM452.7 125.3h4.8v4.8h-4.8zM453.9 124.4h4.8v4.8h-4.8zM455 124.6h4.8v4.8h-4.8zM456.1 124.2h4.8v4.8h-4.8zM457.2 124.6h4.8v4.8h-4.8zM458.4 124h4.8v4.8h-4.8zM459.5 123.4h4.8v4.8h-4.8zM460.6 123.2h4.8v4.8h-4.8zM461.7 122.4h4.8v4.8h-4.8zM462.9 122.5h4.8v4.8h-4.8zM464 122.3h4.8v4.8h-4.8zM465.1 122.8h4.8v4.8h-4.8zM466.3 122.9h4.8v4.8h-4.8zM467.4 122.8h4.8v4.8h-4.8zM468.5 123.4h4.8v4.8h-4.8zM469.6 123.3h4.8v4.8h-4.8zM470.8 122.6h4.8v4.8h-4.8zM471.9 121.4h4.8v4.8h-4.8zM473 120.7h4.8v4.8h-4.8zM474.1 120.9h4.8v4.8h-4.8zM475.3 120.6h4.8v4.8h-4.8zM476.4 120.3h4.8v4.8h-4.8zM477.5 120.8h4.8v4.8h-4.8zM478.7 120.7h4.8v4.8h-4.8zM479.8 120.7h4.8v4.8h-4.8zM480.9 119.7h4.8v4.8h-4.8zM482 119.4h4.8v4.8h-4.8zM483.2 119.7h4.8v4.8h-4.8zM484.3 119.7h4.8v4.8h-4.8zM485.4 120h4.8v4.8h-4.8zM486.5 118h4.8v4.8h-4.8zM487.7 117.7h4.8v4.8h-4.8zM488.8 117.4h4.8v4.8h-4.8zM489.9 119h4.8v4.8h-4.8zM491 118.6h4.8v4.8h-4.8zM492.2 117.3h4.8v4.8h-4.8zM493.3 116.5h4.8v4.8h-4.8zM494.4 116h4.8v4.8h-4.8zM495.6 115.6h4.8v4.8h-4.8zM496.7 114.9h4.8v4.8h-4.8zM497.8 115.2h4.8v4.8h-4.8zM498.9 116h4.8v4.8h-4.8zM500.1 116.1h4.8v4.8h-4.8zM501.2 115h4.8v4.8h-4.8zM502.3 115.2h4.8v4.8h-4.8zM503.4 114.2h4.8v4.8h-4.8zM504.6 114.2h4.8v4.8h-4.8zM505.7 112.4h4.8v4.8h-4.8zM506.8 113h4.8v4.8h-4.8zM508 112.9h4.8v4.8h-4.8zM509.1 113.4h4.8v4.8h-4.8zM510.2 112.6h4.8v4.8h-4.8zM511.3 112.1h4.8v4.8h-4.8zM512.5 111.5h4.8v4.8h-4.8zM513.6 110.4h4.8v4.8h-4.8zM514.7 110.5h4.8v4.8h-4.8zM515.8 110.5h4.8v4.8h-4.8zM517 110.7h4.8v4.8h-4.8zM518.1 110h4.8v4.8h-4.8zM519.2 109.4h4.8v4.8h-4.8zM520.4 109.8h4.8v4.8h-4.8zM521.5 109.6h4.8v4.8h-4.8zM522.6 109.1h4.8v4.8h-4.8zM523.7 107.9h4.8v4.8h-4.8zM524.9 106.8h4.8v4.8h-4.8zM526 106.2h4.8v4.8h-4.8zM527.1 106h4.8v4.8h-4.8zM528.2 106h4.8v4.8h-4.8zM529.4 105.8h4.8v4.8h-4.8zM530.5 105.5h4.8v4.8h-4.8zM531.6 105.3h4.8v4.8h-4.8zM532.7 104.9h4.8v4.8h-4.8zM533.9 104.3h4.8v4.8h-4.8zM535 103.7h4.8v4.8h-4.8zM536.1 103h4.8v4.8h-4.8zM537.3 102.4h4.8v4.8h-4.8zM538.4 101.2h4.8v4.8h-4.8zM539.5 101.1h4.8v4.8h-4.8zM540.6 99.9h4.8v4.8h-4.8zM541.8 100.3h4.8v4.8h-4.8zM542.9 99.3h4.8v4.8h-4.8zM544 99.7h4.8v4.8h-4.8zM545.1 98.9h4.8v4.8h-4.8zM546.3 98h4.8v4.8h-4.8zM547.4 97.5h4.8v4.8h-4.8zM548.5 97.1h4.8v4.8h-4.8zM549.7 97h4.8v4.8h-4.8zM550.8 96.2h4.8v4.8h-4.8zM551.9 96h4.8v4.8h-4.8zM553 95.8h4.8v4.8h-4.8zM554.2 95.3h4.8v4.8h-4.8zM555.3 93.9h4.8v4.8h-4.8zM556.4 92.9h4.8v4.8h-4.8zM557.5 92.3h4.8v4.8h-4.8zM558.7 93h4.8v4.8h-4.8zM559.8 92.7h4.8v4.8h-4.8zM560.9 92.1h4.8v4.8h-4.8zM562 91.2h4.8v4.8h-4.8zM563.2 90.3h4.8v4.8h-4.8zM564.3 89.7h4.8v4.8h-4.8zM565.4 88.5h4.8v4.8h-4.8zM566.6 87.2h4.8v4.8h-4.8zM567.7 86.7h4.8v4.8h-4.8zM568.8 85.8h4.8v4.8h-4.8zM569.9 85.3h4.8v4.8h-4.8zM571.1 83.5h4.8v4.8h-4.8zM572.2 82.3h4.8v4.8h-4.8zM573.3 81.8h4.8v4.8h-4.8zM574.4 80.8h4.8v4.8h-4.8zM575.6 79.1h4.8v4.8h-4.8zM576.7 77.5h4.8v4.8h-4.8zM577.8 75.8h4.8v4.8h-4.8zM579 73.9h4.8v4.8h-4.8zM580.1 72h4.8v4.8h-4.8zM581.2 70.6h4.8v4.8h-4.8zM582.3 69.5h4.8v4.8h-4.8zM583.5 67.5h4.8v4.8h-4.8zM584.6 65.7h4.8v4.8h-4.8zM585.7 63h4.8v4.8h-4.8zM586.8 59.7h4.8v4.8h-4.8zM588 54.8h4.8v4.8h-4.8z"/>
<path fill="#ffff99" d="M353.7 183.1l2.2 4.4h-4.4zM354.8 176.2l2.2 4.4h-4.4zM356 167.1l2.2 4.4h-4.4zM357.1 164.3l2.2 4.4h-4.4zM358.2 162.1l2.2 4.4h-4.4zM359.3 160.4l2.2 4.4h-4.4zM360.5 158.1l2.2 4.4h-4.4zM361.6 156.3l2.2 4.4h-4.4zM362.7 154.8l2.2 4.4h-4.4zM363.8 153.8l2.2 4.4h-4.4zM365 152.7l2.2 4.4h-4.4zM366.1 151.6l2.2 4.4h-4.4zM367.2 150.4l2.2 4.4h-4.4zM368.4 149.9l2.2 4.4h-4.4zM369.5 149.4l2.2 4.4h-4.4zM370.6 149.5l2.2 4.4h-4.4zM371.7 148.6l2.2 4.4h-4.4zM372.9 149l2.2 4.4h-4.4zM374 148.2l2.2 4.4h-4.4zM375.1 147.7l2.2 4.4h-4.4zM376.2 146.5l2.2 4.4h-4.4zM377.4 146l2.2 4.4h-4.4zM378.5 145.8l2.2 4.4h-4.4zM379.6 144.8l2.2 4.4h-4.4zM380.7 144l2.2 4.4h-4.4zM381.9 144.4l2.2 4.4h-4.4zM383 143.8l2.2 4.4h-4.4zM384.1 143.6l2.2 4.4h-4.4zM385.3 142.5l2.2 4.4h-4.4zM386.4 142.6l2.2 4.4h-4.4zM387.5 141.9l2.2 4.4h-4.4zM388.6 141.4l2.2 4.4h-4.4zM389.8 141.5l2.2 4.4h-4.4zM390.9 141.6l2.2 4.4h-4.4zM392 141l2.2 4.4h-4.4zM393.1 140.9l2.2 4.4h-4.4zM394.3 139.8l2.2 4.4h-4.4zM395.4 140.1l2.2 4.4h-4.4zM396.5 139.3l2.2 4.4h-4.4zM397.7 140l2.2 4.4h-4.4zM398.8 139.6l2.2 4.4h-4.4zM399.9 139.6l2.2 4.4h-4.4zM401 138.9l2.2 4.4h-4.4zM402.2 138.8l2.2 4.4h-4.4zM403.3 138.3l2.2 4.4h-4.4zM404.4 138.8l2.2 4.4h-4.4zM405.5 137.9l2.2 4.4h-4.4zM406.7 138l2.2 4.4h-4.4zM407.8 137.1l2.2 4.4h-4.4zM408.9 137.1l2.2 4.4h-4.4zM410.1 136.2l2.2 4.4h-4.4zM411.2 135.9l2.2 4.4h-4.4zM412.3 135.1l2.2 4.4h-4.4zM413.4 134.5l2.2 4.4h-4.4zM414.6 134.4l2.2 4.4h-4.4zM415.7 134.1l2.2 4.4h-4.4zM416.8 134.9l2.2 4.4h-4.4zM417.9 134.3l2.2 4.4h-4.4zM419.1 134.7l2.2 4.4h-4.4zM420.2 134l2.2 4.4h-4.4zM421.3 134l2.2 4.4h-4.4zM422.4 133.6l2.2 4.4h-4.4zM423.6 133.2l2.2 4.4h-4.4zM424.7 132.8l2.2 4.4h-4.4zM425.8 133l2.2 4.4h-4.4zM427 133.4l2.2 4.4h-4.4zM428.1 133.7l2.2 4.4h-4.4zM429.2 133.2l2.2 4.4h-4.4zM430.3 132.5l2.2 4.4h-4.4zM431.5 131.2l2.2 4.4h-4.4zM432.6 131.1l2.2 4.4h-4.4zM433.7 131.2l2.2 4.4h-4.4zM434.8 131.5l2.2 4.4h-4.4zM436 131.3l2.2 4.4h-4.4zM437.1 131.3l2.2 4.4h-4.4zM438.2 131.2l2.2 4.4h-4.4zM439.4 131.1l2.2 4.4h-4.4zM440.5 130.5l2.2 4.4h-4.4zM441.6 129.6l2.2 4.4h-4.4zM442.7 128.8l2.2 4.4h-4.4zM443.9 128.3l2.2 4.4h-4.4zM445 128.9l2.2 4.4h-4.4zM446.1 128.6l2.2 4.4h-4.4zM447.2 128.4l2.2 4.4h-4.4zM448.4 127.6l2.2 4.4h-4.4zM449.5 127.7l2.2 4.4h-4.4zM450.6 127.6l2.2 4.4h-4.4zM451.7 128.1l2.2 4.4h-4.4zM452.9 128.2l2.2 4.4h-4.4zM454 128.1l2.2 4.4h-4.4zM455.1 127.6l2.2 4.4h-4.4zM456.3 127.1l2.2 4.4h-4.4zM457.4 126.9l2.2 4.4h-4.4zM458.5 127.1l2.2 4.4h-4.4zM459.6 126l2.2 4.4h-4.4zM460.8 125.6l2.2 4.4h-4.4zM461.9 125l2.2 4.4h-4.4zM463 126.1l2.2 4.4h-4.4zM464.1 125.5l2.2 4.4h-4.4zM465.3 125.3l2.2 4.4h-4.4zM466.4 125l2.2 4.4h-4.4zM467.5 125l2.2 4.4h-4.4zM468.7 123.9l2.2 4.4h-4.4zM469.8 123.3l2.2 4.4h-4.4zM470.9 122.7l2.2 4.4h-4.4zM472 123.5l2.2 4.4h-4.4zM473.2 123l2.2 4.4h-4.4zM474.3 123.8l2.2 4.4h-4.4zM475.4 123.3l2.2 4.4h-4.4zM476.5 123l2.2 4.4h-4.4zM477.7 121.8l2.2 4.4h-4.4zM478.8 121.1l2.2 4.4h-4.4zM479.9 121.2l2.2 4.4h-4.4zM481.1 121.6l2.2 4.4h-4.4zM482.2 121.6l2.2 4.4h-4.4zM483.3 121.5l2.2 4.4h-4.4zM484.4 120.3l2.2 4.4h-4.4zM485.6 120.1l2.2 4.4h-4.4zM486.7 120.3l2.2 4.4h-4.4zM487.8 119.8l2.2 4.4h-4.4zM488.9 119.8l2.2 4.4h-4.4zM490.1 119l2.2 4.4h-4.4zM491.2 118.5l2.2 4.4h-4.4zM492.3 117.2l2.2 4.4h-4.4zM493.4 116.1l2.2 4.4h-4.4zM494.6 116.8l2.2 4.4h-4.4zM495.7 116.8l2.2 4.4h-4.4zM496.8 116.7l2.2 4.4h-4.4zM498 116.3l2.2 4.4h-4.4zM499.1 116.1l2.2 4.4h-4.4zM500.2 115.9l2.2 4.4h-4.4zM501.3 115.2l2.2 4.4h-4.4zM502.5 115.2l2.2 4.4h-4.4zM503.6 114.4l2.2 4.4h-4.4zM504.7 114.8l2.2 4.4h-4.4zM505.8 113.9l2.2 4.4h-4.4zM507 113.5l2.2 4.4h-4.4zM508.1 112.8l2.2 4.4h-4.4zM509.2 112.7l2.2 4.4h-4.4zM510.4 111.9l2.2 4.4h-4.4zM511.5 111.4l2.2 4.4h-4.4zM512.6 110.3l2.2 4.4h-4.4zM513.7 110.4l2.2 4.4h-4.4zM514.9 110.2l2.2 4.4h-4.4zM516 110l2.2 4.4h-4.4zM517.1 110.1l2.2 4.4h-4.4zM518.2 109.3l2.2 4.4h-4.4zM519.4 109.9l2.2 4.4h-4.4zM520.5 109.4l2.2 4.4h-4.4zM521.6 108.7l2.2 4.4h-4.4zM522.8 107.1l2.2 4.4h-4.4zM523.9 106.4l2.2 4.4h-4.4zM525 106.5l2.2 4.4h-4.4zM526.1 106.4l2.2 4.4h-4.4zM527.3 106.7l2.2 4.4h-4.4zM528.4 106.2l2.2 4.4h-4.4zM529.5 105.8l2.2 4.4h-4.4zM530.6 105.1l2.2 4.4h-4.4zM531.8 104.4l2.2 4.4h-4.4zM532.9 103.9l2.2 4.4h-4.4zM534 103.6l2.2 4.4h-4.4zM535.1 103.3l2.2 4.4h-4.4zM536.3 102.4l2.2 4.4h-4.4zM537.4 100.9l2.2 4.4h-4.4zM538.5 99.7l2.2 4.4h-4.4zM539.7 99.4l2.2 4.4h-4.4zM540.8 98.5l2.2 4.4h-4.4zM541.9 98l2.2 4.4h-4.4zM543 97.5l2.2 4.4h-4.4zM544.2 97.6l2.2 4.4h-4.4zM545.3 96.8l2.2 4.4h-4.4zM546.4 96.7l2.2 4.4h-4.4zM547.5 96.9l2.2 4.4h-4.4zM548.7 96.7l2.2 4.4h-4.4zM549.8 96l2.2 4.4h-4.4zM550.9 95.5l2.2 4.4h-4.4zM552.1 94.6l2.2 4.4h-4.4zM553.2 94.6l2.2 4.4h-4.4zM554.3 93.3l2.2 4.4h-4.4zM555.4 93.1l2.2 4.4h-4.4zM556.6 91.2l2.2 4.4h-4.4zM557.7 91l2.2 4.4h-4.4zM558.8 90.1l2.2 4.4h-4.4zM559.9 90l2.2 4.4h-4.4zM561.1 89.8l2.2 4.4h-4.4zM562.2 89.8l2.2 4.4h-4.4zM563.3 89l2.2 4.4h-4.4zM564.4 88.6l2.2 4.4h-4.4zM565.6 87.5l2.2 4.4h-4.4zM566.7 87.2l2.2 4.4h-4.4zM567.8 85.8l2.2 4.4h-4.4zM569 85.4l2.2 4.4h-4.4zM570.1 84.2l2.2 4.4h-4.4zM571.2 83.4l2.2 4.4h-4.4zM572.3 82.3l2.2 4.4h-4.4zM573.5 81l2.2 4.4h-4.4zM574.6 79.7l2.2 4.4h-4.4zM575.7 78.7l2.2 4.4h-4.4zM576.8 77.7l2.2 4.4h-4.4zM578 76.3l2.2 4.4h-4.4zM579.1 74.5l2.2 4.4h-4.4zM580.2 72.8l2.2 4.4h-4.4zM581.4 71.6l2.2 4.4h-4.4zM582.5 70.3l2.2 4.4h-4.4zM583.6 68.7l2.2 4.4h-4.4zM584.7 66.5l2.2 4.4h-4.4zM585.9 64.2l2.2 4.4h-4.4zM587 61l2.2 4.4h-4.4zM588.1 57.1l2.2 4.4h-4.4zM589.2 53.5l2.2 4.4h-4.4zM590.4 49l2.2 4.4h-4.4z"/>
<path fill="none" stroke="#8ec6ff" stroke-width="0.6" d="M351.1 178.7l5.2 5.2m0 -5.2l-5.2 5.2M352.2 170.2l5.2 5.2m0 -5.2l-5.2 5.2M353.4 162.6l5.2 5.2m0 -5.2l-5.2 5.2M354.5 160.3l5.2 5.2m0 -5.2l-5.2 5.2M355.6 159.5l5.2 5.2m0 -5.2l-5.2 5.2M356.7 158.3l5.2 5.2m0 -5.2l-5.2 5.2M357.9 156.6l5.2 5.2m0 -5.2l-5.2 5.2M359 154.9l5.2 5.2m0 -5.2l-5.2 5.2M360.1 152.6l5.2 5.2m0 -5.2l-5.2 5.2M361.2 151.4l5.2 5.2m0 -5.2l-5.2 5.2M362.4 150.1l5.2 5.2m0 -5.2l-5.2 5.2M363.5 148.9l5.2 5.2m0 -5.2l-5.2 5.2M364.6 149.2l5.2 5.2m0 -5.2l-5.2 5.2M365.8 147.8l5.2 5.2m0 -5.2l-5.2 5.2M366.9 147.8l5.2 5.2m0 -5.2l-5.2 5.2M368 146.5l5.2 5.2m0 -5.2l-5.2 5.2M369.1 147l5.2 5.2m0 -5.2l-5.2 5.2M370.3 145.7l5.2 5.2m0 -5.2l-5.2 5.2M371.4 144.8l5.2 5.2m0 -5.2l-5.2 5.2M372.5 143.9l5.2 5.2m0 -5.2l-5.2 5.2M373.6 143.3l5.2 5.2m0 -5.2l-5.2 5.2M374.8 142.9l5.2 5.2m0 -5.2l-5.2 5.2M375.9 142.4l5.2 5.2m0 -5.2l-5.2 5.2M377 142.2l5.2 5.2m0 -5.2l-5.2 5.2M378.1 142.2l5.2 5.2m0 -5.2l-5.2 5.2M379.3 141.4l5.2 5.2m0 -5.2l-5.2 5.2M380.4 141.5l5.2 5.2m0 -5.2l-5.2 5.2M381.5 140.5l5.2 5.2m0 -5.2l-5.2 5.2M382.7 140.9l5.2 5.2m0 -5.2l-5.2 5.2M383.8 140.3l5.2 5.2m0 -5.2l-5.2 5.2M384.9 140.4l5.2 5.2m0 -5.2l-5.2 5.2M386 139.3l5.2 5.2m0 -5.2l-5.2 5.2M387.2 138.5l5.2 5.2m0 -5.2l-5.2 5.2M388.3 137.6l5.2 5.2m0 -5.2l-5.2 5.2M389.4 137.9l5.2 5.2m0 -5.2l-5.2 5.2M390.5 138.4l5.2 5.2m0 -5.2l-5.2 5.2M391.7 139.1l5.2 5.2m0 -5.2l-5.2 5.2M392.8 138.5l5.2 5.2m0 -5.2l-5.2 5.2M393.9 137.8l5.2 5.2m0 -5.2l-5.2 5.2M395.1 136.1l5.2 5.2m0 -5.2l-5.2 5.2M396.2 134.9l5.2 5.2m0 -5.2l-5.2 5.2M397.3 134.1l5.2 5.2m0 -5.2l-5.2 5.2M398.4 134.3l5.2 5.2m0 -5.2l-5.2 5.2M399.6 134.4l5.2 5.2m0 -5.2l-5.2 5.2M400.7 133.7l5.2 5.2m0 -5.2l-5.2 5.2M401.8 134l5.2 5.2m0 -5.2l-5.2 5.2M402.9 134.2l5.2 5.2m0 -5.2l-5.2 5.2M404.1 133.9l5.2 5.2m0 -5.2l-5.2 5.2M405.2 134.6l5.2 5.2m0 -5.2l-5.2 5.2M406.3 134.9l5.2 5.2m0 -5.2l-5.2 5.2M407.4 135.3l5.2 5.2m0 -5.2l-5.2 5.2M408.6 134.2l5.2 5.2m0 -5.2l-5.2 5.2M409.7 133.5l5.2 5.2m0 -5.2l-5.2 5.2M410.8 134.2l5.2 5.2m0 -5.2l-5.2 5.2M412 132.8l5.2 5.2m0 -5.2l-5.2 5.2M413.1 132.3l5.2 5.2m0 -5.2l-5.2 5.2M414.2 131.1l5.2 5.2m0 -5.2l-5.2 5.2M415.3 131.3l5.2 5.2m0 -5.2l-5.2 5.2M416.5 132.5l5.2 5.2m0 -5.2l-5.2 5.2M417.6 131.5l5.2 5.2m0 -5.2l-5.2 5.2M418.7 131.3l5.2 5.2m0 -5.2l-5.2 5.2M419.8 130.5l5.2 5.2m0 -5.2l-5.2 5.2M421 131.4l5.2 5.2m0 -5.2l-5.2 5.2M422.1 132.1l5.2 5.2m0 -5.2l-5.2 5.2M423.2 132l5.2 5.2m0 -5.2l-5.2 5.2M424.4 132.6l5.2 5.2m0 -5.2l-5.2 5.2M425.5 131.6l5.2 5.2m0 -5.2l-5.2 5.2M426.6 131.3l5.2 5.2m0 -5.2l-5.2 5.2M427.7 130.4l5.2 5.2m0 -5.2l-5.2 5.2M428.9 130.3l5.2 5.2m0 -5.2l-5.2 5.2M430 129.8l5.2 5.2m0 -5.2l-5.2 5.2M431.1 128.9l5.2 5.2m0 -5.2l-5.2 5.2M432.2 128.5l5.2 5.2m0 -5.2l-5.2 5.2M433.4 127.9l5.2 5.2m0 -5.2l-5.2 5.2M434.5 127.6l5.2 5.2m0 -5.2l-5.2 5.2M435.6 126.9l5.2 5.2m0 -5.2l-5.2 5.2M436.8 127.5l5.2 5.2m0 -5.2l-5.2 5.2M437.9 126.7l5.2 5.2m0 -5.2l-5.2 5.2M439 128.4l5.2 5.2m0 -5.2l-5.2 5.2M440.1 128.9l5.2 5.2m0 -5.2l-5.2 5.2M441.3 130.1l5.2 5.2m0 -5.2l-5.2 5.2M442.4 128.7l5.2 5.2m0 -5.2l-5.2 5.2M443.5 127.3l5.2 5.2m0 -5.2l-5.2 5.2M444.6 127.1l5.2 5.2m0 -5.2l-5.2 5.2M445.8 127.1l5.2 5.2m0 -5.2l-5.2 5.2M446.9 127.5l5.2 5.2m0 -5.2l-5.2 5.2M448 126.3l5.2 5.2m0 -5.2l-5.2 5.2M449.1 126.5l5.2 5.2m0 -5.2l-5.2 5.2M450.3 125.6l5.2 5.2m0 -5.2l-5.2 5.2M451.4 125.8l5.2 5.2m0 -5.2l-5.2 5.2M452.5 124.2l5.2 5.2m0 -5.2l-5.2 5.2M453.7 124l5.2 5.2m0 -5.2l-5.2 5.2M454.8 124l5.2 5.2m0 -5.2l-5.2 5.2M455.9 124.5l5.2 5.2m0 -5.2l-5.2 5.2M457 124.4l5.2 5.2m0 -5.2l-5.2 5.2M458.2 124.3l5.2 5.2m0 -5.2l-5.2 5.2M459.3 124.3l5.2 5.2m0 -5.2l-5.2 5.2M460.4 125l5.2 5.2m0 -5.2l-5.2 5.2M461.5 123.1l5.2 5.2m0 -5.2l-5.2 5.2M462.7 123.2l5.2 5.2m0 -5.2l-5.2 5.2M463.8 122.6l5.2 5.2m0 -5.2l-5.2 5.2M464.9 122.8l5.2 5.2m0 -5.2l-5.2 5.2M466.1 121.6l5.2 5.2m0 -5.2l-5.2 5.2M467.2 121.6l5.2 5.2m0 -5.2l-5.2 5.2M468.3 121.6l5.2 5.2m0 -5.2l-5.2 5.2M469.4 121.7l5.2 5.2m0 -5.2l-5.2 5.2M470.6 121.4l5.2 5.2m0 -5.2l-5.2 5.2M471.7 121.5l5.2 5.2m0 -5.2l-5.2 5.2M472.8 121.9l5.2 5.2m0 -5.2l-5.2 5.2M473.9 120.9l5.2 5.2m0 -5.2l-5.2 5.2M475.1 120.9l5.2 5.2m0 -5.2l-5.2 5.2M476.2 121l5.2 5.2m0 -5.2l-5.2 5.2M477.3 121.4l5.2 5.2m0 -5.2l-5.2 5.2M478.5 119.8l5.2 5.2m0 -5.2l-5.2 5.2M479.6 119.3l5.2 5.2m0 -5.2l-5.2 5.2M480.7 119l5.2 5.2m0 -5.2l-5.2 5.2M481.8 119.4l5.2 5.2m0 -5.2l-5.2 5.2M483 119.5l5.2 5.2m0 -5.2l-5.2 5.2M484.1 118.3l5.2 5.2m0 -5.2l-5.2 5.2M485.2 119.5l5.2 5.2m0 -5.2l-5.2 5.2M486.3 118.1l5.2 5.2m0 -5.2l-5.2 5.2M487.5 119.6l5.2 5.2m0 -5.2l-5.2 5.2M488.6 118.3l5.2 5.2m0 -5.2l-5.2 5.2M489.7 117.7l5.2 5.2m0 -5.2l-5.2 5.2M490.8 116.6l5.2 5.2m0 -5.2l-5.2 5.2M492 116.6l5.2 5.2m0 -5.2l-5.2 5.2M493.1 117.3l5.2 5.2m0 -5.2l-5.2 5.2M494.2 117.5l5.2 5.2m0 -5.2l-5.2 5.2M495.4 116.5l5.2 5.2m0 -5.2l-5.2 5.2M496.5 116.2l5.2 5.2m0 -5.2l-5.2 5.2M497.6 115.7l5.2 5.2m0 -5.2l-5.2 5.2M498.7 115.7l5.2 5.2m0 -5.2l-5.2 5.2M499.9 114.6l5.2 5.2m0 -5.2l-5.2 5.2M501 113.4l5.2 5.2m0 -5.2l-5.2 5.2M502.1 113.6l5.2 5.2m0 -5.2l-5.2 5.2M503.2 114.2l5.2 5.2m0 -5.2l-5.2 5.2M504.4 113.9l5.2 5.2m0 -5.2l-5.2 5.2M505.5 112.5l5.2 5.2m0 -5.2l-5.2 5.2M506.6 112.4l5.2 5.2m0 -5.2l-5.2 5.2M507.8 111.7l5.2 5.2m0 -5.2l-5.2 5.2M508.9 112.2l5.2 5.2m0 -5.2l-5.2 5.2M510 110.8l5.2 5.2m0 -5.2l-5.2 5.2M511.1 110.3l5.2 5.2m0 -5.2l-5.2 5.2M512.3 110l5.2 5.2m0 -5.2l-5.2 5.2M513.4 110l5.2 5.2m0 -5.2l-5.2 5.2M514.5 111.3l5.2 5.2m0 -5.2l-5.2 5.2M515.6 112.1l5.2 5.2m0 -5.2l-5.2 5.2M516.8 111.8l5.2 5.2m0 -5.2l-5.2 5.2M517.9 111.3l5.2 5.2m0 -5.2l-5.2 5.2M519 110.3l5.2 5.2m0 -5.2l-5.2 5.2M520.1 109.7l5.2 5.2m0 -5.2l-5.2 5.2M521.3 108.4l5.2 5.2m0 -5.2l-5.2 5.2M522.4 108.3l5.2 5.2m0 -5.2l-5.2 5.2M523.5 108l5.2 5.2m0 -5.2l-5.2 5.2M524.7 108l5.2 5.2m0 -5.2l-5.2 5.2M525.8 106.6l5.2 5.2m0 -5.2l-5.2 5.2M526.9 106.3l5.2 5.2m0 -5.2l-5.2 5.2M528 105.6l5.2 5.2m0 -5.2l-5.2 5.2M529.2 105.7l5.2 5.2m0 -5.2l-5.2 5.2M530.3 105.9l5.2 5.2m0 -5.2l-5.2 5.2M531.4 105.5l5.2 5.2m0 -5.2l-5.2 5.2M532.5 103.9l5.2 5.2m0 -5.2l-5.2 5.2M533.7 102.8l5.2 5.2m0 -5.2l-5.2 5.2M534.8 101.6l5.2 5.2m0 -5.2l-5.2 5.2M535.9 101.5l5.2 5.2m0 -5.2l-5.2 5.2M537.1 101.6l5.2 5.2m0 -5.2l-5.2 5.2M538.2 103l5.2 5.2m0 -5.2l-5.2 5.2M539.3 103l5.2 5.2m0 -5.2l-5.2 5.2M540.4 101.2l5.2 5.2m0 -5.2l-5.2 5.2M541.6 99.9l5.2 5.2m0 -5.2l-5.2 5.2M542.7 98l5.2 5.2m0 -5.2l-5.2 5.2M543.8 97.7l5.2 5.2m0 -5.2l-5.2 5.2M544.9 97.6l5.2 5.2m0 -5.2l-5.2 5.2M546.1 98.6l5.2 5.2m0 -5.2l-5.2 5.2M547.2 97.8l5.2 5.2m0 -5.2l-5.2 5.2M548.3 95.6l5.2 5.2m0 -5.2l-5.2 5.2M549.5 95.2l5.2 5.2m0 -5.2l-5.2 5.2M550.6 95.4l5.2 5.2m0 -5.2l-5.2 5.2M551.7 95.5l5.2 5.2m0 -5.2l-5.2 5.2M552.8 94.7l5.2 5.2m0 -5.2l-5.2 5.2M554 94l5.2 5.2m0 -5.2l-5.2 5.2M555.1 92.8l5.2 5.2m0 -5.2l-5.2 5.2M556.2 92.4l5.2 5.2m0 -5.2l-5.2 5.2M557.3 91.9l5.2 5.2m0 -5.2l-5.2 5.2M558.5 91.8l5.2 5.2m0 -5.2l-5.2 5.2M559.6 90.1l5.2 5.2m0 -5.2l-5.2 5.2M560.7 89.9l5.2 5.2m0 -5.2l-5.2 5.2M561.8 89.4l5.2 5.2m0 -5.2l-5.2 5.2M563 89.8l5.2 5.2m0 -5.2l-5.2 5.2M564.1 88.8l5.2 5.2m0 -5.2l-5.2 5.2M565.2 89l5.2 5.2m0 -5.2l-5.2 5.2M566.4 87.7l5.2 5.2m0 -5.2l-5.2 5.2M567.5 86.6l5.2 5.2m0 -5.2l-5.2 5.2M568.6 84l5.2 5.2m0 -5.2l-5.2 5.2M569.7 82.6l5.2 5.2m0 -5.2l-5.2 5.2M570.9 82.3l5.2 5.2m0 -5.2l-5.2 5.2M572 83.9l5.2 5.2m0 -5.2l-5.2 5.2M573.1 82.7l5.2 5.2m0 -5.2l-5.2 5.2M574.2 80.6l5.2 5.2m0 -5.2l-5.2 5.2M575.4 77.9l5.2 5.2m0 -5.2l-5.2 5.2M576.5 77.5l5.2 5.2m0 -5.2l-5.2 5.2M577.6 76.3l5.2 5.2m0 -5.2l-5.2 5.2M578.8 74.7l5.2 5.2m0 -5.2l-5.2 5.2M579.9 72.1l5.2 5.2m0 -5.2l-5.2 5.2M581 70.6l5.2 5.2m0 -5.2l-5.2 5.2M582.1 69.2l5.2 5.2m0 -5.2l-5.2 5.2M583.3 69l5.2 5.2m0 -5.2l-5.2 5.2M584.4 66.8l5.2 5.2m0 -5.2l-5.2 5.2M585.5 63.4l5.2 5.2m0 -5.2l-5.2 5.2M586.6 59.6l5.2 5.2m0 -5.2l-5.2 5.2M587.8 55.6l5.2 5.2m0 -5.2l-5.2 5.2"/>
<path fill="none" stroke="#a8d4ff" stroke-width="0.6" d="M351.3 171.8l4.8 4.8m0 -4.8l-4.8 4.8M352.4 165.8l4.8 4.8m0 -4.8l-4.8 4.8M353.6 160.2l4.8 4.8m0 -4.8l-4.8 4.8M354.7 157.2l4.8 4.8m0 -4.8l-4.8 4.8M355.8 154.8l4.8 4.8m0 -4.8l-4.8 4.8M356.9 152.4l4.8 4.8m0 -4.8l-4.8 4.8M358.1 150.3l4.8 4.8m0 -4.8l-4.8 4.8M359.2 148.9l4.8 4.8m0 -4.8l-4.8 4.8M360.3 147.7l4.8 4.8m0 -4.8l-4.8 4.8M361.4 147l4.8 4.8m0 -4.8l-4.8 4.8M362.6 147.4l4.8 4.8m0 -4.8l-4.8 4.8M363.7 146.3l4.8 4.8m0 -4.8l-4.8 4.8M364.8 145.9l4.8 4.8m0 -4.8l-4.8 4.8M366 144.5l4.8 4.8m0 -4.8l-4.8 4.8M367.1 145.5l4.8 4.8m0 -4.8l-4.8 4.8M368.2 145.2l4.8 4.8m0 -4.8l-4.8 4.8M369.3 144.8l4.8 4.8m0 -4.8l-4.8 4.8M370.5 143.9l4.8 4.8m0 -4.8l-4.8 4.8M371.6 143.3l4.8 4.8m0 -4.8l-4.8 4.8M372.7 142.7l4.8 4.8m0 -4.8l-4.8 4.8M373.8 142.6l4.8 4.8m0 -4.8l-4.8 4.8M375 142.5l4.8 4.8m0 -4.8l-4.8 4.8M376.1 143.3l4.8 4.8m0 -4.8l-4.8 4.8M377.2 142.6l4.8 4.8m0 -4.8l-4.8 4.8M378.3 142.3l4.8 4.8m0 -4.8l-4.8 4.8M379.5 141l4.8 4.8m0 -4.8l-4.8 4.8M380.6 139.4l4.8 4.8m0 -4.8l-4.8 4.8M381.7 139l4.8 4.8m0 -4.8l-4.8 4.8M382.9 138.6l4.8 4.8m0 -4.8l-4.8 4.8M384 139.3l4.8 4.8m0 -4.8l-4.8 4.8M385.1 138.5l4.8 4.8m0 -4.8l-4.8 4.8M386.2 137.7l4.8 4.8m0 -4.8l-4.8 4.8M387.4 136.5l4.8 4.8m0 -4.8l-4.8 4.8M388.5 136.6l4.8 4.8m0 -4.8l-4.8 4.8M389.6 137.4l4.8 4.8m0 -4.8l-4.8 4.8M390.7 137.5l4.8 4.8m0 -4.8l-4.8 4.8M391.9 137l4.8 4.8m0 -4.8l-4.8 4.8M393 136.8l4.8 4.8m0 -4.8l-4.8 4.8M394.1 136.2l4.8 4.8m0 -4.8l-4.8 4.8M395.3 135.5l4.8 4.8m0 -4.8l-4.8 4.8M396.4 133.8l4.8 4.8m0 -4.8l-4.8 4.8M397.5 134.6l4.8 4.8m0 -4.8l-4.8 4.8M398.6 134.7l4.8 4.8m0 -4.8l-4.8 4.8M399.8 134.8l4.8 4.8m0 -4.8l-4.8 4.8M400.9 132.9l4.8 4.8m0 -4.8l-4.8 4.8M402 132.4l4.8 4.8m0 -4.8l-4.8 4.8M403.1 133l4.8 4.8m0 -4.8l-4.8 4.8M404.3 133.5l4.8 4.8m0 -4.8l-4.8 4.8M405.4 133.1l4.8 4.8m0 -4.8l-4.8 4.8M406.5 132.7l4.8 4.8m0 -4.8l-4.8 4.8M407.7 131.9l4.8 4.8m0 -4.8l-4.8 4.8M408.8 131.9l4.8 4.8m0 -4.8l-4.8 4.8M409.9 131.7l4.8 4.8m0 -4.8l-4.8 4.8M411 131.7l4.8 4.8m0 -4.8l-4.8 4.8M412.2 131l4.8 4.8m0 -4.8l-4.8 4.8M413.3 130.6l4.8 4.8m0 -4.8l-4.8 4.8M414.4 130.7l4.8 4.8m0 -4.8l-4.8 4.8M415.5 130.9l4.8 4.8m0 -4.8l-4.8 4.8M416.7 130.6l4.8 4.8m0 -4.8l-4.8 4.8M417.8 130.6l4.8 4.8m0 -4.8l-4.8 4.8M418.9 130l4.8 4.8m0 -4.8l-4.8 4.8M420 129.3l4.8 4.8m0 -4.8l-4.8 4.8M421.2 129.2l4.8 4.8m0 -4.8l-4.8 4.8M422.3 130.2l4.8 4.8m0 -4.8l-4.8 4.8M423.4 131.2l4.8 4.8m0 -4.8l-4.8 4.8M424.6 130.2l4.8 4.8m0 -4.8l-4.8 4.8M425.7 130l4.8 4.8m0 -4.8l-4.8 4.8M426.8 129.5l4.8 4.8m0 -4.8l-4.8 4.8M427.9 129.8l4.8 4.8m0 -4.8l-4.8 4.8M429.1 129.2l4.8 4.8m0 -4.8l-4.8 4.8M430.2 129.1l4.8 4.8m0 -4.8l-4.8 4.8M431.3 129.9l4.8 4.8m0 -4.8l-4.8 4.8M432.4 128.8l4.8 4.8m0 -4.8l-4.8 4.8M433.6 128.5l4.8 4.8m0 -4.8l-4.8 4.8M434.7 127.2l4.8 4.8m0 -4.8l-4.8 4.8M435.8 127.5l4.8 4.8m0 -4.8l-4.8 4.8M437 127.6l4.8 4.8m0 -4.8l-4.8 4.8M438.1 127.9l4.8 4.8m0 -4.8l-4.8 4.8M439.2 127.3l4.8 4.8m0 -4.8l-4.8 4.8M440.3 126.3l4.8 4.8m0 -4.8l-4.8 4.8M441.5 125.7l4.8 4.8m0 -4.8l-4.8 4.8M442.6 125.3l4.8 4.8m0 -4.8l-4.8 4.8M443.7 125.8l4.8 4.8m0 -4.8l-4.8 4.8M444.8 125.4l4.8 4.8m0 -4.8l-4.8 4.8M446 126.1l4.8 4.8m0 -4.8l-4.8 4.8M447.1 125.6l4.8 4.8m0 -4.8l-4.8 4.8M448.2 126.5l4.8 4.8m0 -4.8l-4.8 4.8M449.3 126.2l4.8 4.8m0 -4.8l-4.8 4.8M450.5 125.6l4.8 4.8m0 -4.8l-4.8 4.8M451.6 125.4l4.8 4.8m0 -4.8l-4.8 4.8M452.7 124.9l4.8 4.8m0 -4.8l-4.8 4.8M453.9 124.6l4.8 4.8m0 -4.8l-4.8 4.8M455 122.6l4.8 4.8m0 -4.8l-4.8 4.8M456.1 123.3l4.8 4.8m0 -4.8l-4.8 4.8M457.2 123.6l4.8 4.8m0 -4.8l-4.8 4.8M458.4 124.4l4.8 4.8m0 -4.8l-4.8 4.8M459.5 123.7l4.8 4.8m0 -4.8l-4.8 4.8M460.6 123.3l4.8 4.8m0 -4.8l-4.8 4.8M461.7 122.3l4.8 4.8m0 -4.8l-4.8 4.8M462.9 121.6l4.8 4.8m0 -4.8l-4.8 4.8M464 121.7l4.8 4.8m0 -4.8l-4.8 4.8M465.1 122l4.8 4.8m0 -4.8l-4.8 4.8M466.3 123.2l4.8 4.8m0 -4.8l-4.8 4.8M467.4 122.3l4.8 4.8m0 -4.8l-4.8 4.8M468.5 121.7l4.8 4.8m0 -4.8l-4.8 4.8M469.6 120l4.8 4.8m0 -4.8l-4.8 4.8M470.8 121l4.8 4.8m0 -4.8l-4.8 4.8M471.9 120.3l4.8 4.8m0 -4.8l-4.8 4.8M473 121.1l4.8 4.8m0 -4.8l-4.8 4.8M474.1 120.9l4.8 4.8m0 -4.8l-4.8 4.8M475.3 121.3l4.8 4.8m0 -4.8l-4.8 4.8M476.4 121l4.8 4.8m0 -4.8l-4.8 4.8M477.5 118.8l4.8 4.8m0 -4.8l-4.8 4.8M478.7 118.4l4.8 4.8m0 -4.8l-4.8 4.8M479.8 116.8l4.8 4.8m0 -4.8l-4.8 4.8M480.9 117.8l4.8 4.8m0 -4.8l-4.8 4.8M482 117.8l4.8 4.8m0 -4.8l-4.8 4.8M483.2 118l4.8 4.8m0 -4.8l-4.8 4.8M484.3 118.2l4.8 4.8m0 -4.8l-4.8 4.8M485.4 118.1l4.8 4.8m0 -4.8l-4.8 4.8M486.5 118l4.8 4.8m0 -4.8l-4.8 4.8M487.7 116.9l4.8 4.8m0 -4.8l-4.8 4.8M488.8 115.6l4.8 4.8m0 -4.8l-4.8 4.8M489.9 115.5l4.8 4.8m0 -4.8l-4.8 4.8M491 116.7l4.8 4.8m0 -4.8l-4.8 4.8M492.2 116.8l4.8 4.8m0 -4.8l-4.8 4.8M493.3 116.9l4.8 4.8m0 -4.8l-4.8 4.8M494.4 115.1l4.8 4.8m0 -4.8l-4.8 4.8M495.6 115.6l4.8 4.8m0 -4.8l-4.8 4.8M496.7 115.3l4.8 4.8m0 -4.8l-4.8 4.8M497.8 115.2l4.8 4.8m0 -4.8l-4.8 4.8M498.9 113.4l4.8 4.8m0 -4.8l-4.8 4.8M500.1 112.6l4.8 4.8m0 -4.8l-4.8 4.8M501.2 113.1l4.8 4.8m0 -4.8l-4.8 4.8M502.3 113.6l4.8 4.8m0 -4.8l-4.8 4.8M503.4 114l4.8 4.8m0 -4.8l-4.8 4.8M504.6 112.7l4.8 4.8m0 -4.8l-4.8 4.8M505.7 111.5l4.8 4.8m0 -4.8l-4.8 4.8M506.8 111l4.8 4.8m0 -4.8l-4.8 4.8M508 111.2l4.8 4.8m0 -4.8l-4.8 4.8M509.1 111.6l4.8 4.8m0 -4.8l-4.8 4.8M510.2 110.8l4.8 4.8m0 -4.8l-4.8 4.8M511.3 110.5l4.8 4.8m0 -4.8l-4.8 4.8M512.5 110.2l4.8 4.8m0 -4.8l-4.8 4.8M513.6 110.3l4.8 4.8m0 -4.8l-4.8 4.8M514.7 109.7l4.8 4.8m0 -4.8l-4.8 4.8M515.8 108.4l4.8 4.8m0 -4.8l-4.8 4.8M517 107.8l4.8 4.8m0 -4.8l-4.8 4.8M518.1 107.2l4.8 4.8m0 -4.8l-4.8 4.8M519.2 107.7l4.8 4.8m0 -4.8l-4.8 4.8M520.4 107.7l4.8 4.8m0 -4.8l-4.8 4.8M521.5 107.4l4.8 4.8m0 -4.8l-4.8 4.8M522.6 107.8l4.8 4.8m0 -4.8l-4.8 4.8M523.7 107.8l4.8 4.8m0 -4.8l-4.8 4.8M524.9 107.8l4.8 4.8m0 -4.8l-4.8 4.8M526 106.2l4.8 4.8m0 -4.8l-4.8 4.8M527.1 104.8l4.8 4.8m0 -4.8l-4.8 4.8M528.2 104.8l4.8 4.8m0 -4.8l-4.8 4.8M529.4 105.1l4.8 4.8m0 -4.8l-4.8 4.8M530.5 104.6l4.8 4.8m0 -4.8l-4.8 4.8M531.6 103.6l4.8 4.8m0 -4.8l-4.8 4.8M532.7 103.5l4.8 4.8m0 -4.8l-4.8 4.8M533.9 103.6l4.8 4.8m0 -4.8l-4.8 4.8M535 103.5l4.8 4.8m0 -4.8l-4.8 4.8M536.1 102.2l4.8 4.8m0 -4.8l-4.8 4.8M537.3 101.4l4.8 4.8m0 -4.8l-4.8 4.8M538.4 100.4l4.8 4.8m0 -4.8l-4.8 4.8M539.5 100.3l4.8 4.8m0 -4.8l-4.8 4.8M540.6 98.7l4.8 4.8m0 -4.8l-4.8 4.8M541.8 98.2l4.8 4.8m0 -4.8l-4.8 4.8M542.9 96.9l4.8 4.8m0 -4.8l-4.8 4.8M544 98.4l4.8 4.8m0 -4.8l-4.8 4.8M545.1 98.9l4.8 4.8m0 -4.8l-4.8 4.8M546.3 100.1l4.8 4.8m0 -4.8l-4.8 4.8M547.4 99.2l4.8 4.8m0 -4.8l-4.8 4.8M548.5 97.6l4.8 4.8m0 -4.8l-4.8 4.8M549.7 96.7l4.8 4.8m0 -4.8l-4.8 4.8M550.8 95.7l4.8 4.8m0 -4.8l-4.8 4.8M551.9 95.8l4.8 4.8m0 -4.8l-4.8 4.8M553 94.3l4.8 4.8m0 -4.8l-4.8 4.8M554.2 93.6l4.8 4.8m0 -4.8l-4.8 4.8M555.3 93l4.8 4.8m0 -4.8l-4.8 4.8M556.4 94l4.8 4.8m0 -4.8l-4.8 4.8M557.5 93.7l4.8 4.8m0 -4.8l-4.8 4.8M558.7 94.2l4.8 4.8m0 -4.8l-4.8 4.8M559.8 94.2l4.8 4.8m0 -4.8l-4.8 4.8M560.9 92.8l4.8 4.8m0 -4.8l-4.8 4.8M562 90.9l4.8 4.8m0 -4.8l-4.8 4.8M563.2 88.2l4.8 4.8m0 -4.8l-4.8 4.8M564.3 88.1l4.8 4.8m0 -4.8l-4.8 4.8M565.4 87.1l4.8 4.8m0 -4.8l-4.8 4.8M566.6 86.8l4.8 4.8m0 -4.8l-4.8 4.8M567.7 86.5l4.8 4.8m0 -4.8l-4.8 4.8M568.8 86.4l4.8 4.8m0 -4.8l-4.8 4.8M569.9 85.6l4.8 4.8m0 -4.8l-4.8 4.8M571.1 84l4.8 4.8m0 -4.8l-4.8 4.8M572.2 82.5l4.8 4.8m0 -4.8l-4.8 4.8M573.3 81.3l4.8 4.8m0 -4.8l-4.8 4.8M574.4 80.4l4.8 4.8m0 -4.8l-4.8 4.8M575.6 79.1l4.8 4.8m0 -4.8l-4.8 4.8M576.7 78l4.8 4.8m0 -4.8l-4.8 4.8M577.8 75.6l4.8 4.8m0 -4.8l-4.8 4.8M579 74.6l4.8 4.8m0 -4.8l-4.8 4.8M580.1 73.7l4.8 4.8m0 -4.8l-4.8 4.8M581.2 72.8l4.8 4.8m0 -4.8l-4.8 4.8M582.3 69.7l4.8 4.8m0 -4.8l-4.8 4.8M583.5 67.5l4.8 4.8m0 -4.8l-4.8 4.8M584.6 64.9l4.8 4.8m0 -4.8l-4.8 4.8M585.7 61.2l4.8 4.8m0 -4.8l-4.8 4.8M586.8 57.1l4.8 4.8m0 -4.8l-4.8 4.8M588 53l4.8 4.8m0 -4.8l-4.8 4.8"/></g>
<g filter="url(#gs)" opacity="0.92"><text transform="translate(353.7 124.8) scale(0.72 1)" text-anchor="middle" class="xl">0</text>
<text transform="translate(410.1 124.8) scale(0.72 1)" text-anchor="middle" class="xl">50</text>
<text transform="translate(466.4 124.8) scale(0.72 1)" text-anchor="middle" class="xl">100</text>
<text transform="translate(522.8 124.8) scale(0.72 1)" text-anchor="middle" class="xl">150</text>
<text transform="translate(579.1 124.8) scale(0.72 1)" text-anchor="middle" class="xl">200</text></g>
</g>
<g id="pC">
<rect x="48.4" y="280.5" width="238.3" height="244.2" fill="#c2c2c2"/>
<path d="M46.1 280.5H286.7" stroke="#8a8a8a" stroke-width="1"/>
<path d="M49.4 321.3H286.7M49.4 362.6H286.7M49.4 403.5H286.7M49.4 443.5H286.7M49.4 485H286.7" stroke="#cfcfcf" stroke-width="3.4"/>
<path d="M46.1 321.3H286.7M46.1 362.6H286.7M46.1 403.5H286.7M46.1 443.5H286.7M46.1 485H286.7M46.1 524.7H286.7" stroke="#5c5c5c" stroke-width="1.3"/>
<path d="M49.4 383.2H286.7" stroke="#cdcdcd" stroke-width="3.2"/>
<path d="M48.4 383.2H286.7" stroke="#7a7a7a" stroke-width="1.4"/>
<path d="M105.2 383.2v3M161.5 383.2v3M217.9 383.2v3M274.2 383.2v3" stroke="#666" stroke-width="0.9"/>
<path d="M48.4 280.5V524.7" stroke="#747474" stroke-width="1"/>
<g filter="url(#gs)"><text transform="translate(41.4 284.8) scale(.93 1.03)" text-anchor="end" class="yl">2.5</text>
<text transform="translate(41.4 325.6) scale(.93 1.03)" text-anchor="end" class="yl">1.5</text>
<text transform="translate(41.4 366.9) scale(.93 1.03)" text-anchor="end" class="yl">0.5</text>
<text transform="translate(41.4 407.8) scale(.93 1.03)" text-anchor="end" class="yl">-0.5</text>
<text transform="translate(41.4 447.8) scale(.93 1.03)" text-anchor="end" class="yl">-1.5</text>
<text transform="translate(41.4 489.2) scale(.93 1.03)" text-anchor="end" class="yl">-2.5</text>
<text transform="translate(41.4 529) scale(.93 1.03)" text-anchor="end" class="yl">-3.5</text>
<text x="56.3" y="300.5" class="pl">C</text>
<text transform="translate(11 402.7) rotate(-90)" text-anchor="middle" class="yt">ppm deviation</text></g>
<g filter="url(#sb)"><path fill="#000080" d="M46.7 443.1a2.2 2.2 0 1 0 4.4 0a2.2 2.2 0 1 0 -4.4 0zM47.8 439.3a2.2 2.2 0 1 0 4.4 0a2.2 2.2 0 1 0 -4.4 0zM49 435.8a2.2 2.2 0 1 0 4.4 0a2.2 2.2 0 1 0 -4.4 0zM50.1 433.4a2.2 2.2 0 1 0 4.4 0a2.2 2.2 0 1 0 -4.4 0zM51.2 431.8a2.2 2.2 0 1 0 4.4 0a2.2 2.2 0 1 0 -4.4 0zM52.3 430.2a2.2 2.2 0 1 0 4.4 0a2.2 2.2 0 1 0 -4.4 0zM53.5 428.7a2.2 2.2 0 1 0 4.4 0a2.2 2.2 0 1 0 -4.4 0zM54.6 427.5a2.2 2.2 0 1 0 4.4 0a2.2 2.2 0 1 0 -4.4 0zM55.7 427.6a2.2 2.2 0 1 0 4.4 0a2.2 2.2 0 1 0 -4.4 0zM56.8 427.5a2.2 2.2 0 1 0 4.4 0a2.2 2.2 0 1 0 -4.4 0zM58 426.1a2.2 2.2 0 1 0 4.4 0a2.2 2.2 0 1 0 -4.4 0zM59.1 425.5a2.2 2.2 0 1 0 4.4 0a2.2 2.2 0 1 0 -4.4 0zM60.2 424.7a2.2 2.2 0 1 0 4.4 0a2.2 2.2 0 1 0 -4.4 0zM61.4 425.4a2.2 2.2 0 1 0 4.4 0a2.2 2.2 0 1 0 -4.4 0zM62.5 424.9a2.2 2.2 0 1 0 4.4 0a2.2 2.2 0 1 0 -4.4 0zM63.6 425a2.2 2.2 0 1 0 4.4 0a2.2 2.2 0 1 0 -4.4 0zM64.7 424.6a2.2 2.2 0 1 0 4.4 0a2.2 2.2 0 1 0 -4.4 0zM65.9 424.1a2.2 2.2 0 1 0 4.4 0a2.2 2.2 0 1 0 -4.4 0zM67 424a2.2 2.2 0 1 0 4.4 0a2.2 2.2 0 1 0 -4.4 0zM68.1 423.8a2.2 2.2 0 1 0 4.4 0a2.2 2.2 0 1 0 -4.4 0zM69.2 423.9a2.2 2.2 0 1 0 4.4 0a2.2 2.2 0 1 0 -4.4 0zM70.4 423.8a2.2 2.2 0 1 0 4.4 0a2.2 2.2 0 1 0 -4.4 0zM71.5 422.8a2.2 2.2 0 1 0 4.4 0a2.2 2.2 0 1 0 -4.4 0zM72.6 422.7a2.2 2.2 0 1 0 4.4 0a2.2 2.2 0 1 0 -4.4 0zM73.7 422a2.2 2.2 0 1 0 4.4 0a2.2 2.2 0 1 0 -4.4 0zM74.9 421.6a2.2 2.2 0 1 0 4.4 0a2.2 2.2 0 1 0 -4.4 0zM76 421a2.2 2.2 0 1 0 4.4 0a2.2 2.2 0 1 0 -4.4 0zM77.1 420.5a2.2 2.2 0 1 0 4.4 0a2.2 2.2 0 1 0 -4.4 0zM78.3 420.4a2.2 2.2 0 1 0 4.4 0a2.2 2.2 0 1 0 -4.4 0zM79.4 420.2a2.2 2.2 0 1 0 4.4 0a2.2 2.2 0 1 0 -4.4 0zM80.5 420.6a2.2 2.2 0 1 0 4.4 0a2.2 2.2 0 1 0 -4.4 0zM81.6 420.5a2.2 2.2 0 1 0 4.4 0a2.2 2.2 0 1 0 -4.4 0zM82.8 420.3a2.2 2.2 0 1 0 4.4 0a2.2 2.2 0 1 0 -4.4 0zM83.9 419.1a2.2 2.2 0 1 0 4.4 0a2.2 2.2 0 1 0 -4.4 0zM85 419.1a2.2 2.2 0 1 0 4.4 0a2.2 2.2 0 1 0 -4.4 0zM86.1 419.3a2.2 2.2 0 1 0 4.4 0a2.2 2.2 0 1 0 -4.4 0zM87.3 420a2.2 2.2 0 1 0 4.4 0a2.2 2.2 0 1 0 -4.4 0zM88.4 419.9a2.2 2.2 0 1 0 4.4 0a2.2 2.2 0 1 0 -4.4 0zM89.5 419.1a2.2 2.2 0 1 0 4.4 0a2.2 2.2 0 1 0 -4.4 0zM90.7 418.3a2.2 2.2 0 1 0 4.4 0a2.2 2.2 0 1 0 -4.4 0zM91.8 417.9a2.2 2.2 0 1 0 4.4 0a2.2 2.2 0 1 0 -4.4 0zM92.9 417.4a2.2 2.2 0 1 0 4.4 0a2.2 2.2 0 1 0 -4.4 0zM94 417.2a2.2 2.2 0 1 0 4.4 0a2.2 2.2 0 1 0 -4.4 0zM95.2 417.4a2.2 2.2 0 1 0 4.4 0a2.2 2.2 0 1 0 -4.4 0zM96.3 417.4a2.2 2.2 0 1 0 4.4 0a2.2 2.2 0 1 0 -4.4 0zM97.4 418.4a2.2 2.2 0 1 0 4.4 0a2.2 2.2 0 1 0 -4.4 0zM98.5 417.4a2.2 2.2 0 1 0 4.4 0a2.2 2.2 0 1 0 -4.4 0zM99.7 417.7a2.2 2.2 0 1 0 4.4 0a2.2 2.2 0 1 0 -4.4 0zM100.8 416.5a2.2 2.2 0 1 0 4.4 0a2.2 2.2 0 1 0 -4.4 0zM101.9 417a2.2 2.2 0 1 0 4.4 0a2.2 2.2 0 1 0 -4.4 0zM103 416.3a2.2 2.2 0 1 0 4.4 0a2.2 2.2 0 1 0 -4.4 0zM104.2 416.6a2.2 2.2 0 1 0 4.4 0a2.2 2.2 0 1 0 -4.4 0zM105.3 416.4a2.2 2.2 0 1 0 4.4 0a2.2 2.2 0 1 0 -4.4 0zM106.4 416.5a2.2 2.2 0 1 0 4.4 0a2.2 2.2 0 1 0 -4.4 0zM107.6 416.5a2.2 2.2 0 1 0 4.4 0a2.2 2.2 0 1 0 -4.4 0zM108.7 417a2.2 2.2 0 1 0 4.4 0a2.2 2.2 0 1 0 -4.4 0zM109.8 416.9a2.2 2.2 0 1 0 4.4 0a2.2 2.2 0 1 0 -4.4 0zM110.9 416.9a2.2 2.2 0 1 0 4.4 0a2.2 2.2 0 1 0 -4.4 0zM112.1 416.3a2.2 2.2 0 1 0 4.4 0a2.2 2.2 0 1 0 -4.4 0zM113.2 416.4a2.2 2.2 0 1 0 4.4 0a2.2 2.2 0 1 0 -4.4 0zM114.3 416.8a2.2 2.2 0 1 0 4.4 0a2.2 2.2 0 1 0 -4.4 0zM115.4 415.8a2.2 2.2 0 1 0 4.4 0a2.2 2.2 0 1 0 -4.4 0zM116.6 415.5a2.2 2.2 0 1 0 4.4 0a2.2 2.2 0 1 0 -4.4 0zM117.7 413.9a2.2 2.2 0 1 0 4.4 0a2.2 2.2 0 1 0 -4.4 0zM118.8 414.5a2.2 2.2 0 1 0 4.4 0a2.2 2.2 0 1 0 -4.4 0zM120 414.5a2.2 2.2 0 1 0 4.4 0a2.2 2.2 0 1 0 -4.4 0zM121.1 416.5a2.2 2.2 0 1 0 4.4 0a2.2 2.2 0 1 0 -4.4 0zM122.2 416.7a2.2 2.2 0 1 0 4.4 0a2.2 2.2 0 1 0 -4.4 0zM123.3 417.3a2.2 2.2 0 1 0 4.4 0a2.2 2.2 0 1 0 -4.4 0zM124.5 416.3a2.2 2.2 0 1 0 4.4 0a2.2 2.2 0 1 0 -4.4 0zM125.6 415.9a2.2 2.2 0 1 0 4.4 0a2.2 2.2 0 1 0 -4.4 0zM126.7 415.3a2.2 2.2 0 1 0 4.4 0a2.2 2.2 0 1 0 -4.4 0zM127.8 415.3a2.2 2.2 0 1 0 4.4 0a2.2 2.2 0 1 0 -4.4 0zM129 415.4a2.2 2.2 0 1 0 4.4 0a2.2 2.2 0 1 0 -4.4 0zM130.1 415.2a2.2 2.2 0 1 0 4.4 0a2.2 2.2 0 1 0 -4.4 0zM131.2 414.7a2.2 2.2 0 1 0 4.4 0a2.2 2.2 0 1 0 -4.4 0zM132.4 413.9a2.2 2.2 0 1 0 4.4 0a2.2 2.2 0 1 0 -4.4 0zM133.5 413.4a2.2 2.2 0 1 0 4.4 0a2.2 2.2 0 1 0 -4.4 0zM134.6 413.3a2.2 2.2 0 1 0 4.4 0a2.2 2.2 0 1 0 -4.4 0zM135.7 413.9a2.2 2.2 0 1 0 4.4 0a2.2 2.2 0 1 0 -4.4 0zM136.9 413.8a2.2 2.2 0 1 0 4.4 0a2.2 2.2 0 1 0 -4.4 0zM138 413.4a2.2 2.2 0 1 0 4.4 0a2.2 2.2 0 1 0 -4.4 0zM139.1 413a2.2 2.2 0 1 0 4.4 0a2.2 2.2 0 1 0 -4.4 0zM140.2 413.2a2.2 2.2 0 1 0 4.4 0a2.2 2.2 0 1 0 -4.4 0zM141.4 413.5a2.2 2.2 0 1 0 4.4 0a2.2 2.2 0 1 0 -4.4 0zM142.5 413.5a2.2 2.2 0 1 0 4.4 0a2.2 2.2 0 1 0 -4.4 0zM143.6 413.5a2.2 2.2 0 1 0 4.4 0a2.2 2.2 0 1 0 -4.4 0zM144.7 412.6a2.2 2.2 0 1 0 4.4 0a2.2 2.2 0 1 0 -4.4 0zM145.9 412a2.2 2.2 0 1 0 4.4 0a2.2 2.2 0 1 0 -4.4 0zM147 412a2.2 2.2 0 1 0 4.4 0a2.2 2.2 0 1 0 -4.4 0zM148.1 411.8a2.2 2.2 0 1 0 4.4 0a2.2 2.2 0 1 0 -4.4 0zM149.3 412.2a2.2 2.2 0 1 0 4.4 0a2.2 2.2 0 1 0 -4.4 0zM150.4 411.7a2.2 2.2 0 1 0 4.4 0a2.2 2.2 0 1 0 -4.4 0zM151.5 411.8a2.2 2.2 0 1 0 4.4 0a2.2 2.2 0 1 0 -4.4 0zM152.6 411.9a2.2 2.2 0 1 0 4.4 0a2.2 2.2 0 1 0 -4.4 0zM153.8 411.7a2.2 2.2 0 1 0 4.4 0a2.2 2.2 0 1 0 -4.4 0zM154.9 411.6a2.2 2.2 0 1 0 4.4 0a2.2 2.2 0 1 0 -4.4 0zM156 411a2.2 2.2 0 1 0 4.4 0a2.2 2.2 0 1 0 -4.4 0zM157.1 411.1a2.2 2.2 0 1 0 4.4 0a2.2 2.2 0 1 0 -4.4 0zM158.3 412.4a2.2 2.2 0 1 0 4.4 0a2.2 2.2 0 1 0 -4.4 0zM159.4 411.7a2.2 2.2 0 1 0 4.4 0a2.2 2.2 0 1 0 -4.4 0zM160.5 411.5a2.2 2.2 0 1 0 4.4 0a2.2 2.2 0 1 0 -4.4 0zM161.7 410.3a2.2 2.2 0 1 0 4.4 0a2.2 2.2 0 1 0 -4.4 0zM162.8 411.3a2.2 2.2 0 1 0 4.4 0a2.2 2.2 0 1 0 -4.4 0zM163.9 411a2.2 2.2 0 1 0 4.4 0a2.2 2.2 0 1 0 -4.4 0zM165 410.1a2.2 2.2 0 1 0 4.4 0a2.2 2.2 0 1 0 -4.4 0zM166.2 410.1a2.2 2.2 0 1 0 4.4 0a2.2 2.2 0 1 0 -4.4 0zM167.3 409.7a2.2 2.2 0 1 0 4.4 0a2.2 2.2 0 1 0 -4.4 0zM168.4 410.4a2.2 2.2 0 1 0 4.4 0a2.2 2.2 0 1 0 -4.4 0zM169.5 409.3a2.2 2.2 0 1 0 4.4 0a2.2 2.2 0 1 0 -4.4 0zM170.7 409.1a2.2 2.2 0 1 0 4.4 0a2.2 2.2 0 1 0 -4.4 0zM171.8 408.8a2.2 2.2 0 1 0 4.4 0a2.2 2.2 0 1 0 -4.4 0zM172.9 409.5a2.2 2.2 0 1 0 4.4 0a2.2 2.2 0 1 0 -4.4 0zM174.1 410a2.2 2.2 0 1 0 4.4 0a2.2 2.2 0 1 0 -4.4 0zM175.2 409.8a2.2 2.2 0 1 0 4.4 0a2.2 2.2 0 1 0 -4.4 0zM176.3 409.5a2.2 2.2 0 1 0 4.4 0a2.2 2.2 0 1 0 -4.4 0zM177.4 408.9a2.2 2.2 0 1 0 4.4 0a2.2 2.2 0 1 0 -4.4 0zM178.6 409a2.2 2.2 0 1 0 4.4 0a2.2 2.2 0 1 0 -4.4 0zM179.7 408.6a2.2 2.2 0 1 0 4.4 0a2.2 2.2 0 1 0 -4.4 0zM180.8 408.8a2.2 2.2 0 1 0 4.4 0a2.2 2.2 0 1 0 -4.4 0zM181.9 408.4a2.2 2.2 0 1 0 4.4 0a2.2 2.2 0 1 0 -4.4 0zM183.1 408a2.2 2.2 0 1 0 4.4 0a2.2 2.2 0 1 0 -4.4 0zM184.2 407.7a2.2 2.2 0 1 0 4.4 0a2.2 2.2 0 1 0 -4.4 0zM185.3 407.7a2.2 2.2 0 1 0 4.4 0a2.2 2.2 0 1 0 -4.4 0zM186.4 407.3a2.2 2.2 0 1 0 4.4 0a2.2 2.2 0 1 0 -4.4 0zM187.6 407.6a2.2 2.2 0 1 0 4.4 0a2.2 2.2 0 1 0 -4.4 0zM188.7 407.2a2.2 2.2 0 1 0 4.4 0a2.2 2.2 0 1 0 -4.4 0zM189.8 407.6a2.2 2.2 0 1 0 4.4 0a2.2 2.2 0 1 0 -4.4 0zM191 406.8a2.2 2.2 0 1 0 4.4 0a2.2 2.2 0 1 0 -4.4 0zM192.1 407.2a2.2 2.2 0 1 0 4.4 0a2.2 2.2 0 1 0 -4.4 0zM193.2 405.8a2.2 2.2 0 1 0 4.4 0a2.2 2.2 0 1 0 -4.4 0zM194.3 406.3a2.2 2.2 0 1 0 4.4 0a2.2 2.2 0 1 0 -4.4 0zM195.5 405.5a2.2 2.2 0 1 0 4.4 0a2.2 2.2 0 1 0 -4.4 0zM196.6 405.6a2.2 2.2 0 1 0 4.4 0a2.2 2.2 0 1 0 -4.4 0zM197.7 404.7a2.2 2.2 0 1 0 4.4 0a2.2 2.2 0 1 0 -4.4 0zM198.8 405.3a2.2 2.2 0 1 0 4.4 0a2.2 2.2 0 1 0 -4.4 0zM200 405.7a2.2 2.2 0 1 0 4.4 0a2.2 2.2 0 1 0 -4.4 0zM201.1 405a2.2 2.2 0 1 0 4.4 0a2.2 2.2 0 1 0 -4.4 0zM202.2 403.7a2.2 2.2 0 1 0 4.4 0a2.2 2.2 0 1 0 -4.4 0zM203.4 403.7a2.2 2.2 0 1 0 4.4 0a2.2 2.2 0 1 0 -4.4 0zM204.5 403.4a2.2 2.2 0 1 0 4.4 0a2.2 2.2 0 1 0 -4.4 0zM205.6 403.2a2.2 2.2 0 1 0 4.4 0a2.2 2.2 0 1 0 -4.4 0zM206.7 402.3a2.2 2.2 0 1 0 4.4 0a2.2 2.2 0 1 0 -4.4 0zM207.9 403.4a2.2 2.2 0 1 0 4.4 0a2.2 2.2 0 1 0 -4.4 0zM209 403a2.2 2.2 0 1 0 4.4 0a2.2 2.2 0 1 0 -4.4 0zM210.1 403.3a2.2 2.2 0 1 0 4.4 0a2.2 2.2 0 1 0 -4.4 0zM211.2 401.9a2.2 2.2 0 1 0 4.4 0a2.2 2.2 0 1 0 -4.4 0zM212.4 401.3a2.2 2.2 0 1 0 4.4 0a2.2 2.2 0 1 0 -4.4 0zM213.5 400.8a2.2 2.2 0 1 0 4.4 0a2.2 2.2 0 1 0 -4.4 0zM214.6 400.9a2.2 2.2 0 1 0 4.4 0a2.2 2.2 0 1 0 -4.4 0zM215.8 400.2a2.2 2.2 0 1 0 4.4 0a2.2 2.2 0 1 0 -4.4 0zM216.9 399.6a2.2 2.2 0 1 0 4.4 0a2.2 2.2 0 1 0 -4.4 0zM218 399.1a2.2 2.2 0 1 0 4.4 0a2.2 2.2 0 1 0 -4.4 0zM219.1 399a2.2 2.2 0 1 0 4.4 0a2.2 2.2 0 1 0 -4.4 0zM220.3 398.3a2.2 2.2 0 1 0 4.4 0a2.2 2.2 0 1 0 -4.4 0zM221.4 397.7a2.2 2.2 0 1 0 4.4 0a2.2 2.2 0 1 0 -4.4 0zM222.5 397.2a2.2 2.2 0 1 0 4.4 0a2.2 2.2 0 1 0 -4.4 0zM223.6 396.4a2.2 2.2 0 1 0 4.4 0a2.2 2.2 0 1 0 -4.4 0zM224.8 395.5a2.2 2.2 0 1 0 4.4 0a2.2 2.2 0 1 0 -4.4 0zM225.9 395a2.2 2.2 0 1 0 4.4 0a2.2 2.2 0 1 0 -4.4 0zM227 394.2a2.2 2.2 0 1 0 4.4 0a2.2 2.2 0 1 0 -4.4 0zM228.1 393.9a2.2 2.2 0 1 0 4.4 0a2.2 2.2 0 1 0 -4.4 0zM229.3 392.9a2.2 2.2 0 1 0 4.4 0a2.2 2.2 0 1 0 -4.4 0zM230.4 392.9a2.2 2.2 0 1 0 4.4 0a2.2 2.2 0 1 0 -4.4 0zM231.5 392.3a2.2 2.2 0 1 0 4.4 0a2.2 2.2 0 1 0 -4.4 0zM232.7 391.9a2.2 2.2 0 1 0 4.4 0a2.2 2.2 0 1 0 -4.4 0zM233.8 391.7a2.2 2.2 0 1 0 4.4 0a2.2 2.2 0 1 0 -4.4 0zM234.9 391.9a2.2 2.2 0 1 0 4.4 0a2.2 2.2 0 1 0 -4.4 0zM236 392.2a2.2 2.2 0 1 0 4.4 0a2.2 2.2 0 1 0 -4.4 0zM237.2 390.7a2.2 2.2 0 1 0 4.4 0a2.2 2.2 0 1 0 -4.4 0zM238.3 389.9a2.2 2.2 0 1 0 4.4 0a2.2 2.2 0 1 0 -4.4 0zM239.4 388.9a2.2 2.2 0 1 0 4.4 0a2.2 2.2 0 1 0 -4.4 0zM240.5 388.8a2.2 2.2 0 1 0 4.4 0a2.2 2.2 0 1 0 -4.4 0zM241.7 387.5a2.2 2.2 0 1 0 4.4 0a2.2 2.2 0 1 0 -4.4 0zM242.8 386.9a2.2 2.2 0 1 0 4.4 0a2.2 2.2 0 1 0 -4.4 0zM243.9 386.8a2.2 2.2 0 1 0 4.4 0a2.2 2.2 0 1 0 -4.4 0zM245.1 386.7a2.2 2.2 0 1 0 4.4 0a2.2 2.2 0 1 0 -4.4 0zM246.2 386a2.2 2.2 0 1 0 4.4 0a2.2 2.2 0 1 0 -4.4 0zM247.3 384.7a2.2 2.2 0 1 0 4.4 0a2.2 2.2 0 1 0 -4.4 0zM248.4 383.8a2.2 2.2 0 1 0 4.4 0a2.2 2.2 0 1 0 -4.4 0zM249.6 383.7a2.2 2.2 0 1 0 4.4 0a2.2 2.2 0 1 0 -4.4 0zM250.7 384.1a2.2 2.2 0 1 0 4.4 0a2.2 2.2 0 1 0 -4.4 0zM251.8 383.4a2.2 2.2 0 1 0 4.4 0a2.2 2.2 0 1 0 -4.4 0zM252.9 382.6a2.2 2.2 0 1 0 4.4 0a2.2 2.2 0 1 0 -4.4 0zM254.1 381.3a2.2 2.2 0 1 0 4.4 0a2.2 2.2 0 1 0 -4.4 0zM255.2 380.8a2.2 2.2 0 1 0 4.4 0a2.2 2.2 0 1 0 -4.4 0zM256.3 380.5a2.2 2.2 0 1 0 4.4 0a2.2 2.2 0 1 0 -4.4 0zM257.4 380.3a2.2 2.2 0 1 0 4.4 0a2.2 2.2 0 1 0 -4.4 0zM258.6 379.4a2.2 2.2 0 1 0 4.4 0a2.2 2.2 0 1 0 -4.4 0zM259.7 378.3a2.2 2.2 0 1 0 4.4 0a2.2 2.2 0 1 0 -4.4 0zM260.8 378a2.2 2.2 0 1 0 4.4 0a2.2 2.2 0 1 0 -4.4 0zM262 378a2.2 2.2 0 1 0 4.4 0a2.2 2.2 0 1 0 -4.4 0zM263.1 378a2.2 2.2 0 1 0 4.4 0a2.2 2.2 0 1 0 -4.4 0zM264.2 376.8a2.2 2.2 0 1 0 4.4 0a2.2 2.2 0 1 0 -4.4 0zM265.3 375.9a2.2 2.2 0 1 0 4.4 0a2.2 2.2 0 1 0 -4.4 0zM266.5 375.4a2.2 2.2 0 1 0 4.4 0a2.2 2.2 0 1 0 -4.4 0zM267.6 374.9a2.2 2.2 0 1 0 4.4 0a2.2 2.2 0 1 0 -4.4 0zM268.7 374.1a2.2 2.2 0 1 0 4.4 0a2.2 2.2 0 1 0 -4.4 0zM269.8 373.4a2.2 2.2 0 1 0 4.4 0a2.2 2.2 0 1 0 -4.4 0zM271 373.4a2.2 2.2 0 1 0 4.4 0a2.2 2.2 0 1 0 -4.4 0zM272.1 372.7a2.2 2.2 0 1 0 4.4 0a2.2 2.2 0 1 0 -4.4 0zM273.2 372.4a2.2 2.2 0 1 0 4.4 0a2.2 2.2 0 1 0 -4.4 0zM274.4 371.4a2.2 2.2 0 1 0 4.4 0a2.2 2.2 0 1 0 -4.4 0zM275.5 370.2a2.2 2.2 0 1 0 4.4 0a2.2 2.2 0 1 0 -4.4 0zM276.6 368.2a2.2 2.2 0 1 0 4.4 0a2.2 2.2 0 1 0 -4.4 0zM277.7 365.2a2.2 2.2 0 1 0 4.4 0a2.2 2.2 0 1 0 -4.4 0zM278.9 362.7a2.2 2.2 0 1 0 4.4 0a2.2 2.2 0 1 0 -4.4 0zM280 359.7a2.2 2.2 0 1 0 4.4 0a2.2 2.2 0 1 0 -4.4 0zM281.1 355.4a2.2 2.2 0 1 0 4.4 0a2.2 2.2 0 1 0 -4.4 0zM282.2 350.2a2.2 2.2 0 1 0 4.4 0a2.2 2.2 0 1 0 -4.4 0zM283.4 344.8a2.2 2.2 0 1 0 4.4 0a2.2 2.2 0 1 0 -4.4 0z"/>
<path fill="#ff00ff" d="M46.8 435.5h4.2v4.2h-4.2zM47.9 432.2h4.2v4.2h-4.2zM49.1 430.1h4.2v4.2h-4.2zM50.2 428.5h4.2v4.2h-4.2zM51.3 427.4h4.2v4.2h-4.2zM52.4 426h4.2v4.2h-4.2zM53.6 425.7h4.2v4.2h-4.2zM54.7 424.9h4.2v4.2h-4.2zM55.8 424.1h4.2v4.2h-4.2zM56.9 423.3h4.2v4.2h-4.2zM58.1 423.1h4.2v4.2h-4.2zM59.2 423.3h4.2v4.2h-4.2zM60.3 423h4.2v4.2h-4.2zM61.5 421.8h4.2v4.2h-4.2zM62.6 421.9h4.2v4.2h-4.2zM63.7 422.1h4.2v4.2h-4.2zM64.8 422.3h4.2v4.2h-4.2zM66 420.7h4.2v4.2h-4.2zM67.1 419.8h4.2v4.2h-4.2zM68.2 419.4h4.2v4.2h-4.2zM69.3 419.1h4.2v4.2h-4.2zM70.5 419.6h4.2v4.2h-4.2zM71.6 419.2h4.2v4.2h-4.2zM72.7 419.4h4.2v4.2h-4.2zM73.8 418.2h4.2v4.2h-4.2zM75 417.6h4.2v4.2h-4.2zM76.1 416.9h4.2v4.2h-4.2zM77.2 417.2h4.2v4.2h-4.2zM78.4 417.1h4.2v4.2h-4.2zM79.5 417.1h4.2v4.2h-4.2zM80.6 416.8h4.2v4.2h-4.2zM81.7 416.8h4.2v4.2h-4.2zM82.9 417.2h4.2v4.2h-4.2zM84 416.8h4.2v4.2h-4.2zM85.1 416.2h4.2v4.2h-4.2zM86.2 415.4h4.2v4.2h-4.2zM87.4 415.8h4.2v4.2h-4.2zM88.5 415.8h4.2v4.2h-4.2zM89.6 415.6h4.2v4.2h-4.2zM90.8 414.8h4.2v4.2h-4.2zM91.9 415h4.2v4.2h-4.2zM93 414.9h4.2v4.2h-4.2zM94.1 414.6h4.2v4.2h-4.2zM95.3 414.2h4.2v4.2h-4.2zM96.4 414.3h4.2v4.2h-4.2zM97.5 414.8h4.2v4.2h-4.2zM98.6 415.1h4.2v4.2h-4.2zM99.8 414.9h4.2v4.2h-4.2zM100.9 414.3h4.2v4.2h-4.2zM102 413.7h4.2v4.2h-4.2zM103.2 413.7h4.2v4.2h-4.2zM104.3 413.3h4.2v4.2h-4.2zM105.4 413.3h4.2v4.2h-4.2zM106.5 412.2h4.2v4.2h-4.2zM107.7 412.4h4.2v4.2h-4.2zM108.8 412.1h4.2v4.2h-4.2zM109.9 412.2h4.2v4.2h-4.2zM111 412.5h4.2v4.2h-4.2zM112.2 412.4h4.2v4.2h-4.2zM113.3 412.6h4.2v4.2h-4.2zM114.4 412.2h4.2v4.2h-4.2zM115.5 412.1h4.2v4.2h-4.2zM116.7 412.7h4.2v4.2h-4.2zM117.8 412.5h4.2v4.2h-4.2zM118.9 412.8h4.2v4.2h-4.2zM120.1 411.8h4.2v4.2h-4.2zM121.2 411.7h4.2v4.2h-4.2zM122.3 411.4h4.2v4.2h-4.2zM123.4 411.7h4.2v4.2h-4.2zM124.6 411.6h4.2v4.2h-4.2zM125.7 411.7h4.2v4.2h-4.2zM126.8 412.2h4.2v4.2h-4.2zM127.9 412.3h4.2v4.2h-4.2zM129.1 412.1h4.2v4.2h-4.2zM130.2 411.4h4.2v4.2h-4.2zM131.3 412.2h4.2v4.2h-4.2zM132.5 412.7h4.2v4.2h-4.2zM133.6 413h4.2v4.2h-4.2zM134.7 412.2h4.2v4.2h-4.2zM135.8 411.3h4.2v4.2h-4.2zM137 411h4.2v4.2h-4.2zM138.1 410.7h4.2v4.2h-4.2zM139.2 410.9h4.2v4.2h-4.2zM140.3 410.5h4.2v4.2h-4.2zM141.5 410.1h4.2v4.2h-4.2zM142.6 410.1h4.2v4.2h-4.2zM143.7 410.5h4.2v4.2h-4.2zM144.8 409.9h4.2v4.2h-4.2zM146 409.6h4.2v4.2h-4.2zM147.1 409.9h4.2v4.2h-4.2zM148.2 410.3h4.2v4.2h-4.2zM149.4 410.2h4.2v4.2h-4.2zM150.5 409.2h4.2v4.2h-4.2zM151.6 409.6h4.2v4.2h-4.2zM152.7 409h4.2v4.2h-4.2zM153.9 409h4.2v4.2h-4.2zM155 408.5h4.2v4.2h-4.2zM156.1 409.6h4.2v4.2h-4.2zM157.2 409.7h4.2v4.2h-4.2zM158.4 409.2h4.2v4.2h-4.2zM159.5 408.5h4.2v4.2h-4.2zM160.6 408.6h4.2v4.2h-4.2zM161.8 409.5h4.2v4.2h-4.2zM162.9 408.8h4.2v4.2h-4.2zM164 408.1h4.2v4.2h-4.2zM165.1 407.2h4.2v4.2h-4.2zM166.3 407.7h4.2v4.2h-4.2zM167.4 408.3h4.2v4.2h-4.2zM168.5 408.6h4.2v4.2h-4.2zM169.6 407.8h4.2v4.2h-4.2zM170.8 407.3h4.2v4.2h-4.2zM171.9 406.7h4.2v4.2h-4.2zM173 407.4h4.2v4.2h-4.2zM174.2 407.7h4.2v4.2h-4.2zM175.3 407.5h4.2v4.2h-4.2zM176.4 406.7h4.2v4.2h-4.2zM177.5 406.7h4.2v4.2h-4.2zM178.7 407h4.2v4.2h-4.2zM179.8 408.1h4.2v4.2h-4.2zM180.9 407.6h4.2v4.2h-4.2zM182 407.6h4.2v4.2h-4.2zM183.2 406.1h4.2v4.2h-4.2zM184.3 405.8h4.2v4.2h-4.2zM185.4 404.8h4.2v4.2h-4.2zM186.5 404.8h4.2v4.2h-4.2zM187.7 404.5h4.2v4.2h-4.2zM188.8 404.4h4.2v4.2h-4.2zM189.9 404.3h4.2v4.2h-4.2zM191.1 404.2h4.2v4.2h-4.2zM192.2 404.5h4.2v4.2h-4.2zM193.3 404.2h4.2v4.2h-4.2zM194.4 404.2h4.2v4.2h-4.2zM195.6 404.2h4.2v4.2h-4.2zM196.7 404.2h4.2v4.2h-4.2zM197.8 404h4.2v4.2h-4.2zM198.9 403.2h4.2v4.2h-4.2zM200.1 402.9h4.2v4.2h-4.2zM201.2 402.8h4.2v4.2h-4.2zM202.3 402.3h4.2v4.2h-4.2zM203.5 402.5h4.2v4.2h-4.2zM204.6 402.6h4.2v4.2h-4.2zM205.7 403h4.2v4.2h-4.2zM206.8 402.2h4.2v4.2h-4.2zM208 400.8h4.2v4.2h-4.2zM209.1 400h4.2v4.2h-4.2zM210.2 399.9h4.2v4.2h-4.2zM211.3 400.4h4.2v4.2h-4.2zM212.5 400.2h4.2v4.2h-4.2zM213.6 399.7h4.2v4.2h-4.2zM214.7 399.6h4.2v4.2h-4.2zM215.9 399h4.2v4.2h-4.2zM217 399h4.2v4.2h-4.2zM218.1 398.4h4.2v4.2h-4.2zM219.2 397.7h4.2v4.2h-4.2zM220.4 396.9h4.2v4.2h-4.2zM221.5 395.9h4.2v4.2h-4.2zM222.6 395.5h4.2v4.2h-4.2zM223.7 394.3h4.2v4.2h-4.2zM224.9 393.4h4.2v4.2h-4.2zM226 393.3h4.2v4.2h-4.2zM227.1 393.3h4.2v4.2h-4.2zM228.2 393.4h4.2v4.2h-4.2zM229.4 392.3h4.2v4.2h-4.2zM230.5 391.8h4.2v4.2h-4.2zM231.6 391h4.2v4.2h-4.2zM232.8 390.3h4.2v4.2h-4.2zM233.9 389.2h4.2v4.2h-4.2zM235 388.9h4.2v4.2h-4.2zM236.1 388.9h4.2v4.2h-4.2zM237.3 388.6h4.2v4.2h-4.2zM238.4 387.9h4.2v4.2h-4.2zM239.5 387.5h4.2v4.2h-4.2zM240.6 387.9h4.2v4.2h-4.2zM241.8 387h4.2v4.2h-4.2zM242.9 386.5h4.2v4.2h-4.2zM244 386h4.2v4.2h-4.2zM245.2 385.8h4.2v4.2h-4.2zM246.3 385.6h4.2v4.2h-4.2zM247.4 383.5h4.2v4.2h-4.2zM248.5 383.5h4.2v4.2h-4.2zM249.7 382.5h4.2v4.2h-4.2zM250.8 382.2h4.2v4.2h-4.2zM251.9 381.5h4.2v4.2h-4.2zM253 381.3h4.2v4.2h-4.2zM254.2 381.9h4.2v4.2h-4.2zM255.3 381.6h4.2v4.2h-4.2zM256.4 380.7h4.2v4.2h-4.2zM257.5 379.5h4.2v4.2h-4.2zM258.7 378.3h4.2v4.2h-4.2zM259.8 377.8h4.2v4.2h-4.2zM260.9 377.5h4.2v4.2h-4.2zM262.1 376.9h4.2v4.2h-4.2zM263.2 376.3h4.2v4.2h-4.2zM264.3 375.9h4.2v4.2h-4.2zM265.4 375.7h4.2v4.2h-4.2zM266.6 376.1h4.2v4.2h-4.2zM267.7 376.2h4.2v4.2h-4.2zM268.8 375.3h4.2v4.2h-4.2zM269.9 374h4.2v4.2h-4.2zM271.1 372.5h4.2v4.2h-4.2zM272.2 372.1h4.2v4.2h-4.2zM273.3 372h4.2v4.2h-4.2zM274.5 371.5h4.2v4.2h-4.2zM275.6 370.7h4.2v4.2h-4.2zM276.7 369.4h4.2v4.2h-4.2zM277.8 368.9h4.2v4.2h-4.2zM279 367.9h4.2v4.2h-4.2zM280.1 366.4h4.2v4.2h-4.2zM281.2 364.9h4.2v4.2h-4.2zM282.3 362.7h4.2v4.2h-4.2zM283.5 356.5h4.2v4.2h-4.2z"/>
<path fill="#ffff00" d="M48.9 445.6l2.4 4.8h-4.8zM50 440.6l2.4 4.8h-4.8zM51.2 435.4l2.4 4.8h-4.8zM52.3 433.7l2.4 4.8h-4.8zM53.4 431.4l2.4 4.8h-4.8zM54.5 430.1l2.4 4.8h-4.8zM55.7 428l2.4 4.8h-4.8zM56.8 426.8l2.4 4.8h-4.8zM57.9 426.2l2.4 4.8h-4.8zM59 425.7l2.4 4.8h-4.8zM60.2 425.4l2.4 4.8h-4.8zM61.3 424.3l2.4 4.8h-4.8zM62.4 424l2.4 4.8h-4.8zM63.6 423.3l2.4 4.8h-4.8zM64.7 422.7l2.4 4.8h-4.8zM65.8 422.4l2.4 4.8h-4.8zM66.9 421.5l2.4 4.8h-4.8zM68.1 420.9l2.4 4.8h-4.8zM69.2 420.2l2.4 4.8h-4.8zM70.3 420.2l2.4 4.8h-4.8zM71.4 421.2l2.4 4.8h-4.8zM72.6 420.9l2.4 4.8h-4.8zM73.7 421.3l2.4 4.8h-4.8zM74.8 421.2l2.4 4.8h-4.8zM75.9 421.6l2.4 4.8h-4.8zM77.1 421.3l2.4 4.8h-4.8zM78.2 420.6l2.4 4.8h-4.8zM79.3 419.7l2.4 4.8h-4.8zM80.5 419.2l2.4 4.8h-4.8zM81.6 419.2l2.4 4.8h-4.8zM82.7 419.3l2.4 4.8h-4.8zM83.8 418.8l2.4 4.8h-4.8zM85 417.6l2.4 4.8h-4.8zM86.1 417.6l2.4 4.8h-4.8zM87.2 417.6l2.4 4.8h-4.8zM88.3 417.5l2.4 4.8h-4.8zM89.5 417.1l2.4 4.8h-4.8zM90.6 417l2.4 4.8h-4.8zM91.7 417.3l2.4 4.8h-4.8zM92.9 417.4l2.4 4.8h-4.8zM94 417.3l2.4 4.8h-4.8zM95.1 416.6l2.4 4.8h-4.8zM96.2 416l2.4 4.8h-4.8zM97.4 415.7l2.4 4.8h-4.8zM98.5 416.5l2.4 4.8h-4.8zM99.6 417l2.4 4.8h-4.8zM100.7 415.9l2.4 4.8h-4.8zM101.9 415.4l2.4 4.8h-4.8zM103 415l2.4 4.8h-4.8zM104.1 416l2.4 4.8h-4.8zM105.2 416.6l2.4 4.8h-4.8zM106.4 415.8l2.4 4.8h-4.8zM107.5 415l2.4 4.8h-4.8zM108.6 413.8l2.4 4.8h-4.8zM109.8 414.4l2.4 4.8h-4.8zM110.9 413.9l2.4 4.8h-4.8zM112 414.6l2.4 4.8h-4.8zM113.1 414.5l2.4 4.8h-4.8zM114.3 415.1l2.4 4.8h-4.8zM115.4 413.7l2.4 4.8h-4.8zM116.5 412.9l2.4 4.8h-4.8zM117.6 412.9l2.4 4.8h-4.8zM118.8 413.1l2.4 4.8h-4.8zM119.9 413.1l2.4 4.8h-4.8zM121 412.7l2.4 4.8h-4.8zM122.2 413.5l2.4 4.8h-4.8zM123.3 413.5l2.4 4.8h-4.8zM124.4 413.6l2.4 4.8h-4.8zM125.5 412.9l2.4 4.8h-4.8zM126.7 412.7l2.4 4.8h-4.8zM127.8 412.4l2.4 4.8h-4.8zM128.9 412.8l2.4 4.8h-4.8zM130 412.6l2.4 4.8h-4.8zM131.2 412.9l2.4 4.8h-4.8zM132.3 411.8l2.4 4.8h-4.8zM133.4 412.3l2.4 4.8h-4.8zM134.6 411.7l2.4 4.8h-4.8zM135.7 412.6l2.4 4.8h-4.8zM136.8 412.1l2.4 4.8h-4.8zM137.9 412.3l2.4 4.8h-4.8zM139.1 412.4l2.4 4.8h-4.8zM140.2 412l2.4 4.8h-4.8zM141.3 411.6l2.4 4.8h-4.8zM142.4 410.8l2.4 4.8h-4.8zM143.6 411l2.4 4.8h-4.8zM144.7 410.2l2.4 4.8h-4.8zM145.8 410.1l2.4 4.8h-4.8zM146.9 409.8l2.4 4.8h-4.8zM148.1 410l2.4 4.8h-4.8zM149.2 409.9l2.4 4.8h-4.8zM150.3 409.2l2.4 4.8h-4.8zM151.5 410l2.4 4.8h-4.8zM152.6 410.1l2.4 4.8h-4.8zM153.7 411.3l2.4 4.8h-4.8zM154.8 410.3l2.4 4.8h-4.8zM156 409.5l2.4 4.8h-4.8zM157.1 408.8l2.4 4.8h-4.8zM158.2 408.3l2.4 4.8h-4.8zM159.3 408.7l2.4 4.8h-4.8zM160.5 408.2l2.4 4.8h-4.8zM161.6 408.6l2.4 4.8h-4.8zM162.7 408.5l2.4 4.8h-4.8zM163.9 408.6l2.4 4.8h-4.8zM165 409.3l2.4 4.8h-4.8zM166.1 409.3l2.4 4.8h-4.8zM167.2 408.7l2.4 4.8h-4.8zM168.4 408.2l2.4 4.8h-4.8zM169.5 407.3l2.4 4.8h-4.8zM170.6 407.7l2.4 4.8h-4.8zM171.7 406.7l2.4 4.8h-4.8zM172.9 406.7l2.4 4.8h-4.8zM174 407l2.4 4.8h-4.8zM175.1 407.1l2.4 4.8h-4.8zM176.3 407l2.4 4.8h-4.8zM177.4 406.1l2.4 4.8h-4.8zM178.5 406l2.4 4.8h-4.8zM179.6 406.6l2.4 4.8h-4.8zM180.8 406.2l2.4 4.8h-4.8zM181.9 405.7l2.4 4.8h-4.8zM183 405.1l2.4 4.8h-4.8zM184.1 404.8l2.4 4.8h-4.8zM185.3 404.9l2.4 4.8h-4.8zM186.4 404.9l2.4 4.8h-4.8zM187.5 405.3l2.4 4.8h-4.8zM188.6 405l2.4 4.8h-4.8zM189.8 404.1l2.4 4.8h-4.8zM190.9 403.5l2.4 4.8h-4.8zM192 403.2l2.4 4.8h-4.8zM193.2 403.3l2.4 4.8h-4.8zM194.3 403.9l2.4 4.8h-4.8zM195.4 404.3l2.4 4.8h-4.8zM196.5 403.8l2.4 4.8h-4.8zM197.7 402.7l2.4 4.8h-4.8zM198.8 402.4l2.4 4.8h-4.8zM199.9 401.6l2.4 4.8h-4.8zM201 401.5l2.4 4.8h-4.8zM202.2 400.8l2.4 4.8h-4.8zM203.3 400.8l2.4 4.8h-4.8zM204.4 400.4l2.4 4.8h-4.8zM205.6 400.3l2.4 4.8h-4.8zM206.7 399.8l2.4 4.8h-4.8zM207.8 399.6l2.4 4.8h-4.8zM208.9 398.9l2.4 4.8h-4.8zM210.1 399.2l2.4 4.8h-4.8zM211.2 398.7l2.4 4.8h-4.8zM212.3 399l2.4 4.8h-4.8zM213.4 398.5l2.4 4.8h-4.8zM214.6 398.6l2.4 4.8h-4.8zM215.7 397.6l2.4 4.8h-4.8zM216.8 397.1l2.4 4.8h-4.8zM218 396.4l2.4 4.8h-4.8zM219.1 396.5l2.4 4.8h-4.8zM220.2 396.3l2.4 4.8h-4.8zM221.3 396.2l2.4 4.8h-4.8zM222.5 395.6l2.4 4.8h-4.8zM223.6 394.7l2.4 4.8h-4.8zM224.7 394.4l2.4 4.8h-4.8zM225.8 393.5l2.4 4.8h-4.8zM227 392.9l2.4 4.8h-4.8zM228.1 392.4l2.4 4.8h-4.8zM229.2 391.3l2.4 4.8h-4.8zM230.3 391.3l2.4 4.8h-4.8zM231.5 390.1l2.4 4.8h-4.8zM232.6 390.3l2.4 4.8h-4.8zM233.7 390l2.4 4.8h-4.8zM234.9 390l2.4 4.8h-4.8zM236 389.1l2.4 4.8h-4.8zM237.1 387.9l2.4 4.8h-4.8zM238.2 387l2.4 4.8h-4.8zM239.4 386.2l2.4 4.8h-4.8zM240.5 385.2l2.4 4.8h-4.8zM241.6 384.8l2.4 4.8h-4.8zM242.7 384.9l2.4 4.8h-4.8zM243.9 384.1l2.4 4.8h-4.8zM245 383.5l2.4 4.8h-4.8zM246.1 382.9l2.4 4.8h-4.8zM247.3 383.1l2.4 4.8h-4.8zM248.4 382.3l2.4 4.8h-4.8zM249.5 382l2.4 4.8h-4.8zM250.6 380.9l2.4 4.8h-4.8zM251.8 381.1l2.4 4.8h-4.8zM252.9 380.8l2.4 4.8h-4.8zM254 380l2.4 4.8h-4.8zM255.1 379.3l2.4 4.8h-4.8zM256.3 378.3l2.4 4.8h-4.8zM257.4 378.7l2.4 4.8h-4.8zM258.5 377.8l2.4 4.8h-4.8zM259.6 377l2.4 4.8h-4.8zM260.8 375.9l2.4 4.8h-4.8zM261.9 375.7l2.4 4.8h-4.8zM263 375.4l2.4 4.8h-4.8zM264.2 375.1l2.4 4.8h-4.8zM265.3 374.1l2.4 4.8h-4.8zM266.4 373.2l2.4 4.8h-4.8zM267.5 372.8l2.4 4.8h-4.8zM268.7 372.7l2.4 4.8h-4.8zM269.8 372.3l2.4 4.8h-4.8zM270.9 371.9l2.4 4.8h-4.8zM272 370.9l2.4 4.8h-4.8zM273.2 369.3l2.4 4.8h-4.8zM274.3 368.9l2.4 4.8h-4.8zM275.4 369.2l2.4 4.8h-4.8zM276.6 368.8l2.4 4.8h-4.8zM277.7 367.2l2.4 4.8h-4.8zM278.8 365.4l2.4 4.8h-4.8zM279.9 364.8l2.4 4.8h-4.8zM281.1 363.6l2.4 4.8h-4.8zM282.2 362.2l2.4 4.8h-4.8zM283.3 359.9l2.4 4.8h-4.8zM284.4 357.1l2.4 4.8h-4.8zM285.6 351.1l2.4 4.8h-4.8z"/>
<path fill="none" stroke="#00ffff" stroke-width="1.5" d="M46.6 441.7l4.6 4.6m0 -4.6l-4.6 4.6M47.7 437.1l4.6 4.6m0 -4.6l-4.6 4.6M48.9 432.4l4.6 4.6m0 -4.6l-4.6 4.6M50 430.3l4.6 4.6m0 -4.6l-4.6 4.6M51.1 428.8l4.6 4.6m0 -4.6l-4.6 4.6M52.2 428.3l4.6 4.6m0 -4.6l-4.6 4.6M53.4 427.6l4.6 4.6m0 -4.6l-4.6 4.6M54.5 426l4.6 4.6m0 -4.6l-4.6 4.6M55.6 425.8l4.6 4.6m0 -4.6l-4.6 4.6M56.7 425.3l4.6 4.6m0 -4.6l-4.6 4.6M57.9 425.3l4.6 4.6m0 -4.6l-4.6 4.6M59 424.4l4.6 4.6m0 -4.6l-4.6 4.6M60.1 423.8l4.6 4.6m0 -4.6l-4.6 4.6M61.3 423.8l4.6 4.6m0 -4.6l-4.6 4.6M62.4 423.2l4.6 4.6m0 -4.6l-4.6 4.6M63.5 422.2l4.6 4.6m0 -4.6l-4.6 4.6M64.6 421.3l4.6 4.6m0 -4.6l-4.6 4.6M65.8 421.2l4.6 4.6m0 -4.6l-4.6 4.6M66.9 421.5l4.6 4.6m0 -4.6l-4.6 4.6M68 421.1l4.6 4.6m0 -4.6l-4.6 4.6M69.1 420.6l4.6 4.6m0 -4.6l-4.6 4.6M70.3 420.1l4.6 4.6m0 -4.6l-4.6 4.6M71.4 420.1l4.6 4.6m0 -4.6l-4.6 4.6M72.5 419.1l4.6 4.6m0 -4.6l-4.6 4.6M73.6 418.5l4.6 4.6m0 -4.6l-4.6 4.6M74.8 418.3l4.6 4.6m0 -4.6l-4.6 4.6M75.9 418.5l4.6 4.6m0 -4.6l-4.6 4.6M77 418.6l4.6 4.6m0 -4.6l-4.6 4.6M78.2 418.8l4.6 4.6m0 -4.6l-4.6 4.6M79.3 418.5l4.6 4.6m0 -4.6l-4.6 4.6M80.4 418.2l4.6 4.6m0 -4.6l-4.6 4.6M81.5 417.2l4.6 4.6m0 -4.6l-4.6 4.6M82.7 416.8l4.6 4.6m0 -4.6l-4.6 4.6M83.8 416.5l4.6 4.6m0 -4.6l-4.6 4.6M84.9 416l4.6 4.6m0 -4.6l-4.6 4.6M86 415.3l4.6 4.6m0 -4.6l-4.6 4.6M87.2 415.6l4.6 4.6m0 -4.6l-4.6 4.6M88.3 415.8l4.6 4.6m0 -4.6l-4.6 4.6M89.4 416.6l4.6 4.6m0 -4.6l-4.6 4.6M90.6 416l4.6 4.6m0 -4.6l-4.6 4.6M91.7 415.9l4.6 4.6m0 -4.6l-4.6 4.6M92.8 415.6l4.6 4.6m0 -4.6l-4.6 4.6M93.9 415.6l4.6 4.6m0 -4.6l-4.6 4.6M95.1 415l4.6 4.6m0 -4.6l-4.6 4.6M96.2 415l4.6 4.6m0 -4.6l-4.6 4.6M97.3 414.3l4.6 4.6m0 -4.6l-4.6 4.6M98.4 414.6l4.6 4.6m0 -4.6l-4.6 4.6M99.6 414.9l4.6 4.6m0 -4.6l-4.6 4.6M100.7 415l4.6 4.6m0 -4.6l-4.6 4.6M101.8 415.4l4.6 4.6m0 -4.6l-4.6 4.6M103 414.3l4.6 4.6m0 -4.6l-4.6 4.6M104.1 414.3l4.6 4.6m0 -4.6l-4.6 4.6M105.2 413.7l4.6 4.6m0 -4.6l-4.6 4.6M106.3 413.8l4.6 4.6m0 -4.6l-4.6 4.6M107.5 413.2l4.6 4.6m0 -4.6l-4.6 4.6M108.6 412.8l4.6 4.6m0 -4.6l-4.6 4.6M109.7 412.6l4.6 4.6m0 -4.6l-4.6 4.6M110.8 412.3l4.6 4.6m0 -4.6l-4.6 4.6M112 412.2l4.6 4.6m0 -4.6l-4.6 4.6M113.1 412.2l4.6 4.6m0 -4.6l-4.6 4.6M114.2 412.4l4.6 4.6m0 -4.6l-4.6 4.6M115.3 412.3l4.6 4.6m0 -4.6l-4.6 4.6M116.5 411.6l4.6 4.6m0 -4.6l-4.6 4.6M117.6 411.7l4.6 4.6m0 -4.6l-4.6 4.6M118.7 411.8l4.6 4.6m0 -4.6l-4.6 4.6M119.9 412.1l4.6 4.6m0 -4.6l-4.6 4.6M121 411.9l4.6 4.6m0 -4.6l-4.6 4.6M122.1 412.5l4.6 4.6m0 -4.6l-4.6 4.6M123.2 412.2l4.6 4.6m0 -4.6l-4.6 4.6M124.4 411.5l4.6 4.6m0 -4.6l-4.6 4.6M125.5 410.9l4.6 4.6m0 -4.6l-4.6 4.6M126.6 410.9l4.6 4.6m0 -4.6l-4.6 4.6M127.7 411.5l4.6 4.6m0 -4.6l-4.6 4.6M128.9 410.8l4.6 4.6m0 -4.6l-4.6 4.6M130 411.1l4.6 4.6m0 -4.6l-4.6 4.6M131.1 410.9l4.6 4.6m0 -4.6l-4.6 4.6M132.3 411.3l4.6 4.6m0 -4.6l-4.6 4.6M133.4 410.3l4.6 4.6m0 -4.6l-4.6 4.6M134.5 410.3l4.6 4.6m0 -4.6l-4.6 4.6M135.6 410.2l4.6 4.6m0 -4.6l-4.6 4.6M136.8 411l4.6 4.6m0 -4.6l-4.6 4.6M137.9 410.6l4.6 4.6m0 -4.6l-4.6 4.6M139 410.1l4.6 4.6m0 -4.6l-4.6 4.6M140.1 409.6l4.6 4.6m0 -4.6l-4.6 4.6M141.3 409.4l4.6 4.6m0 -4.6l-4.6 4.6M142.4 409.8l4.6 4.6m0 -4.6l-4.6 4.6M143.5 409.3l4.6 4.6m0 -4.6l-4.6 4.6M144.6 409.4l4.6 4.6m0 -4.6l-4.6 4.6M145.8 409.1l4.6 4.6m0 -4.6l-4.6 4.6M146.9 409.3l4.6 4.6m0 -4.6l-4.6 4.6M148 409l4.6 4.6m0 -4.6l-4.6 4.6M149.2 408.7l4.6 4.6m0 -4.6l-4.6 4.6M150.3 408.6l4.6 4.6m0 -4.6l-4.6 4.6M151.4 408.5l4.6 4.6m0 -4.6l-4.6 4.6M152.5 408.7l4.6 4.6m0 -4.6l-4.6 4.6M153.7 408.5l4.6 4.6m0 -4.6l-4.6 4.6M154.8 407.8l4.6 4.6m0 -4.6l-4.6 4.6M155.9 407.6l4.6 4.6m0 -4.6l-4.6 4.6M157 408l4.6 4.6m0 -4.6l-4.6 4.6M158.2 408.7l4.6 4.6m0 -4.6l-4.6 4.6M159.3 408.8l4.6 4.6m0 -4.6l-4.6 4.6M160.4 408.3l4.6 4.6m0 -4.6l-4.6 4.6M161.6 408l4.6 4.6m0 -4.6l-4.6 4.6M162.7 407.2l4.6 4.6m0 -4.6l-4.6 4.6M163.8 407.2l4.6 4.6m0 -4.6l-4.6 4.6M164.9 407.5l4.6 4.6m0 -4.6l-4.6 4.6M166.1 408l4.6 4.6m0 -4.6l-4.6 4.6M167.2 407.7l4.6 4.6m0 -4.6l-4.6 4.6M168.3 407.3l4.6 4.6m0 -4.6l-4.6 4.6M169.4 407l4.6 4.6m0 -4.6l-4.6 4.6M170.6 406.8l4.6 4.6m0 -4.6l-4.6 4.6M171.7 406.5l4.6 4.6m0 -4.6l-4.6 4.6M172.8 406.5l4.6 4.6m0 -4.6l-4.6 4.6M174 405.9l4.6 4.6m0 -4.6l-4.6 4.6M175.1 405.5l4.6 4.6m0 -4.6l-4.6 4.6M176.2 405.4l4.6 4.6m0 -4.6l-4.6 4.6M177.3 405.4l4.6 4.6m0 -4.6l-4.6 4.6M178.5 404.7l4.6 4.6m0 -4.6l-4.6 4.6M179.6 404.3l4.6 4.6m0 -4.6l-4.6 4.6M180.7 403.5l4.6 4.6m0 -4.6l-4.6 4.6M181.8 404.7l4.6 4.6m0 -4.6l-4.6 4.6M183 404.7l4.6 4.6m0 -4.6l-4.6 4.6M184.1 405.4l4.6 4.6m0 -4.6l-4.6 4.6M185.2 404.4l4.6 4.6m0 -4.6l-4.6 4.6M186.3 403.6l4.6 4.6m0 -4.6l-4.6 4.6M187.5 403.1l4.6 4.6m0 -4.6l-4.6 4.6M188.6 403l4.6 4.6m0 -4.6l-4.6 4.6M189.7 402.9l4.6 4.6m0 -4.6l-4.6 4.6M190.9 402.8l4.6 4.6m0 -4.6l-4.6 4.6M192 402.8l4.6 4.6m0 -4.6l-4.6 4.6M193.1 402.9l4.6 4.6m0 -4.6l-4.6 4.6M194.2 402.3l4.6 4.6m0 -4.6l-4.6 4.6M195.4 401.2l4.6 4.6m0 -4.6l-4.6 4.6M196.5 400.7l4.6 4.6m0 -4.6l-4.6 4.6M197.6 400.6l4.6 4.6m0 -4.6l-4.6 4.6M198.7 401.1l4.6 4.6m0 -4.6l-4.6 4.6M199.9 401.4l4.6 4.6m0 -4.6l-4.6 4.6M201 401.8l4.6 4.6m0 -4.6l-4.6 4.6M202.1 401.5l4.6 4.6m0 -4.6l-4.6 4.6M203.3 401l4.6 4.6m0 -4.6l-4.6 4.6M204.4 400.7l4.6 4.6m0 -4.6l-4.6 4.6M205.5 400.3l4.6 4.6m0 -4.6l-4.6 4.6M206.6 399.7l4.6 4.6m0 -4.6l-4.6 4.6M207.8 399.1l4.6 4.6m0 -4.6l-4.6 4.6M208.9 398.7l4.6 4.6m0 -4.6l-4.6 4.6M210 398.1l4.6 4.6m0 -4.6l-4.6 4.6M211.1 397.3l4.6 4.6m0 -4.6l-4.6 4.6M212.3 396.9l4.6 4.6m0 -4.6l-4.6 4.6M213.4 396.5l4.6 4.6m0 -4.6l-4.6 4.6M214.5 396.5l4.6 4.6m0 -4.6l-4.6 4.6M215.7 396l4.6 4.6m0 -4.6l-4.6 4.6M216.8 396.1l4.6 4.6m0 -4.6l-4.6 4.6M217.9 395.8l4.6 4.6m0 -4.6l-4.6 4.6M219 395l4.6 4.6m0 -4.6l-4.6 4.6M220.2 394.4l4.6 4.6m0 -4.6l-4.6 4.6M221.3 393.3l4.6 4.6m0 -4.6l-4.6 4.6M222.4 393.6l4.6 4.6m0 -4.6l-4.6 4.6M223.5 392.9l4.6 4.6m0 -4.6l-4.6 4.6M224.7 392.4l4.6 4.6m0 -4.6l-4.6 4.6M225.8 391.7l4.6 4.6m0 -4.6l-4.6 4.6M226.9 390.8l4.6 4.6m0 -4.6l-4.6 4.6M228 390.4l4.6 4.6m0 -4.6l-4.6 4.6M229.2 389.7l4.6 4.6m0 -4.6l-4.6 4.6M230.3 389.3l4.6 4.6m0 -4.6l-4.6 4.6M231.4 388.8l4.6 4.6m0 -4.6l-4.6 4.6M232.6 387.8l4.6 4.6m0 -4.6l-4.6 4.6M233.7 387.4l4.6 4.6m0 -4.6l-4.6 4.6M234.8 386.3l4.6 4.6m0 -4.6l-4.6 4.6M235.9 386.2l4.6 4.6m0 -4.6l-4.6 4.6M237.1 385.6l4.6 4.6m0 -4.6l-4.6 4.6M238.2 385.6l4.6 4.6m0 -4.6l-4.6 4.6M239.3 384.7l4.6 4.6m0 -4.6l-4.6 4.6M240.4 384.9l4.6 4.6m0 -4.6l-4.6 4.6M241.6 384.1l4.6 4.6m0 -4.6l-4.6 4.6M242.7 383.7l4.6 4.6m0 -4.6l-4.6 4.6M243.8 382l4.6 4.6m0 -4.6l-4.6 4.6M245 382l4.6 4.6m0 -4.6l-4.6 4.6M246.1 381.3l4.6 4.6m0 -4.6l-4.6 4.6M247.2 381.3l4.6 4.6m0 -4.6l-4.6 4.6M248.3 380.1l4.6 4.6m0 -4.6l-4.6 4.6M249.5 379.9l4.6 4.6m0 -4.6l-4.6 4.6M250.6 378.9l4.6 4.6m0 -4.6l-4.6 4.6M251.7 379l4.6 4.6m0 -4.6l-4.6 4.6M252.8 378.3l4.6 4.6m0 -4.6l-4.6 4.6M254 377.7l4.6 4.6m0 -4.6l-4.6 4.6M255.1 377l4.6 4.6m0 -4.6l-4.6 4.6M256.2 376.2l4.6 4.6m0 -4.6l-4.6 4.6M257.3 375.7l4.6 4.6m0 -4.6l-4.6 4.6M258.5 375.2l4.6 4.6m0 -4.6l-4.6 4.6M259.6 374.5l4.6 4.6m0 -4.6l-4.6 4.6M260.7 374.5l4.6 4.6m0 -4.6l-4.6 4.6M261.9 373.5l4.6 4.6m0 -4.6l-4.6 4.6M263 373.3l4.6 4.6m0 -4.6l-4.6 4.6M264.1 372.5l4.6 4.6m0 -4.6l-4.6 4.6M265.2 372.3l4.6 4.6m0 -4.6l-4.6 4.6M266.4 371.8l4.6 4.6m0 -4.6l-4.6 4.6M267.5 371l4.6 4.6m0 -4.6l-4.6 4.6M268.6 370.5l4.6 4.6m0 -4.6l-4.6 4.6M269.7 370.2l4.6 4.6m0 -4.6l-4.6 4.6M270.9 369.5l4.6 4.6m0 -4.6l-4.6 4.6M272 368.2l4.6 4.6m0 -4.6l-4.6 4.6M273.1 366.7l4.6 4.6m0 -4.6l-4.6 4.6M274.3 365.4l4.6 4.6m0 -4.6l-4.6 4.6M275.4 364.4l4.6 4.6m0 -4.6l-4.6 4.6M276.5 363.2l4.6 4.6m0 -4.6l-4.6 4.6M277.6 361.7l4.6 4.6m0 -4.6l-4.6 4.6M278.8 359.9l4.6 4.6m0 -4.6l-4.6 4.6M279.9 357.6l4.6 4.6m0 -4.6l-4.6 4.6M281 355l4.6 4.6m0 -4.6l-4.6 4.6M282.1 351.6l4.6 4.6m0 -4.6l-4.6 4.6M283.3 347.4l4.6 4.6m0 -4.6l-4.6 4.6"/>
<path fill="#8a74c4" stroke="#8a0a8a" stroke-width="0.8" d="M46.6 436.5h4.6v4.6h-4.6zM47.7 431.1h4.6v4.6h-4.6zM48.9 428.9h4.6v4.6h-4.6zM50 427.1h4.6v4.6h-4.6zM51.1 426.6h4.6v4.6h-4.6zM52.2 425.6h4.6v4.6h-4.6zM53.4 424.9h4.6v4.6h-4.6zM54.5 424.5h4.6v4.6h-4.6zM55.6 424.5h4.6v4.6h-4.6zM56.7 424.7h4.6v4.6h-4.6zM57.9 424h4.6v4.6h-4.6zM59 422.1h4.6v4.6h-4.6zM60.1 421.7h4.6v4.6h-4.6zM61.3 421.6h4.6v4.6h-4.6zM62.4 421.8h4.6v4.6h-4.6zM63.5 420.8h4.6v4.6h-4.6zM64.6 420.2h4.6v4.6h-4.6zM65.8 419.5h4.6v4.6h-4.6zM66.9 419.7h4.6v4.6h-4.6zM68 418.6h4.6v4.6h-4.6zM69.1 418.2h4.6v4.6h-4.6zM70.3 417.5h4.6v4.6h-4.6zM71.4 417h4.6v4.6h-4.6zM72.5 417.1h4.6v4.6h-4.6zM73.6 417h4.6v4.6h-4.6zM74.8 416.8h4.6v4.6h-4.6zM75.9 416.9h4.6v4.6h-4.6zM77 416.1h4.6v4.6h-4.6zM78.2 416.6h4.6v4.6h-4.6zM79.3 416.1h4.6v4.6h-4.6zM80.4 415.8h4.6v4.6h-4.6zM81.5 415.1h4.6v4.6h-4.6zM82.7 414.1h4.6v4.6h-4.6zM83.8 413.8h4.6v4.6h-4.6zM84.9 413.4h4.6v4.6h-4.6zM86 414.5h4.6v4.6h-4.6zM87.2 415h4.6v4.6h-4.6zM88.3 414.5h4.6v4.6h-4.6zM89.4 413.9h4.6v4.6h-4.6zM90.6 413.4h4.6v4.6h-4.6zM91.7 413.6h4.6v4.6h-4.6zM92.8 413.2h4.6v4.6h-4.6zM93.9 413.3h4.6v4.6h-4.6zM95.1 413h4.6v4.6h-4.6zM96.2 412.5h4.6v4.6h-4.6zM97.3 412.1h4.6v4.6h-4.6zM98.4 411.8h4.6v4.6h-4.6zM99.6 411.8h4.6v4.6h-4.6zM100.7 411.6h4.6v4.6h-4.6zM101.8 411.6h4.6v4.6h-4.6zM103 411h4.6v4.6h-4.6zM104.1 411.1h4.6v4.6h-4.6zM105.2 411.6h4.6v4.6h-4.6zM106.3 412h4.6v4.6h-4.6zM107.5 411.4h4.6v4.6h-4.6zM108.6 411.3h4.6v4.6h-4.6zM109.7 411.1h4.6v4.6h-4.6zM110.8 411.6h4.6v4.6h-4.6zM112 411.7h4.6v4.6h-4.6zM113.1 411.2h4.6v4.6h-4.6zM114.2 410.8h4.6v4.6h-4.6zM115.3 410h4.6v4.6h-4.6zM116.5 410h4.6v4.6h-4.6zM117.6 410.8h4.6v4.6h-4.6zM118.7 411.3h4.6v4.6h-4.6zM119.9 410.9h4.6v4.6h-4.6zM121 410.2h4.6v4.6h-4.6zM122.1 409.5h4.6v4.6h-4.6zM123.2 410.6h4.6v4.6h-4.6zM124.4 410.4h4.6v4.6h-4.6zM125.5 410.5h4.6v4.6h-4.6zM126.6 410h4.6v4.6h-4.6zM127.7 410h4.6v4.6h-4.6zM128.9 410h4.6v4.6h-4.6zM130 409.8h4.6v4.6h-4.6zM131.1 409.5h4.6v4.6h-4.6zM132.3 409.6h4.6v4.6h-4.6zM133.4 409.1h4.6v4.6h-4.6zM134.5 409.1h4.6v4.6h-4.6zM135.6 408.8h4.6v4.6h-4.6zM136.8 408.9h4.6v4.6h-4.6zM137.9 409.1h4.6v4.6h-4.6zM139 408.5h4.6v4.6h-4.6zM140.1 408.5h4.6v4.6h-4.6zM141.3 407.8h4.6v4.6h-4.6zM142.4 408.4h4.6v4.6h-4.6zM143.5 408.3h4.6v4.6h-4.6zM144.6 408.5h4.6v4.6h-4.6zM145.8 408.3h4.6v4.6h-4.6zM146.9 407.8h4.6v4.6h-4.6zM148 407.8h4.6v4.6h-4.6zM149.2 407.3h4.6v4.6h-4.6zM150.3 407.7h4.6v4.6h-4.6zM151.4 407.4h4.6v4.6h-4.6zM152.5 407.9h4.6v4.6h-4.6zM153.7 408.2h4.6v4.6h-4.6zM154.8 408.9h4.6v4.6h-4.6zM155.9 408.6h4.6v4.6h-4.6zM157 408h4.6v4.6h-4.6zM158.2 407.1h4.6v4.6h-4.6zM159.3 407.2h4.6v4.6h-4.6zM160.4 407.9h4.6v4.6h-4.6zM161.6 408.2h4.6v4.6h-4.6zM162.7 407.6h4.6v4.6h-4.6zM163.8 407h4.6v4.6h-4.6zM164.9 406.9h4.6v4.6h-4.6zM166.1 407.1h4.6v4.6h-4.6zM167.2 406.6h4.6v4.6h-4.6zM168.3 405.4h4.6v4.6h-4.6zM169.4 405h4.6v4.6h-4.6zM170.6 405.7h4.6v4.6h-4.6zM171.7 406.7h4.6v4.6h-4.6zM172.8 405.9h4.6v4.6h-4.6zM174 405.4h4.6v4.6h-4.6zM175.1 404.4h4.6v4.6h-4.6zM176.2 406h4.6v4.6h-4.6zM177.3 406h4.6v4.6h-4.6zM178.5 406.1h4.6v4.6h-4.6zM179.6 405.5h4.6v4.6h-4.6zM180.7 404.9h4.6v4.6h-4.6zM181.8 405.5h4.6v4.6h-4.6zM183 405h4.6v4.6h-4.6zM184.1 404.7h4.6v4.6h-4.6zM185.2 404.6h4.6v4.6h-4.6zM186.3 403.9h4.6v4.6h-4.6zM187.5 404.7h4.6v4.6h-4.6zM188.6 404.3h4.6v4.6h-4.6zM189.7 404.3h4.6v4.6h-4.6zM190.9 402.8h4.6v4.6h-4.6zM192 403.3h4.6v4.6h-4.6zM193.1 404.1h4.6v4.6h-4.6zM194.2 404.1h4.6v4.6h-4.6zM195.4 403.9h4.6v4.6h-4.6zM196.5 403.2h4.6v4.6h-4.6zM197.6 403.4h4.6v4.6h-4.6zM198.7 402.5h4.6v4.6h-4.6zM199.9 402.2h4.6v4.6h-4.6zM201 402.6h4.6v4.6h-4.6zM202.1 402.5h4.6v4.6h-4.6zM203.3 401.7h4.6v4.6h-4.6zM204.4 401.7h4.6v4.6h-4.6zM205.5 401.8h4.6v4.6h-4.6zM206.6 401.9h4.6v4.6h-4.6zM207.8 400.6h4.6v4.6h-4.6zM208.9 399.7h4.6v4.6h-4.6zM210 399.9h4.6v4.6h-4.6zM211.1 399.9h4.6v4.6h-4.6zM212.3 400.1h4.6v4.6h-4.6zM213.4 399.5h4.6v4.6h-4.6zM214.5 398.6h4.6v4.6h-4.6zM215.7 398.4h4.6v4.6h-4.6zM216.8 398.2h4.6v4.6h-4.6zM217.9 398.9h4.6v4.6h-4.6zM219 397.7h4.6v4.6h-4.6zM220.2 397.6h4.6v4.6h-4.6zM221.3 396.2h4.6v4.6h-4.6zM222.4 395.6h4.6v4.6h-4.6zM223.5 395.3h4.6v4.6h-4.6zM224.7 394.8h4.6v4.6h-4.6zM225.8 394.2h4.6v4.6h-4.6zM226.9 393h4.6v4.6h-4.6zM228 392.8h4.6v4.6h-4.6zM229.2 392.2h4.6v4.6h-4.6zM230.3 392.3h4.6v4.6h-4.6zM231.4 391.6h4.6v4.6h-4.6zM232.6 391.4h4.6v4.6h-4.6zM233.7 390.9h4.6v4.6h-4.6zM234.8 390.7h4.6v4.6h-4.6zM235.9 390.5h4.6v4.6h-4.6zM237.1 389.5h4.6v4.6h-4.6zM238.2 388.9h4.6v4.6h-4.6zM239.3 388.7h4.6v4.6h-4.6zM240.4 387.7h4.6v4.6h-4.6zM241.6 386.4h4.6v4.6h-4.6zM242.7 385.1h4.6v4.6h-4.6zM243.8 384.8h4.6v4.6h-4.6zM245 383.8h4.6v4.6h-4.6zM246.1 383.7h4.6v4.6h-4.6zM247.2 383.4h4.6v4.6h-4.6zM248.3 383.6h4.6v4.6h-4.6zM249.5 383.3h4.6v4.6h-4.6zM250.6 382.6h4.6v4.6h-4.6zM251.7 382h4.6v4.6h-4.6zM252.8 381.1h4.6v4.6h-4.6zM254 380.6h4.6v4.6h-4.6zM255.1 380.1h4.6v4.6h-4.6zM256.2 379.8h4.6v4.6h-4.6zM257.3 379.4h4.6v4.6h-4.6zM258.5 379.5h4.6v4.6h-4.6zM259.6 378.3h4.6v4.6h-4.6zM260.7 377.8h4.6v4.6h-4.6zM261.9 376.1h4.6v4.6h-4.6zM263 375.7h4.6v4.6h-4.6zM264.1 374.8h4.6v4.6h-4.6zM265.2 375.4h4.6v4.6h-4.6zM266.4 375.3h4.6v4.6h-4.6zM267.5 375.5h4.6v4.6h-4.6zM268.6 375.4h4.6v4.6h-4.6zM269.7 375.4h4.6v4.6h-4.6zM270.9 375.2h4.6v4.6h-4.6zM272 373.8h4.6v4.6h-4.6zM273.1 372.2h4.6v4.6h-4.6zM274.3 371.3h4.6v4.6h-4.6zM275.4 370.7h4.6v4.6h-4.6zM276.5 370.1h4.6v4.6h-4.6zM277.6 368.9h4.6v4.6h-4.6zM278.8 367.1h4.6v4.6h-4.6zM279.9 366.7h4.6v4.6h-4.6zM281 364.8h4.6v4.6h-4.6zM282.1 362.8h4.6v4.6h-4.6zM283.3 355.8h4.6v4.6h-4.6z"/>
<path fill="#800000" d="M46.9 437.8a2 2 0 1 0 4 0a2 2 0 1 0 -4 0zM48 434.3a2 2 0 1 0 4 0a2 2 0 1 0 -4 0zM49.2 432.1a2 2 0 1 0 4 0a2 2 0 1 0 -4 0zM50.3 430.9a2 2 0 1 0 4 0a2 2 0 1 0 -4 0zM51.4 429.1a2 2 0 1 0 4 0a2 2 0 1 0 -4 0zM52.5 428.3a2 2 0 1 0 4 0a2 2 0 1 0 -4 0zM53.7 428.2a2 2 0 1 0 4 0a2 2 0 1 0 -4 0zM54.8 427.4a2 2 0 1 0 4 0a2 2 0 1 0 -4 0zM55.9 426.5a2 2 0 1 0 4 0a2 2 0 1 0 -4 0zM57 424.9a2 2 0 1 0 4 0a2 2 0 1 0 -4 0zM58.2 425a2 2 0 1 0 4 0a2 2 0 1 0 -4 0zM59.3 424.7a2 2 0 1 0 4 0a2 2 0 1 0 -4 0zM60.4 425.6a2 2 0 1 0 4 0a2 2 0 1 0 -4 0zM61.6 424.8a2 2 0 1 0 4 0a2 2 0 1 0 -4 0zM62.7 424.2a2 2 0 1 0 4 0a2 2 0 1 0 -4 0zM63.8 422.8a2 2 0 1 0 4 0a2 2 0 1 0 -4 0zM64.9 422.7a2 2 0 1 0 4 0a2 2 0 1 0 -4 0zM66.1 421.9a2 2 0 1 0 4 0a2 2 0 1 0 -4 0zM67.2 422a2 2 0 1 0 4 0a2 2 0 1 0 -4 0zM68.3 421.4a2 2 0 1 0 4 0a2 2 0 1 0 -4 0zM69.4 421.4a2 2 0 1 0 4 0a2 2 0 1 0 -4 0zM70.6 420.5a2 2 0 1 0 4 0a2 2 0 1 0 -4 0zM71.7 420.4a2 2 0 1 0 4 0a2 2 0 1 0 -4 0zM72.8 420.9a2 2 0 1 0 4 0a2 2 0 1 0 -4 0zM73.9 420.8a2 2 0 1 0 4 0a2 2 0 1 0 -4 0zM75.1 420.3a2 2 0 1 0 4 0a2 2 0 1 0 -4 0zM76.2 420a2 2 0 1 0 4 0a2 2 0 1 0 -4 0zM77.3 419.7a2 2 0 1 0 4 0a2 2 0 1 0 -4 0zM78.5 419.1a2 2 0 1 0 4 0a2 2 0 1 0 -4 0zM79.6 417.9a2 2 0 1 0 4 0a2 2 0 1 0 -4 0zM80.7 417.8a2 2 0 1 0 4 0a2 2 0 1 0 -4 0zM81.8 417.6a2 2 0 1 0 4 0a2 2 0 1 0 -4 0zM83 417.6a2 2 0 1 0 4 0a2 2 0 1 0 -4 0zM84.1 417.1a2 2 0 1 0 4 0a2 2 0 1 0 -4 0zM85.2 416.4a2 2 0 1 0 4 0a2 2 0 1 0 -4 0zM86.3 415.9a2 2 0 1 0 4 0a2 2 0 1 0 -4 0zM87.5 415.6a2 2 0 1 0 4 0a2 2 0 1 0 -4 0zM88.6 416a2 2 0 1 0 4 0a2 2 0 1 0 -4 0zM89.7 416.1a2 2 0 1 0 4 0a2 2 0 1 0 -4 0zM90.9 415.9a2 2 0 1 0 4 0a2 2 0 1 0 -4 0zM92 415.7a2 2 0 1 0 4 0a2 2 0 1 0 -4 0zM93.1 415.9a2 2 0 1 0 4 0a2 2 0 1 0 -4 0zM94.2 415.7a2 2 0 1 0 4 0a2 2 0 1 0 -4 0zM95.4 415.1a2 2 0 1 0 4 0a2 2 0 1 0 -4 0zM96.5 415a2 2 0 1 0 4 0a2 2 0 1 0 -4 0zM97.6 415.1a2 2 0 1 0 4 0a2 2 0 1 0 -4 0zM98.7 414.9a2 2 0 1 0 4 0a2 2 0 1 0 -4 0zM99.9 414.6a2 2 0 1 0 4 0a2 2 0 1 0 -4 0zM101 414.3a2 2 0 1 0 4 0a2 2 0 1 0 -4 0zM102.1 414.8a2 2 0 1 0 4 0a2 2 0 1 0 -4 0zM103.2 414.4a2 2 0 1 0 4 0a2 2 0 1 0 -4 0zM104.4 414.5a2 2 0 1 0 4 0a2 2 0 1 0 -4 0zM105.5 414.2a2 2 0 1 0 4 0a2 2 0 1 0 -4 0zM106.6 414.1a2 2 0 1 0 4 0a2 2 0 1 0 -4 0zM107.8 414a2 2 0 1 0 4 0a2 2 0 1 0 -4 0zM108.9 414.1a2 2 0 1 0 4 0a2 2 0 1 0 -4 0zM110 413.9a2 2 0 1 0 4 0a2 2 0 1 0 -4 0zM111.1 414.1a2 2 0 1 0 4 0a2 2 0 1 0 -4 0zM112.3 413.3a2 2 0 1 0 4 0a2 2 0 1 0 -4 0zM113.4 413.4a2 2 0 1 0 4 0a2 2 0 1 0 -4 0zM114.5 412.5a2 2 0 1 0 4 0a2 2 0 1 0 -4 0zM115.6 413.1a2 2 0 1 0 4 0a2 2 0 1 0 -4 0zM116.8 413.5a2 2 0 1 0 4 0a2 2 0 1 0 -4 0zM117.9 413.5a2 2 0 1 0 4 0a2 2 0 1 0 -4 0zM119 413.6a2 2 0 1 0 4 0a2 2 0 1 0 -4 0zM120.2 413.5a2 2 0 1 0 4 0a2 2 0 1 0 -4 0zM121.3 413.9a2 2 0 1 0 4 0a2 2 0 1 0 -4 0zM122.4 414.3a2 2 0 1 0 4 0a2 2 0 1 0 -4 0zM123.5 414.2a2 2 0 1 0 4 0a2 2 0 1 0 -4 0zM124.7 412.8a2 2 0 1 0 4 0a2 2 0 1 0 -4 0zM125.8 411.6a2 2 0 1 0 4 0a2 2 0 1 0 -4 0zM126.9 411.2a2 2 0 1 0 4 0a2 2 0 1 0 -4 0zM128 411.9a2 2 0 1 0 4 0a2 2 0 1 0 -4 0zM129.2 412a2 2 0 1 0 4 0a2 2 0 1 0 -4 0zM130.3 411.9a2 2 0 1 0 4 0a2 2 0 1 0 -4 0zM131.4 411.4a2 2 0 1 0 4 0a2 2 0 1 0 -4 0zM132.6 411.2a2 2 0 1 0 4 0a2 2 0 1 0 -4 0zM133.7 411.4a2 2 0 1 0 4 0a2 2 0 1 0 -4 0zM134.8 410.8a2 2 0 1 0 4 0a2 2 0 1 0 -4 0zM135.9 411.1a2 2 0 1 0 4 0a2 2 0 1 0 -4 0zM137.1 411.1a2 2 0 1 0 4 0a2 2 0 1 0 -4 0zM138.2 411.9a2 2 0 1 0 4 0a2 2 0 1 0 -4 0zM139.3 411.5a2 2 0 1 0 4 0a2 2 0 1 0 -4 0zM140.4 411.1a2 2 0 1 0 4 0a2 2 0 1 0 -4 0zM141.6 411a2 2 0 1 0 4 0a2 2 0 1 0 -4 0zM142.7 411.1a2 2 0 1 0 4 0a2 2 0 1 0 -4 0zM143.8 411.7a2 2 0 1 0 4 0a2 2 0 1 0 -4 0zM144.9 411.8a2 2 0 1 0 4 0a2 2 0 1 0 -4 0zM146.1 411.2a2 2 0 1 0 4 0a2 2 0 1 0 -4 0zM147.2 410.5a2 2 0 1 0 4 0a2 2 0 1 0 -4 0zM148.3 410.7a2 2 0 1 0 4 0a2 2 0 1 0 -4 0zM149.5 410.8a2 2 0 1 0 4 0a2 2 0 1 0 -4 0zM150.6 410.8a2 2 0 1 0 4 0a2 2 0 1 0 -4 0zM151.7 409.6a2 2 0 1 0 4 0a2 2 0 1 0 -4 0zM152.8 409a2 2 0 1 0 4 0a2 2 0 1 0 -4 0zM154 408.4a2 2 0 1 0 4 0a2 2 0 1 0 -4 0zM155.1 409.4a2 2 0 1 0 4 0a2 2 0 1 0 -4 0zM156.2 409.6a2 2 0 1 0 4 0a2 2 0 1 0 -4 0zM157.3 409.9a2 2 0 1 0 4 0a2 2 0 1 0 -4 0zM158.5 409.3a2 2 0 1 0 4 0a2 2 0 1 0 -4 0zM159.6 410a2 2 0 1 0 4 0a2 2 0 1 0 -4 0zM160.7 410.5a2 2 0 1 0 4 0a2 2 0 1 0 -4 0zM161.9 410a2 2 0 1 0 4 0a2 2 0 1 0 -4 0zM163 409a2 2 0 1 0 4 0a2 2 0 1 0 -4 0zM164.1 408a2 2 0 1 0 4 0a2 2 0 1 0 -4 0zM165.2 407.7a2 2 0 1 0 4 0a2 2 0 1 0 -4 0zM166.4 407.7a2 2 0 1 0 4 0a2 2 0 1 0 -4 0zM167.5 408.8a2 2 0 1 0 4 0a2 2 0 1 0 -4 0zM168.6 409.7a2 2 0 1 0 4 0a2 2 0 1 0 -4 0zM169.7 409.5a2 2 0 1 0 4 0a2 2 0 1 0 -4 0zM170.9 408.4a2 2 0 1 0 4 0a2 2 0 1 0 -4 0zM172 407.8a2 2 0 1 0 4 0a2 2 0 1 0 -4 0zM173.1 408a2 2 0 1 0 4 0a2 2 0 1 0 -4 0zM174.3 407.4a2 2 0 1 0 4 0a2 2 0 1 0 -4 0zM175.4 406.6a2 2 0 1 0 4 0a2 2 0 1 0 -4 0zM176.5 406.7a2 2 0 1 0 4 0a2 2 0 1 0 -4 0zM177.6 407.1a2 2 0 1 0 4 0a2 2 0 1 0 -4 0zM178.8 408a2 2 0 1 0 4 0a2 2 0 1 0 -4 0zM179.9 407.3a2 2 0 1 0 4 0a2 2 0 1 0 -4 0zM181 407.5a2 2 0 1 0 4 0a2 2 0 1 0 -4 0zM182.1 406.5a2 2 0 1 0 4 0a2 2 0 1 0 -4 0zM183.3 406.4a2 2 0 1 0 4 0a2 2 0 1 0 -4 0zM184.4 406.2a2 2 0 1 0 4 0a2 2 0 1 0 -4 0zM185.5 406.6a2 2 0 1 0 4 0a2 2 0 1 0 -4 0zM186.6 406a2 2 0 1 0 4 0a2 2 0 1 0 -4 0zM187.8 405.6a2 2 0 1 0 4 0a2 2 0 1 0 -4 0zM188.9 404.7a2 2 0 1 0 4 0a2 2 0 1 0 -4 0zM190 404.2a2 2 0 1 0 4 0a2 2 0 1 0 -4 0zM191.2 403.8a2 2 0 1 0 4 0a2 2 0 1 0 -4 0zM192.3 404.3a2 2 0 1 0 4 0a2 2 0 1 0 -4 0zM193.4 404.8a2 2 0 1 0 4 0a2 2 0 1 0 -4 0zM194.5 403.9a2 2 0 1 0 4 0a2 2 0 1 0 -4 0zM195.7 403.5a2 2 0 1 0 4 0a2 2 0 1 0 -4 0zM196.8 403.1a2 2 0 1 0 4 0a2 2 0 1 0 -4 0zM197.9 403.1a2 2 0 1 0 4 0a2 2 0 1 0 -4 0zM199 401.7a2 2 0 1 0 4 0a2 2 0 1 0 -4 0zM200.2 401.5a2 2 0 1 0 4 0a2 2 0 1 0 -4 0zM201.3 401.7a2 2 0 1 0 4 0a2 2 0 1 0 -4 0zM202.4 402.4a2 2 0 1 0 4 0a2 2 0 1 0 -4 0zM203.6 401.1a2 2 0 1 0 4 0a2 2 0 1 0 -4 0zM204.7 400a2 2 0 1 0 4 0a2 2 0 1 0 -4 0zM205.8 399.8a2 2 0 1 0 4 0a2 2 0 1 0 -4 0zM206.9 400.3a2 2 0 1 0 4 0a2 2 0 1 0 -4 0zM208.1 400.6a2 2 0 1 0 4 0a2 2 0 1 0 -4 0zM209.2 399.8a2 2 0 1 0 4 0a2 2 0 1 0 -4 0zM210.3 399.3a2 2 0 1 0 4 0a2 2 0 1 0 -4 0zM211.4 398.5a2 2 0 1 0 4 0a2 2 0 1 0 -4 0zM212.6 398.1a2 2 0 1 0 4 0a2 2 0 1 0 -4 0zM213.7 397.2a2 2 0 1 0 4 0a2 2 0 1 0 -4 0zM214.8 397.1a2 2 0 1 0 4 0a2 2 0 1 0 -4 0zM216 396.6a2 2 0 1 0 4 0a2 2 0 1 0 -4 0zM217.1 396.7a2 2 0 1 0 4 0a2 2 0 1 0 -4 0zM218.2 396.3a2 2 0 1 0 4 0a2 2 0 1 0 -4 0zM219.3 395.7a2 2 0 1 0 4 0a2 2 0 1 0 -4 0zM220.5 395.5a2 2 0 1 0 4 0a2 2 0 1 0 -4 0zM221.6 394.3a2 2 0 1 0 4 0a2 2 0 1 0 -4 0zM222.7 394.2a2 2 0 1 0 4 0a2 2 0 1 0 -4 0zM223.8 393.4a2 2 0 1 0 4 0a2 2 0 1 0 -4 0zM225 393.7a2 2 0 1 0 4 0a2 2 0 1 0 -4 0zM226.1 392.2a2 2 0 1 0 4 0a2 2 0 1 0 -4 0zM227.2 391.6a2 2 0 1 0 4 0a2 2 0 1 0 -4 0zM228.3 391.1a2 2 0 1 0 4 0a2 2 0 1 0 -4 0zM229.5 391.7a2 2 0 1 0 4 0a2 2 0 1 0 -4 0zM230.6 390.1a2 2 0 1 0 4 0a2 2 0 1 0 -4 0zM231.7 388.9a2 2 0 1 0 4 0a2 2 0 1 0 -4 0zM232.9 387.8a2 2 0 1 0 4 0a2 2 0 1 0 -4 0zM234 387.8a2 2 0 1 0 4 0a2 2 0 1 0 -4 0zM235.1 387.9a2 2 0 1 0 4 0a2 2 0 1 0 -4 0zM236.2 387.1a2 2 0 1 0 4 0a2 2 0 1 0 -4 0zM237.4 387a2 2 0 1 0 4 0a2 2 0 1 0 -4 0zM238.5 386.2a2 2 0 1 0 4 0a2 2 0 1 0 -4 0zM239.6 385.3a2 2 0 1 0 4 0a2 2 0 1 0 -4 0zM240.7 384a2 2 0 1 0 4 0a2 2 0 1 0 -4 0zM241.9 383.1a2 2 0 1 0 4 0a2 2 0 1 0 -4 0zM243 383.1a2 2 0 1 0 4 0a2 2 0 1 0 -4 0zM244.1 383.2a2 2 0 1 0 4 0a2 2 0 1 0 -4 0zM245.3 382.7a2 2 0 1 0 4 0a2 2 0 1 0 -4 0zM246.4 382.5a2 2 0 1 0 4 0a2 2 0 1 0 -4 0zM247.5 381.1a2 2 0 1 0 4 0a2 2 0 1 0 -4 0zM248.6 379.6a2 2 0 1 0 4 0a2 2 0 1 0 -4 0zM249.8 378.8a2 2 0 1 0 4 0a2 2 0 1 0 -4 0zM250.9 379a2 2 0 1 0 4 0a2 2 0 1 0 -4 0zM252 379.5a2 2 0 1 0 4 0a2 2 0 1 0 -4 0zM253.1 378.8a2 2 0 1 0 4 0a2 2 0 1 0 -4 0zM254.3 378.3a2 2 0 1 0 4 0a2 2 0 1 0 -4 0zM255.4 378.6a2 2 0 1 0 4 0a2 2 0 1 0 -4 0zM256.5 378.5a2 2 0 1 0 4 0a2 2 0 1 0 -4 0zM257.6 377.6a2 2 0 1 0 4 0a2 2 0 1 0 -4 0zM258.8 376.2a2 2 0 1 0 4 0a2 2 0 1 0 -4 0zM259.9 376.4a2 2 0 1 0 4 0a2 2 0 1 0 -4 0zM261 376.1a2 2 0 1 0 4 0a2 2 0 1 0 -4 0zM262.2 376.1a2 2 0 1 0 4 0a2 2 0 1 0 -4 0zM263.3 375.4a2 2 0 1 0 4 0a2 2 0 1 0 -4 0zM264.4 375.2a2 2 0 1 0 4 0a2 2 0 1 0 -4 0zM265.5 374.1a2 2 0 1 0 4 0a2 2 0 1 0 -4 0zM266.7 373.4a2 2 0 1 0 4 0a2 2 0 1 0 -4 0zM267.8 372.7a2 2 0 1 0 4 0a2 2 0 1 0 -4 0zM268.9 372.5a2 2 0 1 0 4 0a2 2 0 1 0 -4 0zM270 371.7a2 2 0 1 0 4 0a2 2 0 1 0 -4 0zM271.2 370.5a2 2 0 1 0 4 0a2 2 0 1 0 -4 0zM272.3 369.4a2 2 0 1 0 4 0a2 2 0 1 0 -4 0zM273.4 367.8a2 2 0 1 0 4 0a2 2 0 1 0 -4 0zM274.6 367.1a2 2 0 1 0 4 0a2 2 0 1 0 -4 0zM275.7 365.4a2 2 0 1 0 4 0a2 2 0 1 0 -4 0zM276.8 364a2 2 0 1 0 4 0a2 2 0 1 0 -4 0zM277.9 361.4a2 2 0 1 0 4 0a2 2 0 1 0 -4 0zM279.1 359.6a2 2 0 1 0 4 0a2 2 0 1 0 -4 0zM280.2 357.2a2 2 0 1 0 4 0a2 2 0 1 0 -4 0zM281.3 355.2a2 2 0 1 0 4 0a2 2 0 1 0 -4 0zM282.4 352.4a2 2 0 1 0 4 0a2 2 0 1 0 -4 0zM283.6 348a2 2 0 1 0 4 0a2 2 0 1 0 -4 0z"/>
<path fill="#86bcbc" stroke="#0a8686" stroke-width="0.8" d="M46.7 450.9h4.4v4.4h-4.4zM47.8 444.9h4.4v4.4h-4.4zM49 439.8h4.4v4.4h-4.4zM50.1 436.7h4.4v4.4h-4.4zM51.2 435.3h4.4v4.4h-4.4zM52.3 433.8h4.4v4.4h-4.4zM53.5 432.2h4.4v4.4h-4.4zM54.6 429.8h4.4v4.4h-4.4zM55.7 428.8h4.4v4.4h-4.4zM56.8 428.2h4.4v4.4h-4.4zM58 428.2h4.4v4.4h-4.4zM59.1 427.5h4.4v4.4h-4.4zM60.2 426.5h4.4v4.4h-4.4zM61.4 425.5h4.4v4.4h-4.4zM62.5 425.1h4.4v4.4h-4.4zM63.6 425.1h4.4v4.4h-4.4zM64.7 424.5h4.4v4.4h-4.4zM65.9 424.1h4.4v4.4h-4.4zM67 423.4h4.4v4.4h-4.4zM68.1 423.8h4.4v4.4h-4.4zM69.2 423.2h4.4v4.4h-4.4zM70.4 423.3h4.4v4.4h-4.4zM71.5 423h4.4v4.4h-4.4zM72.6 423h4.4v4.4h-4.4zM73.7 421.8h4.4v4.4h-4.4zM74.9 421.5h4.4v4.4h-4.4zM76 421h4.4v4.4h-4.4zM77.1 420.9h4.4v4.4h-4.4zM78.3 420.6h4.4v4.4h-4.4zM79.4 419.9h4.4v4.4h-4.4zM80.5 420.4h4.4v4.4h-4.4zM81.6 420.6h4.4v4.4h-4.4zM82.8 420.8h4.4v4.4h-4.4zM83.9 420.6h4.4v4.4h-4.4zM85 420h4.4v4.4h-4.4zM86.1 420.2h4.4v4.4h-4.4zM87.3 419.2h4.4v4.4h-4.4zM88.4 419.1h4.4v4.4h-4.4zM89.5 418.8h4.4v4.4h-4.4zM90.7 419.4h4.4v4.4h-4.4zM91.8 419.1h4.4v4.4h-4.4zM92.9 419.3h4.4v4.4h-4.4zM94 419h4.4v4.4h-4.4zM95.2 419.1h4.4v4.4h-4.4zM96.3 419h4.4v4.4h-4.4zM97.4 418.8h4.4v4.4h-4.4zM98.5 418.8h4.4v4.4h-4.4zM99.7 418.2h4.4v4.4h-4.4zM100.8 418.2h4.4v4.4h-4.4zM101.9 417.5h4.4v4.4h-4.4zM103 417.6h4.4v4.4h-4.4zM104.2 417.7h4.4v4.4h-4.4zM105.3 417.7h4.4v4.4h-4.4zM106.4 417.5h4.4v4.4h-4.4zM107.6 417.1h4.4v4.4h-4.4zM108.7 416.6h4.4v4.4h-4.4zM109.8 416.3h4.4v4.4h-4.4zM110.9 416.4h4.4v4.4h-4.4zM112.1 416.5h4.4v4.4h-4.4zM113.2 415.6h4.4v4.4h-4.4zM114.3 415h4.4v4.4h-4.4zM115.4 414.8h4.4v4.4h-4.4zM116.6 416.1h4.4v4.4h-4.4zM117.7 415.8h4.4v4.4h-4.4zM118.8 415.9h4.4v4.4h-4.4zM120 414.9h4.4v4.4h-4.4zM121.1 414.8h4.4v4.4h-4.4zM122.2 414.5h4.4v4.4h-4.4zM123.3 414.2h4.4v4.4h-4.4zM124.5 414h4.4v4.4h-4.4zM125.6 413.8h4.4v4.4h-4.4zM126.7 414.4h4.4v4.4h-4.4zM127.8 413.9h4.4v4.4h-4.4zM129 414h4.4v4.4h-4.4zM130.1 413.1h4.4v4.4h-4.4zM131.2 412.9h4.4v4.4h-4.4zM132.4 413.4h4.4v4.4h-4.4zM133.5 412.8h4.4v4.4h-4.4zM134.6 413.7h4.4v4.4h-4.4zM135.7 412.4h4.4v4.4h-4.4zM136.9 413.1h4.4v4.4h-4.4zM138 413.2h4.4v4.4h-4.4zM139.1 412.8h4.4v4.4h-4.4zM140.2 412.2h4.4v4.4h-4.4zM141.4 411.7h4.4v4.4h-4.4zM142.5 412.4h4.4v4.4h-4.4zM143.6 412.6h4.4v4.4h-4.4zM144.7 412h4.4v4.4h-4.4zM145.9 411.4h4.4v4.4h-4.4zM147 411.5h4.4v4.4h-4.4zM148.1 412h4.4v4.4h-4.4zM149.3 412.1h4.4v4.4h-4.4zM150.4 411.9h4.4v4.4h-4.4zM151.5 411.7h4.4v4.4h-4.4zM152.6 412.4h4.4v4.4h-4.4zM153.8 412h4.4v4.4h-4.4zM154.9 411.6h4.4v4.4h-4.4zM156 410.5h4.4v4.4h-4.4zM157.1 410.3h4.4v4.4h-4.4zM158.3 410h4.4v4.4h-4.4zM159.4 409.8h4.4v4.4h-4.4zM160.5 409.3h4.4v4.4h-4.4zM161.7 408.5h4.4v4.4h-4.4zM162.8 408.3h4.4v4.4h-4.4zM163.9 408.9h4.4v4.4h-4.4zM165 409.9h4.4v4.4h-4.4zM166.2 409.8h4.4v4.4h-4.4zM167.3 409.6h4.4v4.4h-4.4zM168.4 409.2h4.4v4.4h-4.4zM169.5 409.5h4.4v4.4h-4.4zM170.7 409.4h4.4v4.4h-4.4zM171.8 408.9h4.4v4.4h-4.4zM172.9 409.2h4.4v4.4h-4.4zM174.1 408.9h4.4v4.4h-4.4zM175.2 408.6h4.4v4.4h-4.4zM176.3 407.1h4.4v4.4h-4.4zM177.4 407.2h4.4v4.4h-4.4zM178.6 407.1h4.4v4.4h-4.4zM179.7 408.2h4.4v4.4h-4.4zM180.8 407.7h4.4v4.4h-4.4zM181.9 407.9h4.4v4.4h-4.4zM183.1 407.3h4.4v4.4h-4.4zM184.2 407.8h4.4v4.4h-4.4zM185.3 406.8h4.4v4.4h-4.4zM186.4 406.8h4.4v4.4h-4.4zM187.6 406h4.4v4.4h-4.4zM188.7 406.2h4.4v4.4h-4.4zM189.8 405.3h4.4v4.4h-4.4zM191 404.9h4.4v4.4h-4.4zM192.1 404.5h4.4v4.4h-4.4zM193.2 403.5h4.4v4.4h-4.4zM194.3 403.6h4.4v4.4h-4.4zM195.5 403.5h4.4v4.4h-4.4zM196.6 403.8h4.4v4.4h-4.4zM197.7 403.3h4.4v4.4h-4.4zM198.8 403.9h4.4v4.4h-4.4zM200 404.1h4.4v4.4h-4.4zM201.1 403.7h4.4v4.4h-4.4zM202.2 403.3h4.4v4.4h-4.4zM203.4 402.6h4.4v4.4h-4.4zM204.5 402.4h4.4v4.4h-4.4zM205.6 401.3h4.4v4.4h-4.4zM206.7 401.2h4.4v4.4h-4.4zM207.9 401.2h4.4v4.4h-4.4zM209 401.3h4.4v4.4h-4.4zM210.1 400.8h4.4v4.4h-4.4zM211.2 400.1h4.4v4.4h-4.4zM212.4 399.6h4.4v4.4h-4.4zM213.5 399.3h4.4v4.4h-4.4zM214.6 399h4.4v4.4h-4.4zM215.8 398.2h4.4v4.4h-4.4zM216.9 397.7h4.4v4.4h-4.4zM218 397.2h4.4v4.4h-4.4zM219.1 396.6h4.4v4.4h-4.4zM220.3 396.5h4.4v4.4h-4.4zM221.4 395.9h4.4v4.4h-4.4zM222.5 395.4h4.4v4.4h-4.4zM223.6 394.4h4.4v4.4h-4.4zM224.8 393.8h4.4v4.4h-4.4zM225.9 393.5h4.4v4.4h-4.4zM227 393.2h4.4v4.4h-4.4zM228.1 392.8h4.4v4.4h-4.4zM229.3 392h4.4v4.4h-4.4zM230.4 391.9h4.4v4.4h-4.4zM231.5 391.8h4.4v4.4h-4.4zM232.7 391.6h4.4v4.4h-4.4zM233.8 390.8h4.4v4.4h-4.4zM234.9 390h4.4v4.4h-4.4zM236 389.3h4.4v4.4h-4.4zM237.2 388.4h4.4v4.4h-4.4zM238.3 388.7h4.4v4.4h-4.4zM239.4 388.6h4.4v4.4h-4.4zM240.5 388.4h4.4v4.4h-4.4zM241.7 386.7h4.4v4.4h-4.4zM242.8 386h4.4v4.4h-4.4zM243.9 385.9h4.4v4.4h-4.4zM245.1 385.7h4.4v4.4h-4.4zM246.2 385.4h4.4v4.4h-4.4zM247.3 384.5h4.4v4.4h-4.4zM248.4 384.1h4.4v4.4h-4.4zM249.6 383.8h4.4v4.4h-4.4zM250.7 382.9h4.4v4.4h-4.4zM251.8 382.4h4.4v4.4h-4.4zM252.9 381.1h4.4v4.4h-4.4zM254.1 381.4h4.4v4.4h-4.4zM255.2 380.9h4.4v4.4h-4.4zM256.3 380.6h4.4v4.4h-4.4zM257.4 379.6h4.4v4.4h-4.4zM258.6 378.8h4.4v4.4h-4.4zM259.7 378.2h4.4v4.4h-4.4zM260.8 376.8h4.4v4.4h-4.4zM262 376.4h4.4v4.4h-4.4zM263.1 375.6h4.4v4.4h-4.4zM264.2 375.6h4.4v4.4h-4.4zM265.3 375h4.4v4.4h-4.4zM266.5 374.5h4.4v4.4h-4.4zM267.6 373.8h4.4v4.4h-4.4zM268.7 373.5h4.4v4.4h-4.4zM269.8 373.2h4.4v4.4h-4.4zM271 373.2h4.4v4.4h-4.4zM272.1 373.1h4.4v4.4h-4.4zM273.2 372.8h4.4v4.4h-4.4zM274.4 371.4h4.4v4.4h-4.4zM275.5 370.5h4.4v4.4h-4.4zM276.6 368.9h4.4v4.4h-4.4zM277.7 368.2h4.4v4.4h-4.4zM278.9 366.7h4.4v4.4h-4.4zM280 365.5h4.4v4.4h-4.4zM281.1 363.5h4.4v4.4h-4.4zM282.2 360.7h4.4v4.4h-4.4zM283.4 355.3h4.4v4.4h-4.4z"/>
<path fill="none" stroke="#0000c0" stroke-width="1.2" d="M46.9 443.7h4M48 439.9h4M49.2 436.9h4M50.3 435.2h4M51.4 432.1h4M52.5 431.4h4M53.7 429.9h4M54.8 429.1h4M55.9 427.9h4M57 428.1h4M58.2 427.5h4M59.3 426.7h4M60.4 425.5h4M61.6 423.8h4M62.7 424h4M63.8 423.3h4M64.9 423.9h4M66.1 423.8h4M67.2 423.9h4M68.3 424.1h4M69.4 422.9h4M70.6 423.1h4M71.7 422.5h4M72.8 422.1h4M73.9 422.1h4M75.1 421.7h4M76.2 421.1h4M77.3 420h4M78.5 420.2h4M79.6 420h4M80.7 420.3h4M81.8 420.2h4M83 421.5h4M84.1 420.6h4M85.2 420.4h4M86.3 418.4h4M87.5 418.3h4M88.6 417.8h4M89.7 418.6h4M90.9 418.6h4M92 418.3h4M93.1 417.7h4M94.2 417.3h4M95.4 417.3h4M96.5 417.7h4M97.6 418.1h4M98.7 418.2h4M99.9 418.4h4M101 417.1h4M102.1 416.2h4M103.2 415.5h4M104.4 415.9h4M105.5 416.5h4M106.6 416.8h4M107.8 416.9h4M108.9 416.4h4M110 416.5h4M111.1 416.3h4M112.3 416h4M113.4 415.7h4M114.5 416h4M115.6 416.7h4M116.8 416.3h4M117.9 416.3h4M119 415.3h4M120.2 414.6h4M121.3 414.1h4M122.4 413.1h4M123.5 413.6h4M124.7 413.9h4M125.8 415.1h4M126.9 414.7h4M128 414.7h4M129.2 414.5h4M130.3 414.9h4M131.4 415.3h4M132.6 415.6h4M133.7 415.4h4M134.8 414.5h4M135.9 414.2h4M137.1 413.8h4M138.2 413.5h4M139.3 413.7h4M140.4 412.7h4M141.6 412.5h4M142.7 412.2h4M143.8 412.4h4M144.9 412.4h4M146.1 411.6h4M147.2 412.1h4M148.3 412.4h4M149.5 413.3h4M150.6 413.2h4M151.7 412.4h4M152.8 411.7h4M154 411.6h4M155.1 412.5h4M156.2 411.2h4M157.3 411h4M158.5 409.4h4M159.6 410.6h4M160.7 410.5h4M161.9 411.4h4M163 411.4h4M164.1 411.2h4M165.2 410.5h4M166.4 410.1h4M167.5 410.4h4M168.6 410.5h4M169.7 410.2h4M170.9 408.9h4M172 409.3h4M173.1 408.9h4M174.3 409h4M175.4 408.1h4M176.5 407.7h4M177.6 407.8h4M178.8 408.4h4M179.9 409h4M181 409.5h4M182.1 409.4h4M183.3 408.4h4M184.4 407.8h4M185.5 407.6h4M186.6 408.9h4M187.8 407.8h4M188.9 406.2h4M190 405.1h4M191.2 405.4h4M192.3 405.3h4M193.4 405h4M194.5 404.6h4M195.7 403.7h4M196.8 403.3h4M197.9 403.5h4M199 404.6h4M200.2 404.7h4M201.3 404.5h4M202.4 403.8h4M203.6 402.8h4M204.7 401.6h4M205.8 401.2h4M206.9 401.7h4M208.1 402.4h4M209.2 403.3h4M210.3 402.4h4M211.4 400.9h4M212.6 399.9h4M213.7 400.1h4M214.8 400h4M216 398.4h4M217.1 397.5h4M218.2 397.9h4M219.3 397.7h4M220.5 396.9h4M221.6 395.7h4M222.7 395.1h4M223.8 394.1h4M225 394h4M226.1 393.8h4M227.2 393.6h4M228.3 391.8h4M229.5 392.2h4M230.6 391.5h4M231.7 392.1h4M232.9 390.2h4M234 390.3h4M235.1 389.1h4M236.2 389.1h4M237.4 388.2h4M238.5 388.8h4M239.6 387.6h4M240.7 386.9h4M241.9 385.8h4M243 386.7h4M244.1 385.8h4M245.3 385.5h4M246.4 383.7h4M247.5 384.1h4M248.6 383.7h4M249.8 383.6h4M250.9 383.1h4M252 382.4h4M253.1 381.6h4M254.3 380.9h4M255.4 379.5h4M256.5 379.1h4M257.6 378.3h4M258.8 378.4h4M259.9 378.4h4M261 378.3h4M262.2 378.1h4M263.3 377.7h4M264.4 375.8h4M265.5 375.2h4M266.7 374.2h4M267.8 374.7h4M268.9 373.4h4M270 373.1h4M271.2 373.1h4M272.3 373.6h4M273.4 372.5h4M274.6 371.3h4M275.7 370.1h4M276.8 369.6h4M277.9 368.3h4M279.1 366.2h4M280.2 363.6h4M281.3 361.1h4M282.4 358.4h4M283.6 352.7h4"/>
<path fill="none" stroke="#33ccff" stroke-width="1.5" d="M46.7 443.8h4.4M47.8 439.5h4.4M49 435.9h4.4M50.1 434.5h4.4M51.2 432.7h4.4M52.3 431.5h4.4M53.5 430.2h4.4M54.6 430h4.4M55.7 428.9h4.4M56.8 428.9h4.4M58 428.3h4.4M59.1 427.7h4.4M60.2 426.8h4.4M61.4 425.1h4.4M62.5 425.4h4.4M63.6 424.8h4.4M64.7 424.2h4.4M65.9 424h4.4M67 424.2h4.4M68.1 423.9h4.4M69.2 423.5h4.4M70.4 422.9h4.4M71.5 424.2h4.4M72.6 424.1h4.4M73.7 423.5h4.4M74.9 421.9h4.4M76 420.5h4.4M77.1 420.6h4.4M78.3 420.5h4.4M79.4 421h4.4M80.5 420.7h4.4M81.6 419.8h4.4M82.8 418.9h4.4M83.9 419.3h4.4M85 420.2h4.4M86.1 420.3h4.4M87.3 419.4h4.4M88.4 418.6h4.4M89.5 418.5h4.4M90.7 417.7h4.4M91.8 417.9h4.4M92.9 417.5h4.4M94 418.1h4.4M95.2 416.4h4.4M96.3 416.6h4.4M97.4 417h4.4M98.5 417h4.4M99.7 417.4h4.4M100.8 416.9h4.4M101.9 417.4h4.4M103 415.9h4.4M104.2 416h4.4M105.3 416.3h4.4M106.4 417.2h4.4M107.6 416.4h4.4M108.7 415.8h4.4M109.8 415.8h4.4M110.9 415.4h4.4M112.1 416h4.4M113.2 414.8h4.4M114.3 414.7h4.4M115.4 413.6h4.4M116.6 414.8h4.4M117.7 414.3h4.4M118.8 414.3h4.4M120 413.9h4.4M121.1 414.7h4.4M122.2 416.1h4.4M123.3 416.5h4.4M124.5 416.6h4.4M125.6 415.8h4.4M126.7 414h4.4M127.8 413.3h4.4M129 412.7h4.4M130.1 413.3h4.4M131.2 413h4.4M132.4 412.6h4.4M133.5 412.2h4.4M134.6 413.1h4.4M135.7 413.6h4.4M136.9 413.7h4.4M138 413h4.4M139.1 412.9h4.4M140.2 412.6h4.4M141.4 412.5h4.4M142.5 411.5h4.4M143.6 411.9h4.4M144.7 412.4h4.4M145.9 413.2h4.4M147 413h4.4M148.1 412.6h4.4M149.3 413.2h4.4M150.4 413h4.4M151.5 412.1h4.4M152.6 410.6h4.4M153.8 410.7h4.4M154.9 411.6h4.4M156 412.3h4.4M157.1 412.3h4.4M158.3 411.7h4.4M159.4 410.6h4.4M160.5 409.8h4.4M161.7 408.7h4.4M162.8 409.1h4.4M163.9 408.7h4.4M165 409.4h4.4M166.2 409.3h4.4M167.3 408.9h4.4M168.4 409h4.4M169.5 409.3h4.4M170.7 409.4h4.4M171.8 409h4.4M172.9 408.8h4.4M174.1 409.1h4.4M175.2 409.3h4.4M176.3 408.8h4.4M177.4 409.3h4.4M178.6 408.8h4.4M179.7 408.4h4.4M180.8 408h4.4M181.9 408h4.4M183.1 408h4.4M184.2 407.4h4.4M185.3 406.5h4.4M186.4 406h4.4M187.6 405.7h4.4M188.7 405.9h4.4M189.8 405.9h4.4M191 405.9h4.4M192.1 405.5h4.4M193.2 405.3h4.4M194.3 405.8h4.4M195.5 406.1h4.4M196.6 405.5h4.4M197.7 404.7h4.4M198.8 403.8h4.4M200 403.7h4.4M201.1 403.1h4.4M202.2 402.7h4.4M203.4 401.9h4.4M204.5 400.6h4.4M205.6 400.6h4.4M206.7 401.5h4.4M207.9 401.8h4.4M209 401.6h4.4M210.1 400.6h4.4M211.2 400.7h4.4M212.4 399.8h4.4M213.5 399.4h4.4M214.6 398.8h4.4M215.8 397.7h4.4M216.9 397.4h4.4M218 396.9h4.4M219.1 396.4h4.4M220.3 396h4.4M221.4 395.6h4.4M222.5 396.2h4.4M223.6 395.5h4.4M224.8 394.8h4.4M225.9 393.7h4.4M227 392.8h4.4M228.1 392.3h4.4M229.3 393.2h4.4M230.4 393.7h4.4M231.5 393.1h4.4M232.7 391.3h4.4M233.8 390.1h4.4M234.9 390h4.4M236 389.3h4.4M237.2 388.1h4.4M238.3 388.1h4.4M239.4 388.3h4.4M240.5 387.5h4.4M241.7 385.3h4.4M242.8 383.9h4.4M243.9 384.2h4.4M245.1 384.7h4.4M246.2 384.4h4.4M247.3 383h4.4M248.4 382.4h4.4M249.6 382.3h4.4M250.7 382.6h4.4M251.8 381.7h4.4M252.9 381.2h4.4M254.1 380.7h4.4M255.2 379.9h4.4M256.3 379.2h4.4M257.4 378.1h4.4M258.6 378.5h4.4M259.7 378.1h4.4M260.8 377.7h4.4M262 376.8h4.4M263.1 376.6h4.4M264.2 375.5h4.4M265.3 374.7h4.4M266.5 374.4h4.4M267.6 374.1h4.4M268.7 373.5h4.4M269.8 371.5h4.4M271 371.5h4.4M272.1 369.8h4.4M273.2 368.9h4.4M274.4 367.6h4.4M275.5 367.5h4.4M276.6 366.9h4.4M277.7 365.7h4.4M278.9 364.3h4.4M280 362.5h4.4M281.1 360.5h4.4M282.2 356.8h4.4M283.4 351.2h4.4"/>
<path fill="#ccffff" d="M48.9 434.7l2.8 2.8l-2.8 2.8l-2.8 -2.8zM50 430.4l2.8 2.8l-2.8 2.8l-2.8 -2.8zM51.2 428.6l2.8 2.8l-2.8 2.8l-2.8 -2.8zM52.3 427.5l2.8 2.8l-2.8 2.8l-2.8 -2.8zM53.4 426.1l2.8 2.8l-2.8 2.8l-2.8 -2.8zM54.5 425.4l2.8 2.8l-2.8 2.8l-2.8 -2.8zM55.7 423.5l2.8 2.8l-2.8 2.8l-2.8 -2.8zM56.8 423.4l2.8 2.8l-2.8 2.8l-2.8 -2.8zM57.9 422.7l2.8 2.8l-2.8 2.8l-2.8 -2.8zM59 422.7l2.8 2.8l-2.8 2.8l-2.8 -2.8zM60.2 422.5l2.8 2.8l-2.8 2.8l-2.8 -2.8zM61.3 421.8l2.8 2.8l-2.8 2.8l-2.8 -2.8zM62.4 421.5l2.8 2.8l-2.8 2.8l-2.8 -2.8zM63.6 420.6l2.8 2.8l-2.8 2.8l-2.8 -2.8zM64.7 420.3l2.8 2.8l-2.8 2.8l-2.8 -2.8zM65.8 419.5l2.8 2.8l-2.8 2.8l-2.8 -2.8zM66.9 419.7l2.8 2.8l-2.8 2.8l-2.8 -2.8zM68.1 419l2.8 2.8l-2.8 2.8l-2.8 -2.8zM69.2 419.3l2.8 2.8l-2.8 2.8l-2.8 -2.8zM70.3 418.6l2.8 2.8l-2.8 2.8l-2.8 -2.8zM71.4 418.6l2.8 2.8l-2.8 2.8l-2.8 -2.8zM72.6 418.4l2.8 2.8l-2.8 2.8l-2.8 -2.8zM73.7 418.3l2.8 2.8l-2.8 2.8l-2.8 -2.8zM74.8 417.5l2.8 2.8l-2.8 2.8l-2.8 -2.8zM75.9 417.1l2.8 2.8l-2.8 2.8l-2.8 -2.8zM77.1 415.9l2.8 2.8l-2.8 2.8l-2.8 -2.8zM78.2 416.3l2.8 2.8l-2.8 2.8l-2.8 -2.8zM79.3 415.7l2.8 2.8l-2.8 2.8l-2.8 -2.8zM80.5 415.9l2.8 2.8l-2.8 2.8l-2.8 -2.8zM81.6 415.6l2.8 2.8l-2.8 2.8l-2.8 -2.8zM82.7 415.4l2.8 2.8l-2.8 2.8l-2.8 -2.8zM83.8 416.2l2.8 2.8l-2.8 2.8l-2.8 -2.8zM85 415.7l2.8 2.8l-2.8 2.8l-2.8 -2.8zM86.1 416.2l2.8 2.8l-2.8 2.8l-2.8 -2.8zM87.2 415.8l2.8 2.8l-2.8 2.8l-2.8 -2.8zM88.3 415.5l2.8 2.8l-2.8 2.8l-2.8 -2.8zM89.5 414.4l2.8 2.8l-2.8 2.8l-2.8 -2.8zM90.6 414.1l2.8 2.8l-2.8 2.8l-2.8 -2.8zM91.7 414.1l2.8 2.8l-2.8 2.8l-2.8 -2.8zM92.9 414.2l2.8 2.8l-2.8 2.8l-2.8 -2.8zM94 413.5l2.8 2.8l-2.8 2.8l-2.8 -2.8zM95.1 412.9l2.8 2.8l-2.8 2.8l-2.8 -2.8zM96.2 412.6l2.8 2.8l-2.8 2.8l-2.8 -2.8zM97.4 412.2l2.8 2.8l-2.8 2.8l-2.8 -2.8zM98.5 411.9l2.8 2.8l-2.8 2.8l-2.8 -2.8zM99.6 411.8l2.8 2.8l-2.8 2.8l-2.8 -2.8zM100.7 412.5l2.8 2.8l-2.8 2.8l-2.8 -2.8zM101.9 413.3l2.8 2.8l-2.8 2.8l-2.8 -2.8zM103 413.2l2.8 2.8l-2.8 2.8l-2.8 -2.8zM104.1 412.6l2.8 2.8l-2.8 2.8l-2.8 -2.8zM105.2 412.1l2.8 2.8l-2.8 2.8l-2.8 -2.8zM106.4 412.4l2.8 2.8l-2.8 2.8l-2.8 -2.8zM107.5 412.3l2.8 2.8l-2.8 2.8l-2.8 -2.8zM108.6 411.9l2.8 2.8l-2.8 2.8l-2.8 -2.8zM109.8 411.3l2.8 2.8l-2.8 2.8l-2.8 -2.8zM110.9 411.4l2.8 2.8l-2.8 2.8l-2.8 -2.8zM112 412.3l2.8 2.8l-2.8 2.8l-2.8 -2.8zM113.1 412.1l2.8 2.8l-2.8 2.8l-2.8 -2.8zM114.3 411l2.8 2.8l-2.8 2.8l-2.8 -2.8zM115.4 410.4l2.8 2.8l-2.8 2.8l-2.8 -2.8zM116.5 410.5l2.8 2.8l-2.8 2.8l-2.8 -2.8zM117.6 411.1l2.8 2.8l-2.8 2.8l-2.8 -2.8zM118.8 411.1l2.8 2.8l-2.8 2.8l-2.8 -2.8zM119.9 411.1l2.8 2.8l-2.8 2.8l-2.8 -2.8zM121 410.5l2.8 2.8l-2.8 2.8l-2.8 -2.8zM122.2 409.5l2.8 2.8l-2.8 2.8l-2.8 -2.8zM123.3 409.4l2.8 2.8l-2.8 2.8l-2.8 -2.8zM124.4 409.3l2.8 2.8l-2.8 2.8l-2.8 -2.8zM125.5 409.9l2.8 2.8l-2.8 2.8l-2.8 -2.8zM126.7 409.5l2.8 2.8l-2.8 2.8l-2.8 -2.8zM127.8 409.6l2.8 2.8l-2.8 2.8l-2.8 -2.8zM128.9 409l2.8 2.8l-2.8 2.8l-2.8 -2.8zM130 409.2l2.8 2.8l-2.8 2.8l-2.8 -2.8zM131.2 409.1l2.8 2.8l-2.8 2.8l-2.8 -2.8zM132.3 409.6l2.8 2.8l-2.8 2.8l-2.8 -2.8zM133.4 410.1l2.8 2.8l-2.8 2.8l-2.8 -2.8zM134.6 410.1l2.8 2.8l-2.8 2.8l-2.8 -2.8zM135.7 409.5l2.8 2.8l-2.8 2.8l-2.8 -2.8zM136.8 409.6l2.8 2.8l-2.8 2.8l-2.8 -2.8zM137.9 409.6l2.8 2.8l-2.8 2.8l-2.8 -2.8zM139.1 410l2.8 2.8l-2.8 2.8l-2.8 -2.8zM140.2 409.5l2.8 2.8l-2.8 2.8l-2.8 -2.8zM141.3 409.7l2.8 2.8l-2.8 2.8l-2.8 -2.8zM142.4 409.7l2.8 2.8l-2.8 2.8l-2.8 -2.8zM143.6 409.7l2.8 2.8l-2.8 2.8l-2.8 -2.8zM144.7 409.3l2.8 2.8l-2.8 2.8l-2.8 -2.8zM145.8 408.6l2.8 2.8l-2.8 2.8l-2.8 -2.8zM146.9 408.1l2.8 2.8l-2.8 2.8l-2.8 -2.8zM148.1 407.8l2.8 2.8l-2.8 2.8l-2.8 -2.8zM149.2 407.9l2.8 2.8l-2.8 2.8l-2.8 -2.8zM150.3 408l2.8 2.8l-2.8 2.8l-2.8 -2.8zM151.5 408l2.8 2.8l-2.8 2.8l-2.8 -2.8zM152.6 407.9l2.8 2.8l-2.8 2.8l-2.8 -2.8zM153.7 407.7l2.8 2.8l-2.8 2.8l-2.8 -2.8zM154.8 406.9l2.8 2.8l-2.8 2.8l-2.8 -2.8zM156 407.1l2.8 2.8l-2.8 2.8l-2.8 -2.8zM157.1 407.3l2.8 2.8l-2.8 2.8l-2.8 -2.8zM158.2 407.4l2.8 2.8l-2.8 2.8l-2.8 -2.8zM159.3 407.2l2.8 2.8l-2.8 2.8l-2.8 -2.8zM160.5 407l2.8 2.8l-2.8 2.8l-2.8 -2.8zM161.6 407.1l2.8 2.8l-2.8 2.8l-2.8 -2.8zM162.7 406.3l2.8 2.8l-2.8 2.8l-2.8 -2.8zM163.9 405.6l2.8 2.8l-2.8 2.8l-2.8 -2.8zM165 405.3l2.8 2.8l-2.8 2.8l-2.8 -2.8zM166.1 406.2l2.8 2.8l-2.8 2.8l-2.8 -2.8zM167.2 406.2l2.8 2.8l-2.8 2.8l-2.8 -2.8zM168.4 406.2l2.8 2.8l-2.8 2.8l-2.8 -2.8zM169.5 405.2l2.8 2.8l-2.8 2.8l-2.8 -2.8zM170.6 405.1l2.8 2.8l-2.8 2.8l-2.8 -2.8zM171.7 405.2l2.8 2.8l-2.8 2.8l-2.8 -2.8zM172.9 404.7l2.8 2.8l-2.8 2.8l-2.8 -2.8zM174 403.9l2.8 2.8l-2.8 2.8l-2.8 -2.8zM175.1 403.8l2.8 2.8l-2.8 2.8l-2.8 -2.8zM176.3 404.3l2.8 2.8l-2.8 2.8l-2.8 -2.8zM177.4 404.8l2.8 2.8l-2.8 2.8l-2.8 -2.8zM178.5 404.8l2.8 2.8l-2.8 2.8l-2.8 -2.8zM179.6 404.9l2.8 2.8l-2.8 2.8l-2.8 -2.8zM180.8 404.2l2.8 2.8l-2.8 2.8l-2.8 -2.8zM181.9 403.7l2.8 2.8l-2.8 2.8l-2.8 -2.8zM183 403.5l2.8 2.8l-2.8 2.8l-2.8 -2.8zM184.1 403.8l2.8 2.8l-2.8 2.8l-2.8 -2.8zM185.3 403.5l2.8 2.8l-2.8 2.8l-2.8 -2.8zM186.4 403.3l2.8 2.8l-2.8 2.8l-2.8 -2.8zM187.5 403.2l2.8 2.8l-2.8 2.8l-2.8 -2.8zM188.6 402.7l2.8 2.8l-2.8 2.8l-2.8 -2.8zM189.8 402l2.8 2.8l-2.8 2.8l-2.8 -2.8zM190.9 401.4l2.8 2.8l-2.8 2.8l-2.8 -2.8zM192 401.7l2.8 2.8l-2.8 2.8l-2.8 -2.8zM193.2 401.1l2.8 2.8l-2.8 2.8l-2.8 -2.8zM194.3 401.6l2.8 2.8l-2.8 2.8l-2.8 -2.8zM195.4 400.7l2.8 2.8l-2.8 2.8l-2.8 -2.8zM196.5 401l2.8 2.8l-2.8 2.8l-2.8 -2.8zM197.7 400l2.8 2.8l-2.8 2.8l-2.8 -2.8zM198.8 400.1l2.8 2.8l-2.8 2.8l-2.8 -2.8zM199.9 400.2l2.8 2.8l-2.8 2.8l-2.8 -2.8zM201 400.7l2.8 2.8l-2.8 2.8l-2.8 -2.8zM202.2 400.9l2.8 2.8l-2.8 2.8l-2.8 -2.8zM203.3 400.3l2.8 2.8l-2.8 2.8l-2.8 -2.8zM204.4 399.7l2.8 2.8l-2.8 2.8l-2.8 -2.8zM205.6 399l2.8 2.8l-2.8 2.8l-2.8 -2.8zM206.7 399l2.8 2.8l-2.8 2.8l-2.8 -2.8zM207.8 398.5l2.8 2.8l-2.8 2.8l-2.8 -2.8zM208.9 398.4l2.8 2.8l-2.8 2.8l-2.8 -2.8zM210.1 398l2.8 2.8l-2.8 2.8l-2.8 -2.8zM211.2 398.1l2.8 2.8l-2.8 2.8l-2.8 -2.8zM212.3 397.5l2.8 2.8l-2.8 2.8l-2.8 -2.8zM213.4 397.3l2.8 2.8l-2.8 2.8l-2.8 -2.8zM214.6 396.3l2.8 2.8l-2.8 2.8l-2.8 -2.8zM215.7 395.6l2.8 2.8l-2.8 2.8l-2.8 -2.8zM216.8 394.6l2.8 2.8l-2.8 2.8l-2.8 -2.8zM218 394.2l2.8 2.8l-2.8 2.8l-2.8 -2.8zM219.1 393.8l2.8 2.8l-2.8 2.8l-2.8 -2.8zM220.2 394l2.8 2.8l-2.8 2.8l-2.8 -2.8zM221.3 393.2l2.8 2.8l-2.8 2.8l-2.8 -2.8zM222.5 393.8l2.8 2.8l-2.8 2.8l-2.8 -2.8zM223.6 392.9l2.8 2.8l-2.8 2.8l-2.8 -2.8zM224.7 393.2l2.8 2.8l-2.8 2.8l-2.8 -2.8zM225.8 392l2.8 2.8l-2.8 2.8l-2.8 -2.8zM227 390.7l2.8 2.8l-2.8 2.8l-2.8 -2.8zM228.1 389.7l2.8 2.8l-2.8 2.8l-2.8 -2.8zM229.2 389.3l2.8 2.8l-2.8 2.8l-2.8 -2.8zM230.3 388.8l2.8 2.8l-2.8 2.8l-2.8 -2.8zM231.5 388.5l2.8 2.8l-2.8 2.8l-2.8 -2.8zM232.6 387.2l2.8 2.8l-2.8 2.8l-2.8 -2.8zM233.7 387.3l2.8 2.8l-2.8 2.8l-2.8 -2.8zM234.9 386.5l2.8 2.8l-2.8 2.8l-2.8 -2.8zM236 385.7l2.8 2.8l-2.8 2.8l-2.8 -2.8zM237.1 385.3l2.8 2.8l-2.8 2.8l-2.8 -2.8zM238.2 384.4l2.8 2.8l-2.8 2.8l-2.8 -2.8zM239.4 384.2l2.8 2.8l-2.8 2.8l-2.8 -2.8zM240.5 383.8l2.8 2.8l-2.8 2.8l-2.8 -2.8zM241.6 384.5l2.8 2.8l-2.8 2.8l-2.8 -2.8zM242.7 384.3l2.8 2.8l-2.8 2.8l-2.8 -2.8zM243.9 383.7l2.8 2.8l-2.8 2.8l-2.8 -2.8zM245 382l2.8 2.8l-2.8 2.8l-2.8 -2.8zM246.1 381.2l2.8 2.8l-2.8 2.8l-2.8 -2.8zM247.3 380.5l2.8 2.8l-2.8 2.8l-2.8 -2.8zM248.4 380.5l2.8 2.8l-2.8 2.8l-2.8 -2.8zM249.5 380.3l2.8 2.8l-2.8 2.8l-2.8 -2.8zM250.6 380l2.8 2.8l-2.8 2.8l-2.8 -2.8zM251.8 379l2.8 2.8l-2.8 2.8l-2.8 -2.8zM252.9 379.2l2.8 2.8l-2.8 2.8l-2.8 -2.8zM254 377.9l2.8 2.8l-2.8 2.8l-2.8 -2.8zM255.1 377.7l2.8 2.8l-2.8 2.8l-2.8 -2.8zM256.3 376.5l2.8 2.8l-2.8 2.8l-2.8 -2.8zM257.4 376.6l2.8 2.8l-2.8 2.8l-2.8 -2.8zM258.5 375.6l2.8 2.8l-2.8 2.8l-2.8 -2.8zM259.6 374.5l2.8 2.8l-2.8 2.8l-2.8 -2.8zM260.8 373.9l2.8 2.8l-2.8 2.8l-2.8 -2.8zM261.9 373.7l2.8 2.8l-2.8 2.8l-2.8 -2.8zM263 373.2l2.8 2.8l-2.8 2.8l-2.8 -2.8zM264.2 372.4l2.8 2.8l-2.8 2.8l-2.8 -2.8zM265.3 371.9l2.8 2.8l-2.8 2.8l-2.8 -2.8zM266.4 372.1l2.8 2.8l-2.8 2.8l-2.8 -2.8zM267.5 371.6l2.8 2.8l-2.8 2.8l-2.8 -2.8zM268.7 370.6l2.8 2.8l-2.8 2.8l-2.8 -2.8zM269.8 369.4l2.8 2.8l-2.8 2.8l-2.8 -2.8zM270.9 369.7l2.8 2.8l-2.8 2.8l-2.8 -2.8zM272 369.3l2.8 2.8l-2.8 2.8l-2.8 -2.8zM273.2 368.7l2.8 2.8l-2.8 2.8l-2.8 -2.8zM274.3 367.3l2.8 2.8l-2.8 2.8l-2.8 -2.8zM275.4 366.9l2.8 2.8l-2.8 2.8l-2.8 -2.8zM276.6 366.1l2.8 2.8l-2.8 2.8l-2.8 -2.8zM277.7 363.8l2.8 2.8l-2.8 2.8l-2.8 -2.8zM278.8 361.3l2.8 2.8l-2.8 2.8l-2.8 -2.8zM279.9 358.9l2.8 2.8l-2.8 2.8l-2.8 -2.8zM281.1 357.1l2.8 2.8l-2.8 2.8l-2.8 -2.8zM282.2 354.6l2.8 2.8l-2.8 2.8l-2.8 -2.8zM283.3 352.2l2.8 2.8l-2.8 2.8l-2.8 -2.8zM284.4 349l2.8 2.8l-2.8 2.8l-2.8 -2.8zM285.6 344.9l2.8 2.8l-2.8 2.8l-2.8 -2.8z"/>
<path fill="#d4f4ec" d="M46.5 444.3h4.8v4.8h-4.8zM47.6 437.7h4.8v4.8h-4.8zM48.8 433.3h4.8v4.8h-4.8zM49.9 430.6h4.8v4.8h-4.8zM51 430.1h4.8v4.8h-4.8zM52.1 428.4h4.8v4.8h-4.8zM53.3 427.4h4.8v4.8h-4.8zM54.4 426.3h4.8v4.8h-4.8zM55.5 427h4.8v4.8h-4.8zM56.6 426.8h4.8v4.8h-4.8zM57.8 426.4h4.8v4.8h-4.8zM58.9 424.7h4.8v4.8h-4.8zM60 423.9h4.8v4.8h-4.8zM61.2 423.6h4.8v4.8h-4.8zM62.3 423h4.8v4.8h-4.8zM63.4 422.6h4.8v4.8h-4.8zM64.5 422.5h4.8v4.8h-4.8zM65.7 422.6h4.8v4.8h-4.8zM66.8 422.4h4.8v4.8h-4.8zM67.9 422.2h4.8v4.8h-4.8zM69 421.6h4.8v4.8h-4.8zM70.2 420.8h4.8v4.8h-4.8zM71.3 419.3h4.8v4.8h-4.8zM72.4 418.6h4.8v4.8h-4.8zM73.5 418.7h4.8v4.8h-4.8zM74.7 419.3h4.8v4.8h-4.8zM75.8 419.8h4.8v4.8h-4.8zM76.9 419.3h4.8v4.8h-4.8zM78.1 418.6h4.8v4.8h-4.8zM79.2 418.3h4.8v4.8h-4.8zM80.3 418.7h4.8v4.8h-4.8zM81.4 418.6h4.8v4.8h-4.8zM82.6 418.3h4.8v4.8h-4.8zM83.7 418.1h4.8v4.8h-4.8zM84.8 418.2h4.8v4.8h-4.8zM85.9 417.9h4.8v4.8h-4.8zM87.1 416.3h4.8v4.8h-4.8zM88.2 416.5h4.8v4.8h-4.8zM89.3 416.6h4.8v4.8h-4.8zM90.5 417.3h4.8v4.8h-4.8zM91.6 416.4h4.8v4.8h-4.8zM92.7 415.5h4.8v4.8h-4.8zM93.8 415.3h4.8v4.8h-4.8zM95 415.2h4.8v4.8h-4.8zM96.1 416h4.8v4.8h-4.8zM97.2 415.4h4.8v4.8h-4.8zM98.3 415.9h4.8v4.8h-4.8zM99.5 415.3h4.8v4.8h-4.8zM100.6 416.1h4.8v4.8h-4.8zM101.7 415h4.8v4.8h-4.8zM102.8 415h4.8v4.8h-4.8zM104 414.9h4.8v4.8h-4.8zM105.1 415.2h4.8v4.8h-4.8zM106.2 414.3h4.8v4.8h-4.8zM107.4 413.6h4.8v4.8h-4.8zM108.5 413.6h4.8v4.8h-4.8zM109.6 413.5h4.8v4.8h-4.8zM110.7 413h4.8v4.8h-4.8zM111.9 412.7h4.8v4.8h-4.8zM113 412.8h4.8v4.8h-4.8zM114.1 413.5h4.8v4.8h-4.8zM115.2 412.8h4.8v4.8h-4.8zM116.4 412.4h4.8v4.8h-4.8zM117.5 411.7h4.8v4.8h-4.8zM118.6 412.6h4.8v4.8h-4.8zM119.8 412.9h4.8v4.8h-4.8zM120.9 413.1h4.8v4.8h-4.8zM122 412.5h4.8v4.8h-4.8zM123.1 412.3h4.8v4.8h-4.8zM124.3 412.7h4.8v4.8h-4.8zM125.4 412.5h4.8v4.8h-4.8zM126.5 413h4.8v4.8h-4.8zM127.6 411.7h4.8v4.8h-4.8zM128.8 410.9h4.8v4.8h-4.8zM129.9 409.5h4.8v4.8h-4.8zM131 409.9h4.8v4.8h-4.8zM132.2 410.4h4.8v4.8h-4.8zM133.3 411.7h4.8v4.8h-4.8zM134.4 412.2h4.8v4.8h-4.8zM135.5 412.1h4.8v4.8h-4.8zM136.7 411.6h4.8v4.8h-4.8zM137.8 411.1h4.8v4.8h-4.8zM138.9 411.6h4.8v4.8h-4.8zM140 411.3h4.8v4.8h-4.8zM141.2 411.3h4.8v4.8h-4.8zM142.3 410.4h4.8v4.8h-4.8zM143.4 410.5h4.8v4.8h-4.8zM144.5 410.5h4.8v4.8h-4.8zM145.7 410.1h4.8v4.8h-4.8zM146.8 409.7h4.8v4.8h-4.8zM147.9 409.5h4.8v4.8h-4.8zM149.1 409.7h4.8v4.8h-4.8zM150.2 409.9h4.8v4.8h-4.8zM151.3 409.5h4.8v4.8h-4.8zM152.4 409.6h4.8v4.8h-4.8zM153.6 409.4h4.8v4.8h-4.8zM154.7 409.6h4.8v4.8h-4.8zM155.8 409.5h4.8v4.8h-4.8zM156.9 410.1h4.8v4.8h-4.8zM158.1 410.2h4.8v4.8h-4.8zM159.2 410.2h4.8v4.8h-4.8zM160.3 409.4h4.8v4.8h-4.8zM161.5 408.8h4.8v4.8h-4.8zM162.6 408.1h4.8v4.8h-4.8zM163.7 409.2h4.8v4.8h-4.8zM164.8 408.9h4.8v4.8h-4.8zM166 409.2h4.8v4.8h-4.8zM167.1 408.4h4.8v4.8h-4.8zM168.2 407.8h4.8v4.8h-4.8zM169.3 407.1h4.8v4.8h-4.8zM170.5 406.3h4.8v4.8h-4.8zM171.6 406.3h4.8v4.8h-4.8zM172.7 405.9h4.8v4.8h-4.8zM173.9 405.7h4.8v4.8h-4.8zM175 406.5h4.8v4.8h-4.8zM176.1 407.1h4.8v4.8h-4.8zM177.2 407.1h4.8v4.8h-4.8zM178.4 406.4h4.8v4.8h-4.8zM179.5 405.3h4.8v4.8h-4.8zM180.6 405.3h4.8v4.8h-4.8zM181.7 405.3h4.8v4.8h-4.8zM182.9 405.3h4.8v4.8h-4.8zM184 404.9h4.8v4.8h-4.8zM185.1 404.5h4.8v4.8h-4.8zM186.2 404.5h4.8v4.8h-4.8zM187.4 403.8h4.8v4.8h-4.8zM188.5 403.3h4.8v4.8h-4.8zM189.6 402.9h4.8v4.8h-4.8zM190.8 403.3h4.8v4.8h-4.8zM191.9 403.5h4.8v4.8h-4.8zM193 403.7h4.8v4.8h-4.8zM194.1 403.2h4.8v4.8h-4.8zM195.3 402.7h4.8v4.8h-4.8zM196.4 403.1h4.8v4.8h-4.8zM197.5 402.2h4.8v4.8h-4.8zM198.6 402.6h4.8v4.8h-4.8zM199.8 401.6h4.8v4.8h-4.8zM200.9 402.1h4.8v4.8h-4.8zM202 401.2h4.8v4.8h-4.8zM203.2 400.7h4.8v4.8h-4.8zM204.3 399.9h4.8v4.8h-4.8zM205.4 399.2h4.8v4.8h-4.8zM206.5 399h4.8v4.8h-4.8zM207.7 398.5h4.8v4.8h-4.8zM208.8 399h4.8v4.8h-4.8zM209.9 399.1h4.8v4.8h-4.8zM211 398.1h4.8v4.8h-4.8zM212.2 396.8h4.8v4.8h-4.8zM213.3 396.1h4.8v4.8h-4.8zM214.4 397.1h4.8v4.8h-4.8zM215.6 397.3h4.8v4.8h-4.8zM216.7 396.9h4.8v4.8h-4.8zM217.8 396.6h4.8v4.8h-4.8zM218.9 396.4h4.8v4.8h-4.8zM220.1 396.4h4.8v4.8h-4.8zM221.2 395.6h4.8v4.8h-4.8zM222.3 395.1h4.8v4.8h-4.8zM223.4 393.2h4.8v4.8h-4.8zM224.6 392.6h4.8v4.8h-4.8zM225.7 391.2h4.8v4.8h-4.8zM226.8 391.9h4.8v4.8h-4.8zM227.9 392.3h4.8v4.8h-4.8zM229.1 392.5h4.8v4.8h-4.8zM230.2 390.8h4.8v4.8h-4.8zM231.3 389.3h4.8v4.8h-4.8zM232.5 388.5h4.8v4.8h-4.8zM233.6 388.6h4.8v4.8h-4.8zM234.7 388.5h4.8v4.8h-4.8zM235.8 388.3h4.8v4.8h-4.8zM237 386.5h4.8v4.8h-4.8zM238.1 386.1h4.8v4.8h-4.8zM239.2 384.9h4.8v4.8h-4.8zM240.3 385.2h4.8v4.8h-4.8zM241.5 384.7h4.8v4.8h-4.8zM242.6 384.2h4.8v4.8h-4.8zM243.7 383.4h4.8v4.8h-4.8zM244.9 381.8h4.8v4.8h-4.8zM246 381.4h4.8v4.8h-4.8zM247.1 381.8h4.8v4.8h-4.8zM248.2 382.4h4.8v4.8h-4.8zM249.4 381.8h4.8v4.8h-4.8zM250.5 380.8h4.8v4.8h-4.8zM251.6 380.3h4.8v4.8h-4.8zM252.7 379.7h4.8v4.8h-4.8zM253.9 380h4.8v4.8h-4.8zM255 378.9h4.8v4.8h-4.8zM256.1 378.7h4.8v4.8h-4.8zM257.2 377.5h4.8v4.8h-4.8zM258.4 377h4.8v4.8h-4.8zM259.5 376.1h4.8v4.8h-4.8zM260.6 375.4h4.8v4.8h-4.8zM261.8 374.6h4.8v4.8h-4.8zM262.9 374h4.8v4.8h-4.8zM264 373.8h4.8v4.8h-4.8zM265.1 373.3h4.8v4.8h-4.8zM266.3 373h4.8v4.8h-4.8zM267.4 372.3h4.8v4.8h-4.8zM268.5 371.7h4.8v4.8h-4.8zM269.6 372h4.8v4.8h-4.8zM270.8 371.5h4.8v4.8h-4.8zM271.9 370.7h4.8v4.8h-4.8zM273 369.2h4.8v4.8h-4.8zM274.2 368.5h4.8v4.8h-4.8zM275.3 367.5h4.8v4.8h-4.8zM276.4 366.3h4.8v4.8h-4.8zM277.5 364.4h4.8v4.8h-4.8zM278.7 362.9h4.8v4.8h-4.8zM279.8 361.3h4.8v4.8h-4.8zM280.9 359.6h4.8v4.8h-4.8zM282 356.2h4.8v4.8h-4.8zM283.2 350h4.8v4.8h-4.8z"/>
<path fill="#ffff99" d="M48.9 449.1l1.8 3.6h-3.6zM50 443.5l1.8 3.6h-3.6zM51.2 437.5l1.8 3.6h-3.6zM52.3 434.3l1.8 3.6h-3.6zM53.4 432l1.8 3.6h-3.6zM54.5 431.4l1.8 3.6h-3.6zM55.7 431.1l1.8 3.6h-3.6zM56.8 430l1.8 3.6h-3.6zM57.9 428.8l1.8 3.6h-3.6zM59 427.4l1.8 3.6h-3.6zM60.2 426.6l1.8 3.6h-3.6zM61.3 425.2l1.8 3.6h-3.6zM62.4 424.2l1.8 3.6h-3.6zM63.6 423.5l1.8 3.6h-3.6zM64.7 423.6l1.8 3.6h-3.6zM65.8 423.4l1.8 3.6h-3.6zM66.9 423.5l1.8 3.6h-3.6zM68.1 423.2l1.8 3.6h-3.6zM69.2 423.1l1.8 3.6h-3.6zM70.3 422.4l1.8 3.6h-3.6zM71.4 422.5l1.8 3.6h-3.6zM72.6 421.4l1.8 3.6h-3.6zM73.7 421.5l1.8 3.6h-3.6zM74.8 421l1.8 3.6h-3.6zM75.9 421.1l1.8 3.6h-3.6zM77.1 420.2l1.8 3.6h-3.6zM78.2 420.1l1.8 3.6h-3.6zM79.3 419.9l1.8 3.6h-3.6zM80.5 420.6l1.8 3.6h-3.6zM81.6 420.5l1.8 3.6h-3.6zM82.7 420.5l1.8 3.6h-3.6zM83.8 420l1.8 3.6h-3.6zM85 419.9l1.8 3.6h-3.6zM86.1 419.8l1.8 3.6h-3.6zM87.2 419.3l1.8 3.6h-3.6zM88.3 418.8l1.8 3.6h-3.6zM89.5 418.7l1.8 3.6h-3.6zM90.6 418.9l1.8 3.6h-3.6zM91.7 418.8l1.8 3.6h-3.6zM92.9 418.3l1.8 3.6h-3.6zM94 418l1.8 3.6h-3.6zM95.1 417.4l1.8 3.6h-3.6zM96.2 416.7l1.8 3.6h-3.6zM97.4 417.1l1.8 3.6h-3.6zM98.5 417l1.8 3.6h-3.6zM99.6 417.6l1.8 3.6h-3.6zM100.7 416.3l1.8 3.6h-3.6zM101.9 416.5l1.8 3.6h-3.6zM103 415.9l1.8 3.6h-3.6zM104.1 417.6l1.8 3.6h-3.6zM105.2 417l1.8 3.6h-3.6zM106.4 416.8l1.8 3.6h-3.6zM107.5 415.8l1.8 3.6h-3.6zM108.6 416.5l1.8 3.6h-3.6zM109.8 415.9l1.8 3.6h-3.6zM110.9 415.5l1.8 3.6h-3.6zM112 415.2l1.8 3.6h-3.6zM113.1 415.5l1.8 3.6h-3.6zM114.3 415.5l1.8 3.6h-3.6zM115.4 414.8l1.8 3.6h-3.6zM116.5 414.8l1.8 3.6h-3.6zM117.6 414.2l1.8 3.6h-3.6zM118.8 414.1l1.8 3.6h-3.6zM119.9 413.8l1.8 3.6h-3.6zM121 414.7l1.8 3.6h-3.6zM122.2 414.6l1.8 3.6h-3.6zM123.3 414.7l1.8 3.6h-3.6zM124.4 414.1l1.8 3.6h-3.6zM125.5 414.1l1.8 3.6h-3.6zM126.7 414.8l1.8 3.6h-3.6zM127.8 414.2l1.8 3.6h-3.6zM128.9 414.3l1.8 3.6h-3.6zM130 413.6l1.8 3.6h-3.6zM131.2 413.7l1.8 3.6h-3.6zM132.3 413.3l1.8 3.6h-3.6zM133.4 413.1l1.8 3.6h-3.6zM134.6 413.6l1.8 3.6h-3.6zM135.7 413.2l1.8 3.6h-3.6zM136.8 412.9l1.8 3.6h-3.6zM137.9 412l1.8 3.6h-3.6zM139.1 412.4l1.8 3.6h-3.6zM140.2 412.6l1.8 3.6h-3.6zM141.3 413l1.8 3.6h-3.6zM142.4 412.1l1.8 3.6h-3.6zM143.6 411.9l1.8 3.6h-3.6zM144.7 411.4l1.8 3.6h-3.6zM145.8 411.7l1.8 3.6h-3.6zM146.9 411.5l1.8 3.6h-3.6zM148.1 410.6l1.8 3.6h-3.6zM149.2 410.7l1.8 3.6h-3.6zM150.3 410.6l1.8 3.6h-3.6zM151.5 410.7l1.8 3.6h-3.6zM152.6 410.4l1.8 3.6h-3.6zM153.7 410.9l1.8 3.6h-3.6zM154.8 411.1l1.8 3.6h-3.6zM156 411.3l1.8 3.6h-3.6zM157.1 410.4l1.8 3.6h-3.6zM158.2 410.1l1.8 3.6h-3.6zM159.3 409.4l1.8 3.6h-3.6zM160.5 409.2l1.8 3.6h-3.6zM161.6 409.9l1.8 3.6h-3.6zM162.7 410.5l1.8 3.6h-3.6zM163.9 410.2l1.8 3.6h-3.6zM165 409.9l1.8 3.6h-3.6zM166.1 409.4l1.8 3.6h-3.6zM167.2 409.3l1.8 3.6h-3.6zM168.4 408.9l1.8 3.6h-3.6zM169.5 408.4l1.8 3.6h-3.6zM170.6 407.9l1.8 3.6h-3.6zM171.7 408.1l1.8 3.6h-3.6zM172.9 407.6l1.8 3.6h-3.6zM174 408.3l1.8 3.6h-3.6zM175.1 407l1.8 3.6h-3.6zM176.3 407.5l1.8 3.6h-3.6zM177.4 407l1.8 3.6h-3.6zM178.5 407.3l1.8 3.6h-3.6zM179.6 406.2l1.8 3.6h-3.6zM180.8 406.1l1.8 3.6h-3.6zM181.9 406l1.8 3.6h-3.6zM183 406.4l1.8 3.6h-3.6zM184.1 406.2l1.8 3.6h-3.6zM185.3 406.4l1.8 3.6h-3.6zM186.4 406.2l1.8 3.6h-3.6zM187.5 406.1l1.8 3.6h-3.6zM188.6 405.1l1.8 3.6h-3.6zM189.8 405.3l1.8 3.6h-3.6zM190.9 405.2l1.8 3.6h-3.6zM192 406.4l1.8 3.6h-3.6zM193.2 406.4l1.8 3.6h-3.6zM194.3 406.1l1.8 3.6h-3.6zM195.4 405.4l1.8 3.6h-3.6zM196.5 404.4l1.8 3.6h-3.6zM197.7 404.4l1.8 3.6h-3.6zM198.8 403.4l1.8 3.6h-3.6zM199.9 403.3l1.8 3.6h-3.6zM201 403l1.8 3.6h-3.6zM202.2 403.1l1.8 3.6h-3.6zM203.3 403.6l1.8 3.6h-3.6zM204.4 402.3l1.8 3.6h-3.6zM205.6 402l1.8 3.6h-3.6zM206.7 401l1.8 3.6h-3.6zM207.8 401.2l1.8 3.6h-3.6zM208.9 400l1.8 3.6h-3.6zM210.1 400.3l1.8 3.6h-3.6zM211.2 400.1l1.8 3.6h-3.6zM212.3 400.2l1.8 3.6h-3.6zM213.4 398.9l1.8 3.6h-3.6zM214.6 398.1l1.8 3.6h-3.6zM215.7 398.7l1.8 3.6h-3.6zM216.8 398.7l1.8 3.6h-3.6zM218 398.5l1.8 3.6h-3.6zM219.1 397.7l1.8 3.6h-3.6zM220.2 397.2l1.8 3.6h-3.6zM221.3 397l1.8 3.6h-3.6zM222.5 396.5l1.8 3.6h-3.6zM223.6 396.1l1.8 3.6h-3.6zM224.7 395.8l1.8 3.6h-3.6zM225.8 394.5l1.8 3.6h-3.6zM227 393.9l1.8 3.6h-3.6zM228.1 392.8l1.8 3.6h-3.6zM229.2 392.8l1.8 3.6h-3.6zM230.3 392.2l1.8 3.6h-3.6zM231.5 391.6l1.8 3.6h-3.6zM232.6 390.8l1.8 3.6h-3.6zM233.7 390.7l1.8 3.6h-3.6zM234.9 390.1l1.8 3.6h-3.6zM236 389.2l1.8 3.6h-3.6zM237.1 388.5l1.8 3.6h-3.6zM238.2 388.5l1.8 3.6h-3.6zM239.4 388.3l1.8 3.6h-3.6zM240.5 387.5l1.8 3.6h-3.6zM241.6 386.2l1.8 3.6h-3.6zM242.7 385.7l1.8 3.6h-3.6zM243.9 385.5l1.8 3.6h-3.6zM245 385.6l1.8 3.6h-3.6zM246.1 385.2l1.8 3.6h-3.6zM247.3 384.2l1.8 3.6h-3.6zM248.4 382.7l1.8 3.6h-3.6zM249.5 382.2l1.8 3.6h-3.6zM250.6 382l1.8 3.6h-3.6zM251.8 382.6l1.8 3.6h-3.6zM252.9 382.8l1.8 3.6h-3.6zM254 382.3l1.8 3.6h-3.6zM255.1 381.7l1.8 3.6h-3.6zM256.3 380l1.8 3.6h-3.6zM257.4 379.8l1.8 3.6h-3.6zM258.5 379.2l1.8 3.6h-3.6zM259.6 379.7l1.8 3.6h-3.6zM260.8 378.9l1.8 3.6h-3.6zM261.9 378.2l1.8 3.6h-3.6zM263 377.7l1.8 3.6h-3.6zM264.2 376.6l1.8 3.6h-3.6zM265.3 376l1.8 3.6h-3.6zM266.4 375.3l1.8 3.6h-3.6zM267.5 374.7l1.8 3.6h-3.6zM268.7 373.5l1.8 3.6h-3.6zM269.8 372.8l1.8 3.6h-3.6zM270.9 372.7l1.8 3.6h-3.6zM272 372.9l1.8 3.6h-3.6zM273.2 372.5l1.8 3.6h-3.6zM274.3 371.5l1.8 3.6h-3.6zM275.4 370.7l1.8 3.6h-3.6zM276.6 370l1.8 3.6h-3.6zM277.7 369.1l1.8 3.6h-3.6zM278.8 367.6l1.8 3.6h-3.6zM279.9 365.2l1.8 3.6h-3.6zM281.1 364.1l1.8 3.6h-3.6zM282.2 363.2l1.8 3.6h-3.6zM283.3 361.2l1.8 3.6h-3.6zM284.4 358.5l1.8 3.6h-3.6zM285.6 352.4l1.8 3.6h-3.6z"/>
<path fill="none" stroke="#8ec6ff" stroke-width="0.6" d="M46.3 442.1l5.2 5.2m0 -5.2l-5.2 5.2M47.4 437.7l5.2 5.2m0 -5.2l-5.2 5.2M48.6 433.9l5.2 5.2m0 -5.2l-5.2 5.2M49.7 431.1l5.2 5.2m0 -5.2l-5.2 5.2M50.8 429.8l5.2 5.2m0 -5.2l-5.2 5.2M51.9 429.1l5.2 5.2m0 -5.2l-5.2 5.2M53.1 428.3l5.2 5.2m0 -5.2l-5.2 5.2M54.2 427.6l5.2 5.2m0 -5.2l-5.2 5.2M55.3 426.4l5.2 5.2m0 -5.2l-5.2 5.2M56.4 426.2l5.2 5.2m0 -5.2l-5.2 5.2M57.6 425.7l5.2 5.2m0 -5.2l-5.2 5.2M58.7 423.7l5.2 5.2m0 -5.2l-5.2 5.2M59.8 422.3l5.2 5.2m0 -5.2l-5.2 5.2M61 421.2l5.2 5.2m0 -5.2l-5.2 5.2M62.1 421.9l5.2 5.2m0 -5.2l-5.2 5.2M63.2 421.8l5.2 5.2m0 -5.2l-5.2 5.2M64.3 421.8l5.2 5.2m0 -5.2l-5.2 5.2M65.5 421.8l5.2 5.2m0 -5.2l-5.2 5.2M66.6 421.3l5.2 5.2m0 -5.2l-5.2 5.2M67.7 419.8l5.2 5.2m0 -5.2l-5.2 5.2M68.8 419.7l5.2 5.2m0 -5.2l-5.2 5.2M70 420.9l5.2 5.2m0 -5.2l-5.2 5.2M71.1 419.9l5.2 5.2m0 -5.2l-5.2 5.2M72.2 419.4l5.2 5.2m0 -5.2l-5.2 5.2M73.3 418l5.2 5.2m0 -5.2l-5.2 5.2M74.5 417.8l5.2 5.2m0 -5.2l-5.2 5.2M75.6 417.4l5.2 5.2m0 -5.2l-5.2 5.2M76.7 416.5l5.2 5.2m0 -5.2l-5.2 5.2M77.9 416.9l5.2 5.2m0 -5.2l-5.2 5.2M79 417.5l5.2 5.2m0 -5.2l-5.2 5.2M80.1 418.4l5.2 5.2m0 -5.2l-5.2 5.2M81.2 418.8l5.2 5.2m0 -5.2l-5.2 5.2M82.4 418.1l5.2 5.2m0 -5.2l-5.2 5.2M83.5 417.8l5.2 5.2m0 -5.2l-5.2 5.2M84.6 417.7l5.2 5.2m0 -5.2l-5.2 5.2M85.7 416.6l5.2 5.2m0 -5.2l-5.2 5.2M86.9 416l5.2 5.2m0 -5.2l-5.2 5.2M88 415.7l5.2 5.2m0 -5.2l-5.2 5.2M89.1 415.8l5.2 5.2m0 -5.2l-5.2 5.2M90.3 415.5l5.2 5.2m0 -5.2l-5.2 5.2M91.4 415.5l5.2 5.2m0 -5.2l-5.2 5.2M92.5 416.5l5.2 5.2m0 -5.2l-5.2 5.2M93.6 416.2l5.2 5.2m0 -5.2l-5.2 5.2M94.8 415l5.2 5.2m0 -5.2l-5.2 5.2M95.9 414.4l5.2 5.2m0 -5.2l-5.2 5.2M97 414.7l5.2 5.2m0 -5.2l-5.2 5.2M98.1 414.6l5.2 5.2m0 -5.2l-5.2 5.2M99.3 414.5l5.2 5.2m0 -5.2l-5.2 5.2M100.4 414.5l5.2 5.2m0 -5.2l-5.2 5.2M101.5 414.7l5.2 5.2m0 -5.2l-5.2 5.2M102.7 415.7l5.2 5.2m0 -5.2l-5.2 5.2M103.8 416l5.2 5.2m0 -5.2l-5.2 5.2M104.9 416.3l5.2 5.2m0 -5.2l-5.2 5.2M106 415.2l5.2 5.2m0 -5.2l-5.2 5.2M107.2 415.9l5.2 5.2m0 -5.2l-5.2 5.2M108.3 415.9l5.2 5.2m0 -5.2l-5.2 5.2M109.4 414.9l5.2 5.2m0 -5.2l-5.2 5.2M110.5 413.4l5.2 5.2m0 -5.2l-5.2 5.2M111.7 412.8l5.2 5.2m0 -5.2l-5.2 5.2M112.8 412.8l5.2 5.2m0 -5.2l-5.2 5.2M113.9 412.6l5.2 5.2m0 -5.2l-5.2 5.2M115 412.6l5.2 5.2m0 -5.2l-5.2 5.2M116.2 412.8l5.2 5.2m0 -5.2l-5.2 5.2M117.3 412.3l5.2 5.2m0 -5.2l-5.2 5.2M118.4 412.5l5.2 5.2m0 -5.2l-5.2 5.2M119.6 411.6l5.2 5.2m0 -5.2l-5.2 5.2M120.7 412.2l5.2 5.2m0 -5.2l-5.2 5.2M121.8 411.6l5.2 5.2m0 -5.2l-5.2 5.2M122.9 412.5l5.2 5.2m0 -5.2l-5.2 5.2M124.1 410.8l5.2 5.2m0 -5.2l-5.2 5.2M125.2 411.5l5.2 5.2m0 -5.2l-5.2 5.2M126.3 410.4l5.2 5.2m0 -5.2l-5.2 5.2M127.4 411l5.2 5.2m0 -5.2l-5.2 5.2M128.6 410.4l5.2 5.2m0 -5.2l-5.2 5.2M129.7 410.9l5.2 5.2m0 -5.2l-5.2 5.2M130.8 411l5.2 5.2m0 -5.2l-5.2 5.2M132 409.4l5.2 5.2m0 -5.2l-5.2 5.2M133.1 409.4l5.2 5.2m0 -5.2l-5.2 5.2M134.2 409.6l5.2 5.2m0 -5.2l-5.2 5.2M135.3 410.9l5.2 5.2m0 -5.2l-5.2 5.2M136.5 410.9l5.2 5.2m0 -5.2l-5.2 5.2M137.6 410.8l5.2 5.2m0 -5.2l-5.2 5.2M138.7 410.5l5.2 5.2m0 -5.2l-5.2 5.2M139.8 410.2l5.2 5.2m0 -5.2l-5.2 5.2M141 409.6l5.2 5.2m0 -5.2l-5.2 5.2M142.1 410.3l5.2 5.2m0 -5.2l-5.2 5.2M143.2 410.1l5.2 5.2m0 -5.2l-5.2 5.2M144.3 411l5.2 5.2m0 -5.2l-5.2 5.2M145.5 409.9l5.2 5.2m0 -5.2l-5.2 5.2M146.6 411l5.2 5.2m0 -5.2l-5.2 5.2M147.7 409.9l5.2 5.2m0 -5.2l-5.2 5.2M148.9 410l5.2 5.2m0 -5.2l-5.2 5.2M150 409.3l5.2 5.2m0 -5.2l-5.2 5.2M151.1 409.4l5.2 5.2m0 -5.2l-5.2 5.2M152.2 409.2l5.2 5.2m0 -5.2l-5.2 5.2M153.4 408.5l5.2 5.2m0 -5.2l-5.2 5.2M154.5 408.4l5.2 5.2m0 -5.2l-5.2 5.2M155.6 407.9l5.2 5.2m0 -5.2l-5.2 5.2M156.7 408.6l5.2 5.2m0 -5.2l-5.2 5.2M157.9 408.5l5.2 5.2m0 -5.2l-5.2 5.2M159 407.8l5.2 5.2m0 -5.2l-5.2 5.2M160.1 407.1l5.2 5.2m0 -5.2l-5.2 5.2M161.3 407l5.2 5.2m0 -5.2l-5.2 5.2M162.4 407.1l5.2 5.2m0 -5.2l-5.2 5.2M163.5 407.8l5.2 5.2m0 -5.2l-5.2 5.2M164.6 407.9l5.2 5.2m0 -5.2l-5.2 5.2M165.8 408.7l5.2 5.2m0 -5.2l-5.2 5.2M166.9 407.5l5.2 5.2m0 -5.2l-5.2 5.2M168 406.9l5.2 5.2m0 -5.2l-5.2 5.2M169.1 406.8l5.2 5.2m0 -5.2l-5.2 5.2M170.3 406.3l5.2 5.2m0 -5.2l-5.2 5.2M171.4 406.6l5.2 5.2m0 -5.2l-5.2 5.2M172.5 405.9l5.2 5.2m0 -5.2l-5.2 5.2M173.7 406.2l5.2 5.2m0 -5.2l-5.2 5.2M174.8 405.9l5.2 5.2m0 -5.2l-5.2 5.2M175.9 405.2l5.2 5.2m0 -5.2l-5.2 5.2M177 405.4l5.2 5.2m0 -5.2l-5.2 5.2M178.2 404.5l5.2 5.2m0 -5.2l-5.2 5.2M179.3 404.2l5.2 5.2m0 -5.2l-5.2 5.2M180.4 404.6l5.2 5.2m0 -5.2l-5.2 5.2M181.5 404.7l5.2 5.2m0 -5.2l-5.2 5.2M182.7 404l5.2 5.2m0 -5.2l-5.2 5.2M183.8 403.6l5.2 5.2m0 -5.2l-5.2 5.2M184.9 403.4l5.2 5.2m0 -5.2l-5.2 5.2M186 402.4l5.2 5.2m0 -5.2l-5.2 5.2M187.2 401.7l5.2 5.2m0 -5.2l-5.2 5.2M188.3 402.3l5.2 5.2m0 -5.2l-5.2 5.2M189.4 404.1l5.2 5.2m0 -5.2l-5.2 5.2M190.6 404.7l5.2 5.2m0 -5.2l-5.2 5.2M191.7 403.9l5.2 5.2m0 -5.2l-5.2 5.2M192.8 403.8l5.2 5.2m0 -5.2l-5.2 5.2M193.9 402.2l5.2 5.2m0 -5.2l-5.2 5.2M195.1 402.1l5.2 5.2m0 -5.2l-5.2 5.2M196.2 402.3l5.2 5.2m0 -5.2l-5.2 5.2M197.3 402.8l5.2 5.2m0 -5.2l-5.2 5.2M198.4 402.6l5.2 5.2m0 -5.2l-5.2 5.2M199.6 400.5l5.2 5.2m0 -5.2l-5.2 5.2M200.7 399.8l5.2 5.2m0 -5.2l-5.2 5.2M201.8 398.7l5.2 5.2m0 -5.2l-5.2 5.2M203 399.9l5.2 5.2m0 -5.2l-5.2 5.2M204.1 399.4l5.2 5.2m0 -5.2l-5.2 5.2M205.2 399.9l5.2 5.2m0 -5.2l-5.2 5.2M206.3 398.7l5.2 5.2m0 -5.2l-5.2 5.2M207.5 399.7l5.2 5.2m0 -5.2l-5.2 5.2M208.6 398.6l5.2 5.2m0 -5.2l-5.2 5.2M209.7 398.8l5.2 5.2m0 -5.2l-5.2 5.2M210.8 398.8l5.2 5.2m0 -5.2l-5.2 5.2M212 399.2l5.2 5.2m0 -5.2l-5.2 5.2M213.1 398.2l5.2 5.2m0 -5.2l-5.2 5.2M214.2 396.8l5.2 5.2m0 -5.2l-5.2 5.2M215.4 396.8l5.2 5.2m0 -5.2l-5.2 5.2M216.5 397.2l5.2 5.2m0 -5.2l-5.2 5.2M217.6 395.4l5.2 5.2m0 -5.2l-5.2 5.2M218.7 394.5l5.2 5.2m0 -5.2l-5.2 5.2M219.9 392.4l5.2 5.2m0 -5.2l-5.2 5.2M221 393.9l5.2 5.2m0 -5.2l-5.2 5.2M222.1 393.3l5.2 5.2m0 -5.2l-5.2 5.2M223.2 393.6l5.2 5.2m0 -5.2l-5.2 5.2M224.4 392.4l5.2 5.2m0 -5.2l-5.2 5.2M225.5 392.1l5.2 5.2m0 -5.2l-5.2 5.2M226.6 391.1l5.2 5.2m0 -5.2l-5.2 5.2M227.7 391.1l5.2 5.2m0 -5.2l-5.2 5.2M228.9 390.2l5.2 5.2m0 -5.2l-5.2 5.2M230 389.3l5.2 5.2m0 -5.2l-5.2 5.2M231.1 388.7l5.2 5.2m0 -5.2l-5.2 5.2M232.3 389l5.2 5.2m0 -5.2l-5.2 5.2M233.4 390l5.2 5.2m0 -5.2l-5.2 5.2M234.5 389l5.2 5.2m0 -5.2l-5.2 5.2M235.6 387.1l5.2 5.2m0 -5.2l-5.2 5.2M236.8 386.4l5.2 5.2m0 -5.2l-5.2 5.2M237.9 386.5l5.2 5.2m0 -5.2l-5.2 5.2M239 386.8l5.2 5.2m0 -5.2l-5.2 5.2M240.1 386.6l5.2 5.2m0 -5.2l-5.2 5.2M241.3 384.7l5.2 5.2m0 -5.2l-5.2 5.2M242.4 384.2l5.2 5.2m0 -5.2l-5.2 5.2M243.5 383.3l5.2 5.2m0 -5.2l-5.2 5.2M244.7 382.5l5.2 5.2m0 -5.2l-5.2 5.2M245.8 380.6l5.2 5.2m0 -5.2l-5.2 5.2M246.9 379.2l5.2 5.2m0 -5.2l-5.2 5.2M248 379.5l5.2 5.2m0 -5.2l-5.2 5.2M249.2 380.1l5.2 5.2m0 -5.2l-5.2 5.2M250.3 379.9l5.2 5.2m0 -5.2l-5.2 5.2M251.4 379.3l5.2 5.2m0 -5.2l-5.2 5.2M252.5 378.5l5.2 5.2m0 -5.2l-5.2 5.2M253.7 378.2l5.2 5.2m0 -5.2l-5.2 5.2M254.8 378l5.2 5.2m0 -5.2l-5.2 5.2M255.9 377.8l5.2 5.2m0 -5.2l-5.2 5.2M257 377.2l5.2 5.2m0 -5.2l-5.2 5.2M258.2 376.5l5.2 5.2m0 -5.2l-5.2 5.2M259.3 375.5l5.2 5.2m0 -5.2l-5.2 5.2M260.4 375.3l5.2 5.2m0 -5.2l-5.2 5.2M261.6 374.4l5.2 5.2m0 -5.2l-5.2 5.2M262.7 374.9l5.2 5.2m0 -5.2l-5.2 5.2M263.8 373.9l5.2 5.2m0 -5.2l-5.2 5.2M264.9 373.7l5.2 5.2m0 -5.2l-5.2 5.2M266.1 371.9l5.2 5.2m0 -5.2l-5.2 5.2M267.2 371.2l5.2 5.2m0 -5.2l-5.2 5.2M268.3 370.6l5.2 5.2m0 -5.2l-5.2 5.2M269.4 370.4l5.2 5.2m0 -5.2l-5.2 5.2M270.6 369.6l5.2 5.2m0 -5.2l-5.2 5.2M271.7 368.2l5.2 5.2m0 -5.2l-5.2 5.2M272.8 367.4l5.2 5.2m0 -5.2l-5.2 5.2M274 366.8l5.2 5.2m0 -5.2l-5.2 5.2M275.1 366.4l5.2 5.2m0 -5.2l-5.2 5.2M276.2 365.5l5.2 5.2m0 -5.2l-5.2 5.2M277.3 363.6l5.2 5.2m0 -5.2l-5.2 5.2M278.5 360.5l5.2 5.2m0 -5.2l-5.2 5.2M279.6 357.9l5.2 5.2m0 -5.2l-5.2 5.2M280.7 355l5.2 5.2m0 -5.2l-5.2 5.2M281.8 352.5l5.2 5.2m0 -5.2l-5.2 5.2M283 347.9l5.2 5.2m0 -5.2l-5.2 5.2"/>
<path fill="#ffff99" d="M285.7 297.4l2.4 4.8h-4.8z"/>
<path fill="#ccffff" d="M285.7 312.5l2.6 2.6l-2.6 2.6l-2.6 -2.6z"/></g>
<g filter="url(#gs)" opacity="0.92"><text transform="translate(48.9 400.9) scale(0.72 1)" text-anchor="middle" class="xl">0</text>
<text transform="translate(105.2 400.9) scale(0.72 1)" text-anchor="middle" class="xl">50</text>
<text transform="translate(161.6 400.9) scale(0.72 1)" text-anchor="middle" class="xl">100</text>
<text transform="translate(218 400.9) scale(0.72 1)" text-anchor="middle" class="xl">150</text>
<text transform="translate(274.3 400.9) scale(0.72 1)" text-anchor="middle" class="xl">200</text></g>
</g>
<g id="pD">
<rect x="353.2" y="279.7" width="238.5" height="244.9" fill="#c2c2c2"/>
<path d="M350.9 279.7H591.7" stroke="#8a8a8a" stroke-width="1"/>
<path d="M354.2 320.5H591.7M354.2 362H591.7M354.2 402.8H591.7M354.2 443.2H591.7M354.2 484.6H591.7" stroke="#cfcfcf" stroke-width="3.4"/>
<path d="M350.9 320.5H591.7M350.9 362H591.7M350.9 402.8H591.7M350.9 443.2H591.7M350.9 484.6H591.7M350.9 524.6H591.7" stroke="#5c5c5c" stroke-width="1.3"/>
<path d="M354.2 382.5H591.7" stroke="#cdcdcd" stroke-width="3.2"/>
<path d="M353.2 382.5H591.7" stroke="#7a7a7a" stroke-width="1.4"/>
<path d="M409.9 382.5v3M466.3 382.5v3M522.6 382.5v3M579 382.5v3" stroke="#666" stroke-width="0.9"/>
<path d="M353.2 279.7V524.6" stroke="#747474" stroke-width="1"/>
<g filter="url(#gs)"><text transform="translate(346.2 283.9) scale(.93 1.03)" text-anchor="end" class="yl">2.5</text>
<text transform="translate(346.2 324.8) scale(.93 1.03)" text-anchor="end" class="yl">1.5</text>
<text transform="translate(346.2 366.2) scale(.93 1.03)" text-anchor="end" class="yl">0.5</text>
<text transform="translate(346.2 407.1) scale(.93 1.03)" text-anchor="end" class="yl">-0.5</text>
<text transform="translate(346.2 447.4) scale(.93 1.03)" text-anchor="end" class="yl">-1.5</text>
<text transform="translate(346.2 488.9) scale(.93 1.03)" text-anchor="end" class="yl">-2.5</text>
<text transform="translate(346.2 528.9) scale(.93 1.03)" text-anchor="end" class="yl">-3.5</text>
<text x="361.6" y="298.7" class="pl">D</text>
<text transform="translate(317.2 402.7) rotate(-90)" text-anchor="middle" class="yt">ppm deviation</text></g>
<g filter="url(#sb)"><path fill="#000080" d="M351.5 405.4a2.2 2.2 0 1 0 4.4 0a2.2 2.2 0 1 0 -4.4 0zM352.6 402.2a2.2 2.2 0 1 0 4.4 0a2.2 2.2 0 1 0 -4.4 0zM353.8 399a2.2 2.2 0 1 0 4.4 0a2.2 2.2 0 1 0 -4.4 0zM354.9 398.7a2.2 2.2 0 1 0 4.4 0a2.2 2.2 0 1 0 -4.4 0zM356 397.4a2.2 2.2 0 1 0 4.4 0a2.2 2.2 0 1 0 -4.4 0zM357.1 397.7a2.2 2.2 0 1 0 4.4 0a2.2 2.2 0 1 0 -4.4 0zM358.3 396.5a2.2 2.2 0 1 0 4.4 0a2.2 2.2 0 1 0 -4.4 0zM359.4 396.5a2.2 2.2 0 1 0 4.4 0a2.2 2.2 0 1 0 -4.4 0zM360.5 395.5a2.2 2.2 0 1 0 4.4 0a2.2 2.2 0 1 0 -4.4 0zM361.6 395a2.2 2.2 0 1 0 4.4 0a2.2 2.2 0 1 0 -4.4 0zM362.8 394.2a2.2 2.2 0 1 0 4.4 0a2.2 2.2 0 1 0 -4.4 0zM363.9 394.1a2.2 2.2 0 1 0 4.4 0a2.2 2.2 0 1 0 -4.4 0zM365 394.1a2.2 2.2 0 1 0 4.4 0a2.2 2.2 0 1 0 -4.4 0zM366.2 394.4a2.2 2.2 0 1 0 4.4 0a2.2 2.2 0 1 0 -4.4 0zM367.3 394.3a2.2 2.2 0 1 0 4.4 0a2.2 2.2 0 1 0 -4.4 0zM368.4 393a2.2 2.2 0 1 0 4.4 0a2.2 2.2 0 1 0 -4.4 0zM369.5 392.1a2.2 2.2 0 1 0 4.4 0a2.2 2.2 0 1 0 -4.4 0zM370.7 391a2.2 2.2 0 1 0 4.4 0a2.2 2.2 0 1 0 -4.4 0zM371.8 391.6a2.2 2.2 0 1 0 4.4 0a2.2 2.2 0 1 0 -4.4 0zM372.9 391.8a2.2 2.2 0 1 0 4.4 0a2.2 2.2 0 1 0 -4.4 0zM374 391.8a2.2 2.2 0 1 0 4.4 0a2.2 2.2 0 1 0 -4.4 0zM375.2 391.4a2.2 2.2 0 1 0 4.4 0a2.2 2.2 0 1 0 -4.4 0zM376.3 391.1a2.2 2.2 0 1 0 4.4 0a2.2 2.2 0 1 0 -4.4 0zM377.4 391.3a2.2 2.2 0 1 0 4.4 0a2.2 2.2 0 1 0 -4.4 0zM378.5 392.2a2.2 2.2 0 1 0 4.4 0a2.2 2.2 0 1 0 -4.4 0zM379.7 392.1a2.2 2.2 0 1 0 4.4 0a2.2 2.2 0 1 0 -4.4 0zM380.8 392.2a2.2 2.2 0 1 0 4.4 0a2.2 2.2 0 1 0 -4.4 0zM381.9 392.2a2.2 2.2 0 1 0 4.4 0a2.2 2.2 0 1 0 -4.4 0zM383.1 391.7a2.2 2.2 0 1 0 4.4 0a2.2 2.2 0 1 0 -4.4 0zM384.2 391.4a2.2 2.2 0 1 0 4.4 0a2.2 2.2 0 1 0 -4.4 0zM385.3 390.3a2.2 2.2 0 1 0 4.4 0a2.2 2.2 0 1 0 -4.4 0zM386.4 390.4a2.2 2.2 0 1 0 4.4 0a2.2 2.2 0 1 0 -4.4 0zM387.6 390.6a2.2 2.2 0 1 0 4.4 0a2.2 2.2 0 1 0 -4.4 0zM388.7 391.3a2.2 2.2 0 1 0 4.4 0a2.2 2.2 0 1 0 -4.4 0zM389.8 391a2.2 2.2 0 1 0 4.4 0a2.2 2.2 0 1 0 -4.4 0zM390.9 390.2a2.2 2.2 0 1 0 4.4 0a2.2 2.2 0 1 0 -4.4 0zM392.1 389.3a2.2 2.2 0 1 0 4.4 0a2.2 2.2 0 1 0 -4.4 0zM393.2 388.7a2.2 2.2 0 1 0 4.4 0a2.2 2.2 0 1 0 -4.4 0zM394.3 388.8a2.2 2.2 0 1 0 4.4 0a2.2 2.2 0 1 0 -4.4 0zM395.5 389.3a2.2 2.2 0 1 0 4.4 0a2.2 2.2 0 1 0 -4.4 0zM396.6 388.8a2.2 2.2 0 1 0 4.4 0a2.2 2.2 0 1 0 -4.4 0zM397.7 387.9a2.2 2.2 0 1 0 4.4 0a2.2 2.2 0 1 0 -4.4 0zM398.8 387.7a2.2 2.2 0 1 0 4.4 0a2.2 2.2 0 1 0 -4.4 0zM400 387.9a2.2 2.2 0 1 0 4.4 0a2.2 2.2 0 1 0 -4.4 0zM401.1 388.6a2.2 2.2 0 1 0 4.4 0a2.2 2.2 0 1 0 -4.4 0zM402.2 387.5a2.2 2.2 0 1 0 4.4 0a2.2 2.2 0 1 0 -4.4 0zM403.3 388.2a2.2 2.2 0 1 0 4.4 0a2.2 2.2 0 1 0 -4.4 0zM404.5 388.2a2.2 2.2 0 1 0 4.4 0a2.2 2.2 0 1 0 -4.4 0zM405.6 388.6a2.2 2.2 0 1 0 4.4 0a2.2 2.2 0 1 0 -4.4 0zM406.7 388.5a2.2 2.2 0 1 0 4.4 0a2.2 2.2 0 1 0 -4.4 0zM407.9 388.2a2.2 2.2 0 1 0 4.4 0a2.2 2.2 0 1 0 -4.4 0zM409 388.2a2.2 2.2 0 1 0 4.4 0a2.2 2.2 0 1 0 -4.4 0zM410.1 388.4a2.2 2.2 0 1 0 4.4 0a2.2 2.2 0 1 0 -4.4 0zM411.2 388.7a2.2 2.2 0 1 0 4.4 0a2.2 2.2 0 1 0 -4.4 0zM412.4 388.2a2.2 2.2 0 1 0 4.4 0a2.2 2.2 0 1 0 -4.4 0zM413.5 387.2a2.2 2.2 0 1 0 4.4 0a2.2 2.2 0 1 0 -4.4 0zM414.6 386.6a2.2 2.2 0 1 0 4.4 0a2.2 2.2 0 1 0 -4.4 0zM415.7 386.6a2.2 2.2 0 1 0 4.4 0a2.2 2.2 0 1 0 -4.4 0zM416.9 386.9a2.2 2.2 0 1 0 4.4 0a2.2 2.2 0 1 0 -4.4 0zM418 386.6a2.2 2.2 0 1 0 4.4 0a2.2 2.2 0 1 0 -4.4 0zM419.1 386.9a2.2 2.2 0 1 0 4.4 0a2.2 2.2 0 1 0 -4.4 0zM420.2 386.8a2.2 2.2 0 1 0 4.4 0a2.2 2.2 0 1 0 -4.4 0zM421.4 387a2.2 2.2 0 1 0 4.4 0a2.2 2.2 0 1 0 -4.4 0zM422.5 386.7a2.2 2.2 0 1 0 4.4 0a2.2 2.2 0 1 0 -4.4 0zM423.6 386.8a2.2 2.2 0 1 0 4.4 0a2.2 2.2 0 1 0 -4.4 0zM424.8 386.2a2.2 2.2 0 1 0 4.4 0a2.2 2.2 0 1 0 -4.4 0zM425.9 386.7a2.2 2.2 0 1 0 4.4 0a2.2 2.2 0 1 0 -4.4 0zM427 386.5a2.2 2.2 0 1 0 4.4 0a2.2 2.2 0 1 0 -4.4 0zM428.1 387a2.2 2.2 0 1 0 4.4 0a2.2 2.2 0 1 0 -4.4 0zM429.3 386.5a2.2 2.2 0 1 0 4.4 0a2.2 2.2 0 1 0 -4.4 0zM430.4 386.7a2.2 2.2 0 1 0 4.4 0a2.2 2.2 0 1 0 -4.4 0zM431.5 386.7a2.2 2.2 0 1 0 4.4 0a2.2 2.2 0 1 0 -4.4 0zM432.6 386.5a2.2 2.2 0 1 0 4.4 0a2.2 2.2 0 1 0 -4.4 0zM433.8 386a2.2 2.2 0 1 0 4.4 0a2.2 2.2 0 1 0 -4.4 0zM434.9 385.1a2.2 2.2 0 1 0 4.4 0a2.2 2.2 0 1 0 -4.4 0zM436 385a2.2 2.2 0 1 0 4.4 0a2.2 2.2 0 1 0 -4.4 0zM437.2 384.8a2.2 2.2 0 1 0 4.4 0a2.2 2.2 0 1 0 -4.4 0zM438.3 385.2a2.2 2.2 0 1 0 4.4 0a2.2 2.2 0 1 0 -4.4 0zM439.4 385.9a2.2 2.2 0 1 0 4.4 0a2.2 2.2 0 1 0 -4.4 0zM440.5 385.2a2.2 2.2 0 1 0 4.4 0a2.2 2.2 0 1 0 -4.4 0zM441.7 385.3a2.2 2.2 0 1 0 4.4 0a2.2 2.2 0 1 0 -4.4 0zM442.8 384.8a2.2 2.2 0 1 0 4.4 0a2.2 2.2 0 1 0 -4.4 0zM443.9 385.6a2.2 2.2 0 1 0 4.4 0a2.2 2.2 0 1 0 -4.4 0zM445 386a2.2 2.2 0 1 0 4.4 0a2.2 2.2 0 1 0 -4.4 0zM446.2 385a2.2 2.2 0 1 0 4.4 0a2.2 2.2 0 1 0 -4.4 0zM447.3 384.3a2.2 2.2 0 1 0 4.4 0a2.2 2.2 0 1 0 -4.4 0zM448.4 384a2.2 2.2 0 1 0 4.4 0a2.2 2.2 0 1 0 -4.4 0zM449.5 384.2a2.2 2.2 0 1 0 4.4 0a2.2 2.2 0 1 0 -4.4 0zM450.7 385a2.2 2.2 0 1 0 4.4 0a2.2 2.2 0 1 0 -4.4 0zM451.8 384.8a2.2 2.2 0 1 0 4.4 0a2.2 2.2 0 1 0 -4.4 0zM452.9 384.9a2.2 2.2 0 1 0 4.4 0a2.2 2.2 0 1 0 -4.4 0zM454.1 384.4a2.2 2.2 0 1 0 4.4 0a2.2 2.2 0 1 0 -4.4 0zM455.2 384.1a2.2 2.2 0 1 0 4.4 0a2.2 2.2 0 1 0 -4.4 0zM456.3 384a2.2 2.2 0 1 0 4.4 0a2.2 2.2 0 1 0 -4.4 0zM457.4 383.5a2.2 2.2 0 1 0 4.4 0a2.2 2.2 0 1 0 -4.4 0zM458.6 383.5a2.2 2.2 0 1 0 4.4 0a2.2 2.2 0 1 0 -4.4 0zM459.7 383.2a2.2 2.2 0 1 0 4.4 0a2.2 2.2 0 1 0 -4.4 0zM460.8 383.4a2.2 2.2 0 1 0 4.4 0a2.2 2.2 0 1 0 -4.4 0zM461.9 382.9a2.2 2.2 0 1 0 4.4 0a2.2 2.2 0 1 0 -4.4 0zM463.1 382.4a2.2 2.2 0 1 0 4.4 0a2.2 2.2 0 1 0 -4.4 0zM464.2 382.4a2.2 2.2 0 1 0 4.4 0a2.2 2.2 0 1 0 -4.4 0zM465.3 382.9a2.2 2.2 0 1 0 4.4 0a2.2 2.2 0 1 0 -4.4 0zM466.5 383a2.2 2.2 0 1 0 4.4 0a2.2 2.2 0 1 0 -4.4 0zM467.6 382.6a2.2 2.2 0 1 0 4.4 0a2.2 2.2 0 1 0 -4.4 0zM468.7 382.1a2.2 2.2 0 1 0 4.4 0a2.2 2.2 0 1 0 -4.4 0zM469.8 383.1a2.2 2.2 0 1 0 4.4 0a2.2 2.2 0 1 0 -4.4 0zM471 382.5a2.2 2.2 0 1 0 4.4 0a2.2 2.2 0 1 0 -4.4 0zM472.1 383.4a2.2 2.2 0 1 0 4.4 0a2.2 2.2 0 1 0 -4.4 0zM473.2 382.3a2.2 2.2 0 1 0 4.4 0a2.2 2.2 0 1 0 -4.4 0zM474.3 382.9a2.2 2.2 0 1 0 4.4 0a2.2 2.2 0 1 0 -4.4 0zM475.5 382.1a2.2 2.2 0 1 0 4.4 0a2.2 2.2 0 1 0 -4.4 0zM476.6 382.2a2.2 2.2 0 1 0 4.4 0a2.2 2.2 0 1 0 -4.4 0zM477.7 382.2a2.2 2.2 0 1 0 4.4 0a2.2 2.2 0 1 0 -4.4 0zM478.9 382.5a2.2 2.2 0 1 0 4.4 0a2.2 2.2 0 1 0 -4.4 0zM480 382.5a2.2 2.2 0 1 0 4.4 0a2.2 2.2 0 1 0 -4.4 0zM481.1 381.7a2.2 2.2 0 1 0 4.4 0a2.2 2.2 0 1 0 -4.4 0zM482.2 382.1a2.2 2.2 0 1 0 4.4 0a2.2 2.2 0 1 0 -4.4 0zM483.4 382.6a2.2 2.2 0 1 0 4.4 0a2.2 2.2 0 1 0 -4.4 0zM484.5 382.8a2.2 2.2 0 1 0 4.4 0a2.2 2.2 0 1 0 -4.4 0zM485.6 381.9a2.2 2.2 0 1 0 4.4 0a2.2 2.2 0 1 0 -4.4 0zM486.7 381.4a2.2 2.2 0 1 0 4.4 0a2.2 2.2 0 1 0 -4.4 0zM487.9 381.3a2.2 2.2 0 1 0 4.4 0a2.2 2.2 0 1 0 -4.4 0zM489 381.8a2.2 2.2 0 1 0 4.4 0a2.2 2.2 0 1 0 -4.4 0zM490.1 381.2a2.2 2.2 0 1 0 4.4 0a2.2 2.2 0 1 0 -4.4 0zM491.2 381.1a2.2 2.2 0 1 0 4.4 0a2.2 2.2 0 1 0 -4.4 0zM492.4 380.3a2.2 2.2 0 1 0 4.4 0a2.2 2.2 0 1 0 -4.4 0zM493.5 381a2.2 2.2 0 1 0 4.4 0a2.2 2.2 0 1 0 -4.4 0zM494.6 381.5a2.2 2.2 0 1 0 4.4 0a2.2 2.2 0 1 0 -4.4 0zM495.8 381.7a2.2 2.2 0 1 0 4.4 0a2.2 2.2 0 1 0 -4.4 0zM496.9 381.3a2.2 2.2 0 1 0 4.4 0a2.2 2.2 0 1 0 -4.4 0zM498 381.1a2.2 2.2 0 1 0 4.4 0a2.2 2.2 0 1 0 -4.4 0zM499.1 380.9a2.2 2.2 0 1 0 4.4 0a2.2 2.2 0 1 0 -4.4 0zM500.3 380.3a2.2 2.2 0 1 0 4.4 0a2.2 2.2 0 1 0 -4.4 0zM501.4 380.1a2.2 2.2 0 1 0 4.4 0a2.2 2.2 0 1 0 -4.4 0zM502.5 380.2a2.2 2.2 0 1 0 4.4 0a2.2 2.2 0 1 0 -4.4 0zM503.6 380.4a2.2 2.2 0 1 0 4.4 0a2.2 2.2 0 1 0 -4.4 0zM504.8 380.4a2.2 2.2 0 1 0 4.4 0a2.2 2.2 0 1 0 -4.4 0zM505.9 380.2a2.2 2.2 0 1 0 4.4 0a2.2 2.2 0 1 0 -4.4 0zM507 379.6a2.2 2.2 0 1 0 4.4 0a2.2 2.2 0 1 0 -4.4 0zM508.2 379.1a2.2 2.2 0 1 0 4.4 0a2.2 2.2 0 1 0 -4.4 0zM509.3 378.9a2.2 2.2 0 1 0 4.4 0a2.2 2.2 0 1 0 -4.4 0zM510.4 380.1a2.2 2.2 0 1 0 4.4 0a2.2 2.2 0 1 0 -4.4 0zM511.5 379.8a2.2 2.2 0 1 0 4.4 0a2.2 2.2 0 1 0 -4.4 0zM512.7 379.7a2.2 2.2 0 1 0 4.4 0a2.2 2.2 0 1 0 -4.4 0zM513.8 379.1a2.2 2.2 0 1 0 4.4 0a2.2 2.2 0 1 0 -4.4 0zM514.9 379.1a2.2 2.2 0 1 0 4.4 0a2.2 2.2 0 1 0 -4.4 0zM516 378.5a2.2 2.2 0 1 0 4.4 0a2.2 2.2 0 1 0 -4.4 0zM517.2 378.3a2.2 2.2 0 1 0 4.4 0a2.2 2.2 0 1 0 -4.4 0zM518.3 378a2.2 2.2 0 1 0 4.4 0a2.2 2.2 0 1 0 -4.4 0zM519.4 378.9a2.2 2.2 0 1 0 4.4 0a2.2 2.2 0 1 0 -4.4 0zM520.5 379.6a2.2 2.2 0 1 0 4.4 0a2.2 2.2 0 1 0 -4.4 0zM521.7 379.2a2.2 2.2 0 1 0 4.4 0a2.2 2.2 0 1 0 -4.4 0zM522.8 378.3a2.2 2.2 0 1 0 4.4 0a2.2 2.2 0 1 0 -4.4 0zM523.9 377.1a2.2 2.2 0 1 0 4.4 0a2.2 2.2 0 1 0 -4.4 0zM525.1 377.1a2.2 2.2 0 1 0 4.4 0a2.2 2.2 0 1 0 -4.4 0zM526.2 377.1a2.2 2.2 0 1 0 4.4 0a2.2 2.2 0 1 0 -4.4 0zM527.3 377.3a2.2 2.2 0 1 0 4.4 0a2.2 2.2 0 1 0 -4.4 0zM528.4 377.8a2.2 2.2 0 1 0 4.4 0a2.2 2.2 0 1 0 -4.4 0zM529.6 377.5a2.2 2.2 0 1 0 4.4 0a2.2 2.2 0 1 0 -4.4 0zM530.7 376.8a2.2 2.2 0 1 0 4.4 0a2.2 2.2 0 1 0 -4.4 0zM531.8 375.7a2.2 2.2 0 1 0 4.4 0a2.2 2.2 0 1 0 -4.4 0zM532.9 376.5a2.2 2.2 0 1 0 4.4 0a2.2 2.2 0 1 0 -4.4 0zM534.1 377.4a2.2 2.2 0 1 0 4.4 0a2.2 2.2 0 1 0 -4.4 0zM535.2 377.4a2.2 2.2 0 1 0 4.4 0a2.2 2.2 0 1 0 -4.4 0zM536.3 376.3a2.2 2.2 0 1 0 4.4 0a2.2 2.2 0 1 0 -4.4 0zM537.5 375.8a2.2 2.2 0 1 0 4.4 0a2.2 2.2 0 1 0 -4.4 0zM538.6 376.6a2.2 2.2 0 1 0 4.4 0a2.2 2.2 0 1 0 -4.4 0zM539.7 377.4a2.2 2.2 0 1 0 4.4 0a2.2 2.2 0 1 0 -4.4 0zM540.8 377.4a2.2 2.2 0 1 0 4.4 0a2.2 2.2 0 1 0 -4.4 0zM542 377.1a2.2 2.2 0 1 0 4.4 0a2.2 2.2 0 1 0 -4.4 0zM543.1 376.8a2.2 2.2 0 1 0 4.4 0a2.2 2.2 0 1 0 -4.4 0zM544.2 376.5a2.2 2.2 0 1 0 4.4 0a2.2 2.2 0 1 0 -4.4 0zM545.3 376.8a2.2 2.2 0 1 0 4.4 0a2.2 2.2 0 1 0 -4.4 0zM546.5 376.6a2.2 2.2 0 1 0 4.4 0a2.2 2.2 0 1 0 -4.4 0zM547.6 376.4a2.2 2.2 0 1 0 4.4 0a2.2 2.2 0 1 0 -4.4 0zM548.7 375.5a2.2 2.2 0 1 0 4.4 0a2.2 2.2 0 1 0 -4.4 0zM549.9 374.9a2.2 2.2 0 1 0 4.4 0a2.2 2.2 0 1 0 -4.4 0zM551 375.2a2.2 2.2 0 1 0 4.4 0a2.2 2.2 0 1 0 -4.4 0zM552.1 375.6a2.2 2.2 0 1 0 4.4 0a2.2 2.2 0 1 0 -4.4 0zM553.2 375.6a2.2 2.2 0 1 0 4.4 0a2.2 2.2 0 1 0 -4.4 0zM554.4 375.9a2.2 2.2 0 1 0 4.4 0a2.2 2.2 0 1 0 -4.4 0zM555.5 376.2a2.2 2.2 0 1 0 4.4 0a2.2 2.2 0 1 0 -4.4 0zM556.6 376.7a2.2 2.2 0 1 0 4.4 0a2.2 2.2 0 1 0 -4.4 0zM557.7 375.8a2.2 2.2 0 1 0 4.4 0a2.2 2.2 0 1 0 -4.4 0zM558.9 374.7a2.2 2.2 0 1 0 4.4 0a2.2 2.2 0 1 0 -4.4 0zM560 374.3a2.2 2.2 0 1 0 4.4 0a2.2 2.2 0 1 0 -4.4 0zM561.1 374.2a2.2 2.2 0 1 0 4.4 0a2.2 2.2 0 1 0 -4.4 0zM562.2 373.9a2.2 2.2 0 1 0 4.4 0a2.2 2.2 0 1 0 -4.4 0zM563.4 373.8a2.2 2.2 0 1 0 4.4 0a2.2 2.2 0 1 0 -4.4 0zM564.5 374a2.2 2.2 0 1 0 4.4 0a2.2 2.2 0 1 0 -4.4 0zM565.6 374.5a2.2 2.2 0 1 0 4.4 0a2.2 2.2 0 1 0 -4.4 0zM566.8 374a2.2 2.2 0 1 0 4.4 0a2.2 2.2 0 1 0 -4.4 0zM567.9 374.5a2.2 2.2 0 1 0 4.4 0a2.2 2.2 0 1 0 -4.4 0zM569 374.5a2.2 2.2 0 1 0 4.4 0a2.2 2.2 0 1 0 -4.4 0zM570.1 375a2.2 2.2 0 1 0 4.4 0a2.2 2.2 0 1 0 -4.4 0zM571.3 373.8a2.2 2.2 0 1 0 4.4 0a2.2 2.2 0 1 0 -4.4 0zM572.4 373.7a2.2 2.2 0 1 0 4.4 0a2.2 2.2 0 1 0 -4.4 0zM573.5 373a2.2 2.2 0 1 0 4.4 0a2.2 2.2 0 1 0 -4.4 0zM574.6 373.5a2.2 2.2 0 1 0 4.4 0a2.2 2.2 0 1 0 -4.4 0zM575.8 372.9a2.2 2.2 0 1 0 4.4 0a2.2 2.2 0 1 0 -4.4 0zM576.9 372.2a2.2 2.2 0 1 0 4.4 0a2.2 2.2 0 1 0 -4.4 0zM578 371a2.2 2.2 0 1 0 4.4 0a2.2 2.2 0 1 0 -4.4 0zM579.2 370.6a2.2 2.2 0 1 0 4.4 0a2.2 2.2 0 1 0 -4.4 0zM580.3 370.5a2.2 2.2 0 1 0 4.4 0a2.2 2.2 0 1 0 -4.4 0zM581.4 369.8a2.2 2.2 0 1 0 4.4 0a2.2 2.2 0 1 0 -4.4 0zM582.5 368.2a2.2 2.2 0 1 0 4.4 0a2.2 2.2 0 1 0 -4.4 0zM583.7 366.9a2.2 2.2 0 1 0 4.4 0a2.2 2.2 0 1 0 -4.4 0zM584.8 365.4a2.2 2.2 0 1 0 4.4 0a2.2 2.2 0 1 0 -4.4 0zM585.9 363.5a2.2 2.2 0 1 0 4.4 0a2.2 2.2 0 1 0 -4.4 0zM587 360.3a2.2 2.2 0 1 0 4.4 0a2.2 2.2 0 1 0 -4.4 0zM588.2 352.3a2.2 2.2 0 1 0 4.4 0a2.2 2.2 0 1 0 -4.4 0z"/>
<path fill="#ff00ff" d="M351.6 400.6h4.2v4.2h-4.2zM352.7 397.8h4.2v4.2h-4.2zM353.9 395.9h4.2v4.2h-4.2zM355 394.9h4.2v4.2h-4.2zM356.1 394.5h4.2v4.2h-4.2zM357.2 393.6h4.2v4.2h-4.2zM358.4 393.2h4.2v4.2h-4.2zM359.5 392.8h4.2v4.2h-4.2zM360.6 392.5h4.2v4.2h-4.2zM361.7 392.3h4.2v4.2h-4.2zM362.9 391.2h4.2v4.2h-4.2zM364 391.2h4.2v4.2h-4.2zM365.1 390.5h4.2v4.2h-4.2zM366.3 390.6h4.2v4.2h-4.2zM367.4 389.9h4.2v4.2h-4.2zM368.5 390.2h4.2v4.2h-4.2zM369.6 389.8h4.2v4.2h-4.2zM370.8 389.2h4.2v4.2h-4.2zM371.9 388.1h4.2v4.2h-4.2zM373 388h4.2v4.2h-4.2zM374.1 387.7h4.2v4.2h-4.2zM375.3 388.4h4.2v4.2h-4.2zM376.4 388.9h4.2v4.2h-4.2zM377.5 388.4h4.2v4.2h-4.2zM378.6 387.7h4.2v4.2h-4.2zM379.8 387.2h4.2v4.2h-4.2zM380.9 388.3h4.2v4.2h-4.2zM382 388.7h4.2v4.2h-4.2zM383.2 388.6h4.2v4.2h-4.2zM384.3 388.2h4.2v4.2h-4.2zM385.4 388.1h4.2v4.2h-4.2zM386.5 388.4h4.2v4.2h-4.2zM387.7 388.3h4.2v4.2h-4.2zM388.8 387.5h4.2v4.2h-4.2zM389.9 386.6h4.2v4.2h-4.2zM391 386.3h4.2v4.2h-4.2zM392.2 386.3h4.2v4.2h-4.2zM393.3 386.2h4.2v4.2h-4.2zM394.4 385.8h4.2v4.2h-4.2zM395.6 385.7h4.2v4.2h-4.2zM396.7 385.9h4.2v4.2h-4.2zM397.8 385.8h4.2v4.2h-4.2zM398.9 385.5h4.2v4.2h-4.2zM400.1 384.8h4.2v4.2h-4.2zM401.2 384.8h4.2v4.2h-4.2zM402.3 385.8h4.2v4.2h-4.2zM403.4 386h4.2v4.2h-4.2zM404.6 386.4h4.2v4.2h-4.2zM405.7 385.8h4.2v4.2h-4.2zM406.8 384.8h4.2v4.2h-4.2zM407.9 384.3h4.2v4.2h-4.2zM409.1 383.8h4.2v4.2h-4.2zM410.2 383.9h4.2v4.2h-4.2zM411.3 383.3h4.2v4.2h-4.2zM412.5 384.2h4.2v4.2h-4.2zM413.6 384h4.2v4.2h-4.2zM414.7 384.1h4.2v4.2h-4.2zM415.8 383.8h4.2v4.2h-4.2zM417 384.5h4.2v4.2h-4.2zM418.1 384h4.2v4.2h-4.2zM419.2 383.5h4.2v4.2h-4.2zM420.3 383h4.2v4.2h-4.2zM421.5 383.4h4.2v4.2h-4.2zM422.6 383.7h4.2v4.2h-4.2zM423.7 383.6h4.2v4.2h-4.2zM424.9 383.4h4.2v4.2h-4.2zM426 383.6h4.2v4.2h-4.2zM427.1 383.1h4.2v4.2h-4.2zM428.2 383h4.2v4.2h-4.2zM429.4 382.6h4.2v4.2h-4.2zM430.5 382.7h4.2v4.2h-4.2zM431.6 382.5h4.2v4.2h-4.2zM432.7 381.8h4.2v4.2h-4.2zM433.9 382.2h4.2v4.2h-4.2zM435 382.2h4.2v4.2h-4.2zM436.1 382.8h4.2v4.2h-4.2zM437.3 383h4.2v4.2h-4.2zM438.4 383.2h4.2v4.2h-4.2zM439.5 382.7h4.2v4.2h-4.2zM440.6 382.3h4.2v4.2h-4.2zM441.8 382.3h4.2v4.2h-4.2zM442.9 381.9h4.2v4.2h-4.2zM444 382.1h4.2v4.2h-4.2zM445.1 382.1h4.2v4.2h-4.2zM446.3 382.7h4.2v4.2h-4.2zM447.4 381.7h4.2v4.2h-4.2zM448.5 381.9h4.2v4.2h-4.2zM449.6 382.3h4.2v4.2h-4.2zM450.8 382.9h4.2v4.2h-4.2zM451.9 382h4.2v4.2h-4.2zM453 381.2h4.2v4.2h-4.2zM454.2 380.8h4.2v4.2h-4.2zM455.3 381.3h4.2v4.2h-4.2zM456.4 381.2h4.2v4.2h-4.2zM457.5 381.3h4.2v4.2h-4.2zM458.7 380.9h4.2v4.2h-4.2zM459.8 381h4.2v4.2h-4.2zM460.9 380.5h4.2v4.2h-4.2zM462 380.6h4.2v4.2h-4.2zM463.2 380.8h4.2v4.2h-4.2zM464.3 380.8h4.2v4.2h-4.2zM465.4 380.9h4.2v4.2h-4.2zM466.6 380.2h4.2v4.2h-4.2zM467.7 380.1h4.2v4.2h-4.2zM468.8 379.7h4.2v4.2h-4.2zM469.9 380.4h4.2v4.2h-4.2zM471.1 380.2h4.2v4.2h-4.2zM472.2 380.6h4.2v4.2h-4.2zM473.3 379.6h4.2v4.2h-4.2zM474.4 379.7h4.2v4.2h-4.2zM475.6 379.6h4.2v4.2h-4.2zM476.7 380.2h4.2v4.2h-4.2zM477.8 379.9h4.2v4.2h-4.2zM479 379h4.2v4.2h-4.2zM480.1 379h4.2v4.2h-4.2zM481.2 378.9h4.2v4.2h-4.2zM482.3 379.4h4.2v4.2h-4.2zM483.5 378.9h4.2v4.2h-4.2zM484.6 379.2h4.2v4.2h-4.2zM485.7 379.7h4.2v4.2h-4.2zM486.8 380.4h4.2v4.2h-4.2zM488 380.6h4.2v4.2h-4.2zM489.1 379.2h4.2v4.2h-4.2zM490.2 378.7h4.2v4.2h-4.2zM491.3 378.4h4.2v4.2h-4.2zM492.5 378.7h4.2v4.2h-4.2zM493.6 379h4.2v4.2h-4.2zM494.7 378.3h4.2v4.2h-4.2zM495.9 378.4h4.2v4.2h-4.2zM497 377.9h4.2v4.2h-4.2zM498.1 378.1h4.2v4.2h-4.2zM499.2 378.5h4.2v4.2h-4.2zM500.4 378h4.2v4.2h-4.2zM501.5 378.2h4.2v4.2h-4.2zM502.6 377.5h4.2v4.2h-4.2zM503.7 377.1h4.2v4.2h-4.2zM504.9 376.5h4.2v4.2h-4.2zM506 376h4.2v4.2h-4.2zM507.1 377h4.2v4.2h-4.2zM508.3 377.7h4.2v4.2h-4.2zM509.4 378.2h4.2v4.2h-4.2zM510.5 377.9h4.2v4.2h-4.2zM511.6 376.7h4.2v4.2h-4.2zM512.8 376.5h4.2v4.2h-4.2zM513.9 376.1h4.2v4.2h-4.2zM515 377.2h4.2v4.2h-4.2zM516.1 377.5h4.2v4.2h-4.2zM517.3 378.4h4.2v4.2h-4.2zM518.4 378.1h4.2v4.2h-4.2zM519.5 377.9h4.2v4.2h-4.2zM520.6 376.6h4.2v4.2h-4.2zM521.8 376.3h4.2v4.2h-4.2zM522.9 375.5h4.2v4.2h-4.2zM524 376.1h4.2v4.2h-4.2zM525.2 375.5h4.2v4.2h-4.2zM526.3 375.8h4.2v4.2h-4.2zM527.4 375.1h4.2v4.2h-4.2zM528.5 375.3h4.2v4.2h-4.2zM529.7 375.4h4.2v4.2h-4.2zM530.8 375.4h4.2v4.2h-4.2zM531.9 375.6h4.2v4.2h-4.2zM533 375h4.2v4.2h-4.2zM534.2 375.6h4.2v4.2h-4.2zM535.3 375.2h4.2v4.2h-4.2zM536.4 375.8h4.2v4.2h-4.2zM537.6 376h4.2v4.2h-4.2zM538.7 375.2h4.2v4.2h-4.2zM539.8 374.5h4.2v4.2h-4.2zM540.9 373.6h4.2v4.2h-4.2zM542.1 374.7h4.2v4.2h-4.2zM543.2 374.8h4.2v4.2h-4.2zM544.3 375h4.2v4.2h-4.2zM545.4 374.2h4.2v4.2h-4.2zM546.6 374.5h4.2v4.2h-4.2zM547.7 373.9h4.2v4.2h-4.2zM548.8 374.3h4.2v4.2h-4.2zM550 373h4.2v4.2h-4.2zM551.1 372.7h4.2v4.2h-4.2zM552.2 372.9h4.2v4.2h-4.2zM553.3 374h4.2v4.2h-4.2zM554.5 374.2h4.2v4.2h-4.2zM555.6 374.3h4.2v4.2h-4.2zM556.7 374.5h4.2v4.2h-4.2zM557.8 375.1h4.2v4.2h-4.2zM559 374.1h4.2v4.2h-4.2zM560.1 373.8h4.2v4.2h-4.2zM561.2 373.5h4.2v4.2h-4.2zM562.3 372.9h4.2v4.2h-4.2zM563.5 372.8h4.2v4.2h-4.2zM564.6 372.4h4.2v4.2h-4.2zM565.7 373.3h4.2v4.2h-4.2zM566.9 373.4h4.2v4.2h-4.2zM568 373h4.2v4.2h-4.2zM569.1 372.1h4.2v4.2h-4.2zM570.2 371.5h4.2v4.2h-4.2zM571.4 371.7h4.2v4.2h-4.2zM572.5 371.5h4.2v4.2h-4.2zM573.6 371h4.2v4.2h-4.2zM574.7 370.7h4.2v4.2h-4.2zM575.9 370.6h4.2v4.2h-4.2zM577 370.6h4.2v4.2h-4.2zM578.1 370h4.2v4.2h-4.2zM579.3 368.9h4.2v4.2h-4.2zM580.4 367.1h4.2v4.2h-4.2zM581.5 366.5h4.2v4.2h-4.2zM582.6 365.7h4.2v4.2h-4.2zM583.8 365.2h4.2v4.2h-4.2zM584.9 363.6h4.2v4.2h-4.2zM586 361.6h4.2v4.2h-4.2zM587.1 358.8h4.2v4.2h-4.2zM588.3 350h4.2v4.2h-4.2z"/>
<path fill="#ffff00" d="M353.7 406.3l2.4 4.8h-4.8zM354.8 400.6l2.4 4.8h-4.8zM356 397.4l2.4 4.8h-4.8zM357.1 396.1l2.4 4.8h-4.8zM358.2 396.7l2.4 4.8h-4.8zM359.3 396.3l2.4 4.8h-4.8zM360.5 395.3l2.4 4.8h-4.8zM361.6 394.1l2.4 4.8h-4.8zM362.7 394.5l2.4 4.8h-4.8zM363.8 394.3l2.4 4.8h-4.8zM365 394.8l2.4 4.8h-4.8zM366.1 393.4l2.4 4.8h-4.8zM367.2 393.7l2.4 4.8h-4.8zM368.4 392l2.4 4.8h-4.8zM369.5 391.6l2.4 4.8h-4.8zM370.6 390.6l2.4 4.8h-4.8zM371.7 390.2l2.4 4.8h-4.8zM372.9 389.4l2.4 4.8h-4.8zM374 390l2.4 4.8h-4.8zM375.1 389.8l2.4 4.8h-4.8zM376.2 390.5l2.4 4.8h-4.8zM377.4 390.1l2.4 4.8h-4.8zM378.5 390.1l2.4 4.8h-4.8zM379.6 389.9l2.4 4.8h-4.8zM380.7 389.6l2.4 4.8h-4.8zM381.9 389.5l2.4 4.8h-4.8zM383 389.4l2.4 4.8h-4.8zM384.1 389.3l2.4 4.8h-4.8zM385.3 388.9l2.4 4.8h-4.8zM386.4 388.3l2.4 4.8h-4.8zM387.5 387.8l2.4 4.8h-4.8zM388.6 388.1l2.4 4.8h-4.8zM389.8 388.8l2.4 4.8h-4.8zM390.9 389.4l2.4 4.8h-4.8zM392 389.3l2.4 4.8h-4.8zM393.1 389l2.4 4.8h-4.8zM394.3 388.3l2.4 4.8h-4.8zM395.4 388.4l2.4 4.8h-4.8zM396.5 388l2.4 4.8h-4.8zM397.7 387.9l2.4 4.8h-4.8zM398.8 387.2l2.4 4.8h-4.8zM399.9 387l2.4 4.8h-4.8zM401 387.4l2.4 4.8h-4.8zM402.2 386.9l2.4 4.8h-4.8zM403.3 386.7l2.4 4.8h-4.8zM404.4 385.7l2.4 4.8h-4.8zM405.5 386.3l2.4 4.8h-4.8zM406.7 386.8l2.4 4.8h-4.8zM407.8 386.8l2.4 4.8h-4.8zM408.9 385.4l2.4 4.8h-4.8zM410.1 384.8l2.4 4.8h-4.8zM411.2 385l2.4 4.8h-4.8zM412.3 385.3l2.4 4.8h-4.8zM413.4 384.9l2.4 4.8h-4.8zM414.6 384.5l2.4 4.8h-4.8zM415.7 384.2l2.4 4.8h-4.8zM416.8 384.4l2.4 4.8h-4.8zM417.9 384.5l2.4 4.8h-4.8zM419.1 385.3l2.4 4.8h-4.8zM420.2 384.6l2.4 4.8h-4.8zM421.3 384.1l2.4 4.8h-4.8zM422.4 383.7l2.4 4.8h-4.8zM423.6 384.1l2.4 4.8h-4.8zM424.7 383.9l2.4 4.8h-4.8zM425.8 384.5l2.4 4.8h-4.8zM427 384.4l2.4 4.8h-4.8zM428.1 383.9l2.4 4.8h-4.8zM429.2 383.9l2.4 4.8h-4.8zM430.3 383.7l2.4 4.8h-4.8zM431.5 384.2l2.4 4.8h-4.8zM432.6 383.5l2.4 4.8h-4.8zM433.7 382.7l2.4 4.8h-4.8zM434.8 382.9l2.4 4.8h-4.8zM436 381.9l2.4 4.8h-4.8zM437.1 382.1l2.4 4.8h-4.8zM438.2 382.4l2.4 4.8h-4.8zM439.4 383.6l2.4 4.8h-4.8zM440.5 383.7l2.4 4.8h-4.8zM441.6 382.8l2.4 4.8h-4.8zM442.7 382.6l2.4 4.8h-4.8zM443.9 382.6l2.4 4.8h-4.8zM445 382.9l2.4 4.8h-4.8zM446.1 382.7l2.4 4.8h-4.8zM447.2 382.2l2.4 4.8h-4.8zM448.4 382.3l2.4 4.8h-4.8zM449.5 381.3l2.4 4.8h-4.8zM450.6 382l2.4 4.8h-4.8zM451.7 381.1l2.4 4.8h-4.8zM452.9 381.5l2.4 4.8h-4.8zM454 380.7l2.4 4.8h-4.8zM455.1 381.4l2.4 4.8h-4.8zM456.3 381.8l2.4 4.8h-4.8zM457.4 382l2.4 4.8h-4.8zM458.5 381.9l2.4 4.8h-4.8zM459.6 381.7l2.4 4.8h-4.8zM460.8 381.4l2.4 4.8h-4.8zM461.9 380.4l2.4 4.8h-4.8zM463 379.4l2.4 4.8h-4.8zM464.1 378.5l2.4 4.8h-4.8zM465.3 379l2.4 4.8h-4.8zM466.4 379.7l2.4 4.8h-4.8zM467.5 380.3l2.4 4.8h-4.8zM468.7 380.3l2.4 4.8h-4.8zM469.8 380.2l2.4 4.8h-4.8zM470.9 379.8l2.4 4.8h-4.8zM472 379.1l2.4 4.8h-4.8zM473.2 378.4l2.4 4.8h-4.8zM474.3 379.1l2.4 4.8h-4.8zM475.4 379.8l2.4 4.8h-4.8zM476.5 379.9l2.4 4.8h-4.8zM477.7 379.3l2.4 4.8h-4.8zM478.8 379l2.4 4.8h-4.8zM479.9 379.9l2.4 4.8h-4.8zM481.1 379.7l2.4 4.8h-4.8zM482.2 379.5l2.4 4.8h-4.8zM483.3 379.3l2.4 4.8h-4.8zM484.4 378.8l2.4 4.8h-4.8zM485.6 378.3l2.4 4.8h-4.8zM486.7 377.8l2.4 4.8h-4.8zM487.8 378.1l2.4 4.8h-4.8zM488.9 379l2.4 4.8h-4.8zM490.1 379.2l2.4 4.8h-4.8zM491.2 379.4l2.4 4.8h-4.8zM492.3 378.2l2.4 4.8h-4.8zM493.4 378.1l2.4 4.8h-4.8zM494.6 378.2l2.4 4.8h-4.8zM495.7 378.2l2.4 4.8h-4.8zM496.8 377.6l2.4 4.8h-4.8zM498 376.8l2.4 4.8h-4.8zM499.1 376.8l2.4 4.8h-4.8zM500.2 377.2l2.4 4.8h-4.8zM501.3 378l2.4 4.8h-4.8zM502.5 378.1l2.4 4.8h-4.8zM503.6 378l2.4 4.8h-4.8zM504.7 377.3l2.4 4.8h-4.8zM505.8 376.8l2.4 4.8h-4.8zM507 376.9l2.4 4.8h-4.8zM508.1 377.1l2.4 4.8h-4.8zM509.2 376.9l2.4 4.8h-4.8zM510.4 376.5l2.4 4.8h-4.8zM511.5 376.6l2.4 4.8h-4.8zM512.6 377l2.4 4.8h-4.8zM513.7 376.8l2.4 4.8h-4.8zM514.9 376.2l2.4 4.8h-4.8zM516 376l2.4 4.8h-4.8zM517.1 376.4l2.4 4.8h-4.8zM518.2 376.5l2.4 4.8h-4.8zM519.4 376.1l2.4 4.8h-4.8zM520.5 375.5l2.4 4.8h-4.8zM521.6 374.9l2.4 4.8h-4.8zM522.8 375.1l2.4 4.8h-4.8zM523.9 374.8l2.4 4.8h-4.8zM525 375.4l2.4 4.8h-4.8zM526.1 375.3l2.4 4.8h-4.8zM527.3 375.7l2.4 4.8h-4.8zM528.4 376l2.4 4.8h-4.8zM529.5 375.8l2.4 4.8h-4.8zM530.6 375l2.4 4.8h-4.8zM531.8 374.3l2.4 4.8h-4.8zM532.9 374.2l2.4 4.8h-4.8zM534 374.5l2.4 4.8h-4.8zM535.1 374l2.4 4.8h-4.8zM536.3 374.1l2.4 4.8h-4.8zM537.4 374l2.4 4.8h-4.8zM538.5 373.3l2.4 4.8h-4.8zM539.7 372.9l2.4 4.8h-4.8zM540.8 372.9l2.4 4.8h-4.8zM541.9 374l2.4 4.8h-4.8zM543 373.8l2.4 4.8h-4.8zM544.2 373.3l2.4 4.8h-4.8zM545.3 373.2l2.4 4.8h-4.8zM546.4 373.1l2.4 4.8h-4.8zM547.5 373.3l2.4 4.8h-4.8zM548.7 373l2.4 4.8h-4.8zM549.8 373.3l2.4 4.8h-4.8zM550.9 373.2l2.4 4.8h-4.8zM552.1 372.6l2.4 4.8h-4.8zM553.2 372.6l2.4 4.8h-4.8zM554.3 372.3l2.4 4.8h-4.8zM555.4 372.4l2.4 4.8h-4.8zM556.6 372.7l2.4 4.8h-4.8zM557.7 373l2.4 4.8h-4.8zM558.8 372.7l2.4 4.8h-4.8zM559.9 371.7l2.4 4.8h-4.8zM561.1 371.2l2.4 4.8h-4.8zM562.2 371.2l2.4 4.8h-4.8zM563.3 370.5l2.4 4.8h-4.8zM564.4 370.7l2.4 4.8h-4.8zM565.6 371.1l2.4 4.8h-4.8zM566.7 371.7l2.4 4.8h-4.8zM567.8 371.1l2.4 4.8h-4.8zM569 370.7l2.4 4.8h-4.8zM570.1 370.6l2.4 4.8h-4.8zM571.2 370.1l2.4 4.8h-4.8zM572.3 369.6l2.4 4.8h-4.8zM573.5 368.9l2.4 4.8h-4.8zM574.6 369.1l2.4 4.8h-4.8zM575.7 368.9l2.4 4.8h-4.8zM576.8 368.2l2.4 4.8h-4.8zM578 367.3l2.4 4.8h-4.8zM579.1 367.3l2.4 4.8h-4.8zM580.2 366.9l2.4 4.8h-4.8zM581.4 366.4l2.4 4.8h-4.8zM582.5 364.8l2.4 4.8h-4.8zM583.6 364.6l2.4 4.8h-4.8zM584.7 363.4l2.4 4.8h-4.8zM585.9 362.1l2.4 4.8h-4.8zM587 359.6l2.4 4.8h-4.8zM588.1 357l2.4 4.8h-4.8zM589.2 353.5l2.4 4.8h-4.8zM590.4 344.7l2.4 4.8h-4.8z"/>
<path fill="none" stroke="#00ffff" stroke-width="1.5" d="M351.4 403.3l4.6 4.6m0 -4.6l-4.6 4.6M352.5 398.6l4.6 4.6m0 -4.6l-4.6 4.6M353.7 396.1l4.6 4.6m0 -4.6l-4.6 4.6M354.8 395.3l4.6 4.6m0 -4.6l-4.6 4.6M355.9 394.6l4.6 4.6m0 -4.6l-4.6 4.6M357 394.3l4.6 4.6m0 -4.6l-4.6 4.6M358.2 393.8l4.6 4.6m0 -4.6l-4.6 4.6M359.3 394.1l4.6 4.6m0 -4.6l-4.6 4.6M360.4 393.6l4.6 4.6m0 -4.6l-4.6 4.6M361.5 393.4l4.6 4.6m0 -4.6l-4.6 4.6M362.7 392.7l4.6 4.6m0 -4.6l-4.6 4.6M363.8 392.4l4.6 4.6m0 -4.6l-4.6 4.6M364.9 391.7l4.6 4.6m0 -4.6l-4.6 4.6M366.1 391.1l4.6 4.6m0 -4.6l-4.6 4.6M367.2 390.5l4.6 4.6m0 -4.6l-4.6 4.6M368.3 389.6l4.6 4.6m0 -4.6l-4.6 4.6M369.4 389.5l4.6 4.6m0 -4.6l-4.6 4.6M370.6 389.3l4.6 4.6m0 -4.6l-4.6 4.6M371.7 389.8l4.6 4.6m0 -4.6l-4.6 4.6M372.8 390.1l4.6 4.6m0 -4.6l-4.6 4.6M373.9 390.1l4.6 4.6m0 -4.6l-4.6 4.6M375.1 390.1l4.6 4.6m0 -4.6l-4.6 4.6M376.2 389.4l4.6 4.6m0 -4.6l-4.6 4.6M377.3 389.4l4.6 4.6m0 -4.6l-4.6 4.6M378.4 389l4.6 4.6m0 -4.6l-4.6 4.6M379.6 388.9l4.6 4.6m0 -4.6l-4.6 4.6M380.7 388.6l4.6 4.6m0 -4.6l-4.6 4.6M381.8 388.9l4.6 4.6m0 -4.6l-4.6 4.6M383 389.4l4.6 4.6m0 -4.6l-4.6 4.6M384.1 389l4.6 4.6m0 -4.6l-4.6 4.6M385.2 388.1l4.6 4.6m0 -4.6l-4.6 4.6M386.3 387.5l4.6 4.6m0 -4.6l-4.6 4.6M387.5 387.8l4.6 4.6m0 -4.6l-4.6 4.6M388.6 388.1l4.6 4.6m0 -4.6l-4.6 4.6M389.7 388.2l4.6 4.6m0 -4.6l-4.6 4.6M390.8 388.2l4.6 4.6m0 -4.6l-4.6 4.6M392 387.8l4.6 4.6m0 -4.6l-4.6 4.6M393.1 387l4.6 4.6m0 -4.6l-4.6 4.6M394.2 386l4.6 4.6m0 -4.6l-4.6 4.6M395.4 386.1l4.6 4.6m0 -4.6l-4.6 4.6M396.5 386.3l4.6 4.6m0 -4.6l-4.6 4.6M397.6 386.7l4.6 4.6m0 -4.6l-4.6 4.6M398.7 386l4.6 4.6m0 -4.6l-4.6 4.6M399.9 385.4l4.6 4.6m0 -4.6l-4.6 4.6M401 384.6l4.6 4.6m0 -4.6l-4.6 4.6M402.1 384.4l4.6 4.6m0 -4.6l-4.6 4.6M403.2 384l4.6 4.6m0 -4.6l-4.6 4.6M404.4 383.9l4.6 4.6m0 -4.6l-4.6 4.6M405.5 384.2l4.6 4.6m0 -4.6l-4.6 4.6M406.6 384.6l4.6 4.6m0 -4.6l-4.6 4.6M407.8 385.1l4.6 4.6m0 -4.6l-4.6 4.6M408.9 385l4.6 4.6m0 -4.6l-4.6 4.6M410 384.6l4.6 4.6m0 -4.6l-4.6 4.6M411.1 384.3l4.6 4.6m0 -4.6l-4.6 4.6M412.3 384.3l4.6 4.6m0 -4.6l-4.6 4.6M413.4 384.3l4.6 4.6m0 -4.6l-4.6 4.6M414.5 384.2l4.6 4.6m0 -4.6l-4.6 4.6M415.6 383.9l4.6 4.6m0 -4.6l-4.6 4.6M416.8 383.7l4.6 4.6m0 -4.6l-4.6 4.6M417.9 383.6l4.6 4.6m0 -4.6l-4.6 4.6M419 383.3l4.6 4.6m0 -4.6l-4.6 4.6M420.1 383.6l4.6 4.6m0 -4.6l-4.6 4.6M421.3 383l4.6 4.6m0 -4.6l-4.6 4.6M422.4 383.4l4.6 4.6m0 -4.6l-4.6 4.6M423.5 382.6l4.6 4.6m0 -4.6l-4.6 4.6M424.7 383.4l4.6 4.6m0 -4.6l-4.6 4.6M425.8 383.4l4.6 4.6m0 -4.6l-4.6 4.6M426.9 383.5l4.6 4.6m0 -4.6l-4.6 4.6M428 382.8l4.6 4.6m0 -4.6l-4.6 4.6M429.2 382.1l4.6 4.6m0 -4.6l-4.6 4.6M430.3 382.3l4.6 4.6m0 -4.6l-4.6 4.6M431.4 382.4l4.6 4.6m0 -4.6l-4.6 4.6M432.5 383.4l4.6 4.6m0 -4.6l-4.6 4.6M433.7 382.9l4.6 4.6m0 -4.6l-4.6 4.6M434.8 383.1l4.6 4.6m0 -4.6l-4.6 4.6M435.9 382l4.6 4.6m0 -4.6l-4.6 4.6M437.1 382.4l4.6 4.6m0 -4.6l-4.6 4.6M438.2 382.2l4.6 4.6m0 -4.6l-4.6 4.6M439.3 382.4l4.6 4.6m0 -4.6l-4.6 4.6M440.4 382.4l4.6 4.6m0 -4.6l-4.6 4.6M441.6 381.9l4.6 4.6m0 -4.6l-4.6 4.6M442.7 381.7l4.6 4.6m0 -4.6l-4.6 4.6M443.8 381.5l4.6 4.6m0 -4.6l-4.6 4.6M444.9 381.8l4.6 4.6m0 -4.6l-4.6 4.6M446.1 381.2l4.6 4.6m0 -4.6l-4.6 4.6M447.2 380.9l4.6 4.6m0 -4.6l-4.6 4.6M448.3 380.1l4.6 4.6m0 -4.6l-4.6 4.6M449.4 380.2l4.6 4.6m0 -4.6l-4.6 4.6M450.6 380l4.6 4.6m0 -4.6l-4.6 4.6M451.7 380.5l4.6 4.6m0 -4.6l-4.6 4.6M452.8 381.4l4.6 4.6m0 -4.6l-4.6 4.6M454 381.9l4.6 4.6m0 -4.6l-4.6 4.6M455.1 381.1l4.6 4.6m0 -4.6l-4.6 4.6M456.2 380.4l4.6 4.6m0 -4.6l-4.6 4.6M457.3 379.5l4.6 4.6m0 -4.6l-4.6 4.6M458.5 379.9l4.6 4.6m0 -4.6l-4.6 4.6M459.6 380.2l4.6 4.6m0 -4.6l-4.6 4.6M460.7 380.6l4.6 4.6m0 -4.6l-4.6 4.6M461.8 380.6l4.6 4.6m0 -4.6l-4.6 4.6M463 380.1l4.6 4.6m0 -4.6l-4.6 4.6M464.1 379.2l4.6 4.6m0 -4.6l-4.6 4.6M465.2 378.2l4.6 4.6m0 -4.6l-4.6 4.6M466.4 378.2l4.6 4.6m0 -4.6l-4.6 4.6M467.5 378.8l4.6 4.6m0 -4.6l-4.6 4.6M468.6 379.6l4.6 4.6m0 -4.6l-4.6 4.6M469.7 379.5l4.6 4.6m0 -4.6l-4.6 4.6M470.9 379.2l4.6 4.6m0 -4.6l-4.6 4.6M472 378.8l4.6 4.6m0 -4.6l-4.6 4.6M473.1 379.1l4.6 4.6m0 -4.6l-4.6 4.6M474.2 379l4.6 4.6m0 -4.6l-4.6 4.6M475.4 378.5l4.6 4.6m0 -4.6l-4.6 4.6M476.5 378.4l4.6 4.6m0 -4.6l-4.6 4.6M477.6 378.4l4.6 4.6m0 -4.6l-4.6 4.6M478.8 378.7l4.6 4.6m0 -4.6l-4.6 4.6M479.9 377.9l4.6 4.6m0 -4.6l-4.6 4.6M481 377.7l4.6 4.6m0 -4.6l-4.6 4.6M482.1 377l4.6 4.6m0 -4.6l-4.6 4.6M483.3 376.7l4.6 4.6m0 -4.6l-4.6 4.6M484.4 376.5l4.6 4.6m0 -4.6l-4.6 4.6M485.5 376.8l4.6 4.6m0 -4.6l-4.6 4.6M486.6 377.4l4.6 4.6m0 -4.6l-4.6 4.6M487.8 377.8l4.6 4.6m0 -4.6l-4.6 4.6M488.9 377.8l4.6 4.6m0 -4.6l-4.6 4.6M490 378.1l4.6 4.6m0 -4.6l-4.6 4.6M491.1 377.4l4.6 4.6m0 -4.6l-4.6 4.6M492.3 377.5l4.6 4.6m0 -4.6l-4.6 4.6M493.4 376.5l4.6 4.6m0 -4.6l-4.6 4.6M494.5 376.7l4.6 4.6m0 -4.6l-4.6 4.6M495.7 376.2l4.6 4.6m0 -4.6l-4.6 4.6M496.8 376.5l4.6 4.6m0 -4.6l-4.6 4.6M497.9 376.5l4.6 4.6m0 -4.6l-4.6 4.6M499 375.9l4.6 4.6m0 -4.6l-4.6 4.6M500.2 375.9l4.6 4.6m0 -4.6l-4.6 4.6M501.3 375.4l4.6 4.6m0 -4.6l-4.6 4.6M502.4 375.9l4.6 4.6m0 -4.6l-4.6 4.6M503.5 375.9l4.6 4.6m0 -4.6l-4.6 4.6M504.7 375.9l4.6 4.6m0 -4.6l-4.6 4.6M505.8 375.7l4.6 4.6m0 -4.6l-4.6 4.6M506.9 375.1l4.6 4.6m0 -4.6l-4.6 4.6M508.1 375.3l4.6 4.6m0 -4.6l-4.6 4.6M509.2 375.1l4.6 4.6m0 -4.6l-4.6 4.6M510.3 375.5l4.6 4.6m0 -4.6l-4.6 4.6M511.4 374.8l4.6 4.6m0 -4.6l-4.6 4.6M512.6 375.3l4.6 4.6m0 -4.6l-4.6 4.6M513.7 374.8l4.6 4.6m0 -4.6l-4.6 4.6M514.8 375.5l4.6 4.6m0 -4.6l-4.6 4.6M515.9 374.8l4.6 4.6m0 -4.6l-4.6 4.6M517.1 375.2l4.6 4.6m0 -4.6l-4.6 4.6M518.2 374.7l4.6 4.6m0 -4.6l-4.6 4.6M519.3 375l4.6 4.6m0 -4.6l-4.6 4.6M520.5 374.7l4.6 4.6m0 -4.6l-4.6 4.6M521.6 375l4.6 4.6m0 -4.6l-4.6 4.6M522.7 374.9l4.6 4.6m0 -4.6l-4.6 4.6M523.8 375l4.6 4.6m0 -4.6l-4.6 4.6M525 375l4.6 4.6m0 -4.6l-4.6 4.6M526.1 374.5l4.6 4.6m0 -4.6l-4.6 4.6M527.2 374.6l4.6 4.6m0 -4.6l-4.6 4.6M528.3 374.1l4.6 4.6m0 -4.6l-4.6 4.6M529.5 373.7l4.6 4.6m0 -4.6l-4.6 4.6M530.6 373.4l4.6 4.6m0 -4.6l-4.6 4.6M531.7 373.2l4.6 4.6m0 -4.6l-4.6 4.6M532.8 374l4.6 4.6m0 -4.6l-4.6 4.6M534 373.6l4.6 4.6m0 -4.6l-4.6 4.6M535.1 373.6l4.6 4.6m0 -4.6l-4.6 4.6M536.2 373.1l4.6 4.6m0 -4.6l-4.6 4.6M537.4 372.5l4.6 4.6m0 -4.6l-4.6 4.6M538.5 372.6l4.6 4.6m0 -4.6l-4.6 4.6M539.6 372.1l4.6 4.6m0 -4.6l-4.6 4.6M540.7 373l4.6 4.6m0 -4.6l-4.6 4.6M541.9 373.2l4.6 4.6m0 -4.6l-4.6 4.6M543 373.4l4.6 4.6m0 -4.6l-4.6 4.6M544.1 372.4l4.6 4.6m0 -4.6l-4.6 4.6M545.2 371.9l4.6 4.6m0 -4.6l-4.6 4.6M546.4 371.8l4.6 4.6m0 -4.6l-4.6 4.6M547.5 372.4l4.6 4.6m0 -4.6l-4.6 4.6M548.6 372.1l4.6 4.6m0 -4.6l-4.6 4.6M549.8 371.6l4.6 4.6m0 -4.6l-4.6 4.6M550.9 371.3l4.6 4.6m0 -4.6l-4.6 4.6M552 371l4.6 4.6m0 -4.6l-4.6 4.6M553.1 371.7l4.6 4.6m0 -4.6l-4.6 4.6M554.3 371.4l4.6 4.6m0 -4.6l-4.6 4.6M555.4 371.4l4.6 4.6m0 -4.6l-4.6 4.6M556.5 370.7l4.6 4.6m0 -4.6l-4.6 4.6M557.6 370.4l4.6 4.6m0 -4.6l-4.6 4.6M558.8 370.3l4.6 4.6m0 -4.6l-4.6 4.6M559.9 370.2l4.6 4.6m0 -4.6l-4.6 4.6M561 370.2l4.6 4.6m0 -4.6l-4.6 4.6M562.1 370.1l4.6 4.6m0 -4.6l-4.6 4.6M563.3 370.3l4.6 4.6m0 -4.6l-4.6 4.6M564.4 370.4l4.6 4.6m0 -4.6l-4.6 4.6M565.5 369.9l4.6 4.6m0 -4.6l-4.6 4.6M566.7 369.1l4.6 4.6m0 -4.6l-4.6 4.6M567.8 369l4.6 4.6m0 -4.6l-4.6 4.6M568.9 368.9l4.6 4.6m0 -4.6l-4.6 4.6M570 368.7l4.6 4.6m0 -4.6l-4.6 4.6M571.2 368l4.6 4.6m0 -4.6l-4.6 4.6M572.3 368l4.6 4.6m0 -4.6l-4.6 4.6M573.4 367.4l4.6 4.6m0 -4.6l-4.6 4.6M574.5 366.9l4.6 4.6m0 -4.6l-4.6 4.6M575.7 366l4.6 4.6m0 -4.6l-4.6 4.6M576.8 365.5l4.6 4.6m0 -4.6l-4.6 4.6M577.9 364.6l4.6 4.6m0 -4.6l-4.6 4.6M579.1 364.6l4.6 4.6m0 -4.6l-4.6 4.6M580.2 363.6l4.6 4.6m0 -4.6l-4.6 4.6M581.3 362.7l4.6 4.6m0 -4.6l-4.6 4.6M582.4 361.1l4.6 4.6m0 -4.6l-4.6 4.6M583.6 359.6l4.6 4.6m0 -4.6l-4.6 4.6M584.7 357.5l4.6 4.6m0 -4.6l-4.6 4.6M585.8 354l4.6 4.6m0 -4.6l-4.6 4.6M586.9 348.9l4.6 4.6m0 -4.6l-4.6 4.6M588.1 337.7l4.6 4.6m0 -4.6l-4.6 4.6"/>
<path fill="#8a74c4" stroke="#8a0a8a" stroke-width="0.8" d="M351.4 399.4h4.6v4.6h-4.6zM352.5 396.6h4.6v4.6h-4.6zM353.7 394.9h4.6v4.6h-4.6zM354.8 393.8h4.6v4.6h-4.6zM355.9 393.6h4.6v4.6h-4.6zM357 393.3h4.6v4.6h-4.6zM358.2 392.4h4.6v4.6h-4.6zM359.3 392.3h4.6v4.6h-4.6zM360.4 391.6h4.6v4.6h-4.6zM361.5 391.2h4.6v4.6h-4.6zM362.7 390.9h4.6v4.6h-4.6zM363.8 390.6h4.6v4.6h-4.6zM364.9 390.9h4.6v4.6h-4.6zM366.1 389.6h4.6v4.6h-4.6zM367.2 389h4.6v4.6h-4.6zM368.3 388.2h4.6v4.6h-4.6zM369.4 388.6h4.6v4.6h-4.6zM370.6 388.9h4.6v4.6h-4.6zM371.7 388.3h4.6v4.6h-4.6zM372.8 387.9h4.6v4.6h-4.6zM373.9 387.3h4.6v4.6h-4.6zM375.1 388h4.6v4.6h-4.6zM376.2 387.9h4.6v4.6h-4.6zM377.3 387.4h4.6v4.6h-4.6zM378.4 386.9h4.6v4.6h-4.6zM379.6 386.4h4.6v4.6h-4.6zM380.7 386.4h4.6v4.6h-4.6zM381.8 386.4h4.6v4.6h-4.6zM383 386.4h4.6v4.6h-4.6zM384.1 386.6h4.6v4.6h-4.6zM385.2 385.9h4.6v4.6h-4.6zM386.3 386.6h4.6v4.6h-4.6zM387.5 386.8h4.6v4.6h-4.6zM388.6 387.3h4.6v4.6h-4.6zM389.7 386h4.6v4.6h-4.6zM390.8 384.7h4.6v4.6h-4.6zM392 384.1h4.6v4.6h-4.6zM393.1 384.2h4.6v4.6h-4.6zM394.2 385.4h4.6v4.6h-4.6zM395.4 385.9h4.6v4.6h-4.6zM396.5 385.7h4.6v4.6h-4.6zM397.6 385.2h4.6v4.6h-4.6zM398.7 385h4.6v4.6h-4.6zM399.9 385h4.6v4.6h-4.6zM401 384.8h4.6v4.6h-4.6zM402.1 384.4h4.6v4.6h-4.6zM403.2 384.1h4.6v4.6h-4.6zM404.4 383.2h4.6v4.6h-4.6zM405.5 382.9h4.6v4.6h-4.6zM406.6 383.3h4.6v4.6h-4.6zM407.8 383.1h4.6v4.6h-4.6zM408.9 382.5h4.6v4.6h-4.6zM410 382.3h4.6v4.6h-4.6zM411.1 381.8h4.6v4.6h-4.6zM412.3 382.7h4.6v4.6h-4.6zM413.4 382.3h4.6v4.6h-4.6zM414.5 383.3h4.6v4.6h-4.6zM415.6 383.2h4.6v4.6h-4.6zM416.8 382.8h4.6v4.6h-4.6zM417.9 382.1h4.6v4.6h-4.6zM419 382.2h4.6v4.6h-4.6zM420.1 382.4h4.6v4.6h-4.6zM421.3 382.6h4.6v4.6h-4.6zM422.4 381.9h4.6v4.6h-4.6zM423.5 382.2h4.6v4.6h-4.6zM424.7 382.6h4.6v4.6h-4.6zM425.8 382.5h4.6v4.6h-4.6zM426.9 381.9h4.6v4.6h-4.6zM428 381.4h4.6v4.6h-4.6zM429.2 381.4h4.6v4.6h-4.6zM430.3 381.8h4.6v4.6h-4.6zM431.4 381.8h4.6v4.6h-4.6zM432.5 382.1h4.6v4.6h-4.6zM433.7 381.4h4.6v4.6h-4.6zM434.8 381.4h4.6v4.6h-4.6zM435.9 381.3h4.6v4.6h-4.6zM437.1 381.8h4.6v4.6h-4.6zM438.2 381.7h4.6v4.6h-4.6zM439.3 380.7h4.6v4.6h-4.6zM440.4 380h4.6v4.6h-4.6zM441.6 379.7h4.6v4.6h-4.6zM442.7 380h4.6v4.6h-4.6zM443.8 380.1h4.6v4.6h-4.6zM444.9 379.5h4.6v4.6h-4.6zM446.1 379.1h4.6v4.6h-4.6zM447.2 379.2h4.6v4.6h-4.6zM448.3 379.9h4.6v4.6h-4.6zM449.4 379.5h4.6v4.6h-4.6zM450.6 379.2h4.6v4.6h-4.6zM451.7 378.3h4.6v4.6h-4.6zM452.8 378.4h4.6v4.6h-4.6zM454 379.5h4.6v4.6h-4.6zM455.1 380h4.6v4.6h-4.6zM456.2 379.9h4.6v4.6h-4.6zM457.3 378.5h4.6v4.6h-4.6zM458.5 378h4.6v4.6h-4.6zM459.6 377.4h4.6v4.6h-4.6zM460.7 377.5h4.6v4.6h-4.6zM461.8 377.7h4.6v4.6h-4.6zM463 378.6h4.6v4.6h-4.6zM464.1 378h4.6v4.6h-4.6zM465.2 378.1h4.6v4.6h-4.6zM466.4 378h4.6v4.6h-4.6zM467.5 377.8h4.6v4.6h-4.6zM468.6 377.8h4.6v4.6h-4.6zM469.7 376.7h4.6v4.6h-4.6zM470.9 377.5h4.6v4.6h-4.6zM472 377.7h4.6v4.6h-4.6zM473.1 378.2h4.6v4.6h-4.6zM474.2 378.1h4.6v4.6h-4.6zM475.4 377.3h4.6v4.6h-4.6zM476.5 377.4h4.6v4.6h-4.6zM477.6 377.6h4.6v4.6h-4.6zM478.8 377.8h4.6v4.6h-4.6zM479.9 377.6h4.6v4.6h-4.6zM481 377.3h4.6v4.6h-4.6zM482.1 377.6h4.6v4.6h-4.6zM483.3 377.1h4.6v4.6h-4.6zM484.4 377h4.6v4.6h-4.6zM485.5 376.5h4.6v4.6h-4.6zM486.6 377.1h4.6v4.6h-4.6zM487.8 377.4h4.6v4.6h-4.6zM488.9 377.7h4.6v4.6h-4.6zM490 377.9h4.6v4.6h-4.6zM491.1 377.2h4.6v4.6h-4.6zM492.3 377h4.6v4.6h-4.6zM493.4 376.2h4.6v4.6h-4.6zM494.5 376.5h4.6v4.6h-4.6zM495.7 376.7h4.6v4.6h-4.6zM496.8 376.9h4.6v4.6h-4.6zM497.9 376.4h4.6v4.6h-4.6zM499 376.3h4.6v4.6h-4.6zM500.2 376.2h4.6v4.6h-4.6zM501.3 376.8h4.6v4.6h-4.6zM502.4 376.7h4.6v4.6h-4.6zM503.5 377.1h4.6v4.6h-4.6zM504.7 377h4.6v4.6h-4.6zM505.8 376.4h4.6v4.6h-4.6zM506.9 376h4.6v4.6h-4.6zM508.1 375.4h4.6v4.6h-4.6zM509.2 376.2h4.6v4.6h-4.6zM510.3 376.7h4.6v4.6h-4.6zM511.4 377.1h4.6v4.6h-4.6zM512.6 376.9h4.6v4.6h-4.6zM513.7 375.9h4.6v4.6h-4.6zM514.8 375.2h4.6v4.6h-4.6zM515.9 374.8h4.6v4.6h-4.6zM517.1 375.1h4.6v4.6h-4.6zM518.2 375.3h4.6v4.6h-4.6zM519.3 375.4h4.6v4.6h-4.6zM520.5 375.5h4.6v4.6h-4.6zM521.6 376.2h4.6v4.6h-4.6zM522.7 376.6h4.6v4.6h-4.6zM523.8 376.6h4.6v4.6h-4.6zM525 376.3h4.6v4.6h-4.6zM526.1 375.8h4.6v4.6h-4.6zM527.2 375.6h4.6v4.6h-4.6zM528.3 375.3h4.6v4.6h-4.6zM529.5 375.6h4.6v4.6h-4.6zM530.6 375.6h4.6v4.6h-4.6zM531.7 375.8h4.6v4.6h-4.6zM532.8 375.1h4.6v4.6h-4.6zM534 375.9h4.6v4.6h-4.6zM535.1 376.1h4.6v4.6h-4.6zM536.2 376.5h4.6v4.6h-4.6zM537.4 375.8h4.6v4.6h-4.6zM538.5 375.7h4.6v4.6h-4.6zM539.6 375.4h4.6v4.6h-4.6zM540.7 375h4.6v4.6h-4.6zM541.9 374.3h4.6v4.6h-4.6zM543 374.4h4.6v4.6h-4.6zM544.1 373.6h4.6v4.6h-4.6zM545.2 373.9h4.6v4.6h-4.6zM546.4 373.8h4.6v4.6h-4.6zM547.5 373.7h4.6v4.6h-4.6zM548.6 374.1h4.6v4.6h-4.6zM549.8 373.5h4.6v4.6h-4.6zM550.9 374.3h4.6v4.6h-4.6zM552 373.4h4.6v4.6h-4.6zM553.1 373.8h4.6v4.6h-4.6zM554.3 373.2h4.6v4.6h-4.6zM555.4 374.1h4.6v4.6h-4.6zM556.5 374.2h4.6v4.6h-4.6zM557.6 374.9h4.6v4.6h-4.6zM558.8 374.3h4.6v4.6h-4.6zM559.9 374.1h4.6v4.6h-4.6zM561 373.4h4.6v4.6h-4.6zM562.1 373h4.6v4.6h-4.6zM563.3 372.9h4.6v4.6h-4.6zM564.4 372.7h4.6v4.6h-4.6zM565.5 372.6h4.6v4.6h-4.6zM566.7 371.8h4.6v4.6h-4.6zM567.8 371.5h4.6v4.6h-4.6zM568.9 371.5h4.6v4.6h-4.6zM570 371.6h4.6v4.6h-4.6zM571.2 371.6h4.6v4.6h-4.6zM572.3 371h4.6v4.6h-4.6zM573.4 370.6h4.6v4.6h-4.6zM574.5 369.8h4.6v4.6h-4.6zM575.7 369.3h4.6v4.6h-4.6zM576.8 369.1h4.6v4.6h-4.6zM577.9 368.8h4.6v4.6h-4.6zM579.1 368.8h4.6v4.6h-4.6zM580.2 367.9h4.6v4.6h-4.6zM581.3 366.5h4.6v4.6h-4.6zM582.4 365.4h4.6v4.6h-4.6zM583.6 364.6h4.6v4.6h-4.6zM584.7 364.2h4.6v4.6h-4.6zM585.8 363.3h4.6v4.6h-4.6zM586.9 361.3h4.6v4.6h-4.6zM588.1 353.9h4.6v4.6h-4.6z"/>
<path fill="#800000" d="M351.7 402.4a2 2 0 1 0 4 0a2 2 0 1 0 -4 0zM352.8 400.1a2 2 0 1 0 4 0a2 2 0 1 0 -4 0zM354 398.1a2 2 0 1 0 4 0a2 2 0 1 0 -4 0zM355.1 397.4a2 2 0 1 0 4 0a2 2 0 1 0 -4 0zM356.2 396.4a2 2 0 1 0 4 0a2 2 0 1 0 -4 0zM357.3 396.6a2 2 0 1 0 4 0a2 2 0 1 0 -4 0zM358.5 395.6a2 2 0 1 0 4 0a2 2 0 1 0 -4 0zM359.6 395.5a2 2 0 1 0 4 0a2 2 0 1 0 -4 0zM360.7 394.6a2 2 0 1 0 4 0a2 2 0 1 0 -4 0zM361.8 394a2 2 0 1 0 4 0a2 2 0 1 0 -4 0zM363 393.2a2 2 0 1 0 4 0a2 2 0 1 0 -4 0zM364.1 392.8a2 2 0 1 0 4 0a2 2 0 1 0 -4 0zM365.2 392.2a2 2 0 1 0 4 0a2 2 0 1 0 -4 0zM366.4 391.4a2 2 0 1 0 4 0a2 2 0 1 0 -4 0zM367.5 391.7a2 2 0 1 0 4 0a2 2 0 1 0 -4 0zM368.6 391.5a2 2 0 1 0 4 0a2 2 0 1 0 -4 0zM369.7 391.1a2 2 0 1 0 4 0a2 2 0 1 0 -4 0zM370.9 389.5a2 2 0 1 0 4 0a2 2 0 1 0 -4 0zM372 388.5a2 2 0 1 0 4 0a2 2 0 1 0 -4 0zM373.1 388.7a2 2 0 1 0 4 0a2 2 0 1 0 -4 0zM374.2 389.8a2 2 0 1 0 4 0a2 2 0 1 0 -4 0zM375.4 390a2 2 0 1 0 4 0a2 2 0 1 0 -4 0zM376.5 390a2 2 0 1 0 4 0a2 2 0 1 0 -4 0zM377.6 388.7a2 2 0 1 0 4 0a2 2 0 1 0 -4 0zM378.7 389.5a2 2 0 1 0 4 0a2 2 0 1 0 -4 0zM379.9 389.6a2 2 0 1 0 4 0a2 2 0 1 0 -4 0zM381 390.3a2 2 0 1 0 4 0a2 2 0 1 0 -4 0zM382.1 390.2a2 2 0 1 0 4 0a2 2 0 1 0 -4 0zM383.3 390.5a2 2 0 1 0 4 0a2 2 0 1 0 -4 0zM384.4 390.6a2 2 0 1 0 4 0a2 2 0 1 0 -4 0zM385.5 389.8a2 2 0 1 0 4 0a2 2 0 1 0 -4 0zM386.6 388.6a2 2 0 1 0 4 0a2 2 0 1 0 -4 0zM387.8 387.7a2 2 0 1 0 4 0a2 2 0 1 0 -4 0zM388.9 387.1a2 2 0 1 0 4 0a2 2 0 1 0 -4 0zM390 388a2 2 0 1 0 4 0a2 2 0 1 0 -4 0zM391.1 388.1a2 2 0 1 0 4 0a2 2 0 1 0 -4 0zM392.3 388.6a2 2 0 1 0 4 0a2 2 0 1 0 -4 0zM393.4 387.8a2 2 0 1 0 4 0a2 2 0 1 0 -4 0zM394.5 388.4a2 2 0 1 0 4 0a2 2 0 1 0 -4 0zM395.7 388a2 2 0 1 0 4 0a2 2 0 1 0 -4 0zM396.8 388.2a2 2 0 1 0 4 0a2 2 0 1 0 -4 0zM397.9 387.4a2 2 0 1 0 4 0a2 2 0 1 0 -4 0zM399 387.4a2 2 0 1 0 4 0a2 2 0 1 0 -4 0zM400.2 386.1a2 2 0 1 0 4 0a2 2 0 1 0 -4 0zM401.3 386.2a2 2 0 1 0 4 0a2 2 0 1 0 -4 0zM402.4 385.9a2 2 0 1 0 4 0a2 2 0 1 0 -4 0zM403.5 386.2a2 2 0 1 0 4 0a2 2 0 1 0 -4 0zM404.7 385.8a2 2 0 1 0 4 0a2 2 0 1 0 -4 0zM405.8 386a2 2 0 1 0 4 0a2 2 0 1 0 -4 0zM406.9 386.4a2 2 0 1 0 4 0a2 2 0 1 0 -4 0zM408.1 386a2 2 0 1 0 4 0a2 2 0 1 0 -4 0zM409.2 385.9a2 2 0 1 0 4 0a2 2 0 1 0 -4 0zM410.3 385.5a2 2 0 1 0 4 0a2 2 0 1 0 -4 0zM411.4 385.6a2 2 0 1 0 4 0a2 2 0 1 0 -4 0zM412.6 385.7a2 2 0 1 0 4 0a2 2 0 1 0 -4 0zM413.7 385.4a2 2 0 1 0 4 0a2 2 0 1 0 -4 0zM414.8 385.7a2 2 0 1 0 4 0a2 2 0 1 0 -4 0zM415.9 385.1a2 2 0 1 0 4 0a2 2 0 1 0 -4 0zM417.1 384.6a2 2 0 1 0 4 0a2 2 0 1 0 -4 0zM418.2 384.1a2 2 0 1 0 4 0a2 2 0 1 0 -4 0zM419.3 384.6a2 2 0 1 0 4 0a2 2 0 1 0 -4 0zM420.4 384.9a2 2 0 1 0 4 0a2 2 0 1 0 -4 0zM421.6 384.6a2 2 0 1 0 4 0a2 2 0 1 0 -4 0zM422.7 383.9a2 2 0 1 0 4 0a2 2 0 1 0 -4 0zM423.8 384.1a2 2 0 1 0 4 0a2 2 0 1 0 -4 0zM425 384.2a2 2 0 1 0 4 0a2 2 0 1 0 -4 0zM426.1 384.3a2 2 0 1 0 4 0a2 2 0 1 0 -4 0zM427.2 383.5a2 2 0 1 0 4 0a2 2 0 1 0 -4 0zM428.3 384a2 2 0 1 0 4 0a2 2 0 1 0 -4 0zM429.5 384a2 2 0 1 0 4 0a2 2 0 1 0 -4 0zM430.6 384.2a2 2 0 1 0 4 0a2 2 0 1 0 -4 0zM431.7 384.1a2 2 0 1 0 4 0a2 2 0 1 0 -4 0zM432.8 383.9a2 2 0 1 0 4 0a2 2 0 1 0 -4 0zM434 384.7a2 2 0 1 0 4 0a2 2 0 1 0 -4 0zM435.1 383.7a2 2 0 1 0 4 0a2 2 0 1 0 -4 0zM436.2 384a2 2 0 1 0 4 0a2 2 0 1 0 -4 0zM437.4 383.4a2 2 0 1 0 4 0a2 2 0 1 0 -4 0zM438.5 383a2 2 0 1 0 4 0a2 2 0 1 0 -4 0zM439.6 382.6a2 2 0 1 0 4 0a2 2 0 1 0 -4 0zM440.7 382.3a2 2 0 1 0 4 0a2 2 0 1 0 -4 0zM441.9 382.6a2 2 0 1 0 4 0a2 2 0 1 0 -4 0zM443 382.1a2 2 0 1 0 4 0a2 2 0 1 0 -4 0zM444.1 381.5a2 2 0 1 0 4 0a2 2 0 1 0 -4 0zM445.2 381.9a2 2 0 1 0 4 0a2 2 0 1 0 -4 0zM446.4 381.8a2 2 0 1 0 4 0a2 2 0 1 0 -4 0zM447.5 382.3a2 2 0 1 0 4 0a2 2 0 1 0 -4 0zM448.6 382.5a2 2 0 1 0 4 0a2 2 0 1 0 -4 0zM449.7 382.4a2 2 0 1 0 4 0a2 2 0 1 0 -4 0zM450.9 382.2a2 2 0 1 0 4 0a2 2 0 1 0 -4 0zM452 381.3a2 2 0 1 0 4 0a2 2 0 1 0 -4 0zM453.1 381.1a2 2 0 1 0 4 0a2 2 0 1 0 -4 0zM454.3 381.6a2 2 0 1 0 4 0a2 2 0 1 0 -4 0zM455.4 381.6a2 2 0 1 0 4 0a2 2 0 1 0 -4 0zM456.5 381.2a2 2 0 1 0 4 0a2 2 0 1 0 -4 0zM457.6 381a2 2 0 1 0 4 0a2 2 0 1 0 -4 0zM458.8 381.1a2 2 0 1 0 4 0a2 2 0 1 0 -4 0zM459.9 381.4a2 2 0 1 0 4 0a2 2 0 1 0 -4 0zM461 381.7a2 2 0 1 0 4 0a2 2 0 1 0 -4 0zM462.1 381.1a2 2 0 1 0 4 0a2 2 0 1 0 -4 0zM463.3 381.1a2 2 0 1 0 4 0a2 2 0 1 0 -4 0zM464.4 379.6a2 2 0 1 0 4 0a2 2 0 1 0 -4 0zM465.5 379.9a2 2 0 1 0 4 0a2 2 0 1 0 -4 0zM466.7 379.9a2 2 0 1 0 4 0a2 2 0 1 0 -4 0zM467.8 380.8a2 2 0 1 0 4 0a2 2 0 1 0 -4 0zM468.9 380.4a2 2 0 1 0 4 0a2 2 0 1 0 -4 0zM470 380.3a2 2 0 1 0 4 0a2 2 0 1 0 -4 0zM471.2 380.1a2 2 0 1 0 4 0a2 2 0 1 0 -4 0zM472.3 380.4a2 2 0 1 0 4 0a2 2 0 1 0 -4 0zM473.4 380.9a2 2 0 1 0 4 0a2 2 0 1 0 -4 0zM474.5 380.5a2 2 0 1 0 4 0a2 2 0 1 0 -4 0zM475.7 380.1a2 2 0 1 0 4 0a2 2 0 1 0 -4 0zM476.8 379.3a2 2 0 1 0 4 0a2 2 0 1 0 -4 0zM477.9 378.6a2 2 0 1 0 4 0a2 2 0 1 0 -4 0zM479.1 379.3a2 2 0 1 0 4 0a2 2 0 1 0 -4 0zM480.2 379.4a2 2 0 1 0 4 0a2 2 0 1 0 -4 0zM481.3 379.8a2 2 0 1 0 4 0a2 2 0 1 0 -4 0zM482.4 379.4a2 2 0 1 0 4 0a2 2 0 1 0 -4 0zM483.6 379.1a2 2 0 1 0 4 0a2 2 0 1 0 -4 0zM484.7 379.9a2 2 0 1 0 4 0a2 2 0 1 0 -4 0zM485.8 379.3a2 2 0 1 0 4 0a2 2 0 1 0 -4 0zM486.9 378.6a2 2 0 1 0 4 0a2 2 0 1 0 -4 0zM488.1 377.1a2 2 0 1 0 4 0a2 2 0 1 0 -4 0zM489.2 377.1a2 2 0 1 0 4 0a2 2 0 1 0 -4 0zM490.3 377a2 2 0 1 0 4 0a2 2 0 1 0 -4 0zM491.4 377.5a2 2 0 1 0 4 0a2 2 0 1 0 -4 0zM492.6 377.7a2 2 0 1 0 4 0a2 2 0 1 0 -4 0zM493.7 378a2 2 0 1 0 4 0a2 2 0 1 0 -4 0zM494.8 377.6a2 2 0 1 0 4 0a2 2 0 1 0 -4 0zM496 377.8a2 2 0 1 0 4 0a2 2 0 1 0 -4 0zM497.1 377.8a2 2 0 1 0 4 0a2 2 0 1 0 -4 0zM498.2 378.1a2 2 0 1 0 4 0a2 2 0 1 0 -4 0zM499.3 378a2 2 0 1 0 4 0a2 2 0 1 0 -4 0zM500.5 377.5a2 2 0 1 0 4 0a2 2 0 1 0 -4 0zM501.6 377a2 2 0 1 0 4 0a2 2 0 1 0 -4 0zM502.7 377.5a2 2 0 1 0 4 0a2 2 0 1 0 -4 0zM503.8 377.8a2 2 0 1 0 4 0a2 2 0 1 0 -4 0zM505 377.7a2 2 0 1 0 4 0a2 2 0 1 0 -4 0zM506.1 376.6a2 2 0 1 0 4 0a2 2 0 1 0 -4 0zM507.2 376.4a2 2 0 1 0 4 0a2 2 0 1 0 -4 0zM508.4 376.3a2 2 0 1 0 4 0a2 2 0 1 0 -4 0zM509.5 376.1a2 2 0 1 0 4 0a2 2 0 1 0 -4 0zM510.6 376.2a2 2 0 1 0 4 0a2 2 0 1 0 -4 0zM511.7 376.6a2 2 0 1 0 4 0a2 2 0 1 0 -4 0zM512.9 376.8a2 2 0 1 0 4 0a2 2 0 1 0 -4 0zM514 376.2a2 2 0 1 0 4 0a2 2 0 1 0 -4 0zM515.1 375.6a2 2 0 1 0 4 0a2 2 0 1 0 -4 0zM516.2 375.6a2 2 0 1 0 4 0a2 2 0 1 0 -4 0zM517.4 375.9a2 2 0 1 0 4 0a2 2 0 1 0 -4 0zM518.5 376.8a2 2 0 1 0 4 0a2 2 0 1 0 -4 0zM519.6 376.5a2 2 0 1 0 4 0a2 2 0 1 0 -4 0zM520.8 376.1a2 2 0 1 0 4 0a2 2 0 1 0 -4 0zM521.9 375.8a2 2 0 1 0 4 0a2 2 0 1 0 -4 0zM523 375.2a2 2 0 1 0 4 0a2 2 0 1 0 -4 0zM524.1 375.7a2 2 0 1 0 4 0a2 2 0 1 0 -4 0zM525.3 375.9a2 2 0 1 0 4 0a2 2 0 1 0 -4 0zM526.4 376.9a2 2 0 1 0 4 0a2 2 0 1 0 -4 0zM527.5 376.7a2 2 0 1 0 4 0a2 2 0 1 0 -4 0zM528.6 376.4a2 2 0 1 0 4 0a2 2 0 1 0 -4 0zM529.8 375.7a2 2 0 1 0 4 0a2 2 0 1 0 -4 0zM530.9 375.9a2 2 0 1 0 4 0a2 2 0 1 0 -4 0zM532 374.7a2 2 0 1 0 4 0a2 2 0 1 0 -4 0zM533.1 374.3a2 2 0 1 0 4 0a2 2 0 1 0 -4 0zM534.3 374a2 2 0 1 0 4 0a2 2 0 1 0 -4 0zM535.4 375a2 2 0 1 0 4 0a2 2 0 1 0 -4 0zM536.5 374.8a2 2 0 1 0 4 0a2 2 0 1 0 -4 0zM537.7 374.8a2 2 0 1 0 4 0a2 2 0 1 0 -4 0zM538.8 375a2 2 0 1 0 4 0a2 2 0 1 0 -4 0zM539.9 375.1a2 2 0 1 0 4 0a2 2 0 1 0 -4 0zM541 374.7a2 2 0 1 0 4 0a2 2 0 1 0 -4 0zM542.2 374a2 2 0 1 0 4 0a2 2 0 1 0 -4 0zM543.3 374a2 2 0 1 0 4 0a2 2 0 1 0 -4 0zM544.4 374.3a2 2 0 1 0 4 0a2 2 0 1 0 -4 0zM545.5 374.9a2 2 0 1 0 4 0a2 2 0 1 0 -4 0zM546.7 374.6a2 2 0 1 0 4 0a2 2 0 1 0 -4 0zM547.8 373.7a2 2 0 1 0 4 0a2 2 0 1 0 -4 0zM548.9 372.8a2 2 0 1 0 4 0a2 2 0 1 0 -4 0zM550.1 373.2a2 2 0 1 0 4 0a2 2 0 1 0 -4 0zM551.2 373.5a2 2 0 1 0 4 0a2 2 0 1 0 -4 0zM552.3 373.8a2 2 0 1 0 4 0a2 2 0 1 0 -4 0zM553.4 373.5a2 2 0 1 0 4 0a2 2 0 1 0 -4 0zM554.6 373.4a2 2 0 1 0 4 0a2 2 0 1 0 -4 0zM555.7 373.1a2 2 0 1 0 4 0a2 2 0 1 0 -4 0zM556.8 372.4a2 2 0 1 0 4 0a2 2 0 1 0 -4 0zM557.9 371.9a2 2 0 1 0 4 0a2 2 0 1 0 -4 0zM559.1 371.8a2 2 0 1 0 4 0a2 2 0 1 0 -4 0zM560.2 372.2a2 2 0 1 0 4 0a2 2 0 1 0 -4 0zM561.3 372.1a2 2 0 1 0 4 0a2 2 0 1 0 -4 0zM562.4 371.7a2 2 0 1 0 4 0a2 2 0 1 0 -4 0zM563.6 371.8a2 2 0 1 0 4 0a2 2 0 1 0 -4 0zM564.7 371.6a2 2 0 1 0 4 0a2 2 0 1 0 -4 0zM565.8 371.6a2 2 0 1 0 4 0a2 2 0 1 0 -4 0zM567 370.8a2 2 0 1 0 4 0a2 2 0 1 0 -4 0zM568.1 370.4a2 2 0 1 0 4 0a2 2 0 1 0 -4 0zM569.2 369.6a2 2 0 1 0 4 0a2 2 0 1 0 -4 0zM570.3 369.2a2 2 0 1 0 4 0a2 2 0 1 0 -4 0zM571.5 368.8a2 2 0 1 0 4 0a2 2 0 1 0 -4 0zM572.6 369.2a2 2 0 1 0 4 0a2 2 0 1 0 -4 0zM573.7 368.6a2 2 0 1 0 4 0a2 2 0 1 0 -4 0zM574.8 368.2a2 2 0 1 0 4 0a2 2 0 1 0 -4 0zM576 367.7a2 2 0 1 0 4 0a2 2 0 1 0 -4 0zM577.1 367.5a2 2 0 1 0 4 0a2 2 0 1 0 -4 0zM578.2 367.2a2 2 0 1 0 4 0a2 2 0 1 0 -4 0zM579.4 366.5a2 2 0 1 0 4 0a2 2 0 1 0 -4 0zM580.5 365.1a2 2 0 1 0 4 0a2 2 0 1 0 -4 0zM581.6 363.8a2 2 0 1 0 4 0a2 2 0 1 0 -4 0zM582.7 361.9a2 2 0 1 0 4 0a2 2 0 1 0 -4 0zM583.9 361.4a2 2 0 1 0 4 0a2 2 0 1 0 -4 0zM585 359.4a2 2 0 1 0 4 0a2 2 0 1 0 -4 0zM586.1 356.7a2 2 0 1 0 4 0a2 2 0 1 0 -4 0zM587.2 352a2 2 0 1 0 4 0a2 2 0 1 0 -4 0zM588.4 341.2a2 2 0 1 0 4 0a2 2 0 1 0 -4 0z"/>
<path fill="#86bcbc" stroke="#0a8686" stroke-width="0.8" d="M351.5 410.6h4.4v4.4h-4.4zM352.6 403.3h4.4v4.4h-4.4zM353.8 399h4.4v4.4h-4.4zM354.9 397.7h4.4v4.4h-4.4zM356 396.6h4.4v4.4h-4.4zM357.1 396.3h4.4v4.4h-4.4zM358.3 396.2h4.4v4.4h-4.4zM359.4 396.3h4.4v4.4h-4.4zM360.5 395.4h4.4v4.4h-4.4zM361.6 394.6h4.4v4.4h-4.4zM362.8 394.3h4.4v4.4h-4.4zM363.9 394.1h4.4v4.4h-4.4zM365 394.5h4.4v4.4h-4.4zM366.2 393.7h4.4v4.4h-4.4zM367.3 393.5h4.4v4.4h-4.4zM368.4 392.8h4.4v4.4h-4.4zM369.5 393h4.4v4.4h-4.4zM370.7 392.5h4.4v4.4h-4.4zM371.8 391.7h4.4v4.4h-4.4zM372.9 391.3h4.4v4.4h-4.4zM374 391.5h4.4v4.4h-4.4zM375.2 392.2h4.4v4.4h-4.4zM376.3 392.1h4.4v4.4h-4.4zM377.4 391.8h4.4v4.4h-4.4zM378.5 391.3h4.4v4.4h-4.4zM379.7 391.8h4.4v4.4h-4.4zM380.8 391.6h4.4v4.4h-4.4zM381.9 391.4h4.4v4.4h-4.4zM383.1 391.3h4.4v4.4h-4.4zM384.2 390.6h4.4v4.4h-4.4zM385.3 390.3h4.4v4.4h-4.4zM386.4 389.1h4.4v4.4h-4.4zM387.6 388.6h4.4v4.4h-4.4zM388.7 388.1h4.4v4.4h-4.4zM389.8 388h4.4v4.4h-4.4zM390.9 388.7h4.4v4.4h-4.4zM392.1 389.3h4.4v4.4h-4.4zM393.2 389.5h4.4v4.4h-4.4zM394.3 389.1h4.4v4.4h-4.4zM395.5 388.5h4.4v4.4h-4.4zM396.6 388.3h4.4v4.4h-4.4zM397.7 388.2h4.4v4.4h-4.4zM398.8 388.3h4.4v4.4h-4.4zM400 388.1h4.4v4.4h-4.4zM401.1 387.6h4.4v4.4h-4.4zM402.2 387.1h4.4v4.4h-4.4zM403.3 387.4h4.4v4.4h-4.4zM404.5 387.4h4.4v4.4h-4.4zM405.6 388h4.4v4.4h-4.4zM406.7 387.5h4.4v4.4h-4.4zM407.9 388.1h4.4v4.4h-4.4zM409 386.9h4.4v4.4h-4.4zM410.1 386.7h4.4v4.4h-4.4zM411.2 386.2h4.4v4.4h-4.4zM412.4 386.7h4.4v4.4h-4.4zM413.5 386.8h4.4v4.4h-4.4zM414.6 387.3h4.4v4.4h-4.4zM415.7 387.1h4.4v4.4h-4.4zM416.9 387.1h4.4v4.4h-4.4zM418 386h4.4v4.4h-4.4zM419.1 386.5h4.4v4.4h-4.4zM420.2 386.7h4.4v4.4h-4.4zM421.4 386.9h4.4v4.4h-4.4zM422.5 385.6h4.4v4.4h-4.4zM423.6 385.3h4.4v4.4h-4.4zM424.8 384.9h4.4v4.4h-4.4zM425.9 385.6h4.4v4.4h-4.4zM427 385.7h4.4v4.4h-4.4zM428.1 385.5h4.4v4.4h-4.4zM429.3 385.3h4.4v4.4h-4.4zM430.4 385.2h4.4v4.4h-4.4zM431.5 385.4h4.4v4.4h-4.4zM432.6 385.1h4.4v4.4h-4.4zM433.8 384.3h4.4v4.4h-4.4zM434.9 383.9h4.4v4.4h-4.4zM436 383.4h4.4v4.4h-4.4zM437.2 384.1h4.4v4.4h-4.4zM438.3 384.3h4.4v4.4h-4.4zM439.4 384.2h4.4v4.4h-4.4zM440.5 383.8h4.4v4.4h-4.4zM441.7 383.1h4.4v4.4h-4.4zM442.8 382.2h4.4v4.4h-4.4zM443.9 382.6h4.4v4.4h-4.4zM445 383.4h4.4v4.4h-4.4zM446.2 384h4.4v4.4h-4.4zM447.3 383.2h4.4v4.4h-4.4zM448.4 382.7h4.4v4.4h-4.4zM449.5 383h4.4v4.4h-4.4zM450.7 382.9h4.4v4.4h-4.4zM451.8 382.5h4.4v4.4h-4.4zM452.9 382.5h4.4v4.4h-4.4zM454.1 382.5h4.4v4.4h-4.4zM455.2 382.7h4.4v4.4h-4.4zM456.3 382.6h4.4v4.4h-4.4zM457.4 382.4h4.4v4.4h-4.4zM458.6 382.2h4.4v4.4h-4.4zM459.7 381.6h4.4v4.4h-4.4zM460.8 382.3h4.4v4.4h-4.4zM461.9 381.6h4.4v4.4h-4.4zM463.1 382.1h4.4v4.4h-4.4zM464.2 381.6h4.4v4.4h-4.4zM465.3 382.3h4.4v4.4h-4.4zM466.5 382.3h4.4v4.4h-4.4zM467.6 382.5h4.4v4.4h-4.4zM468.7 381.9h4.4v4.4h-4.4zM469.8 381.6h4.4v4.4h-4.4zM471 381.1h4.4v4.4h-4.4zM472.1 381.2h4.4v4.4h-4.4zM473.2 380.9h4.4v4.4h-4.4zM474.3 381.3h4.4v4.4h-4.4zM475.5 381.1h4.4v4.4h-4.4zM476.6 381h4.4v4.4h-4.4zM477.7 380.3h4.4v4.4h-4.4zM478.9 380.4h4.4v4.4h-4.4zM480 380.5h4.4v4.4h-4.4zM481.1 380.4h4.4v4.4h-4.4zM482.2 380.5h4.4v4.4h-4.4zM483.4 380.4h4.4v4.4h-4.4zM484.5 380.6h4.4v4.4h-4.4zM485.6 380.8h4.4v4.4h-4.4zM486.7 380.3h4.4v4.4h-4.4zM487.9 380.7h4.4v4.4h-4.4zM489 379.9h4.4v4.4h-4.4zM490.1 380.3h4.4v4.4h-4.4zM491.2 379.6h4.4v4.4h-4.4zM492.4 379.6h4.4v4.4h-4.4zM493.5 378.5h4.4v4.4h-4.4zM494.6 378.9h4.4v4.4h-4.4zM495.8 378.6h4.4v4.4h-4.4zM496.9 378.9h4.4v4.4h-4.4zM498 378.6h4.4v4.4h-4.4zM499.1 378.8h4.4v4.4h-4.4zM500.3 379.7h4.4v4.4h-4.4zM501.4 379.8h4.4v4.4h-4.4zM502.5 379.9h4.4v4.4h-4.4zM503.6 379.2h4.4v4.4h-4.4zM504.8 378.7h4.4v4.4h-4.4zM505.9 377.8h4.4v4.4h-4.4zM507 377.7h4.4v4.4h-4.4zM508.2 377.3h4.4v4.4h-4.4zM509.3 377.5h4.4v4.4h-4.4zM510.4 377.4h4.4v4.4h-4.4zM511.5 376.7h4.4v4.4h-4.4zM512.7 377.1h4.4v4.4h-4.4zM513.8 377.4h4.4v4.4h-4.4zM514.9 377.3h4.4v4.4h-4.4zM516 376.9h4.4v4.4h-4.4zM517.2 376.9h4.4v4.4h-4.4zM518.3 377.4h4.4v4.4h-4.4zM519.4 376.8h4.4v4.4h-4.4zM520.5 375.8h4.4v4.4h-4.4zM521.7 375.8h4.4v4.4h-4.4zM522.8 376.8h4.4v4.4h-4.4zM523.9 376.6h4.4v4.4h-4.4zM525.1 376.2h4.4v4.4h-4.4zM526.2 375.1h4.4v4.4h-4.4zM527.3 375.3h4.4v4.4h-4.4zM528.4 375.3h4.4v4.4h-4.4zM529.6 375.5h4.4v4.4h-4.4zM530.7 375.2h4.4v4.4h-4.4zM531.8 375.8h4.4v4.4h-4.4zM532.9 375.6h4.4v4.4h-4.4zM534.1 375.7h4.4v4.4h-4.4zM535.2 375.2h4.4v4.4h-4.4zM536.3 375.2h4.4v4.4h-4.4zM537.5 375.1h4.4v4.4h-4.4zM538.6 374.9h4.4v4.4h-4.4zM539.7 374.4h4.4v4.4h-4.4zM540.8 374.7h4.4v4.4h-4.4zM542 374.6h4.4v4.4h-4.4zM543.1 375.2h4.4v4.4h-4.4zM544.2 374.8h4.4v4.4h-4.4zM545.3 374.3h4.4v4.4h-4.4zM546.5 373.3h4.4v4.4h-4.4zM547.6 373.3h4.4v4.4h-4.4zM548.7 373.3h4.4v4.4h-4.4zM549.9 374.2h4.4v4.4h-4.4zM551 374.2h4.4v4.4h-4.4zM552.1 373.9h4.4v4.4h-4.4zM553.2 373.1h4.4v4.4h-4.4zM554.4 373h4.4v4.4h-4.4zM555.5 373.1h4.4v4.4h-4.4zM556.6 373.8h4.4v4.4h-4.4zM557.7 373.7h4.4v4.4h-4.4zM558.9 373.3h4.4v4.4h-4.4zM560 372.7h4.4v4.4h-4.4zM561.1 372.4h4.4v4.4h-4.4zM562.2 372.4h4.4v4.4h-4.4zM563.4 371.5h4.4v4.4h-4.4zM564.5 370.9h4.4v4.4h-4.4zM565.6 370.4h4.4v4.4h-4.4zM566.8 371.2h4.4v4.4h-4.4zM567.9 371.6h4.4v4.4h-4.4zM569 371.9h4.4v4.4h-4.4zM570.1 371.9h4.4v4.4h-4.4zM571.3 371.3h4.4v4.4h-4.4zM572.4 371.3h4.4v4.4h-4.4zM573.5 370.7h4.4v4.4h-4.4zM574.6 370.5h4.4v4.4h-4.4zM575.8 370.2h4.4v4.4h-4.4zM576.9 369.1h4.4v4.4h-4.4zM578 368.4h4.4v4.4h-4.4zM579.2 367.2h4.4v4.4h-4.4zM580.3 367.1h4.4v4.4h-4.4zM581.4 366.6h4.4v4.4h-4.4zM582.5 364.9h4.4v4.4h-4.4zM583.7 363.6h4.4v4.4h-4.4zM584.8 362.4h4.4v4.4h-4.4zM585.9 362.4h4.4v4.4h-4.4zM587 360.1h4.4v4.4h-4.4zM588.2 352h4.4v4.4h-4.4z"/>
<path fill="none" stroke="#0000c0" stroke-width="1.2" d="M351.7 406h4M352.8 401.2h4M354 398.5h4M355.1 398.3h4M356.2 398.3h4M357.3 398h4M358.5 396.4h4M359.6 395.7h4M360.7 395.6h4M361.8 395.8h4M363 395.9h4M364.1 395.4h4M365.2 394.1h4M366.4 394.1h4M367.5 394.1h4M368.6 394.8h4M369.7 394.2h4M370.9 392.8h4M372 392.1h4M373.1 391.1h4M374.2 392.2h4M375.4 391.6h4M376.5 391.6h4M377.6 391.6h4M378.7 392.3h4M379.9 392.1h4M381 392.1h4M382.1 391.1h4M383.3 391.3h4M384.4 390.2h4M385.5 390.9h4M386.6 390.4h4M387.8 390h4M388.9 389.7h4M390 389h4M391.1 389.4h4M392.3 389h4M393.4 389.9h4M394.5 389.2h4M395.7 388.9h4M396.8 388.5h4M397.9 389.1h4M399 388.3h4M400.2 388h4M401.3 387.6h4M402.4 387.7h4M403.5 387.1h4M404.7 387h4M405.8 387.1h4M406.9 387.1h4M408.1 387.5h4M409.2 387.3h4M410.3 387.1h4M411.4 385.2h4M412.6 385h4M413.7 384.7h4M414.8 386.4h4M415.9 387.4h4M417.1 387.3h4M418.2 387.3h4M419.3 387h4M420.4 387.4h4M421.6 386.8h4M422.7 386.5h4M423.8 386.1h4M425 384.9h4M426.1 384.2h4M427.2 384.5h4M428.3 385h4M429.5 385h4M430.6 385.3h4M431.7 384.9h4M432.8 385.6h4M434 384.8h4M435.1 385.2h4M436.2 384.2h4M437.4 384.3h4M438.5 383.8h4M439.6 383.5h4M440.7 383.3h4M441.9 383.6h4M443 384.6h4M444.1 384.7h4M445.2 384.1h4M446.4 383.4h4M447.5 382h4M448.6 381.9h4M449.7 382.6h4M450.9 384.4h4M452 385.1h4M453.1 384.6h4M454.3 384h4M455.4 383.8h4M456.5 382.8h4M457.6 382h4M458.8 382.2h4M459.9 383.5h4M461 383.9h4M462.1 383.1h4M463.3 382.3h4M464.4 381.8h4M465.5 381.4h4M466.7 380.6h4M467.8 380.8h4M468.9 381h4M470 381.6h4M471.2 382.2h4M472.3 382.6h4M473.4 382.3h4M474.5 381.7h4M475.7 380.6h4M476.8 381.3h4M477.9 381.1h4M479.1 381.6h4M480.2 381.3h4M481.3 381.7h4M482.4 381.5h4M483.6 380.7h4M484.7 380.9h4M485.8 381h4M486.9 382h4M488.1 380.7h4M489.2 380.7h4M490.3 379.7h4M491.4 380.1h4M492.6 379.8h4M493.7 379.6h4M494.8 380h4M496 380.1h4M497.1 379.4h4M498.2 378.5h4M499.3 377.8h4M500.5 378.1h4M501.6 377.9h4M502.7 378h4M503.8 378.4h4M505 378.2h4M506.1 377.5h4M507.2 377.2h4M508.4 377.8h4M509.5 377.9h4M510.6 378.4h4M511.7 378.1h4M512.9 378.4h4M514 378.2h4M515.1 377.5h4M516.2 377.4h4M517.4 376.7h4M518.5 377.2h4M519.6 377.9h4M520.8 377.9h4M521.9 378.2h4M523 376.5h4M524.1 376.3h4M525.3 375.2h4M526.4 376.8h4M527.5 376.9h4M528.6 377.6h4M529.8 375.8h4M530.9 376h4M532 375.8h4M533.1 376.6h4M534.3 375.2h4M535.4 374.9h4M536.5 375.2h4M537.7 376.9h4M538.8 376.9h4M539.9 375.7h4M541 374.9h4M542.2 375h4M543.3 375.3h4M544.4 375.6h4M545.5 374.9h4M546.7 375.2h4M547.8 375.2h4M548.9 375h4M550.1 376.2h4M551.2 375.8h4M552.3 376.2h4M553.4 374.4h4M554.6 374.3h4M555.7 373.9h4M556.8 373.4h4M557.9 372.6h4M559.1 372.7h4M560.2 373.2h4M561.3 372.6h4M562.4 371.3h4M563.6 371h4M564.7 372h4M565.8 373.1h4M567 372.5h4M568.1 372.5h4M569.2 371.8h4M570.3 371.9h4M571.5 371.2h4M572.6 371.4h4M573.7 371.5h4M574.8 371.5h4M576 370.3h4M577.1 369.4h4M578.2 367.9h4M579.4 367.2h4M580.5 366.3h4M581.6 365.6h4M582.7 365.1h4M583.9 364.1h4M585 362.9h4M586.1 360h4M587.2 356.2h4M588.4 346.2h4"/>
<path fill="none" stroke="#33ccff" stroke-width="1.5" d="M351.5 406.2h4.4M352.6 402.2h4.4M353.8 400.3h4.4M354.9 398.5h4.4M356 397.7h4.4M357.1 398.4h4.4M358.3 397.4h4.4M359.4 397.1h4.4M360.5 395.2h4.4M361.6 394.7h4.4M362.8 393.6h4.4M363.9 392.9h4.4M365 392.8h4.4M366.2 392.9h4.4M367.3 393.3h4.4M368.4 392.7h4.4M369.5 392.9h4.4M370.7 393h4.4M371.8 393.8h4.4M372.9 392.9h4.4M374 390.7h4.4M375.2 390.5h4.4M376.3 391.1h4.4M377.4 392h4.4M378.5 392.1h4.4M379.7 391.6h4.4M380.8 391.7h4.4M381.9 390.5h4.4M383.1 390.7h4.4M384.2 390.3h4.4M385.3 390.4h4.4M386.4 390.6h4.4M387.6 390.7h4.4M388.7 390.1h4.4M389.8 389.7h4.4M390.9 389.8h4.4M392.1 389.9h4.4M393.2 389.2h4.4M394.3 388.7h4.4M395.5 388.8h4.4M396.6 388.9h4.4M397.7 389h4.4M398.8 388.7h4.4M400 389.4h4.4M401.1 388.6h4.4M402.2 388.5h4.4M403.3 388.3h4.4M404.5 389.6h4.4M405.6 389.7h4.4M406.7 388.6h4.4M407.9 386.8h4.4M409 387.2h4.4M410.1 387.3h4.4M411.2 387.3h4.4M412.4 386.8h4.4M413.5 387.3h4.4M414.6 387.9h4.4M415.7 388.6h4.4M416.9 388.4h4.4M418 388.2h4.4M419.1 387.1h4.4M420.2 386.7h4.4M421.4 386.9h4.4M422.5 387.3h4.4M423.6 387.4h4.4M424.8 386.8h4.4M425.9 386.7h4.4M427 386.7h4.4M428.1 386.4h4.4M429.3 385.4h4.4M430.4 385.5h4.4M431.5 385.8h4.4M432.6 386.1h4.4M433.8 385.3h4.4M434.9 384.8h4.4M436 384.1h4.4M437.2 383.8h4.4M438.3 383.1h4.4M439.4 383.9h4.4M440.5 383.9h4.4M441.7 384.9h4.4M442.8 384.7h4.4M443.9 384.8h4.4M445 384h4.4M446.2 383.8h4.4M447.3 382.9h4.4M448.4 383.4h4.4M449.5 383.5h4.4M450.7 383.8h4.4M451.8 383.3h4.4M452.9 383h4.4M454.1 382.8h4.4M455.2 382.7h4.4M456.3 383.3h4.4M457.4 383.5h4.4M458.6 382.6h4.4M459.7 381.6h4.4M460.8 382.5h4.4M461.9 382.7h4.4M463.1 383.4h4.4M464.2 382.3h4.4M465.3 383h4.4M466.5 382.3h4.4M467.6 381.5h4.4M468.7 380.9h4.4M469.8 381.8h4.4M471 382.4h4.4M472.1 382.7h4.4M473.2 381.5h4.4M474.3 381.4h4.4M475.5 381.2h4.4M476.6 381.4h4.4M477.7 382.4h4.4M478.9 382.2h4.4M480 381.8h4.4M481.1 380.3h4.4M482.2 379.6h4.4M483.4 378.9h4.4M484.5 379.4h4.4M485.6 379h4.4M486.7 380.3h4.4M487.9 380.3h4.4M489 380.9h4.4M490.1 379.6h4.4M491.2 379.2h4.4M492.4 379.2h4.4M493.5 380.2h4.4M494.6 379.7h4.4M495.8 379.4h4.4M496.9 378.8h4.4M498 378.9h4.4M499.1 378.7h4.4M500.3 377.8h4.4M501.4 377.1h4.4M502.5 377h4.4M503.6 377.5h4.4M504.8 378.7h4.4M505.9 380h4.4M507 380.8h4.4M508.2 380.4h4.4M509.3 380.1h4.4M510.4 379.1h4.4M511.5 378.6h4.4M512.7 378.7h4.4M513.8 378.2h4.4M514.9 378.1h4.4M516 376.8h4.4M517.2 377.9h4.4M518.3 377.7h4.4M519.4 378.1h4.4M520.5 377.1h4.4M521.7 376.7h4.4M522.8 376.4h4.4M523.9 376.6h4.4M525.1 376.5h4.4M526.2 375.9h4.4M527.3 375.3h4.4M528.4 376.2h4.4M529.6 376.7h4.4M530.7 377.1h4.4M531.8 376.8h4.4M532.9 376.2h4.4M534.1 376.2h4.4M535.2 375.6h4.4M536.3 375.1h4.4M537.5 374.5h4.4M538.6 374.7h4.4M539.7 375.3h4.4M540.8 376h4.4M542 375h4.4M543.1 374.8h4.4M544.2 374.4h4.4M545.3 374.6h4.4M546.5 374.7h4.4M547.6 374.3h4.4M548.7 374.1h4.4M549.9 374.4h4.4M551 373.8h4.4M552.1 374.7h4.4M553.2 373.9h4.4M554.4 374h4.4M555.5 373h4.4M556.6 372.7h4.4M557.7 372.7h4.4M558.9 373.1h4.4M560 372.4h4.4M561.1 373.2h4.4M562.2 373.3h4.4M563.4 374.6h4.4M564.5 373.4h4.4M565.6 371.8h4.4M566.8 370.6h4.4M567.9 370.7h4.4M569 371.7h4.4M570.1 371.4h4.4M571.3 371.1h4.4M572.4 370.6h4.4M573.5 369.7h4.4M574.6 370.1h4.4M575.8 369h4.4M576.9 369.3h4.4M578 368.4h4.4M579.2 367.8h4.4M580.3 366.8h4.4M581.4 366h4.4M582.5 365h4.4M583.7 364.1h4.4M584.8 361.5h4.4M585.9 358.9h4.4M587 354.3h4.4M588.2 343.9h4.4"/>
<path fill="#ccffff" d="M353.7 398l2.8 2.8l-2.8 2.8l-2.8 -2.8zM354.8 396.2l2.8 2.8l-2.8 2.8l-2.8 -2.8zM356 394.7l2.8 2.8l-2.8 2.8l-2.8 -2.8zM357.1 393.6l2.8 2.8l-2.8 2.8l-2.8 -2.8zM358.2 392.8l2.8 2.8l-2.8 2.8l-2.8 -2.8zM359.3 392.5l2.8 2.8l-2.8 2.8l-2.8 -2.8zM360.5 392.7l2.8 2.8l-2.8 2.8l-2.8 -2.8zM361.6 392.5l2.8 2.8l-2.8 2.8l-2.8 -2.8zM362.7 392.3l2.8 2.8l-2.8 2.8l-2.8 -2.8zM363.8 391.2l2.8 2.8l-2.8 2.8l-2.8 -2.8zM365 391.1l2.8 2.8l-2.8 2.8l-2.8 -2.8zM366.1 389.9l2.8 2.8l-2.8 2.8l-2.8 -2.8zM367.2 389.6l2.8 2.8l-2.8 2.8l-2.8 -2.8zM368.4 388.6l2.8 2.8l-2.8 2.8l-2.8 -2.8zM369.5 388.9l2.8 2.8l-2.8 2.8l-2.8 -2.8zM370.6 388.8l2.8 2.8l-2.8 2.8l-2.8 -2.8zM371.7 388.6l2.8 2.8l-2.8 2.8l-2.8 -2.8zM372.9 388l2.8 2.8l-2.8 2.8l-2.8 -2.8zM374 387.5l2.8 2.8l-2.8 2.8l-2.8 -2.8zM375.1 387.1l2.8 2.8l-2.8 2.8l-2.8 -2.8zM376.2 386.9l2.8 2.8l-2.8 2.8l-2.8 -2.8zM377.4 386.7l2.8 2.8l-2.8 2.8l-2.8 -2.8zM378.5 387.3l2.8 2.8l-2.8 2.8l-2.8 -2.8zM379.6 388l2.8 2.8l-2.8 2.8l-2.8 -2.8zM380.7 388l2.8 2.8l-2.8 2.8l-2.8 -2.8zM381.9 387.5l2.8 2.8l-2.8 2.8l-2.8 -2.8zM383 387l2.8 2.8l-2.8 2.8l-2.8 -2.8zM384.1 386.8l2.8 2.8l-2.8 2.8l-2.8 -2.8zM385.3 386.7l2.8 2.8l-2.8 2.8l-2.8 -2.8zM386.4 386.7l2.8 2.8l-2.8 2.8l-2.8 -2.8zM387.5 386.8l2.8 2.8l-2.8 2.8l-2.8 -2.8zM388.6 386.7l2.8 2.8l-2.8 2.8l-2.8 -2.8zM389.8 386.1l2.8 2.8l-2.8 2.8l-2.8 -2.8zM390.9 386.3l2.8 2.8l-2.8 2.8l-2.8 -2.8zM392 385.9l2.8 2.8l-2.8 2.8l-2.8 -2.8zM393.1 386l2.8 2.8l-2.8 2.8l-2.8 -2.8zM394.3 385l2.8 2.8l-2.8 2.8l-2.8 -2.8zM395.4 384.8l2.8 2.8l-2.8 2.8l-2.8 -2.8zM396.5 384.6l2.8 2.8l-2.8 2.8l-2.8 -2.8zM397.7 384.6l2.8 2.8l-2.8 2.8l-2.8 -2.8zM398.8 384.9l2.8 2.8l-2.8 2.8l-2.8 -2.8zM399.9 384.7l2.8 2.8l-2.8 2.8l-2.8 -2.8zM401 384.2l2.8 2.8l-2.8 2.8l-2.8 -2.8zM402.2 383.1l2.8 2.8l-2.8 2.8l-2.8 -2.8zM403.3 383.2l2.8 2.8l-2.8 2.8l-2.8 -2.8zM404.4 383.3l2.8 2.8l-2.8 2.8l-2.8 -2.8zM405.5 384.5l2.8 2.8l-2.8 2.8l-2.8 -2.8zM406.7 384l2.8 2.8l-2.8 2.8l-2.8 -2.8zM407.8 383.8l2.8 2.8l-2.8 2.8l-2.8 -2.8zM408.9 383.4l2.8 2.8l-2.8 2.8l-2.8 -2.8zM410.1 383.2l2.8 2.8l-2.8 2.8l-2.8 -2.8zM411.2 383.3l2.8 2.8l-2.8 2.8l-2.8 -2.8zM412.3 382.7l2.8 2.8l-2.8 2.8l-2.8 -2.8zM413.4 382.9l2.8 2.8l-2.8 2.8l-2.8 -2.8zM414.6 383.1l2.8 2.8l-2.8 2.8l-2.8 -2.8zM415.7 383.2l2.8 2.8l-2.8 2.8l-2.8 -2.8zM416.8 383.5l2.8 2.8l-2.8 2.8l-2.8 -2.8zM417.9 382.8l2.8 2.8l-2.8 2.8l-2.8 -2.8zM419.1 383l2.8 2.8l-2.8 2.8l-2.8 -2.8zM420.2 381.7l2.8 2.8l-2.8 2.8l-2.8 -2.8zM421.3 381.2l2.8 2.8l-2.8 2.8l-2.8 -2.8zM422.4 381.7l2.8 2.8l-2.8 2.8l-2.8 -2.8zM423.6 382.6l2.8 2.8l-2.8 2.8l-2.8 -2.8zM424.7 383.6l2.8 2.8l-2.8 2.8l-2.8 -2.8zM425.8 382.2l2.8 2.8l-2.8 2.8l-2.8 -2.8zM427 381.7l2.8 2.8l-2.8 2.8l-2.8 -2.8zM428.1 381.4l2.8 2.8l-2.8 2.8l-2.8 -2.8zM429.2 381.9l2.8 2.8l-2.8 2.8l-2.8 -2.8zM430.3 381.8l2.8 2.8l-2.8 2.8l-2.8 -2.8zM431.5 381.2l2.8 2.8l-2.8 2.8l-2.8 -2.8zM432.6 381.1l2.8 2.8l-2.8 2.8l-2.8 -2.8zM433.7 380.5l2.8 2.8l-2.8 2.8l-2.8 -2.8zM434.8 380.6l2.8 2.8l-2.8 2.8l-2.8 -2.8zM436 380.7l2.8 2.8l-2.8 2.8l-2.8 -2.8zM437.1 380.7l2.8 2.8l-2.8 2.8l-2.8 -2.8zM438.2 380.6l2.8 2.8l-2.8 2.8l-2.8 -2.8zM439.4 380.2l2.8 2.8l-2.8 2.8l-2.8 -2.8zM440.5 380.4l2.8 2.8l-2.8 2.8l-2.8 -2.8zM441.6 380.7l2.8 2.8l-2.8 2.8l-2.8 -2.8zM442.7 380.8l2.8 2.8l-2.8 2.8l-2.8 -2.8zM443.9 380.8l2.8 2.8l-2.8 2.8l-2.8 -2.8zM445 379.9l2.8 2.8l-2.8 2.8l-2.8 -2.8zM446.1 379.6l2.8 2.8l-2.8 2.8l-2.8 -2.8zM447.2 379.7l2.8 2.8l-2.8 2.8l-2.8 -2.8zM448.4 379.8l2.8 2.8l-2.8 2.8l-2.8 -2.8zM449.5 379.6l2.8 2.8l-2.8 2.8l-2.8 -2.8zM450.6 378.9l2.8 2.8l-2.8 2.8l-2.8 -2.8zM451.7 379.6l2.8 2.8l-2.8 2.8l-2.8 -2.8zM452.9 379.4l2.8 2.8l-2.8 2.8l-2.8 -2.8zM454 379.4l2.8 2.8l-2.8 2.8l-2.8 -2.8zM455.1 379.1l2.8 2.8l-2.8 2.8l-2.8 -2.8zM456.3 379.5l2.8 2.8l-2.8 2.8l-2.8 -2.8zM457.4 379.8l2.8 2.8l-2.8 2.8l-2.8 -2.8zM458.5 379.8l2.8 2.8l-2.8 2.8l-2.8 -2.8zM459.6 379.4l2.8 2.8l-2.8 2.8l-2.8 -2.8zM460.8 379.1l2.8 2.8l-2.8 2.8l-2.8 -2.8zM461.9 378.5l2.8 2.8l-2.8 2.8l-2.8 -2.8zM463 378.1l2.8 2.8l-2.8 2.8l-2.8 -2.8zM464.1 377.9l2.8 2.8l-2.8 2.8l-2.8 -2.8zM465.3 378.1l2.8 2.8l-2.8 2.8l-2.8 -2.8zM466.4 378.1l2.8 2.8l-2.8 2.8l-2.8 -2.8zM467.5 378.2l2.8 2.8l-2.8 2.8l-2.8 -2.8zM468.7 378.2l2.8 2.8l-2.8 2.8l-2.8 -2.8zM469.8 378.1l2.8 2.8l-2.8 2.8l-2.8 -2.8zM470.9 377.5l2.8 2.8l-2.8 2.8l-2.8 -2.8zM472 376.9l2.8 2.8l-2.8 2.8l-2.8 -2.8zM473.2 376.5l2.8 2.8l-2.8 2.8l-2.8 -2.8zM474.3 376.2l2.8 2.8l-2.8 2.8l-2.8 -2.8zM475.4 376.4l2.8 2.8l-2.8 2.8l-2.8 -2.8zM476.5 376.2l2.8 2.8l-2.8 2.8l-2.8 -2.8zM477.7 376.4l2.8 2.8l-2.8 2.8l-2.8 -2.8zM478.8 375.9l2.8 2.8l-2.8 2.8l-2.8 -2.8zM479.9 376.5l2.8 2.8l-2.8 2.8l-2.8 -2.8zM481.1 376.7l2.8 2.8l-2.8 2.8l-2.8 -2.8zM482.2 377.3l2.8 2.8l-2.8 2.8l-2.8 -2.8zM483.3 376.9l2.8 2.8l-2.8 2.8l-2.8 -2.8zM484.4 376.7l2.8 2.8l-2.8 2.8l-2.8 -2.8zM485.6 376.5l2.8 2.8l-2.8 2.8l-2.8 -2.8zM486.7 376.6l2.8 2.8l-2.8 2.8l-2.8 -2.8zM487.8 376.7l2.8 2.8l-2.8 2.8l-2.8 -2.8zM488.9 376.1l2.8 2.8l-2.8 2.8l-2.8 -2.8zM490.1 375.6l2.8 2.8l-2.8 2.8l-2.8 -2.8zM491.2 375.1l2.8 2.8l-2.8 2.8l-2.8 -2.8zM492.3 375.3l2.8 2.8l-2.8 2.8l-2.8 -2.8zM493.4 375.4l2.8 2.8l-2.8 2.8l-2.8 -2.8zM494.6 376.2l2.8 2.8l-2.8 2.8l-2.8 -2.8zM495.7 376.6l2.8 2.8l-2.8 2.8l-2.8 -2.8zM496.8 376.7l2.8 2.8l-2.8 2.8l-2.8 -2.8zM498 376.5l2.8 2.8l-2.8 2.8l-2.8 -2.8zM499.1 376l2.8 2.8l-2.8 2.8l-2.8 -2.8zM500.2 376.6l2.8 2.8l-2.8 2.8l-2.8 -2.8zM501.3 376.7l2.8 2.8l-2.8 2.8l-2.8 -2.8zM502.5 377.5l2.8 2.8l-2.8 2.8l-2.8 -2.8zM503.6 376.6l2.8 2.8l-2.8 2.8l-2.8 -2.8zM504.7 376.1l2.8 2.8l-2.8 2.8l-2.8 -2.8zM505.8 375.5l2.8 2.8l-2.8 2.8l-2.8 -2.8zM507 375.3l2.8 2.8l-2.8 2.8l-2.8 -2.8zM508.1 375.2l2.8 2.8l-2.8 2.8l-2.8 -2.8zM509.2 374.4l2.8 2.8l-2.8 2.8l-2.8 -2.8zM510.4 374.6l2.8 2.8l-2.8 2.8l-2.8 -2.8zM511.5 374.5l2.8 2.8l-2.8 2.8l-2.8 -2.8zM512.6 375l2.8 2.8l-2.8 2.8l-2.8 -2.8zM513.7 374.5l2.8 2.8l-2.8 2.8l-2.8 -2.8zM514.9 373.8l2.8 2.8l-2.8 2.8l-2.8 -2.8zM516 373.6l2.8 2.8l-2.8 2.8l-2.8 -2.8zM517.1 374l2.8 2.8l-2.8 2.8l-2.8 -2.8zM518.2 374l2.8 2.8l-2.8 2.8l-2.8 -2.8zM519.4 373.5l2.8 2.8l-2.8 2.8l-2.8 -2.8zM520.5 372.9l2.8 2.8l-2.8 2.8l-2.8 -2.8zM521.6 373.1l2.8 2.8l-2.8 2.8l-2.8 -2.8zM522.8 372.8l2.8 2.8l-2.8 2.8l-2.8 -2.8zM523.9 373.4l2.8 2.8l-2.8 2.8l-2.8 -2.8zM525 373.7l2.8 2.8l-2.8 2.8l-2.8 -2.8zM526.1 374l2.8 2.8l-2.8 2.8l-2.8 -2.8zM527.3 372.7l2.8 2.8l-2.8 2.8l-2.8 -2.8zM528.4 372.4l2.8 2.8l-2.8 2.8l-2.8 -2.8zM529.5 373.2l2.8 2.8l-2.8 2.8l-2.8 -2.8zM530.6 374l2.8 2.8l-2.8 2.8l-2.8 -2.8zM531.8 374.2l2.8 2.8l-2.8 2.8l-2.8 -2.8zM532.9 373.1l2.8 2.8l-2.8 2.8l-2.8 -2.8zM534 372.8l2.8 2.8l-2.8 2.8l-2.8 -2.8zM535.1 371.8l2.8 2.8l-2.8 2.8l-2.8 -2.8zM536.3 372.7l2.8 2.8l-2.8 2.8l-2.8 -2.8zM537.4 372.7l2.8 2.8l-2.8 2.8l-2.8 -2.8zM538.5 372.4l2.8 2.8l-2.8 2.8l-2.8 -2.8zM539.7 371l2.8 2.8l-2.8 2.8l-2.8 -2.8zM540.8 370.8l2.8 2.8l-2.8 2.8l-2.8 -2.8zM541.9 371.5l2.8 2.8l-2.8 2.8l-2.8 -2.8zM543 371.9l2.8 2.8l-2.8 2.8l-2.8 -2.8zM544.2 371.8l2.8 2.8l-2.8 2.8l-2.8 -2.8zM545.3 372.4l2.8 2.8l-2.8 2.8l-2.8 -2.8zM546.4 372.5l2.8 2.8l-2.8 2.8l-2.8 -2.8zM547.5 371.6l2.8 2.8l-2.8 2.8l-2.8 -2.8zM548.7 370.7l2.8 2.8l-2.8 2.8l-2.8 -2.8zM549.8 370.1l2.8 2.8l-2.8 2.8l-2.8 -2.8zM550.9 370.3l2.8 2.8l-2.8 2.8l-2.8 -2.8zM552.1 370.3l2.8 2.8l-2.8 2.8l-2.8 -2.8zM553.2 370.6l2.8 2.8l-2.8 2.8l-2.8 -2.8zM554.3 370.4l2.8 2.8l-2.8 2.8l-2.8 -2.8zM555.4 370.2l2.8 2.8l-2.8 2.8l-2.8 -2.8zM556.6 369.8l2.8 2.8l-2.8 2.8l-2.8 -2.8zM557.7 370.2l2.8 2.8l-2.8 2.8l-2.8 -2.8zM558.8 370l2.8 2.8l-2.8 2.8l-2.8 -2.8zM559.9 370.3l2.8 2.8l-2.8 2.8l-2.8 -2.8zM561.1 369.8l2.8 2.8l-2.8 2.8l-2.8 -2.8zM562.2 370l2.8 2.8l-2.8 2.8l-2.8 -2.8zM563.3 369.7l2.8 2.8l-2.8 2.8l-2.8 -2.8zM564.4 369.6l2.8 2.8l-2.8 2.8l-2.8 -2.8zM565.6 368.9l2.8 2.8l-2.8 2.8l-2.8 -2.8zM566.7 368.8l2.8 2.8l-2.8 2.8l-2.8 -2.8zM567.8 368l2.8 2.8l-2.8 2.8l-2.8 -2.8zM569 368.9l2.8 2.8l-2.8 2.8l-2.8 -2.8zM570.1 368.3l2.8 2.8l-2.8 2.8l-2.8 -2.8zM571.2 368.6l2.8 2.8l-2.8 2.8l-2.8 -2.8zM572.3 367.2l2.8 2.8l-2.8 2.8l-2.8 -2.8zM573.5 366.9l2.8 2.8l-2.8 2.8l-2.8 -2.8zM574.6 366.5l2.8 2.8l-2.8 2.8l-2.8 -2.8zM575.7 366l2.8 2.8l-2.8 2.8l-2.8 -2.8zM576.8 365.5l2.8 2.8l-2.8 2.8l-2.8 -2.8zM578 364.4l2.8 2.8l-2.8 2.8l-2.8 -2.8zM579.1 363.6l2.8 2.8l-2.8 2.8l-2.8 -2.8zM580.2 362.7l2.8 2.8l-2.8 2.8l-2.8 -2.8zM581.4 363l2.8 2.8l-2.8 2.8l-2.8 -2.8zM582.5 361.9l2.8 2.8l-2.8 2.8l-2.8 -2.8zM583.6 360.8l2.8 2.8l-2.8 2.8l-2.8 -2.8zM584.7 358.9l2.8 2.8l-2.8 2.8l-2.8 -2.8zM585.9 358.3l2.8 2.8l-2.8 2.8l-2.8 -2.8zM587 355.7l2.8 2.8l-2.8 2.8l-2.8 -2.8zM588.1 351.6l2.8 2.8l-2.8 2.8l-2.8 -2.8zM589.2 345.9l2.8 2.8l-2.8 2.8l-2.8 -2.8zM590.4 335.3l2.8 2.8l-2.8 2.8l-2.8 -2.8z"/>
<path fill="#d4f4ec" d="M351.3 405.2h4.8v4.8h-4.8zM352.4 400.1h4.8v4.8h-4.8zM353.6 397.2h4.8v4.8h-4.8zM354.7 396.3h4.8v4.8h-4.8zM355.8 395.9h4.8v4.8h-4.8zM356.9 394.9h4.8v4.8h-4.8zM358.1 394.2h4.8v4.8h-4.8zM359.2 393.7h4.8v4.8h-4.8zM360.3 393.5h4.8v4.8h-4.8zM361.4 392.9h4.8v4.8h-4.8zM362.6 392.5h4.8v4.8h-4.8zM363.7 392.4h4.8v4.8h-4.8zM364.8 392.2h4.8v4.8h-4.8zM366 391.4h4.8v4.8h-4.8zM367.1 391.3h4.8v4.8h-4.8zM368.2 392h4.8v4.8h-4.8zM369.3 391.7h4.8v4.8h-4.8zM370.5 390.6h4.8v4.8h-4.8zM371.6 389.2h4.8v4.8h-4.8zM372.7 389h4.8v4.8h-4.8zM373.8 388.9h4.8v4.8h-4.8zM375 388.6h4.8v4.8h-4.8zM376.1 389.1h4.8v4.8h-4.8zM377.2 389.8h4.8v4.8h-4.8zM378.3 390.7h4.8v4.8h-4.8zM379.5 390.5h4.8v4.8h-4.8zM380.6 389.8h4.8v4.8h-4.8zM381.7 389.5h4.8v4.8h-4.8zM382.9 388.9h4.8v4.8h-4.8zM384 388.8h4.8v4.8h-4.8zM385.1 387.8h4.8v4.8h-4.8zM386.2 388.3h4.8v4.8h-4.8zM387.4 388.6h4.8v4.8h-4.8zM388.5 388.7h4.8v4.8h-4.8zM389.6 388h4.8v4.8h-4.8zM390.7 387.4h4.8v4.8h-4.8zM391.9 387.5h4.8v4.8h-4.8zM393 387.7h4.8v4.8h-4.8zM394.1 387.6h4.8v4.8h-4.8zM395.3 387.5h4.8v4.8h-4.8zM396.4 386.4h4.8v4.8h-4.8zM397.5 386.1h4.8v4.8h-4.8zM398.6 385.1h4.8v4.8h-4.8zM399.8 386.2h4.8v4.8h-4.8zM400.9 386.7h4.8v4.8h-4.8zM402 387.5h4.8v4.8h-4.8zM403.1 387.1h4.8v4.8h-4.8zM404.3 387.2h4.8v4.8h-4.8zM405.4 387.1h4.8v4.8h-4.8zM406.5 386h4.8v4.8h-4.8zM407.7 385h4.8v4.8h-4.8zM408.8 383.6h4.8v4.8h-4.8zM409.9 383.8h4.8v4.8h-4.8zM411 383.3h4.8v4.8h-4.8zM412.2 384.1h4.8v4.8h-4.8zM413.3 384.4h4.8v4.8h-4.8zM414.4 384.5h4.8v4.8h-4.8zM415.5 384.3h4.8v4.8h-4.8zM416.7 384.1h4.8v4.8h-4.8zM417.8 384.3h4.8v4.8h-4.8zM418.9 384.3h4.8v4.8h-4.8zM420 383.1h4.8v4.8h-4.8zM421.2 382.9h4.8v4.8h-4.8zM422.3 383.2h4.8v4.8h-4.8zM423.4 384.1h4.8v4.8h-4.8zM424.6 383.6h4.8v4.8h-4.8zM425.7 383.1h4.8v4.8h-4.8zM426.8 383h4.8v4.8h-4.8zM427.9 383.1h4.8v4.8h-4.8zM429.1 383.4h4.8v4.8h-4.8zM430.2 382.9h4.8v4.8h-4.8zM431.3 383.1h4.8v4.8h-4.8zM432.4 382.7h4.8v4.8h-4.8zM433.6 383.7h4.8v4.8h-4.8zM434.7 383.6h4.8v4.8h-4.8zM435.8 383.3h4.8v4.8h-4.8zM437 382.7h4.8v4.8h-4.8zM438.1 382.5h4.8v4.8h-4.8zM439.2 382.7h4.8v4.8h-4.8zM440.3 381.5h4.8v4.8h-4.8zM441.5 381.7h4.8v4.8h-4.8zM442.6 381.5h4.8v4.8h-4.8zM443.7 381.7h4.8v4.8h-4.8zM444.8 382h4.8v4.8h-4.8zM446 381.9h4.8v4.8h-4.8zM447.1 382.2h4.8v4.8h-4.8zM448.2 381h4.8v4.8h-4.8zM449.3 380.4h4.8v4.8h-4.8zM450.5 380.2h4.8v4.8h-4.8zM451.6 380h4.8v4.8h-4.8zM452.7 380.7h4.8v4.8h-4.8zM453.9 381.1h4.8v4.8h-4.8zM455 381.4h4.8v4.8h-4.8zM456.1 380.5h4.8v4.8h-4.8zM457.2 379.9h4.8v4.8h-4.8zM458.4 379.6h4.8v4.8h-4.8zM459.5 380.2h4.8v4.8h-4.8zM460.6 380.3h4.8v4.8h-4.8zM461.7 380.5h4.8v4.8h-4.8zM462.9 380.3h4.8v4.8h-4.8zM464 380.6h4.8v4.8h-4.8zM465.1 381.3h4.8v4.8h-4.8zM466.3 380.9h4.8v4.8h-4.8zM467.4 380.7h4.8v4.8h-4.8zM468.5 379.9h4.8v4.8h-4.8zM469.6 379.6h4.8v4.8h-4.8zM470.8 379.7h4.8v4.8h-4.8zM471.9 379.8h4.8v4.8h-4.8zM473 380.2h4.8v4.8h-4.8zM474.1 379.7h4.8v4.8h-4.8zM475.3 379.4h4.8v4.8h-4.8zM476.4 378.8h4.8v4.8h-4.8zM477.5 379.3h4.8v4.8h-4.8zM478.7 379.6h4.8v4.8h-4.8zM479.8 380h4.8v4.8h-4.8zM480.9 379.6h4.8v4.8h-4.8zM482 379.6h4.8v4.8h-4.8zM483.2 379.3h4.8v4.8h-4.8zM484.3 379.1h4.8v4.8h-4.8zM485.4 378.4h4.8v4.8h-4.8zM486.5 378.6h4.8v4.8h-4.8zM487.7 378.2h4.8v4.8h-4.8zM488.8 379.1h4.8v4.8h-4.8zM489.9 378.6h4.8v4.8h-4.8zM491 378.8h4.8v4.8h-4.8zM492.2 378h4.8v4.8h-4.8zM493.3 377.9h4.8v4.8h-4.8zM494.4 378h4.8v4.8h-4.8zM495.6 377.6h4.8v4.8h-4.8zM496.7 377.5h4.8v4.8h-4.8zM497.8 377.1h4.8v4.8h-4.8zM498.9 376.7h4.8v4.8h-4.8zM500.1 377.2h4.8v4.8h-4.8zM501.2 377.3h4.8v4.8h-4.8zM502.3 377.9h4.8v4.8h-4.8zM503.4 376.8h4.8v4.8h-4.8zM504.6 376.6h4.8v4.8h-4.8zM505.7 375.8h4.8v4.8h-4.8zM506.8 376.3h4.8v4.8h-4.8zM508 376.5h4.8v4.8h-4.8zM509.1 376.8h4.8v4.8h-4.8zM510.2 376.6h4.8v4.8h-4.8zM511.3 376.5h4.8v4.8h-4.8zM512.5 376.7h4.8v4.8h-4.8zM513.6 377.3h4.8v4.8h-4.8zM514.7 376.1h4.8v4.8h-4.8zM515.8 375.7h4.8v4.8h-4.8zM517 374.8h4.8v4.8h-4.8zM518.1 375h4.8v4.8h-4.8zM519.2 374.8h4.8v4.8h-4.8zM520.4 374.5h4.8v4.8h-4.8zM521.5 373.8h4.8v4.8h-4.8zM522.6 373.3h4.8v4.8h-4.8zM523.7 373.6h4.8v4.8h-4.8zM524.9 375h4.8v4.8h-4.8zM526 375h4.8v4.8h-4.8zM527.1 374.6h4.8v4.8h-4.8zM528.2 373h4.8v4.8h-4.8zM529.4 373h4.8v4.8h-4.8zM530.5 373.3h4.8v4.8h-4.8zM531.6 374h4.8v4.8h-4.8zM532.7 373.5h4.8v4.8h-4.8zM533.9 373.2h4.8v4.8h-4.8zM535 372.1h4.8v4.8h-4.8zM536.1 372.6h4.8v4.8h-4.8zM537.3 372.2h4.8v4.8h-4.8zM538.4 371.9h4.8v4.8h-4.8zM539.5 372.2h4.8v4.8h-4.8zM540.6 372.9h4.8v4.8h-4.8zM541.8 374h4.8v4.8h-4.8zM542.9 373.6h4.8v4.8h-4.8zM544 372.9h4.8v4.8h-4.8zM545.1 373.1h4.8v4.8h-4.8zM546.3 372.5h4.8v4.8h-4.8zM547.4 373.5h4.8v4.8h-4.8zM548.5 373.1h4.8v4.8h-4.8zM549.7 372.7h4.8v4.8h-4.8zM550.8 372.2h4.8v4.8h-4.8zM551.9 372.8h4.8v4.8h-4.8zM553 373.3h4.8v4.8h-4.8zM554.2 373.2h4.8v4.8h-4.8zM555.3 372.3h4.8v4.8h-4.8zM556.4 372h4.8v4.8h-4.8zM557.5 370.5h4.8v4.8h-4.8zM558.7 371h4.8v4.8h-4.8zM559.8 370.9h4.8v4.8h-4.8zM560.9 371.9h4.8v4.8h-4.8zM562 370.8h4.8v4.8h-4.8zM563.2 370.5h4.8v4.8h-4.8zM564.3 370.6h4.8v4.8h-4.8zM565.4 370.7h4.8v4.8h-4.8zM566.6 370.7h4.8v4.8h-4.8zM567.7 369.6h4.8v4.8h-4.8zM568.8 369.5h4.8v4.8h-4.8zM569.9 369.7h4.8v4.8h-4.8zM571.1 369.7h4.8v4.8h-4.8zM572.2 369.2h4.8v4.8h-4.8zM573.3 368h4.8v4.8h-4.8zM574.4 368.3h4.8v4.8h-4.8zM575.6 367.6h4.8v4.8h-4.8zM576.7 367.5h4.8v4.8h-4.8zM577.8 367.1h4.8v4.8h-4.8zM579 366.5h4.8v4.8h-4.8zM580.1 365.2h4.8v4.8h-4.8zM581.2 363.2h4.8v4.8h-4.8zM582.3 362h4.8v4.8h-4.8zM583.5 362h4.8v4.8h-4.8zM584.6 360.7h4.8v4.8h-4.8zM585.7 358.2h4.8v4.8h-4.8zM586.8 354h4.8v4.8h-4.8zM588 344.9h4.8v4.8h-4.8z"/>
<path fill="#ffff99" d="M353.7 408.1l1.8 3.6h-3.6zM354.8 402.6l1.8 3.6h-3.6zM356 399.8l1.8 3.6h-3.6zM357.1 398.4l1.8 3.6h-3.6zM358.2 397.6l1.8 3.6h-3.6zM359.3 396.6l1.8 3.6h-3.6zM360.5 396.1l1.8 3.6h-3.6zM361.6 396.1l1.8 3.6h-3.6zM362.7 395.3l1.8 3.6h-3.6zM363.8 395.1l1.8 3.6h-3.6zM365 394.2l1.8 3.6h-3.6zM366.1 393.9l1.8 3.6h-3.6zM367.2 392.7l1.8 3.6h-3.6zM368.4 392.3l1.8 3.6h-3.6zM369.5 392.1l1.8 3.6h-3.6zM370.6 392l1.8 3.6h-3.6zM371.7 391.9l1.8 3.6h-3.6zM372.9 391.6l1.8 3.6h-3.6zM374 391.7l1.8 3.6h-3.6zM375.1 391.9l1.8 3.6h-3.6zM376.2 392l1.8 3.6h-3.6zM377.4 392.1l1.8 3.6h-3.6zM378.5 391.8l1.8 3.6h-3.6zM379.6 391.2l1.8 3.6h-3.6zM380.7 390.3l1.8 3.6h-3.6zM381.9 390l1.8 3.6h-3.6zM383 389.7l1.8 3.6h-3.6zM384.1 389.5l1.8 3.6h-3.6zM385.3 390l1.8 3.6h-3.6zM386.4 389.5l1.8 3.6h-3.6zM387.5 390l1.8 3.6h-3.6zM388.6 389.5l1.8 3.6h-3.6zM389.8 389.9l1.8 3.6h-3.6zM390.9 390.4l1.8 3.6h-3.6zM392 390l1.8 3.6h-3.6zM393.1 389.7l1.8 3.6h-3.6zM394.3 389.2l1.8 3.6h-3.6zM395.4 388.8l1.8 3.6h-3.6zM396.5 388.4l1.8 3.6h-3.6zM397.7 387.3l1.8 3.6h-3.6zM398.8 387.2l1.8 3.6h-3.6zM399.9 387.5l1.8 3.6h-3.6zM401 387.8l1.8 3.6h-3.6zM402.2 387.3l1.8 3.6h-3.6zM403.3 387.3l1.8 3.6h-3.6zM404.4 387.7l1.8 3.6h-3.6zM405.5 387.8l1.8 3.6h-3.6zM406.7 387.5l1.8 3.6h-3.6zM407.8 386.9l1.8 3.6h-3.6zM408.9 387.4l1.8 3.6h-3.6zM410.1 387.1l1.8 3.6h-3.6zM411.2 386.4l1.8 3.6h-3.6zM412.3 385.6l1.8 3.6h-3.6zM413.4 386.1l1.8 3.6h-3.6zM414.6 386.5l1.8 3.6h-3.6zM415.7 386.1l1.8 3.6h-3.6zM416.8 384.9l1.8 3.6h-3.6zM417.9 384.2l1.8 3.6h-3.6zM419.1 384.3l1.8 3.6h-3.6zM420.2 385l1.8 3.6h-3.6zM421.3 385.3l1.8 3.6h-3.6zM422.4 386.3l1.8 3.6h-3.6zM423.6 386.3l1.8 3.6h-3.6zM424.7 386.2l1.8 3.6h-3.6zM425.8 385.9l1.8 3.6h-3.6zM427 385.2l1.8 3.6h-3.6zM428.1 384.7l1.8 3.6h-3.6zM429.2 384.2l1.8 3.6h-3.6zM430.3 384.7l1.8 3.6h-3.6zM431.5 384.5l1.8 3.6h-3.6zM432.6 384.7l1.8 3.6h-3.6zM433.7 384.6l1.8 3.6h-3.6zM434.8 384.8l1.8 3.6h-3.6zM436 384.5l1.8 3.6h-3.6zM437.1 384l1.8 3.6h-3.6zM438.2 384.1l1.8 3.6h-3.6zM439.4 384.2l1.8 3.6h-3.6zM440.5 383.9l1.8 3.6h-3.6zM441.6 384.1l1.8 3.6h-3.6zM442.7 384.1l1.8 3.6h-3.6zM443.9 384.5l1.8 3.6h-3.6zM445 383.4l1.8 3.6h-3.6zM446.1 382.5l1.8 3.6h-3.6zM447.2 382.3l1.8 3.6h-3.6zM448.4 382.6l1.8 3.6h-3.6zM449.5 382.9l1.8 3.6h-3.6zM450.6 382.3l1.8 3.6h-3.6zM451.7 382l1.8 3.6h-3.6zM452.9 382l1.8 3.6h-3.6zM454 381.9l1.8 3.6h-3.6zM455.1 382l1.8 3.6h-3.6zM456.3 382.2l1.8 3.6h-3.6zM457.4 381.9l1.8 3.6h-3.6zM458.5 382.4l1.8 3.6h-3.6zM459.6 381.4l1.8 3.6h-3.6zM460.8 382.5l1.8 3.6h-3.6zM461.9 381.6l1.8 3.6h-3.6zM463 382.4l1.8 3.6h-3.6zM464.1 381.8l1.8 3.6h-3.6zM465.3 382.1l1.8 3.6h-3.6zM466.4 382.1l1.8 3.6h-3.6zM467.5 381.6l1.8 3.6h-3.6zM468.7 381l1.8 3.6h-3.6zM469.8 380.7l1.8 3.6h-3.6zM470.9 381l1.8 3.6h-3.6zM472 381.3l1.8 3.6h-3.6zM473.2 380.6l1.8 3.6h-3.6zM474.3 379.9l1.8 3.6h-3.6zM475.4 380.1l1.8 3.6h-3.6zM476.5 380.6l1.8 3.6h-3.6zM477.7 381l1.8 3.6h-3.6zM478.8 381l1.8 3.6h-3.6zM479.9 381l1.8 3.6h-3.6zM481.1 379.9l1.8 3.6h-3.6zM482.2 380.3l1.8 3.6h-3.6zM483.3 380l1.8 3.6h-3.6zM484.4 380.9l1.8 3.6h-3.6zM485.6 379.9l1.8 3.6h-3.6zM486.7 379.8l1.8 3.6h-3.6zM487.8 379.4l1.8 3.6h-3.6zM488.9 379.9l1.8 3.6h-3.6zM490.1 380.3l1.8 3.6h-3.6zM491.2 380.4l1.8 3.6h-3.6zM492.3 380.4l1.8 3.6h-3.6zM493.4 379.7l1.8 3.6h-3.6zM494.6 379.6l1.8 3.6h-3.6zM495.7 378.7l1.8 3.6h-3.6zM496.8 379.1l1.8 3.6h-3.6zM498 378.8l1.8 3.6h-3.6zM499.1 379.2l1.8 3.6h-3.6zM500.2 379.2l1.8 3.6h-3.6zM501.3 378.4l1.8 3.6h-3.6zM502.5 378.7l1.8 3.6h-3.6zM503.6 378.1l1.8 3.6h-3.6zM504.7 378.6l1.8 3.6h-3.6zM505.8 377.2l1.8 3.6h-3.6zM507 376.9l1.8 3.6h-3.6zM508.1 376.1l1.8 3.6h-3.6zM509.2 376.7l1.8 3.6h-3.6zM510.4 376.6l1.8 3.6h-3.6zM511.5 377.8l1.8 3.6h-3.6zM512.6 377.6l1.8 3.6h-3.6zM513.7 377.8l1.8 3.6h-3.6zM514.9 377.5l1.8 3.6h-3.6zM516 378.2l1.8 3.6h-3.6zM517.1 377.6l1.8 3.6h-3.6zM518.2 377.4l1.8 3.6h-3.6zM519.4 376.1l1.8 3.6h-3.6zM520.5 375.8l1.8 3.6h-3.6zM521.6 375.3l1.8 3.6h-3.6zM522.8 375.7l1.8 3.6h-3.6zM523.9 375.5l1.8 3.6h-3.6zM525 375.4l1.8 3.6h-3.6zM526.1 375.5l1.8 3.6h-3.6zM527.3 375.6l1.8 3.6h-3.6zM528.4 375.6l1.8 3.6h-3.6zM529.5 375l1.8 3.6h-3.6zM530.6 375.5l1.8 3.6h-3.6zM531.8 376l1.8 3.6h-3.6zM532.9 376.2l1.8 3.6h-3.6zM534 375.7l1.8 3.6h-3.6zM535.1 375.5l1.8 3.6h-3.6zM536.3 375.5l1.8 3.6h-3.6zM537.4 375.2l1.8 3.6h-3.6zM538.5 374.1l1.8 3.6h-3.6zM539.7 373.7l1.8 3.6h-3.6zM540.8 374.5l1.8 3.6h-3.6zM541.9 374.6l1.8 3.6h-3.6zM543 375.6l1.8 3.6h-3.6zM544.2 374.8l1.8 3.6h-3.6zM545.3 374.9l1.8 3.6h-3.6zM546.4 374.3l1.8 3.6h-3.6zM547.5 374.1l1.8 3.6h-3.6zM548.7 374.2l1.8 3.6h-3.6zM549.8 373.4l1.8 3.6h-3.6zM550.9 373l1.8 3.6h-3.6zM552.1 372.5l1.8 3.6h-3.6zM553.2 372.8l1.8 3.6h-3.6zM554.3 372.9l1.8 3.6h-3.6zM555.4 372.4l1.8 3.6h-3.6zM556.6 372.4l1.8 3.6h-3.6zM557.7 372.4l1.8 3.6h-3.6zM558.8 372.9l1.8 3.6h-3.6zM559.9 372.4l1.8 3.6h-3.6zM561.1 371.6l1.8 3.6h-3.6zM562.2 372.1l1.8 3.6h-3.6zM563.3 372l1.8 3.6h-3.6zM564.4 372.7l1.8 3.6h-3.6zM565.6 372.5l1.8 3.6h-3.6zM566.7 372.9l1.8 3.6h-3.6zM567.8 372.6l1.8 3.6h-3.6zM569 371.9l1.8 3.6h-3.6zM570.1 371.4l1.8 3.6h-3.6zM571.2 371.4l1.8 3.6h-3.6zM572.3 371.3l1.8 3.6h-3.6zM573.5 370.7l1.8 3.6h-3.6zM574.6 370.2l1.8 3.6h-3.6zM575.7 369.8l1.8 3.6h-3.6zM576.8 369.7l1.8 3.6h-3.6zM578 369.2l1.8 3.6h-3.6zM579.1 369l1.8 3.6h-3.6zM580.2 368.3l1.8 3.6h-3.6zM581.4 367.8l1.8 3.6h-3.6zM582.5 366.6l1.8 3.6h-3.6zM583.6 365.4l1.8 3.6h-3.6zM584.7 363.7l1.8 3.6h-3.6zM585.9 362.3l1.8 3.6h-3.6zM587 361.1l1.8 3.6h-3.6zM588.1 359.4l1.8 3.6h-3.6zM589.2 355.6l1.8 3.6h-3.6zM590.4 346l1.8 3.6h-3.6z"/>
<path fill="none" stroke="#8ec6ff" stroke-width="0.6" d="M351.1 403.1l5.2 5.2m0 -5.2l-5.2 5.2M352.2 398.2l5.2 5.2m0 -5.2l-5.2 5.2M353.4 396.2l5.2 5.2m0 -5.2l-5.2 5.2M354.5 394.7l5.2 5.2m0 -5.2l-5.2 5.2M355.6 394.8l5.2 5.2m0 -5.2l-5.2 5.2M356.7 395.3l5.2 5.2m0 -5.2l-5.2 5.2M357.9 394.7l5.2 5.2m0 -5.2l-5.2 5.2M359 393.7l5.2 5.2m0 -5.2l-5.2 5.2M360.1 392.7l5.2 5.2m0 -5.2l-5.2 5.2M361.2 394l5.2 5.2m0 -5.2l-5.2 5.2M362.4 393.2l5.2 5.2m0 -5.2l-5.2 5.2M363.5 392l5.2 5.2m0 -5.2l-5.2 5.2M364.6 390.4l5.2 5.2m0 -5.2l-5.2 5.2M365.8 391.3l5.2 5.2m0 -5.2l-5.2 5.2M366.9 391.6l5.2 5.2m0 -5.2l-5.2 5.2M368 391.5l5.2 5.2m0 -5.2l-5.2 5.2M369.1 391.2l5.2 5.2m0 -5.2l-5.2 5.2M370.3 389.8l5.2 5.2m0 -5.2l-5.2 5.2M371.4 388.4l5.2 5.2m0 -5.2l-5.2 5.2M372.5 387.8l5.2 5.2m0 -5.2l-5.2 5.2M373.6 389.1l5.2 5.2m0 -5.2l-5.2 5.2M374.8 389.4l5.2 5.2m0 -5.2l-5.2 5.2M375.9 389l5.2 5.2m0 -5.2l-5.2 5.2M377 388.5l5.2 5.2m0 -5.2l-5.2 5.2M378.1 389.2l5.2 5.2m0 -5.2l-5.2 5.2M379.3 388.4l5.2 5.2m0 -5.2l-5.2 5.2M380.4 388l5.2 5.2m0 -5.2l-5.2 5.2M381.5 387.3l5.2 5.2m0 -5.2l-5.2 5.2M382.7 387.6l5.2 5.2m0 -5.2l-5.2 5.2M383.8 387.5l5.2 5.2m0 -5.2l-5.2 5.2M384.9 388.7l5.2 5.2m0 -5.2l-5.2 5.2M386 388.8l5.2 5.2m0 -5.2l-5.2 5.2M387.2 387.9l5.2 5.2m0 -5.2l-5.2 5.2M388.3 387.1l5.2 5.2m0 -5.2l-5.2 5.2M389.4 387.3l5.2 5.2m0 -5.2l-5.2 5.2M390.5 388.1l5.2 5.2m0 -5.2l-5.2 5.2M391.7 388.3l5.2 5.2m0 -5.2l-5.2 5.2M392.8 387.3l5.2 5.2m0 -5.2l-5.2 5.2M393.9 387.4l5.2 5.2m0 -5.2l-5.2 5.2M395.1 386.2l5.2 5.2m0 -5.2l-5.2 5.2M396.2 386.4l5.2 5.2m0 -5.2l-5.2 5.2M397.3 385.2l5.2 5.2m0 -5.2l-5.2 5.2M398.4 386.1l5.2 5.2m0 -5.2l-5.2 5.2M399.6 384.8l5.2 5.2m0 -5.2l-5.2 5.2M400.7 384.3l5.2 5.2m0 -5.2l-5.2 5.2M401.8 383.7l5.2 5.2m0 -5.2l-5.2 5.2M402.9 384.3l5.2 5.2m0 -5.2l-5.2 5.2M404.1 385.3l5.2 5.2m0 -5.2l-5.2 5.2M405.2 385.1l5.2 5.2m0 -5.2l-5.2 5.2M406.3 385.1l5.2 5.2m0 -5.2l-5.2 5.2M407.4 384.4l5.2 5.2m0 -5.2l-5.2 5.2M408.6 384.2l5.2 5.2m0 -5.2l-5.2 5.2M409.7 384.3l5.2 5.2m0 -5.2l-5.2 5.2M410.8 384.9l5.2 5.2m0 -5.2l-5.2 5.2M412 385.7l5.2 5.2m0 -5.2l-5.2 5.2M413.1 385l5.2 5.2m0 -5.2l-5.2 5.2M414.2 384.7l5.2 5.2m0 -5.2l-5.2 5.2M415.3 383.8l5.2 5.2m0 -5.2l-5.2 5.2M416.5 383.9l5.2 5.2m0 -5.2l-5.2 5.2M417.6 383.2l5.2 5.2m0 -5.2l-5.2 5.2M418.7 382.5l5.2 5.2m0 -5.2l-5.2 5.2M419.8 383.2l5.2 5.2m0 -5.2l-5.2 5.2M421 383.5l5.2 5.2m0 -5.2l-5.2 5.2M422.1 384l5.2 5.2m0 -5.2l-5.2 5.2M423.2 383l5.2 5.2m0 -5.2l-5.2 5.2M424.4 383.3l5.2 5.2m0 -5.2l-5.2 5.2M425.5 382.5l5.2 5.2m0 -5.2l-5.2 5.2M426.6 382.4l5.2 5.2m0 -5.2l-5.2 5.2M427.7 382.1l5.2 5.2m0 -5.2l-5.2 5.2M428.9 382.4l5.2 5.2m0 -5.2l-5.2 5.2M430 383.5l5.2 5.2m0 -5.2l-5.2 5.2M431.1 382.5l5.2 5.2m0 -5.2l-5.2 5.2M432.2 382.6l5.2 5.2m0 -5.2l-5.2 5.2M433.4 382.6l5.2 5.2m0 -5.2l-5.2 5.2M434.5 384l5.2 5.2m0 -5.2l-5.2 5.2M435.6 383.5l5.2 5.2m0 -5.2l-5.2 5.2M436.8 382.2l5.2 5.2m0 -5.2l-5.2 5.2M437.9 381.2l5.2 5.2m0 -5.2l-5.2 5.2M439 381.4l5.2 5.2m0 -5.2l-5.2 5.2M440.1 381.8l5.2 5.2m0 -5.2l-5.2 5.2M441.3 382.1l5.2 5.2m0 -5.2l-5.2 5.2M442.4 382.1l5.2 5.2m0 -5.2l-5.2 5.2M443.5 381.4l5.2 5.2m0 -5.2l-5.2 5.2M444.6 380.5l5.2 5.2m0 -5.2l-5.2 5.2M445.8 379.5l5.2 5.2m0 -5.2l-5.2 5.2M446.9 379.3l5.2 5.2m0 -5.2l-5.2 5.2M448 379.7l5.2 5.2m0 -5.2l-5.2 5.2M449.1 380.4l5.2 5.2m0 -5.2l-5.2 5.2M450.3 382.2l5.2 5.2m0 -5.2l-5.2 5.2M451.4 382.4l5.2 5.2m0 -5.2l-5.2 5.2M452.5 382.2l5.2 5.2m0 -5.2l-5.2 5.2M453.7 381.5l5.2 5.2m0 -5.2l-5.2 5.2M454.8 380.8l5.2 5.2m0 -5.2l-5.2 5.2M455.9 380.8l5.2 5.2m0 -5.2l-5.2 5.2M457 380.5l5.2 5.2m0 -5.2l-5.2 5.2M458.2 381.2l5.2 5.2m0 -5.2l-5.2 5.2M459.3 381.1l5.2 5.2m0 -5.2l-5.2 5.2M460.4 380.3l5.2 5.2m0 -5.2l-5.2 5.2M461.5 379.2l5.2 5.2m0 -5.2l-5.2 5.2M462.7 378.8l5.2 5.2m0 -5.2l-5.2 5.2M463.8 378.6l5.2 5.2m0 -5.2l-5.2 5.2M464.9 379.5l5.2 5.2m0 -5.2l-5.2 5.2M466.1 379.4l5.2 5.2m0 -5.2l-5.2 5.2M467.2 379.8l5.2 5.2m0 -5.2l-5.2 5.2M468.3 378.6l5.2 5.2m0 -5.2l-5.2 5.2M469.4 379l5.2 5.2m0 -5.2l-5.2 5.2M470.6 378.2l5.2 5.2m0 -5.2l-5.2 5.2M471.7 378.1l5.2 5.2m0 -5.2l-5.2 5.2M472.8 376.8l5.2 5.2m0 -5.2l-5.2 5.2M473.9 376.9l5.2 5.2m0 -5.2l-5.2 5.2M475.1 378.1l5.2 5.2m0 -5.2l-5.2 5.2M476.2 379.1l5.2 5.2m0 -5.2l-5.2 5.2M477.3 378.7l5.2 5.2m0 -5.2l-5.2 5.2M478.5 378.1l5.2 5.2m0 -5.2l-5.2 5.2M479.6 377.5l5.2 5.2m0 -5.2l-5.2 5.2M480.7 377.2l5.2 5.2m0 -5.2l-5.2 5.2M481.8 376.6l5.2 5.2m0 -5.2l-5.2 5.2M483 375.5l5.2 5.2m0 -5.2l-5.2 5.2M484.1 375.8l5.2 5.2m0 -5.2l-5.2 5.2M485.2 374.8l5.2 5.2m0 -5.2l-5.2 5.2M486.3 375.4l5.2 5.2m0 -5.2l-5.2 5.2M487.5 375.2l5.2 5.2m0 -5.2l-5.2 5.2M488.6 376.1l5.2 5.2m0 -5.2l-5.2 5.2M489.7 376l5.2 5.2m0 -5.2l-5.2 5.2M490.8 376.9l5.2 5.2m0 -5.2l-5.2 5.2M492 377l5.2 5.2m0 -5.2l-5.2 5.2M493.1 377.5l5.2 5.2m0 -5.2l-5.2 5.2M494.2 377.2l5.2 5.2m0 -5.2l-5.2 5.2M495.4 377.7l5.2 5.2m0 -5.2l-5.2 5.2M496.5 377.8l5.2 5.2m0 -5.2l-5.2 5.2M497.6 377.1l5.2 5.2m0 -5.2l-5.2 5.2M498.7 376l5.2 5.2m0 -5.2l-5.2 5.2M499.9 375.1l5.2 5.2m0 -5.2l-5.2 5.2M501 375.1l5.2 5.2m0 -5.2l-5.2 5.2M502.1 375.5l5.2 5.2m0 -5.2l-5.2 5.2M503.2 375.8l5.2 5.2m0 -5.2l-5.2 5.2M504.4 376.5l5.2 5.2m0 -5.2l-5.2 5.2M505.5 376.3l5.2 5.2m0 -5.2l-5.2 5.2M506.6 377.2l5.2 5.2m0 -5.2l-5.2 5.2M507.8 377.1l5.2 5.2m0 -5.2l-5.2 5.2M508.9 376.8l5.2 5.2m0 -5.2l-5.2 5.2M510 376.2l5.2 5.2m0 -5.2l-5.2 5.2M511.1 374.1l5.2 5.2m0 -5.2l-5.2 5.2M512.3 375l5.2 5.2m0 -5.2l-5.2 5.2M513.4 374.6l5.2 5.2m0 -5.2l-5.2 5.2M514.5 376.2l5.2 5.2m0 -5.2l-5.2 5.2M515.6 374.6l5.2 5.2m0 -5.2l-5.2 5.2M516.8 375.5l5.2 5.2m0 -5.2l-5.2 5.2M517.9 375.1l5.2 5.2m0 -5.2l-5.2 5.2M519 375.8l5.2 5.2m0 -5.2l-5.2 5.2M520.1 375l5.2 5.2m0 -5.2l-5.2 5.2M521.3 374.9l5.2 5.2m0 -5.2l-5.2 5.2M522.4 374.5l5.2 5.2m0 -5.2l-5.2 5.2M523.5 374.1l5.2 5.2m0 -5.2l-5.2 5.2M524.7 373.6l5.2 5.2m0 -5.2l-5.2 5.2M525.8 374.3l5.2 5.2m0 -5.2l-5.2 5.2M526.9 373.9l5.2 5.2m0 -5.2l-5.2 5.2M528 374.9l5.2 5.2m0 -5.2l-5.2 5.2M529.2 373.8l5.2 5.2m0 -5.2l-5.2 5.2M530.3 374.3l5.2 5.2m0 -5.2l-5.2 5.2M531.4 373.8l5.2 5.2m0 -5.2l-5.2 5.2M532.5 375.3l5.2 5.2m0 -5.2l-5.2 5.2M533.7 374.2l5.2 5.2m0 -5.2l-5.2 5.2M534.8 374.9l5.2 5.2m0 -5.2l-5.2 5.2M535.9 374.1l5.2 5.2m0 -5.2l-5.2 5.2M537.1 374.8l5.2 5.2m0 -5.2l-5.2 5.2M538.2 373.4l5.2 5.2m0 -5.2l-5.2 5.2M539.3 373.2l5.2 5.2m0 -5.2l-5.2 5.2M540.4 373l5.2 5.2m0 -5.2l-5.2 5.2M541.6 372.9l5.2 5.2m0 -5.2l-5.2 5.2M542.7 371.9l5.2 5.2m0 -5.2l-5.2 5.2M543.8 371.1l5.2 5.2m0 -5.2l-5.2 5.2M544.9 372.1l5.2 5.2m0 -5.2l-5.2 5.2M546.1 372.7l5.2 5.2m0 -5.2l-5.2 5.2M547.2 373.5l5.2 5.2m0 -5.2l-5.2 5.2M548.3 372.8l5.2 5.2m0 -5.2l-5.2 5.2M549.5 372.7l5.2 5.2m0 -5.2l-5.2 5.2M550.6 372.2l5.2 5.2m0 -5.2l-5.2 5.2M551.7 371.7l5.2 5.2m0 -5.2l-5.2 5.2M552.8 372.2l5.2 5.2m0 -5.2l-5.2 5.2M554 372.1l5.2 5.2m0 -5.2l-5.2 5.2M555.1 372.3l5.2 5.2m0 -5.2l-5.2 5.2M556.2 370.8l5.2 5.2m0 -5.2l-5.2 5.2M557.3 370.8l5.2 5.2m0 -5.2l-5.2 5.2M558.5 370.2l5.2 5.2m0 -5.2l-5.2 5.2M559.6 370.5l5.2 5.2m0 -5.2l-5.2 5.2M560.7 370.7l5.2 5.2m0 -5.2l-5.2 5.2M561.8 370.3l5.2 5.2m0 -5.2l-5.2 5.2M563 370.3l5.2 5.2m0 -5.2l-5.2 5.2M564.1 369.9l5.2 5.2m0 -5.2l-5.2 5.2M565.2 370.9l5.2 5.2m0 -5.2l-5.2 5.2M566.4 370.5l5.2 5.2m0 -5.2l-5.2 5.2M567.5 370.1l5.2 5.2m0 -5.2l-5.2 5.2M568.6 369.4l5.2 5.2m0 -5.2l-5.2 5.2M569.7 368.7l5.2 5.2m0 -5.2l-5.2 5.2M570.9 367.1l5.2 5.2m0 -5.2l-5.2 5.2M572 365.6l5.2 5.2m0 -5.2l-5.2 5.2M573.1 366.1l5.2 5.2m0 -5.2l-5.2 5.2M574.2 366.7l5.2 5.2m0 -5.2l-5.2 5.2M575.4 366.5l5.2 5.2m0 -5.2l-5.2 5.2M576.5 365.4l5.2 5.2m0 -5.2l-5.2 5.2M577.6 364.5l5.2 5.2m0 -5.2l-5.2 5.2M578.8 364.3l5.2 5.2m0 -5.2l-5.2 5.2M579.9 363.7l5.2 5.2m0 -5.2l-5.2 5.2M581 364l5.2 5.2m0 -5.2l-5.2 5.2M582.1 362.6l5.2 5.2m0 -5.2l-5.2 5.2M583.3 361.3l5.2 5.2m0 -5.2l-5.2 5.2M584.4 357.8l5.2 5.2m0 -5.2l-5.2 5.2M585.5 355l5.2 5.2m0 -5.2l-5.2 5.2M586.6 350.1l5.2 5.2m0 -5.2l-5.2 5.2M587.8 340.3l5.2 5.2m0 -5.2l-5.2 5.2"/>
<path fill="#ffff99" d="M590.3 290.1l2.4 4.8h-4.8z"/>
<path fill="#ccffff" d="M590.3 306l2.6 2.6l-2.6 2.6l-2.6 -2.6z"/>
<path fill="#ffff99" d="M354.7 418.8l2.4 4.8h-4.8z"/>
<path fill="#ffff99" d="M354.2 439.9l2.4 4.8h-4.8z"/>
<path fill="rgba(205,232,255,.75)" stroke="#8ec6ff" stroke-width="0.7" d="M588.5 327.9h4.2v4.2h-4.2z"/>
<path fill="rgba(205,232,255,.75)" stroke="#8ec6ff" stroke-width="0.7" d="M588.4 334.4h4.2v4.2h-4.2z"/>
<path fill="#000080" d="M588.9 334a1.7 1.7 0 1 0 3.4 0a1.7 1.7 0 1 0 -3.4 0z"/></g>
<g filter="url(#gs)" opacity="0.92"><text transform="translate(353.7 400.7) scale(0.72 1)" text-anchor="middle" class="xl">0</text>
<text transform="translate(410.1 400.7) scale(0.72 1)" text-anchor="middle" class="xl">50</text>
<text transform="translate(466.4 400.7) scale(0.72 1)" text-anchor="middle" class="xl">100</text>
<text transform="translate(522.8 400.7) scale(0.72 1)" text-anchor="middle" class="xl">150</text>
<text transform="translate(579.1 400.7) scale(0.72 1)" text-anchor="middle" class="xl">200</text></g>
</g>
</svg>
</body></html>
